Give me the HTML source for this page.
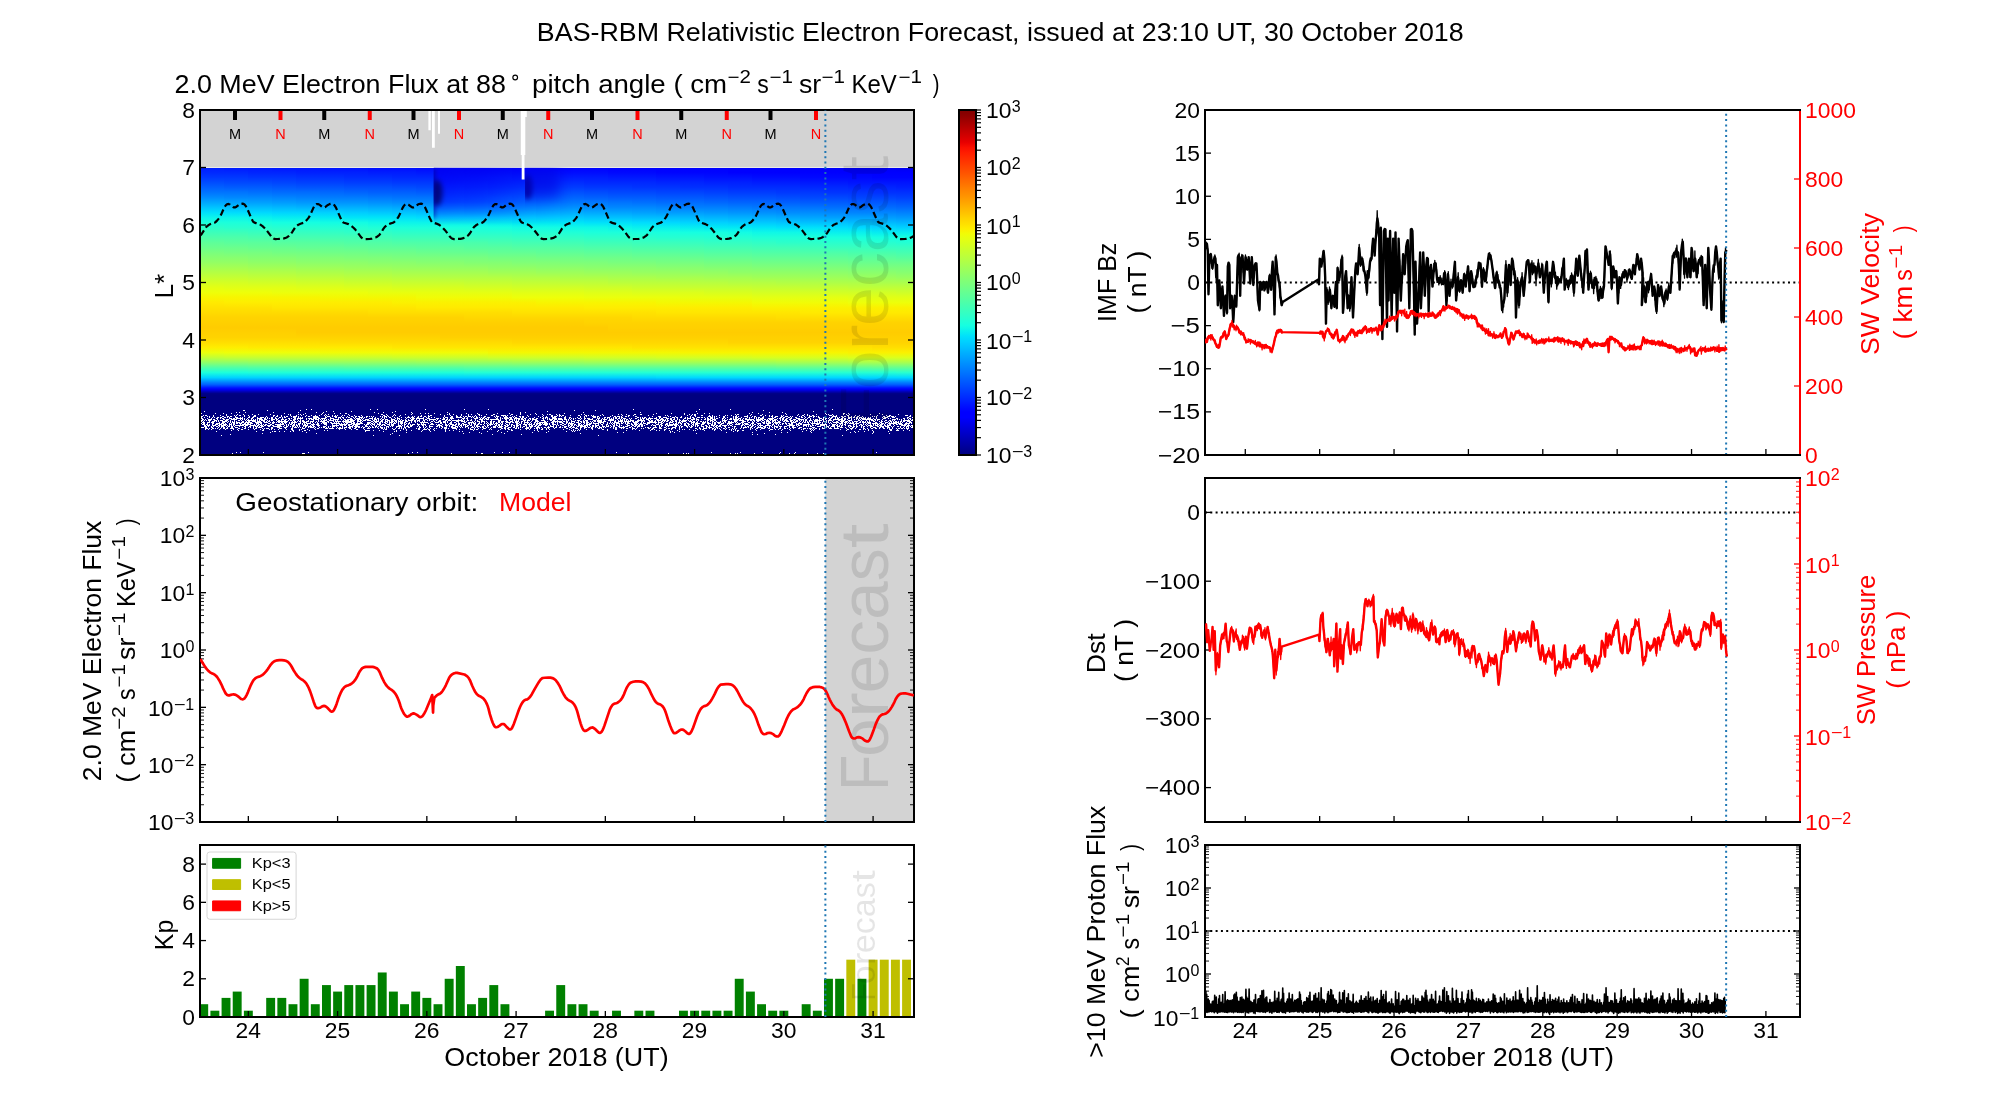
<!DOCTYPE html>
<html><head><meta charset="utf-8"><title>BAS-RBM Relativistic Electron Forecast</title><style>html,body{margin:0;padding:0;background:#fff;overflow:hidden}svg{display:block;will-change:transform}</style></head><body>
<svg width="2000" height="1100" viewBox="0 0 2000 1100" version="1.1">
<defs>
<style type="text/css">*{stroke-linejoin: round; stroke-linecap: butt}</style>
</defs>
<g id="figure_1">
<g id="patch_1">
<path d="M 0 1100 L 2000 1100 L 2000 0 L 0 0 z
" style="fill: #ffffff"/>
</g>
<g id="axes_1">
<g id="patch_2">
<path d="M 200 455 L 914 455 L 914 110 L 200 110 z
" style="fill: #ffffff"/>
</g>
<g id="SPECTRO"><defs><linearGradient id="su0" x1="0" y1="0" x2="0" y2="1"><stop offset="0.000" stop-color="#001cff"/><stop offset="0.023" stop-color="#0028ff"/><stop offset="0.046" stop-color="#0038ff"/><stop offset="0.069" stop-color="#004cff"/><stop offset="0.092" stop-color="#0060ff"/><stop offset="0.115" stop-color="#0074ff"/><stop offset="0.139" stop-color="#008cff"/><stop offset="0.162" stop-color="#00a8ff"/><stop offset="0.185" stop-color="#00c4ff"/><stop offset="0.208" stop-color="#00e0fb"/><stop offset="0.231" stop-color="#0cf4eb"/><stop offset="0.254" stop-color="#1cffdb"/><stop offset="0.277" stop-color="#2cffca"/><stop offset="0.300" stop-color="#3cffba"/><stop offset="0.323" stop-color="#4dffaa"/><stop offset="0.346" stop-color="#5dff9a"/><stop offset="0.370" stop-color="#6aff8d"/><stop offset="0.393" stop-color="#7aff7d"/><stop offset="0.416" stop-color="#87ff70"/><stop offset="0.439" stop-color="#94ff63"/><stop offset="0.462" stop-color="#a4ff53"/><stop offset="0.485" stop-color="#b4ff43"/><stop offset="0.508" stop-color="#c4ff33"/><stop offset="0.531" stop-color="#d4ff23"/><stop offset="0.554" stop-color="#e4ff13"/><stop offset="0.577" stop-color="#eeff09"/><stop offset="0.600" stop-color="#f8f500"/><stop offset="0.624" stop-color="#ffea00"/><stop offset="0.647" stop-color="#ffe200"/><stop offset="0.670" stop-color="#ffdb00"/><stop offset="0.693" stop-color="#ffd300"/><stop offset="0.716" stop-color="#ffd000"/><stop offset="0.739" stop-color="#ffcc00"/><stop offset="0.762" stop-color="#ffd000"/><stop offset="0.785" stop-color="#ffd300"/><stop offset="0.808" stop-color="#ffde00"/><stop offset="0.831" stop-color="#feed00"/><stop offset="0.855" stop-color="#ebff0c"/><stop offset="0.878" stop-color="#c1ff36"/><stop offset="0.901" stop-color="#8dff6a"/><stop offset="0.924" stop-color="#50ffa7"/><stop offset="0.947" stop-color="#1cffdb"/><stop offset="0.970" stop-color="#00d4ff"/><stop offset="0.993" stop-color="#0080ff"/><stop offset="1.000" stop-color="#0068ff"/></linearGradient><linearGradient id="su1" x1="0" y1="0" x2="0" y2="1"><stop offset="0.000" stop-color="#0018ff"/><stop offset="0.023" stop-color="#0028ff"/><stop offset="0.046" stop-color="#0038ff"/><stop offset="0.069" stop-color="#0048ff"/><stop offset="0.092" stop-color="#005cff"/><stop offset="0.115" stop-color="#0074ff"/><stop offset="0.139" stop-color="#0088ff"/><stop offset="0.162" stop-color="#00a4ff"/><stop offset="0.185" stop-color="#00c0ff"/><stop offset="0.208" stop-color="#00dcfe"/><stop offset="0.231" stop-color="#0cf4eb"/><stop offset="0.254" stop-color="#1cffdb"/><stop offset="0.277" stop-color="#29ffce"/><stop offset="0.300" stop-color="#3cffba"/><stop offset="0.323" stop-color="#4dffaa"/><stop offset="0.346" stop-color="#5aff9d"/><stop offset="0.370" stop-color="#6aff8d"/><stop offset="0.393" stop-color="#77ff80"/><stop offset="0.416" stop-color="#87ff70"/><stop offset="0.439" stop-color="#94ff63"/><stop offset="0.462" stop-color="#a4ff53"/><stop offset="0.485" stop-color="#b4ff43"/><stop offset="0.508" stop-color="#c4ff33"/><stop offset="0.531" stop-color="#d4ff23"/><stop offset="0.554" stop-color="#e1ff16"/><stop offset="0.577" stop-color="#eeff09"/><stop offset="0.600" stop-color="#f8f500"/><stop offset="0.624" stop-color="#feed00"/><stop offset="0.647" stop-color="#ffe200"/><stop offset="0.670" stop-color="#ffdb00"/><stop offset="0.693" stop-color="#ffd300"/><stop offset="0.716" stop-color="#ffd000"/><stop offset="0.739" stop-color="#ffcc00"/><stop offset="0.762" stop-color="#ffd000"/><stop offset="0.785" stop-color="#ffd300"/><stop offset="0.808" stop-color="#ffde00"/><stop offset="0.831" stop-color="#feed00"/><stop offset="0.855" stop-color="#eeff09"/><stop offset="0.878" stop-color="#c4ff33"/><stop offset="0.901" stop-color="#8dff6a"/><stop offset="0.924" stop-color="#50ffa7"/><stop offset="0.947" stop-color="#1cffdb"/><stop offset="0.970" stop-color="#00d4ff"/><stop offset="0.993" stop-color="#0080ff"/><stop offset="1.000" stop-color="#0068ff"/></linearGradient><linearGradient id="su2" x1="0" y1="0" x2="0" y2="1"><stop offset="0.000" stop-color="#0018ff"/><stop offset="0.023" stop-color="#0024ff"/><stop offset="0.046" stop-color="#0034ff"/><stop offset="0.069" stop-color="#0048ff"/><stop offset="0.092" stop-color="#005cff"/><stop offset="0.115" stop-color="#0070ff"/><stop offset="0.139" stop-color="#0088ff"/><stop offset="0.162" stop-color="#00a0ff"/><stop offset="0.185" stop-color="#00bcff"/><stop offset="0.208" stop-color="#00d8ff"/><stop offset="0.231" stop-color="#09f0ee"/><stop offset="0.254" stop-color="#19ffde"/><stop offset="0.277" stop-color="#29ffce"/><stop offset="0.300" stop-color="#39ffbe"/><stop offset="0.323" stop-color="#49ffad"/><stop offset="0.346" stop-color="#5aff9d"/><stop offset="0.370" stop-color="#66ff90"/><stop offset="0.393" stop-color="#77ff80"/><stop offset="0.416" stop-color="#83ff73"/><stop offset="0.439" stop-color="#90ff66"/><stop offset="0.462" stop-color="#a0ff56"/><stop offset="0.485" stop-color="#b1ff46"/><stop offset="0.508" stop-color="#c1ff36"/><stop offset="0.531" stop-color="#d1ff26"/><stop offset="0.554" stop-color="#e1ff16"/><stop offset="0.577" stop-color="#eeff09"/><stop offset="0.600" stop-color="#f8f500"/><stop offset="0.624" stop-color="#feed00"/><stop offset="0.647" stop-color="#ffe200"/><stop offset="0.670" stop-color="#ffdb00"/><stop offset="0.693" stop-color="#ffd300"/><stop offset="0.716" stop-color="#ffd000"/><stop offset="0.739" stop-color="#ffcc00"/><stop offset="0.762" stop-color="#ffd000"/><stop offset="0.785" stop-color="#ffd300"/><stop offset="0.808" stop-color="#ffde00"/><stop offset="0.831" stop-color="#ffea00"/><stop offset="0.855" stop-color="#eeff09"/><stop offset="0.878" stop-color="#c4ff33"/><stop offset="0.901" stop-color="#90ff66"/><stop offset="0.924" stop-color="#53ffa4"/><stop offset="0.947" stop-color="#1fffd7"/><stop offset="0.970" stop-color="#00d4ff"/><stop offset="0.993" stop-color="#0080ff"/><stop offset="1.000" stop-color="#0068ff"/></linearGradient><linearGradient id="su3" x1="0" y1="0" x2="0" y2="1"><stop offset="0.000" stop-color="#0014ff"/><stop offset="0.023" stop-color="#0024ff"/><stop offset="0.046" stop-color="#0034ff"/><stop offset="0.069" stop-color="#0044ff"/><stop offset="0.092" stop-color="#0058ff"/><stop offset="0.115" stop-color="#006cff"/><stop offset="0.139" stop-color="#0084ff"/><stop offset="0.162" stop-color="#009cff"/><stop offset="0.185" stop-color="#00b8ff"/><stop offset="0.208" stop-color="#00d4ff"/><stop offset="0.231" stop-color="#06ecf1"/><stop offset="0.254" stop-color="#16ffe1"/><stop offset="0.277" stop-color="#26ffd1"/><stop offset="0.300" stop-color="#36ffc1"/><stop offset="0.323" stop-color="#46ffb1"/><stop offset="0.346" stop-color="#56ffa0"/><stop offset="0.370" stop-color="#66ff90"/><stop offset="0.393" stop-color="#73ff83"/><stop offset="0.416" stop-color="#83ff73"/><stop offset="0.439" stop-color="#90ff66"/><stop offset="0.462" stop-color="#a0ff56"/><stop offset="0.485" stop-color="#b1ff46"/><stop offset="0.508" stop-color="#c1ff36"/><stop offset="0.531" stop-color="#d1ff26"/><stop offset="0.554" stop-color="#e1ff16"/><stop offset="0.577" stop-color="#ebff0c"/><stop offset="0.600" stop-color="#f8f500"/><stop offset="0.624" stop-color="#feed00"/><stop offset="0.647" stop-color="#ffe600"/><stop offset="0.670" stop-color="#ffdb00"/><stop offset="0.693" stop-color="#ffd300"/><stop offset="0.716" stop-color="#ffd000"/><stop offset="0.739" stop-color="#ffcc00"/><stop offset="0.762" stop-color="#ffd000"/><stop offset="0.785" stop-color="#ffd300"/><stop offset="0.808" stop-color="#ffde00"/><stop offset="0.831" stop-color="#ffea00"/><stop offset="0.855" stop-color="#eeff09"/><stop offset="0.878" stop-color="#c4ff33"/><stop offset="0.901" stop-color="#90ff66"/><stop offset="0.924" stop-color="#53ffa4"/><stop offset="0.947" stop-color="#1fffd7"/><stop offset="0.970" stop-color="#00d4ff"/><stop offset="0.993" stop-color="#0080ff"/><stop offset="1.000" stop-color="#0068ff"/></linearGradient><linearGradient id="su4" x1="0" y1="0" x2="0" y2="1"><stop offset="0.000" stop-color="#0014ff"/><stop offset="0.023" stop-color="#0020ff"/><stop offset="0.046" stop-color="#0030ff"/><stop offset="0.069" stop-color="#0040ff"/><stop offset="0.092" stop-color="#0054ff"/><stop offset="0.115" stop-color="#006cff"/><stop offset="0.139" stop-color="#0080ff"/><stop offset="0.162" stop-color="#0098ff"/><stop offset="0.185" stop-color="#00b4ff"/><stop offset="0.208" stop-color="#00d4ff"/><stop offset="0.231" stop-color="#06ecf1"/><stop offset="0.254" stop-color="#16ffe1"/><stop offset="0.277" stop-color="#26ffd1"/><stop offset="0.300" stop-color="#36ffc1"/><stop offset="0.323" stop-color="#46ffb1"/><stop offset="0.346" stop-color="#56ffa0"/><stop offset="0.370" stop-color="#63ff94"/><stop offset="0.393" stop-color="#73ff83"/><stop offset="0.416" stop-color="#80ff77"/><stop offset="0.439" stop-color="#8dff6a"/><stop offset="0.462" stop-color="#9dff5a"/><stop offset="0.485" stop-color="#adff49"/><stop offset="0.508" stop-color="#beff39"/><stop offset="0.531" stop-color="#ceff29"/><stop offset="0.554" stop-color="#deff19"/><stop offset="0.577" stop-color="#ebff0c"/><stop offset="0.600" stop-color="#f8f500"/><stop offset="0.624" stop-color="#feed00"/><stop offset="0.647" stop-color="#ffe600"/><stop offset="0.670" stop-color="#ffdb00"/><stop offset="0.693" stop-color="#ffd300"/><stop offset="0.716" stop-color="#ffd000"/><stop offset="0.739" stop-color="#ffcc00"/><stop offset="0.762" stop-color="#ffcc00"/><stop offset="0.785" stop-color="#ffd300"/><stop offset="0.808" stop-color="#ffde00"/><stop offset="0.831" stop-color="#ffea00"/><stop offset="0.855" stop-color="#eeff09"/><stop offset="0.878" stop-color="#c4ff33"/><stop offset="0.901" stop-color="#90ff66"/><stop offset="0.924" stop-color="#53ffa4"/><stop offset="0.947" stop-color="#1fffd7"/><stop offset="0.970" stop-color="#00d4ff"/><stop offset="0.993" stop-color="#0080ff"/><stop offset="1.000" stop-color="#0068ff"/></linearGradient><linearGradient id="su5" x1="0" y1="0" x2="0" y2="1"><stop offset="0.000" stop-color="#0010ff"/><stop offset="0.023" stop-color="#0020ff"/><stop offset="0.046" stop-color="#0030ff"/><stop offset="0.069" stop-color="#0040ff"/><stop offset="0.092" stop-color="#0054ff"/><stop offset="0.115" stop-color="#0068ff"/><stop offset="0.139" stop-color="#007cff"/><stop offset="0.162" stop-color="#0094ff"/><stop offset="0.185" stop-color="#00b0ff"/><stop offset="0.208" stop-color="#00d0ff"/><stop offset="0.231" stop-color="#02e8f4"/><stop offset="0.254" stop-color="#13fce4"/><stop offset="0.277" stop-color="#23ffd4"/><stop offset="0.300" stop-color="#33ffc4"/><stop offset="0.323" stop-color="#43ffb4"/><stop offset="0.346" stop-color="#53ffa4"/><stop offset="0.370" stop-color="#63ff94"/><stop offset="0.393" stop-color="#70ff87"/><stop offset="0.416" stop-color="#80ff77"/><stop offset="0.439" stop-color="#8dff6a"/><stop offset="0.462" stop-color="#9dff5a"/><stop offset="0.485" stop-color="#adff49"/><stop offset="0.508" stop-color="#beff39"/><stop offset="0.531" stop-color="#ceff29"/><stop offset="0.554" stop-color="#deff19"/><stop offset="0.577" stop-color="#ebff0c"/><stop offset="0.600" stop-color="#f4f802"/><stop offset="0.624" stop-color="#feed00"/><stop offset="0.647" stop-color="#ffe600"/><stop offset="0.670" stop-color="#ffdb00"/><stop offset="0.693" stop-color="#ffd300"/><stop offset="0.716" stop-color="#ffd000"/><stop offset="0.739" stop-color="#ffcc00"/><stop offset="0.762" stop-color="#ffcc00"/><stop offset="0.785" stop-color="#ffd300"/><stop offset="0.808" stop-color="#ffdb00"/><stop offset="0.831" stop-color="#ffea00"/><stop offset="0.855" stop-color="#f1fc06"/><stop offset="0.878" stop-color="#c7ff30"/><stop offset="0.901" stop-color="#94ff63"/><stop offset="0.924" stop-color="#53ffa4"/><stop offset="0.947" stop-color="#1fffd7"/><stop offset="0.970" stop-color="#00d4ff"/><stop offset="0.993" stop-color="#0080ff"/><stop offset="1.000" stop-color="#0068ff"/></linearGradient><linearGradient id="su6" x1="0" y1="0" x2="0" y2="1"><stop offset="0.000" stop-color="#0010ff"/><stop offset="0.023" stop-color="#0020ff"/><stop offset="0.046" stop-color="#002cff"/><stop offset="0.069" stop-color="#003cff"/><stop offset="0.092" stop-color="#0050ff"/><stop offset="0.115" stop-color="#0064ff"/><stop offset="0.139" stop-color="#007cff"/><stop offset="0.162" stop-color="#0094ff"/><stop offset="0.185" stop-color="#00b0ff"/><stop offset="0.208" stop-color="#00ccff"/><stop offset="0.231" stop-color="#00e4f8"/><stop offset="0.254" stop-color="#13fce4"/><stop offset="0.277" stop-color="#23ffd4"/><stop offset="0.300" stop-color="#30ffc7"/><stop offset="0.323" stop-color="#43ffb4"/><stop offset="0.346" stop-color="#50ffa7"/><stop offset="0.370" stop-color="#60ff97"/><stop offset="0.393" stop-color="#70ff87"/><stop offset="0.416" stop-color="#7dff7a"/><stop offset="0.439" stop-color="#8dff6a"/><stop offset="0.462" stop-color="#9aff5d"/><stop offset="0.485" stop-color="#aaff4d"/><stop offset="0.508" stop-color="#baff3c"/><stop offset="0.531" stop-color="#caff2c"/><stop offset="0.554" stop-color="#dbff1c"/><stop offset="0.577" stop-color="#ebff0c"/><stop offset="0.600" stop-color="#f4f802"/><stop offset="0.624" stop-color="#feed00"/><stop offset="0.647" stop-color="#ffe600"/><stop offset="0.670" stop-color="#ffdb00"/><stop offset="0.693" stop-color="#ffd300"/><stop offset="0.716" stop-color="#ffd000"/><stop offset="0.739" stop-color="#ffcc00"/><stop offset="0.762" stop-color="#ffcc00"/><stop offset="0.785" stop-color="#ffd300"/><stop offset="0.808" stop-color="#ffdb00"/><stop offset="0.831" stop-color="#ffea00"/><stop offset="0.855" stop-color="#f1fc06"/><stop offset="0.878" stop-color="#c7ff30"/><stop offset="0.901" stop-color="#94ff63"/><stop offset="0.924" stop-color="#56ffa0"/><stop offset="0.947" stop-color="#1fffd7"/><stop offset="0.970" stop-color="#00d4ff"/><stop offset="0.993" stop-color="#0080ff"/><stop offset="1.000" stop-color="#0068ff"/></linearGradient><linearGradient id="su7" x1="0" y1="0" x2="0" y2="1"><stop offset="0.000" stop-color="#000cff"/><stop offset="0.023" stop-color="#001cff"/><stop offset="0.046" stop-color="#002cff"/><stop offset="0.069" stop-color="#003cff"/><stop offset="0.092" stop-color="#0050ff"/><stop offset="0.115" stop-color="#0060ff"/><stop offset="0.139" stop-color="#0078ff"/><stop offset="0.162" stop-color="#0090ff"/><stop offset="0.185" stop-color="#00acff"/><stop offset="0.208" stop-color="#00c8ff"/><stop offset="0.231" stop-color="#00e4f8"/><stop offset="0.254" stop-color="#0ff8e7"/><stop offset="0.277" stop-color="#1fffd7"/><stop offset="0.300" stop-color="#30ffc7"/><stop offset="0.323" stop-color="#40ffb7"/><stop offset="0.346" stop-color="#50ffa7"/><stop offset="0.370" stop-color="#5dff9a"/><stop offset="0.393" stop-color="#6dff8a"/><stop offset="0.416" stop-color="#7dff7a"/><stop offset="0.439" stop-color="#8aff6d"/><stop offset="0.462" stop-color="#9aff5d"/><stop offset="0.485" stop-color="#aaff4d"/><stop offset="0.508" stop-color="#baff3c"/><stop offset="0.531" stop-color="#caff2c"/><stop offset="0.554" stop-color="#dbff1c"/><stop offset="0.577" stop-color="#e7ff0f"/><stop offset="0.600" stop-color="#f4f802"/><stop offset="0.624" stop-color="#feed00"/><stop offset="0.647" stop-color="#ffe600"/><stop offset="0.670" stop-color="#ffde00"/><stop offset="0.693" stop-color="#ffd300"/><stop offset="0.716" stop-color="#ffd000"/><stop offset="0.739" stop-color="#ffcc00"/><stop offset="0.762" stop-color="#ffcc00"/><stop offset="0.785" stop-color="#ffd300"/><stop offset="0.808" stop-color="#ffdb00"/><stop offset="0.831" stop-color="#ffea00"/><stop offset="0.855" stop-color="#f1fc06"/><stop offset="0.878" stop-color="#c7ff30"/><stop offset="0.901" stop-color="#94ff63"/><stop offset="0.924" stop-color="#56ffa0"/><stop offset="0.947" stop-color="#1fffd7"/><stop offset="0.970" stop-color="#00d4ff"/><stop offset="0.993" stop-color="#0080ff"/><stop offset="1.000" stop-color="#0068ff"/></linearGradient><linearGradient id="su8" x1="0" y1="0" x2="0" y2="1"><stop offset="0.000" stop-color="#000cff"/><stop offset="0.023" stop-color="#001cff"/><stop offset="0.046" stop-color="#0028ff"/><stop offset="0.069" stop-color="#0038ff"/><stop offset="0.092" stop-color="#004cff"/><stop offset="0.115" stop-color="#0060ff"/><stop offset="0.139" stop-color="#0074ff"/><stop offset="0.162" stop-color="#008cff"/><stop offset="0.185" stop-color="#00a8ff"/><stop offset="0.208" stop-color="#00c4ff"/><stop offset="0.231" stop-color="#00e0fb"/><stop offset="0.254" stop-color="#0cf4eb"/><stop offset="0.277" stop-color="#1cffdb"/><stop offset="0.300" stop-color="#2cffca"/><stop offset="0.323" stop-color="#3cffba"/><stop offset="0.346" stop-color="#4dffaa"/><stop offset="0.370" stop-color="#5dff9a"/><stop offset="0.393" stop-color="#6dff8a"/><stop offset="0.416" stop-color="#7aff7d"/><stop offset="0.439" stop-color="#8aff6d"/><stop offset="0.462" stop-color="#97ff60"/><stop offset="0.485" stop-color="#a7ff50"/><stop offset="0.508" stop-color="#b7ff40"/><stop offset="0.531" stop-color="#c7ff30"/><stop offset="0.554" stop-color="#d7ff1f"/><stop offset="0.577" stop-color="#e7ff0f"/><stop offset="0.600" stop-color="#f4f802"/><stop offset="0.624" stop-color="#fbf100"/><stop offset="0.647" stop-color="#ffe600"/><stop offset="0.670" stop-color="#ffde00"/><stop offset="0.693" stop-color="#ffd300"/><stop offset="0.716" stop-color="#ffd000"/><stop offset="0.739" stop-color="#ffcc00"/><stop offset="0.762" stop-color="#ffcc00"/><stop offset="0.785" stop-color="#ffd300"/><stop offset="0.808" stop-color="#ffdb00"/><stop offset="0.831" stop-color="#ffe600"/><stop offset="0.855" stop-color="#f1fc06"/><stop offset="0.878" stop-color="#caff2c"/><stop offset="0.901" stop-color="#94ff63"/><stop offset="0.924" stop-color="#56ffa0"/><stop offset="0.947" stop-color="#1fffd7"/><stop offset="0.970" stop-color="#00d4ff"/><stop offset="0.993" stop-color="#0080ff"/><stop offset="1.000" stop-color="#0068ff"/></linearGradient><linearGradient id="su9" x1="0" y1="0" x2="0" y2="1"><stop offset="0.000" stop-color="#0008ff"/><stop offset="0.023" stop-color="#0018ff"/><stop offset="0.046" stop-color="#0028ff"/><stop offset="0.069" stop-color="#0038ff"/><stop offset="0.092" stop-color="#0048ff"/><stop offset="0.115" stop-color="#005cff"/><stop offset="0.139" stop-color="#0074ff"/><stop offset="0.162" stop-color="#0088ff"/><stop offset="0.185" stop-color="#00a4ff"/><stop offset="0.208" stop-color="#00c0ff"/><stop offset="0.231" stop-color="#00dcfe"/><stop offset="0.254" stop-color="#0cf4eb"/><stop offset="0.277" stop-color="#1cffdb"/><stop offset="0.300" stop-color="#2cffca"/><stop offset="0.323" stop-color="#3cffba"/><stop offset="0.346" stop-color="#4dffaa"/><stop offset="0.370" stop-color="#5aff9d"/><stop offset="0.393" stop-color="#6aff8d"/><stop offset="0.416" stop-color="#7aff7d"/><stop offset="0.439" stop-color="#87ff70"/><stop offset="0.462" stop-color="#97ff60"/><stop offset="0.485" stop-color="#a7ff50"/><stop offset="0.508" stop-color="#b7ff40"/><stop offset="0.531" stop-color="#c7ff30"/><stop offset="0.554" stop-color="#d7ff1f"/><stop offset="0.577" stop-color="#e7ff0f"/><stop offset="0.600" stop-color="#f1fc06"/><stop offset="0.624" stop-color="#fbf100"/><stop offset="0.647" stop-color="#ffea00"/><stop offset="0.670" stop-color="#ffde00"/><stop offset="0.693" stop-color="#ffd300"/><stop offset="0.716" stop-color="#ffd000"/><stop offset="0.739" stop-color="#ffcc00"/><stop offset="0.762" stop-color="#ffcc00"/><stop offset="0.785" stop-color="#ffd300"/><stop offset="0.808" stop-color="#ffdb00"/><stop offset="0.831" stop-color="#ffe600"/><stop offset="0.855" stop-color="#f1fc06"/><stop offset="0.878" stop-color="#caff2c"/><stop offset="0.901" stop-color="#97ff60"/><stop offset="0.924" stop-color="#56ffa0"/><stop offset="0.947" stop-color="#1fffd7"/><stop offset="0.970" stop-color="#00d4ff"/><stop offset="0.993" stop-color="#0080ff"/><stop offset="1.000" stop-color="#0068ff"/></linearGradient><linearGradient id="su10" x1="0" y1="0" x2="0" y2="1"><stop offset="0.000" stop-color="#0008ff"/><stop offset="0.023" stop-color="#0018ff"/><stop offset="0.046" stop-color="#0024ff"/><stop offset="0.069" stop-color="#0034ff"/><stop offset="0.092" stop-color="#0048ff"/><stop offset="0.115" stop-color="#005cff"/><stop offset="0.139" stop-color="#0070ff"/><stop offset="0.162" stop-color="#0088ff"/><stop offset="0.185" stop-color="#00a0ff"/><stop offset="0.208" stop-color="#00bcff"/><stop offset="0.231" stop-color="#00d8ff"/><stop offset="0.254" stop-color="#09f0ee"/><stop offset="0.277" stop-color="#19ffde"/><stop offset="0.300" stop-color="#29ffce"/><stop offset="0.323" stop-color="#39ffbe"/><stop offset="0.346" stop-color="#49ffad"/><stop offset="0.370" stop-color="#5aff9d"/><stop offset="0.393" stop-color="#66ff90"/><stop offset="0.416" stop-color="#77ff80"/><stop offset="0.439" stop-color="#87ff70"/><stop offset="0.462" stop-color="#94ff63"/><stop offset="0.485" stop-color="#a4ff53"/><stop offset="0.508" stop-color="#b4ff43"/><stop offset="0.531" stop-color="#c7ff30"/><stop offset="0.554" stop-color="#d7ff1f"/><stop offset="0.577" stop-color="#e4ff13"/><stop offset="0.600" stop-color="#f1fc06"/><stop offset="0.624" stop-color="#fbf100"/><stop offset="0.647" stop-color="#ffea00"/><stop offset="0.670" stop-color="#ffde00"/><stop offset="0.693" stop-color="#ffd300"/><stop offset="0.716" stop-color="#ffd000"/><stop offset="0.739" stop-color="#ffcc00"/><stop offset="0.762" stop-color="#ffcc00"/><stop offset="0.785" stop-color="#ffd000"/><stop offset="0.808" stop-color="#ffdb00"/><stop offset="0.831" stop-color="#ffe600"/><stop offset="0.855" stop-color="#f1fc06"/><stop offset="0.878" stop-color="#caff2c"/><stop offset="0.901" stop-color="#97ff60"/><stop offset="0.924" stop-color="#56ffa0"/><stop offset="0.947" stop-color="#1fffd7"/><stop offset="0.970" stop-color="#00d4ff"/><stop offset="0.993" stop-color="#0080ff"/><stop offset="1.000" stop-color="#0068ff"/></linearGradient><linearGradient id="su11" x1="0" y1="0" x2="0" y2="1"><stop offset="0.000" stop-color="#0004ff"/><stop offset="0.023" stop-color="#0014ff"/><stop offset="0.046" stop-color="#0024ff"/><stop offset="0.069" stop-color="#0034ff"/><stop offset="0.092" stop-color="#0044ff"/><stop offset="0.115" stop-color="#0058ff"/><stop offset="0.139" stop-color="#006cff"/><stop offset="0.162" stop-color="#0084ff"/><stop offset="0.185" stop-color="#009cff"/><stop offset="0.208" stop-color="#00b8ff"/><stop offset="0.231" stop-color="#00d8ff"/><stop offset="0.254" stop-color="#09f0ee"/><stop offset="0.277" stop-color="#19ffde"/><stop offset="0.300" stop-color="#26ffd1"/><stop offset="0.323" stop-color="#36ffc1"/><stop offset="0.346" stop-color="#49ffad"/><stop offset="0.370" stop-color="#56ffa0"/><stop offset="0.393" stop-color="#66ff90"/><stop offset="0.416" stop-color="#77ff80"/><stop offset="0.439" stop-color="#83ff73"/><stop offset="0.462" stop-color="#94ff63"/><stop offset="0.485" stop-color="#a4ff53"/><stop offset="0.508" stop-color="#b4ff43"/><stop offset="0.531" stop-color="#c4ff33"/><stop offset="0.554" stop-color="#d4ff23"/><stop offset="0.577" stop-color="#e4ff13"/><stop offset="0.600" stop-color="#f1fc06"/><stop offset="0.624" stop-color="#fbf100"/><stop offset="0.647" stop-color="#ffea00"/><stop offset="0.670" stop-color="#ffde00"/><stop offset="0.693" stop-color="#ffd700"/><stop offset="0.716" stop-color="#ffd000"/><stop offset="0.739" stop-color="#ffcc00"/><stop offset="0.762" stop-color="#ffcc00"/><stop offset="0.785" stop-color="#ffd000"/><stop offset="0.808" stop-color="#ffdb00"/><stop offset="0.831" stop-color="#ffe600"/><stop offset="0.855" stop-color="#f1fc06"/><stop offset="0.878" stop-color="#caff2c"/><stop offset="0.901" stop-color="#97ff60"/><stop offset="0.924" stop-color="#5aff9d"/><stop offset="0.947" stop-color="#23ffd4"/><stop offset="0.970" stop-color="#00d4ff"/><stop offset="0.993" stop-color="#0080ff"/><stop offset="1.000" stop-color="#0068ff"/></linearGradient><linearGradient id="su12" x1="0" y1="0" x2="0" y2="1"><stop offset="0.000" stop-color="#0004ff"/><stop offset="0.023" stop-color="#0014ff"/><stop offset="0.046" stop-color="#0024ff"/><stop offset="0.069" stop-color="#0030ff"/><stop offset="0.092" stop-color="#0040ff"/><stop offset="0.115" stop-color="#0054ff"/><stop offset="0.139" stop-color="#006cff"/><stop offset="0.162" stop-color="#0080ff"/><stop offset="0.185" stop-color="#0098ff"/><stop offset="0.208" stop-color="#00b4ff"/><stop offset="0.231" stop-color="#00d4ff"/><stop offset="0.254" stop-color="#06ecf1"/><stop offset="0.277" stop-color="#16ffe1"/><stop offset="0.300" stop-color="#26ffd1"/><stop offset="0.323" stop-color="#36ffc1"/><stop offset="0.346" stop-color="#46ffb1"/><stop offset="0.370" stop-color="#56ffa0"/><stop offset="0.393" stop-color="#63ff94"/><stop offset="0.416" stop-color="#73ff83"/><stop offset="0.439" stop-color="#83ff73"/><stop offset="0.462" stop-color="#90ff66"/><stop offset="0.485" stop-color="#a0ff56"/><stop offset="0.508" stop-color="#b4ff43"/><stop offset="0.531" stop-color="#c4ff33"/><stop offset="0.554" stop-color="#d4ff23"/><stop offset="0.577" stop-color="#e4ff13"/><stop offset="0.600" stop-color="#f1fc06"/><stop offset="0.624" stop-color="#fbf100"/><stop offset="0.647" stop-color="#ffea00"/><stop offset="0.670" stop-color="#ffde00"/><stop offset="0.693" stop-color="#ffd700"/><stop offset="0.716" stop-color="#ffd000"/><stop offset="0.739" stop-color="#ffcc00"/><stop offset="0.762" stop-color="#ffcc00"/><stop offset="0.785" stop-color="#ffd000"/><stop offset="0.808" stop-color="#ffdb00"/><stop offset="0.831" stop-color="#ffe600"/><stop offset="0.855" stop-color="#f4f802"/><stop offset="0.878" stop-color="#ceff29"/><stop offset="0.901" stop-color="#97ff60"/><stop offset="0.924" stop-color="#5aff9d"/><stop offset="0.947" stop-color="#23ffd4"/><stop offset="0.970" stop-color="#00d4ff"/><stop offset="0.993" stop-color="#0080ff"/><stop offset="1.000" stop-color="#0068ff"/></linearGradient><linearGradient id="su13" x1="0" y1="0" x2="0" y2="1"><stop offset="0.000" stop-color="#0000ff"/><stop offset="0.023" stop-color="#0010ff"/><stop offset="0.046" stop-color="#0020ff"/><stop offset="0.069" stop-color="#0030ff"/><stop offset="0.092" stop-color="#0040ff"/><stop offset="0.115" stop-color="#0054ff"/><stop offset="0.139" stop-color="#0068ff"/><stop offset="0.162" stop-color="#0080ff"/><stop offset="0.185" stop-color="#0098ff"/><stop offset="0.208" stop-color="#00b4ff"/><stop offset="0.231" stop-color="#00d0ff"/><stop offset="0.254" stop-color="#02e8f4"/><stop offset="0.277" stop-color="#13fce4"/><stop offset="0.300" stop-color="#23ffd4"/><stop offset="0.323" stop-color="#33ffc4"/><stop offset="0.346" stop-color="#43ffb4"/><stop offset="0.370" stop-color="#53ffa4"/><stop offset="0.393" stop-color="#63ff94"/><stop offset="0.416" stop-color="#73ff83"/><stop offset="0.439" stop-color="#80ff77"/><stop offset="0.462" stop-color="#90ff66"/><stop offset="0.485" stop-color="#a0ff56"/><stop offset="0.508" stop-color="#b1ff46"/><stop offset="0.531" stop-color="#c1ff36"/><stop offset="0.554" stop-color="#d1ff26"/><stop offset="0.577" stop-color="#e1ff16"/><stop offset="0.600" stop-color="#eeff09"/><stop offset="0.624" stop-color="#fbf100"/><stop offset="0.647" stop-color="#ffea00"/><stop offset="0.670" stop-color="#ffe200"/><stop offset="0.693" stop-color="#ffd700"/><stop offset="0.716" stop-color="#ffd000"/><stop offset="0.739" stop-color="#ffcc00"/><stop offset="0.762" stop-color="#ffcc00"/><stop offset="0.785" stop-color="#ffd000"/><stop offset="0.808" stop-color="#ffd700"/><stop offset="0.831" stop-color="#ffe600"/><stop offset="0.855" stop-color="#f4f802"/><stop offset="0.878" stop-color="#ceff29"/><stop offset="0.901" stop-color="#9aff5d"/><stop offset="0.924" stop-color="#5aff9d"/><stop offset="0.947" stop-color="#23ffd4"/><stop offset="0.970" stop-color="#00d4ff"/><stop offset="0.993" stop-color="#0080ff"/><stop offset="1.000" stop-color="#0068ff"/></linearGradient><linearGradient id="su14" x1="0" y1="0" x2="0" y2="1"><stop offset="0.000" stop-color="#0000ff"/><stop offset="0.023" stop-color="#0010ff"/><stop offset="0.046" stop-color="#0020ff"/><stop offset="0.069" stop-color="#002cff"/><stop offset="0.092" stop-color="#003cff"/><stop offset="0.115" stop-color="#0050ff"/><stop offset="0.139" stop-color="#0064ff"/><stop offset="0.162" stop-color="#007cff"/><stop offset="0.185" stop-color="#0094ff"/><stop offset="0.208" stop-color="#00b0ff"/><stop offset="0.231" stop-color="#00ccff"/><stop offset="0.254" stop-color="#02e8f4"/><stop offset="0.277" stop-color="#13fce4"/><stop offset="0.300" stop-color="#23ffd4"/><stop offset="0.323" stop-color="#33ffc4"/><stop offset="0.346" stop-color="#43ffb4"/><stop offset="0.370" stop-color="#53ffa4"/><stop offset="0.393" stop-color="#60ff97"/><stop offset="0.416" stop-color="#70ff87"/><stop offset="0.439" stop-color="#80ff77"/><stop offset="0.462" stop-color="#8dff6a"/><stop offset="0.485" stop-color="#9dff5a"/><stop offset="0.508" stop-color="#b1ff46"/><stop offset="0.531" stop-color="#c1ff36"/><stop offset="0.554" stop-color="#d1ff26"/><stop offset="0.577" stop-color="#e1ff16"/><stop offset="0.600" stop-color="#eeff09"/><stop offset="0.624" stop-color="#f8f500"/><stop offset="0.647" stop-color="#ffea00"/><stop offset="0.670" stop-color="#ffe200"/><stop offset="0.693" stop-color="#ffd700"/><stop offset="0.716" stop-color="#ffd000"/><stop offset="0.739" stop-color="#ffcc00"/><stop offset="0.762" stop-color="#ffcc00"/><stop offset="0.785" stop-color="#ffd000"/><stop offset="0.808" stop-color="#ffd700"/><stop offset="0.831" stop-color="#ffe600"/><stop offset="0.855" stop-color="#f4f802"/><stop offset="0.878" stop-color="#ceff29"/><stop offset="0.901" stop-color="#9aff5d"/><stop offset="0.924" stop-color="#5aff9d"/><stop offset="0.947" stop-color="#23ffd4"/><stop offset="0.970" stop-color="#00d4ff"/><stop offset="0.993" stop-color="#0080ff"/><stop offset="1.000" stop-color="#0068ff"/></linearGradient><linearGradient id="su15" x1="0" y1="0" x2="0" y2="1"><stop offset="0.000" stop-color="#0000ff"/><stop offset="0.023" stop-color="#000cff"/><stop offset="0.046" stop-color="#001cff"/><stop offset="0.069" stop-color="#002cff"/><stop offset="0.092" stop-color="#003cff"/><stop offset="0.115" stop-color="#0050ff"/><stop offset="0.139" stop-color="#0064ff"/><stop offset="0.162" stop-color="#0078ff"/><stop offset="0.185" stop-color="#0090ff"/><stop offset="0.208" stop-color="#00acff"/><stop offset="0.231" stop-color="#00c8ff"/><stop offset="0.254" stop-color="#00e4f8"/><stop offset="0.277" stop-color="#0ff8e7"/><stop offset="0.300" stop-color="#1fffd7"/><stop offset="0.323" stop-color="#30ffc7"/><stop offset="0.346" stop-color="#40ffb7"/><stop offset="0.370" stop-color="#50ffa7"/><stop offset="0.393" stop-color="#60ff97"/><stop offset="0.416" stop-color="#70ff87"/><stop offset="0.439" stop-color="#7dff7a"/><stop offset="0.462" stop-color="#8dff6a"/><stop offset="0.485" stop-color="#9dff5a"/><stop offset="0.508" stop-color="#adff49"/><stop offset="0.531" stop-color="#beff39"/><stop offset="0.554" stop-color="#d1ff26"/><stop offset="0.577" stop-color="#e1ff16"/><stop offset="0.600" stop-color="#eeff09"/><stop offset="0.624" stop-color="#f8f500"/><stop offset="0.647" stop-color="#ffea00"/><stop offset="0.670" stop-color="#ffe200"/><stop offset="0.693" stop-color="#ffd700"/><stop offset="0.716" stop-color="#ffd000"/><stop offset="0.739" stop-color="#ffcc00"/><stop offset="0.762" stop-color="#ffcc00"/><stop offset="0.785" stop-color="#ffd000"/><stop offset="0.808" stop-color="#ffd700"/><stop offset="0.831" stop-color="#ffe600"/><stop offset="0.855" stop-color="#f4f802"/><stop offset="0.878" stop-color="#ceff29"/><stop offset="0.901" stop-color="#9aff5d"/><stop offset="0.924" stop-color="#5dff9a"/><stop offset="0.947" stop-color="#23ffd4"/><stop offset="0.970" stop-color="#00d4ff"/><stop offset="0.993" stop-color="#0080ff"/><stop offset="1.000" stop-color="#0068ff"/></linearGradient><linearGradient id="su16" x1="0" y1="0" x2="0" y2="1"><stop offset="0.000" stop-color="#0000ff"/><stop offset="0.023" stop-color="#000cff"/><stop offset="0.046" stop-color="#001cff"/><stop offset="0.069" stop-color="#0028ff"/><stop offset="0.092" stop-color="#0038ff"/><stop offset="0.115" stop-color="#004cff"/><stop offset="0.139" stop-color="#0060ff"/><stop offset="0.162" stop-color="#0078ff"/><stop offset="0.185" stop-color="#008cff"/><stop offset="0.208" stop-color="#00a8ff"/><stop offset="0.231" stop-color="#00c4ff"/><stop offset="0.254" stop-color="#00e0fb"/><stop offset="0.277" stop-color="#0ff8e7"/><stop offset="0.300" stop-color="#1cffdb"/><stop offset="0.323" stop-color="#2cffca"/><stop offset="0.346" stop-color="#3cffba"/><stop offset="0.370" stop-color="#4dffaa"/><stop offset="0.393" stop-color="#5dff9a"/><stop offset="0.416" stop-color="#6dff8a"/><stop offset="0.439" stop-color="#7dff7a"/><stop offset="0.462" stop-color="#8aff6d"/><stop offset="0.485" stop-color="#9aff5d"/><stop offset="0.508" stop-color="#adff49"/><stop offset="0.531" stop-color="#beff39"/><stop offset="0.554" stop-color="#ceff29"/><stop offset="0.577" stop-color="#deff19"/><stop offset="0.600" stop-color="#ebff0c"/><stop offset="0.624" stop-color="#f8f500"/><stop offset="0.647" stop-color="#feed00"/><stop offset="0.670" stop-color="#ffe200"/><stop offset="0.693" stop-color="#ffd700"/><stop offset="0.716" stop-color="#ffd300"/><stop offset="0.739" stop-color="#ffcc00"/><stop offset="0.762" stop-color="#ffcc00"/><stop offset="0.785" stop-color="#ffd000"/><stop offset="0.808" stop-color="#ffd700"/><stop offset="0.831" stop-color="#ffe600"/><stop offset="0.855" stop-color="#f4f802"/><stop offset="0.878" stop-color="#d1ff26"/><stop offset="0.901" stop-color="#9dff5a"/><stop offset="0.924" stop-color="#5dff9a"/><stop offset="0.947" stop-color="#23ffd4"/><stop offset="0.970" stop-color="#00d4ff"/><stop offset="0.993" stop-color="#0080ff"/><stop offset="1.000" stop-color="#0068ff"/></linearGradient><linearGradient id="su17" x1="0" y1="0" x2="0" y2="1"><stop offset="0.000" stop-color="#0000ff"/><stop offset="0.023" stop-color="#0008ff"/><stop offset="0.046" stop-color="#0018ff"/><stop offset="0.069" stop-color="#0028ff"/><stop offset="0.092" stop-color="#0038ff"/><stop offset="0.115" stop-color="#0048ff"/><stop offset="0.139" stop-color="#005cff"/><stop offset="0.162" stop-color="#0074ff"/><stop offset="0.185" stop-color="#0088ff"/><stop offset="0.208" stop-color="#00a4ff"/><stop offset="0.231" stop-color="#00c0ff"/><stop offset="0.254" stop-color="#00e0fb"/><stop offset="0.277" stop-color="#0cf4eb"/><stop offset="0.300" stop-color="#1cffdb"/><stop offset="0.323" stop-color="#2cffca"/><stop offset="0.346" stop-color="#3cffba"/><stop offset="0.370" stop-color="#4dffaa"/><stop offset="0.393" stop-color="#5dff9a"/><stop offset="0.416" stop-color="#6dff8a"/><stop offset="0.439" stop-color="#7aff7d"/><stop offset="0.462" stop-color="#8aff6d"/><stop offset="0.485" stop-color="#9aff5d"/><stop offset="0.508" stop-color="#aaff4d"/><stop offset="0.531" stop-color="#baff3c"/><stop offset="0.554" stop-color="#ceff29"/><stop offset="0.577" stop-color="#deff19"/><stop offset="0.600" stop-color="#ebff0c"/><stop offset="0.624" stop-color="#f8f500"/><stop offset="0.647" stop-color="#feed00"/><stop offset="0.670" stop-color="#ffe200"/><stop offset="0.693" stop-color="#ffd700"/><stop offset="0.716" stop-color="#ffd300"/><stop offset="0.739" stop-color="#ffd000"/><stop offset="0.762" stop-color="#ffcc00"/><stop offset="0.785" stop-color="#ffd000"/><stop offset="0.808" stop-color="#ffd700"/><stop offset="0.831" stop-color="#ffe600"/><stop offset="0.855" stop-color="#f4f802"/><stop offset="0.878" stop-color="#d1ff26"/><stop offset="0.901" stop-color="#9dff5a"/><stop offset="0.924" stop-color="#5dff9a"/><stop offset="0.947" stop-color="#23ffd4"/><stop offset="0.970" stop-color="#00d4ff"/><stop offset="0.993" stop-color="#0080ff"/><stop offset="1.000" stop-color="#0068ff"/></linearGradient><linearGradient id="su18" x1="0" y1="0" x2="0" y2="1"><stop offset="0.000" stop-color="#0000ff"/><stop offset="0.023" stop-color="#0008ff"/><stop offset="0.046" stop-color="#0018ff"/><stop offset="0.069" stop-color="#0028ff"/><stop offset="0.092" stop-color="#0034ff"/><stop offset="0.115" stop-color="#0048ff"/><stop offset="0.139" stop-color="#005cff"/><stop offset="0.162" stop-color="#0070ff"/><stop offset="0.185" stop-color="#0088ff"/><stop offset="0.208" stop-color="#00a0ff"/><stop offset="0.231" stop-color="#00bcff"/><stop offset="0.254" stop-color="#00dcfe"/><stop offset="0.277" stop-color="#09f0ee"/><stop offset="0.300" stop-color="#19ffde"/><stop offset="0.323" stop-color="#29ffce"/><stop offset="0.346" stop-color="#39ffbe"/><stop offset="0.370" stop-color="#49ffad"/><stop offset="0.393" stop-color="#5aff9d"/><stop offset="0.416" stop-color="#6aff8d"/><stop offset="0.439" stop-color="#7aff7d"/><stop offset="0.462" stop-color="#8aff6d"/><stop offset="0.485" stop-color="#97ff60"/><stop offset="0.508" stop-color="#aaff4d"/><stop offset="0.531" stop-color="#baff3c"/><stop offset="0.554" stop-color="#caff2c"/><stop offset="0.577" stop-color="#dbff1c"/><stop offset="0.600" stop-color="#ebff0c"/><stop offset="0.624" stop-color="#f8f500"/><stop offset="0.647" stop-color="#feed00"/><stop offset="0.670" stop-color="#ffe200"/><stop offset="0.693" stop-color="#ffdb00"/><stop offset="0.716" stop-color="#ffd300"/><stop offset="0.739" stop-color="#ffd000"/><stop offset="0.762" stop-color="#ffcc00"/><stop offset="0.785" stop-color="#ffd000"/><stop offset="0.808" stop-color="#ffd700"/><stop offset="0.831" stop-color="#ffe200"/><stop offset="0.855" stop-color="#f4f802"/><stop offset="0.878" stop-color="#d1ff26"/><stop offset="0.901" stop-color="#9dff5a"/><stop offset="0.924" stop-color="#5dff9a"/><stop offset="0.947" stop-color="#23ffd4"/><stop offset="0.970" stop-color="#00d4ff"/><stop offset="0.993" stop-color="#0080ff"/><stop offset="1.000" stop-color="#0068ff"/></linearGradient><linearGradient id="su19" x1="0" y1="0" x2="0" y2="1"><stop offset="0.000" stop-color="#0000ff"/><stop offset="0.023" stop-color="#0004ff"/><stop offset="0.046" stop-color="#0014ff"/><stop offset="0.069" stop-color="#0024ff"/><stop offset="0.092" stop-color="#0034ff"/><stop offset="0.115" stop-color="#0044ff"/><stop offset="0.139" stop-color="#0058ff"/><stop offset="0.162" stop-color="#006cff"/><stop offset="0.185" stop-color="#0084ff"/><stop offset="0.208" stop-color="#009cff"/><stop offset="0.231" stop-color="#00bcff"/><stop offset="0.254" stop-color="#00d8ff"/><stop offset="0.277" stop-color="#09f0ee"/><stop offset="0.300" stop-color="#19ffde"/><stop offset="0.323" stop-color="#26ffd1"/><stop offset="0.346" stop-color="#39ffbe"/><stop offset="0.370" stop-color="#49ffad"/><stop offset="0.393" stop-color="#5aff9d"/><stop offset="0.416" stop-color="#6aff8d"/><stop offset="0.439" stop-color="#77ff80"/><stop offset="0.462" stop-color="#87ff70"/><stop offset="0.485" stop-color="#97ff60"/><stop offset="0.508" stop-color="#a7ff50"/><stop offset="0.531" stop-color="#baff3c"/><stop offset="0.554" stop-color="#caff2c"/><stop offset="0.577" stop-color="#dbff1c"/><stop offset="0.600" stop-color="#ebff0c"/><stop offset="0.624" stop-color="#f4f802"/><stop offset="0.647" stop-color="#feed00"/><stop offset="0.670" stop-color="#ffe600"/><stop offset="0.693" stop-color="#ffdb00"/><stop offset="0.716" stop-color="#ffd300"/><stop offset="0.739" stop-color="#ffd000"/><stop offset="0.762" stop-color="#ffcc00"/><stop offset="0.785" stop-color="#ffd000"/><stop offset="0.808" stop-color="#ffd700"/><stop offset="0.831" stop-color="#ffe200"/><stop offset="0.855" stop-color="#f4f802"/><stop offset="0.878" stop-color="#d4ff23"/><stop offset="0.901" stop-color="#9dff5a"/><stop offset="0.924" stop-color="#5dff9a"/><stop offset="0.947" stop-color="#23ffd4"/><stop offset="0.970" stop-color="#00d8ff"/><stop offset="0.993" stop-color="#0080ff"/><stop offset="1.000" stop-color="#0068ff"/></linearGradient><linearGradient id="su20" x1="0" y1="0" x2="0" y2="1"><stop offset="0.000" stop-color="#0000ff"/><stop offset="0.023" stop-color="#0004ff"/><stop offset="0.046" stop-color="#0014ff"/><stop offset="0.069" stop-color="#0024ff"/><stop offset="0.092" stop-color="#0030ff"/><stop offset="0.115" stop-color="#0044ff"/><stop offset="0.139" stop-color="#0058ff"/><stop offset="0.162" stop-color="#006cff"/><stop offset="0.185" stop-color="#0080ff"/><stop offset="0.208" stop-color="#009cff"/><stop offset="0.231" stop-color="#00b8ff"/><stop offset="0.254" stop-color="#00d4ff"/><stop offset="0.277" stop-color="#06ecf1"/><stop offset="0.300" stop-color="#16ffe1"/><stop offset="0.323" stop-color="#26ffd1"/><stop offset="0.346" stop-color="#36ffc1"/><stop offset="0.370" stop-color="#46ffb1"/><stop offset="0.393" stop-color="#56ffa0"/><stop offset="0.416" stop-color="#66ff90"/><stop offset="0.439" stop-color="#77ff80"/><stop offset="0.462" stop-color="#87ff70"/><stop offset="0.485" stop-color="#94ff63"/><stop offset="0.508" stop-color="#a7ff50"/><stop offset="0.531" stop-color="#b7ff40"/><stop offset="0.554" stop-color="#c7ff30"/><stop offset="0.577" stop-color="#dbff1c"/><stop offset="0.600" stop-color="#e7ff0f"/><stop offset="0.624" stop-color="#f4f802"/><stop offset="0.647" stop-color="#feed00"/><stop offset="0.670" stop-color="#ffe600"/><stop offset="0.693" stop-color="#ffdb00"/><stop offset="0.716" stop-color="#ffd300"/><stop offset="0.739" stop-color="#ffd000"/><stop offset="0.762" stop-color="#ffcc00"/><stop offset="0.785" stop-color="#ffd000"/><stop offset="0.808" stop-color="#ffd700"/><stop offset="0.831" stop-color="#ffe200"/><stop offset="0.855" stop-color="#f8f500"/><stop offset="0.878" stop-color="#d4ff23"/><stop offset="0.901" stop-color="#a0ff56"/><stop offset="0.924" stop-color="#60ff97"/><stop offset="0.947" stop-color="#26ffd1"/><stop offset="0.970" stop-color="#00d8ff"/><stop offset="0.993" stop-color="#0080ff"/><stop offset="1.000" stop-color="#0068ff"/></linearGradient><linearGradient id="su21" x1="0" y1="0" x2="0" y2="1"><stop offset="0.000" stop-color="#0000ff"/><stop offset="0.023" stop-color="#0004ff"/><stop offset="0.046" stop-color="#0010ff"/><stop offset="0.069" stop-color="#0020ff"/><stop offset="0.092" stop-color="#0030ff"/><stop offset="0.115" stop-color="#0040ff"/><stop offset="0.139" stop-color="#0054ff"/><stop offset="0.162" stop-color="#0068ff"/><stop offset="0.185" stop-color="#0080ff"/><stop offset="0.208" stop-color="#0098ff"/><stop offset="0.231" stop-color="#00b4ff"/><stop offset="0.254" stop-color="#00d0ff"/><stop offset="0.277" stop-color="#02e8f4"/><stop offset="0.300" stop-color="#16ffe1"/><stop offset="0.323" stop-color="#23ffd4"/><stop offset="0.346" stop-color="#33ffc4"/><stop offset="0.370" stop-color="#43ffb4"/><stop offset="0.393" stop-color="#53ffa4"/><stop offset="0.416" stop-color="#63ff94"/><stop offset="0.439" stop-color="#73ff83"/><stop offset="0.462" stop-color="#83ff73"/><stop offset="0.485" stop-color="#94ff63"/><stop offset="0.508" stop-color="#a4ff53"/><stop offset="0.531" stop-color="#b7ff40"/><stop offset="0.554" stop-color="#c7ff30"/><stop offset="0.577" stop-color="#d7ff1f"/><stop offset="0.600" stop-color="#e7ff0f"/><stop offset="0.624" stop-color="#f4f802"/><stop offset="0.647" stop-color="#feed00"/><stop offset="0.670" stop-color="#ffe600"/><stop offset="0.693" stop-color="#ffdb00"/><stop offset="0.716" stop-color="#ffd300"/><stop offset="0.739" stop-color="#ffd000"/><stop offset="0.762" stop-color="#ffcc00"/><stop offset="0.785" stop-color="#ffd000"/><stop offset="0.808" stop-color="#ffd700"/><stop offset="0.831" stop-color="#ffe200"/><stop offset="0.855" stop-color="#f8f500"/><stop offset="0.878" stop-color="#d4ff23"/><stop offset="0.901" stop-color="#a0ff56"/><stop offset="0.924" stop-color="#60ff97"/><stop offset="0.947" stop-color="#26ffd1"/><stop offset="0.970" stop-color="#00d8ff"/><stop offset="0.993" stop-color="#0080ff"/><stop offset="1.000" stop-color="#0068ff"/></linearGradient><linearGradient id="su22" x1="0" y1="0" x2="0" y2="1"><stop offset="0.000" stop-color="#0000ff"/><stop offset="0.023" stop-color="#0000ff"/><stop offset="0.046" stop-color="#0010ff"/><stop offset="0.069" stop-color="#0020ff"/><stop offset="0.092" stop-color="#002cff"/><stop offset="0.115" stop-color="#003cff"/><stop offset="0.139" stop-color="#0050ff"/><stop offset="0.162" stop-color="#0064ff"/><stop offset="0.185" stop-color="#007cff"/><stop offset="0.208" stop-color="#0094ff"/><stop offset="0.231" stop-color="#00b0ff"/><stop offset="0.254" stop-color="#00ccff"/><stop offset="0.277" stop-color="#02e8f4"/><stop offset="0.300" stop-color="#13fce4"/><stop offset="0.323" stop-color="#23ffd4"/><stop offset="0.346" stop-color="#33ffc4"/><stop offset="0.370" stop-color="#43ffb4"/><stop offset="0.393" stop-color="#53ffa4"/><stop offset="0.416" stop-color="#63ff94"/><stop offset="0.439" stop-color="#73ff83"/><stop offset="0.462" stop-color="#83ff73"/><stop offset="0.485" stop-color="#90ff66"/><stop offset="0.508" stop-color="#a4ff53"/><stop offset="0.531" stop-color="#b4ff43"/><stop offset="0.554" stop-color="#c7ff30"/><stop offset="0.577" stop-color="#d7ff1f"/><stop offset="0.600" stop-color="#e7ff0f"/><stop offset="0.624" stop-color="#f4f802"/><stop offset="0.647" stop-color="#feed00"/><stop offset="0.670" stop-color="#ffe600"/><stop offset="0.693" stop-color="#ffdb00"/><stop offset="0.716" stop-color="#ffd300"/><stop offset="0.739" stop-color="#ffd000"/><stop offset="0.762" stop-color="#ffcc00"/><stop offset="0.785" stop-color="#ffd000"/><stop offset="0.808" stop-color="#ffd300"/><stop offset="0.831" stop-color="#ffe200"/><stop offset="0.855" stop-color="#f8f500"/><stop offset="0.878" stop-color="#d4ff23"/><stop offset="0.901" stop-color="#a0ff56"/><stop offset="0.924" stop-color="#60ff97"/><stop offset="0.947" stop-color="#26ffd1"/><stop offset="0.970" stop-color="#00d8ff"/><stop offset="0.993" stop-color="#0080ff"/><stop offset="1.000" stop-color="#0068ff"/></linearGradient><linearGradient id="su23" x1="0" y1="0" x2="0" y2="1"><stop offset="0.000" stop-color="#0000ff"/><stop offset="0.023" stop-color="#0000ff"/><stop offset="0.046" stop-color="#000cff"/><stop offset="0.069" stop-color="#001cff"/><stop offset="0.092" stop-color="#002cff"/><stop offset="0.115" stop-color="#003cff"/><stop offset="0.139" stop-color="#0050ff"/><stop offset="0.162" stop-color="#0064ff"/><stop offset="0.185" stop-color="#0078ff"/><stop offset="0.208" stop-color="#0090ff"/><stop offset="0.231" stop-color="#00acff"/><stop offset="0.254" stop-color="#00c8ff"/><stop offset="0.277" stop-color="#00e4f8"/><stop offset="0.300" stop-color="#0ff8e7"/><stop offset="0.323" stop-color="#1fffd7"/><stop offset="0.346" stop-color="#30ffc7"/><stop offset="0.370" stop-color="#40ffb7"/><stop offset="0.393" stop-color="#50ffa7"/><stop offset="0.416" stop-color="#60ff97"/><stop offset="0.439" stop-color="#70ff87"/><stop offset="0.462" stop-color="#80ff77"/><stop offset="0.485" stop-color="#90ff66"/><stop offset="0.508" stop-color="#a0ff56"/><stop offset="0.531" stop-color="#b4ff43"/><stop offset="0.554" stop-color="#c4ff33"/><stop offset="0.577" stop-color="#d4ff23"/><stop offset="0.600" stop-color="#e4ff13"/><stop offset="0.624" stop-color="#f1fc06"/><stop offset="0.647" stop-color="#fbf100"/><stop offset="0.670" stop-color="#ffe600"/><stop offset="0.693" stop-color="#ffdb00"/><stop offset="0.716" stop-color="#ffd300"/><stop offset="0.739" stop-color="#ffd000"/><stop offset="0.762" stop-color="#ffcc00"/><stop offset="0.785" stop-color="#ffd000"/><stop offset="0.808" stop-color="#ffd300"/><stop offset="0.831" stop-color="#ffe200"/><stop offset="0.855" stop-color="#f8f500"/><stop offset="0.878" stop-color="#d7ff1f"/><stop offset="0.901" stop-color="#a0ff56"/><stop offset="0.924" stop-color="#60ff97"/><stop offset="0.947" stop-color="#26ffd1"/><stop offset="0.970" stop-color="#00d8ff"/><stop offset="0.993" stop-color="#0080ff"/><stop offset="1.000" stop-color="#0068ff"/></linearGradient><linearGradient id="su24" x1="0" y1="0" x2="0" y2="1"><stop offset="0.000" stop-color="#0000ff"/><stop offset="0.023" stop-color="#0000ff"/><stop offset="0.046" stop-color="#000cff"/><stop offset="0.069" stop-color="#001cff"/><stop offset="0.092" stop-color="#002cff"/><stop offset="0.115" stop-color="#0038ff"/><stop offset="0.139" stop-color="#004cff"/><stop offset="0.162" stop-color="#0060ff"/><stop offset="0.185" stop-color="#0078ff"/><stop offset="0.208" stop-color="#008cff"/><stop offset="0.231" stop-color="#00a8ff"/><stop offset="0.254" stop-color="#00c4ff"/><stop offset="0.277" stop-color="#00e0fb"/><stop offset="0.300" stop-color="#0ff8e7"/><stop offset="0.323" stop-color="#1fffd7"/><stop offset="0.346" stop-color="#2cffca"/><stop offset="0.370" stop-color="#40ffb7"/><stop offset="0.393" stop-color="#50ffa7"/><stop offset="0.416" stop-color="#60ff97"/><stop offset="0.439" stop-color="#70ff87"/><stop offset="0.462" stop-color="#80ff77"/><stop offset="0.485" stop-color="#90ff66"/><stop offset="0.508" stop-color="#a0ff56"/><stop offset="0.531" stop-color="#b1ff46"/><stop offset="0.554" stop-color="#c4ff33"/><stop offset="0.577" stop-color="#d4ff23"/><stop offset="0.600" stop-color="#e4ff13"/><stop offset="0.624" stop-color="#f1fc06"/><stop offset="0.647" stop-color="#fbf100"/><stop offset="0.670" stop-color="#ffe600"/><stop offset="0.693" stop-color="#ffde00"/><stop offset="0.716" stop-color="#ffd300"/><stop offset="0.739" stop-color="#ffd000"/><stop offset="0.762" stop-color="#ffcc00"/><stop offset="0.785" stop-color="#ffd000"/><stop offset="0.808" stop-color="#ffd300"/><stop offset="0.831" stop-color="#ffe200"/><stop offset="0.855" stop-color="#f8f500"/><stop offset="0.878" stop-color="#d7ff1f"/><stop offset="0.901" stop-color="#a4ff53"/><stop offset="0.924" stop-color="#63ff94"/><stop offset="0.947" stop-color="#26ffd1"/><stop offset="0.970" stop-color="#00d8ff"/><stop offset="0.993" stop-color="#0080ff"/><stop offset="1.000" stop-color="#0068ff"/></linearGradient><linearGradient id="su25" x1="0" y1="0" x2="0" y2="1"><stop offset="0.000" stop-color="#0000fa"/><stop offset="0.023" stop-color="#0000ff"/><stop offset="0.046" stop-color="#0008ff"/><stop offset="0.069" stop-color="#0018ff"/><stop offset="0.092" stop-color="#0028ff"/><stop offset="0.115" stop-color="#0038ff"/><stop offset="0.139" stop-color="#0048ff"/><stop offset="0.162" stop-color="#005cff"/><stop offset="0.185" stop-color="#0074ff"/><stop offset="0.208" stop-color="#008cff"/><stop offset="0.231" stop-color="#00a4ff"/><stop offset="0.254" stop-color="#00c0ff"/><stop offset="0.277" stop-color="#00e0fb"/><stop offset="0.300" stop-color="#0cf4eb"/><stop offset="0.323" stop-color="#1cffdb"/><stop offset="0.346" stop-color="#2cffca"/><stop offset="0.370" stop-color="#3cffba"/><stop offset="0.393" stop-color="#4dffaa"/><stop offset="0.416" stop-color="#5dff9a"/><stop offset="0.439" stop-color="#6dff8a"/><stop offset="0.462" stop-color="#7dff7a"/><stop offset="0.485" stop-color="#8dff6a"/><stop offset="0.508" stop-color="#9dff5a"/><stop offset="0.531" stop-color="#b1ff46"/><stop offset="0.554" stop-color="#c1ff36"/><stop offset="0.577" stop-color="#d4ff23"/><stop offset="0.600" stop-color="#e4ff13"/><stop offset="0.624" stop-color="#f1fc06"/><stop offset="0.647" stop-color="#fbf100"/><stop offset="0.670" stop-color="#ffea00"/><stop offset="0.693" stop-color="#ffde00"/><stop offset="0.716" stop-color="#ffd300"/><stop offset="0.739" stop-color="#ffd000"/><stop offset="0.762" stop-color="#ffcc00"/><stop offset="0.785" stop-color="#ffd000"/><stop offset="0.808" stop-color="#ffd300"/><stop offset="0.831" stop-color="#ffe200"/><stop offset="0.855" stop-color="#f8f500"/><stop offset="0.878" stop-color="#d7ff1f"/><stop offset="0.901" stop-color="#a4ff53"/><stop offset="0.924" stop-color="#63ff94"/><stop offset="0.947" stop-color="#26ffd1"/><stop offset="0.970" stop-color="#00d8ff"/><stop offset="0.993" stop-color="#0080ff"/><stop offset="1.000" stop-color="#0068ff"/></linearGradient><linearGradient id="su26" x1="0" y1="0" x2="0" y2="1"><stop offset="0.000" stop-color="#0000fa"/><stop offset="0.023" stop-color="#0000ff"/><stop offset="0.046" stop-color="#0008ff"/><stop offset="0.069" stop-color="#0018ff"/><stop offset="0.092" stop-color="#0028ff"/><stop offset="0.115" stop-color="#0034ff"/><stop offset="0.139" stop-color="#0048ff"/><stop offset="0.162" stop-color="#005cff"/><stop offset="0.185" stop-color="#0070ff"/><stop offset="0.208" stop-color="#0088ff"/><stop offset="0.231" stop-color="#00a0ff"/><stop offset="0.254" stop-color="#00c0ff"/><stop offset="0.277" stop-color="#00dcfe"/><stop offset="0.300" stop-color="#09f0ee"/><stop offset="0.323" stop-color="#19ffde"/><stop offset="0.346" stop-color="#29ffce"/><stop offset="0.370" stop-color="#39ffbe"/><stop offset="0.393" stop-color="#4dffaa"/><stop offset="0.416" stop-color="#5dff9a"/><stop offset="0.439" stop-color="#6dff8a"/><stop offset="0.462" stop-color="#7dff7a"/><stop offset="0.485" stop-color="#8dff6a"/><stop offset="0.508" stop-color="#9dff5a"/><stop offset="0.531" stop-color="#adff49"/><stop offset="0.554" stop-color="#c1ff36"/><stop offset="0.577" stop-color="#d1ff26"/><stop offset="0.600" stop-color="#e4ff13"/><stop offset="0.624" stop-color="#f1fc06"/><stop offset="0.647" stop-color="#fbf100"/><stop offset="0.670" stop-color="#ffea00"/><stop offset="0.693" stop-color="#ffde00"/><stop offset="0.716" stop-color="#ffd300"/><stop offset="0.739" stop-color="#ffd000"/><stop offset="0.762" stop-color="#ffcc00"/><stop offset="0.785" stop-color="#ffd000"/><stop offset="0.808" stop-color="#ffd300"/><stop offset="0.831" stop-color="#ffe200"/><stop offset="0.855" stop-color="#f8f500"/><stop offset="0.878" stop-color="#d7ff1f"/><stop offset="0.901" stop-color="#a4ff53"/><stop offset="0.924" stop-color="#63ff94"/><stop offset="0.947" stop-color="#26ffd1"/><stop offset="0.970" stop-color="#00d8ff"/><stop offset="0.993" stop-color="#0080ff"/><stop offset="1.000" stop-color="#0068ff"/></linearGradient><linearGradient id="su27" x1="0" y1="0" x2="0" y2="1"><stop offset="0.000" stop-color="#0000f6"/><stop offset="0.023" stop-color="#0000ff"/><stop offset="0.046" stop-color="#0008ff"/><stop offset="0.069" stop-color="#0014ff"/><stop offset="0.092" stop-color="#0024ff"/><stop offset="0.115" stop-color="#0034ff"/><stop offset="0.139" stop-color="#0044ff"/><stop offset="0.162" stop-color="#0058ff"/><stop offset="0.185" stop-color="#0070ff"/><stop offset="0.208" stop-color="#0084ff"/><stop offset="0.231" stop-color="#00a0ff"/><stop offset="0.254" stop-color="#00bcff"/><stop offset="0.277" stop-color="#00d8ff"/><stop offset="0.300" stop-color="#09f0ee"/><stop offset="0.323" stop-color="#19ffde"/><stop offset="0.346" stop-color="#29ffce"/><stop offset="0.370" stop-color="#39ffbe"/><stop offset="0.393" stop-color="#49ffad"/><stop offset="0.416" stop-color="#5aff9d"/><stop offset="0.439" stop-color="#6aff8d"/><stop offset="0.462" stop-color="#7aff7d"/><stop offset="0.485" stop-color="#8aff6d"/><stop offset="0.508" stop-color="#9aff5d"/><stop offset="0.531" stop-color="#adff49"/><stop offset="0.554" stop-color="#beff39"/><stop offset="0.577" stop-color="#d1ff26"/><stop offset="0.600" stop-color="#e1ff16"/><stop offset="0.624" stop-color="#eeff09"/><stop offset="0.647" stop-color="#fbf100"/><stop offset="0.670" stop-color="#ffea00"/><stop offset="0.693" stop-color="#ffde00"/><stop offset="0.716" stop-color="#ffd300"/><stop offset="0.739" stop-color="#ffd000"/><stop offset="0.762" stop-color="#ffcc00"/><stop offset="0.785" stop-color="#ffd000"/><stop offset="0.808" stop-color="#ffd300"/><stop offset="0.831" stop-color="#ffe200"/><stop offset="0.855" stop-color="#fbf100"/><stop offset="0.878" stop-color="#dbff1c"/><stop offset="0.901" stop-color="#a7ff50"/><stop offset="0.924" stop-color="#63ff94"/><stop offset="0.947" stop-color="#26ffd1"/><stop offset="0.970" stop-color="#00d8ff"/><stop offset="0.993" stop-color="#0080ff"/><stop offset="1.000" stop-color="#0068ff"/></linearGradient><linearGradient id="su28" x1="0" y1="0" x2="0" y2="1"><stop offset="0.000" stop-color="#0000f6"/><stop offset="0.023" stop-color="#0000ff"/><stop offset="0.046" stop-color="#0004ff"/><stop offset="0.069" stop-color="#0014ff"/><stop offset="0.092" stop-color="#0024ff"/><stop offset="0.115" stop-color="#0030ff"/><stop offset="0.139" stop-color="#0044ff"/><stop offset="0.162" stop-color="#0058ff"/><stop offset="0.185" stop-color="#006cff"/><stop offset="0.208" stop-color="#0084ff"/><stop offset="0.231" stop-color="#009cff"/><stop offset="0.254" stop-color="#00b8ff"/><stop offset="0.277" stop-color="#00d4ff"/><stop offset="0.300" stop-color="#06ecf1"/><stop offset="0.323" stop-color="#16ffe1"/><stop offset="0.346" stop-color="#26ffd1"/><stop offset="0.370" stop-color="#36ffc1"/><stop offset="0.393" stop-color="#49ffad"/><stop offset="0.416" stop-color="#5aff9d"/><stop offset="0.439" stop-color="#6aff8d"/><stop offset="0.462" stop-color="#7aff7d"/><stop offset="0.485" stop-color="#8aff6d"/><stop offset="0.508" stop-color="#9aff5d"/><stop offset="0.531" stop-color="#aaff4d"/><stop offset="0.554" stop-color="#beff39"/><stop offset="0.577" stop-color="#d1ff26"/><stop offset="0.600" stop-color="#e1ff16"/><stop offset="0.624" stop-color="#eeff09"/><stop offset="0.647" stop-color="#fbf100"/><stop offset="0.670" stop-color="#ffea00"/><stop offset="0.693" stop-color="#ffde00"/><stop offset="0.716" stop-color="#ffd300"/><stop offset="0.739" stop-color="#ffd000"/><stop offset="0.762" stop-color="#ffcc00"/><stop offset="0.785" stop-color="#ffd000"/><stop offset="0.808" stop-color="#ffd300"/><stop offset="0.831" stop-color="#ffde00"/><stop offset="0.855" stop-color="#fbf100"/><stop offset="0.878" stop-color="#dbff1c"/><stop offset="0.901" stop-color="#a7ff50"/><stop offset="0.924" stop-color="#66ff90"/><stop offset="0.947" stop-color="#26ffd1"/><stop offset="0.970" stop-color="#00d8ff"/><stop offset="0.993" stop-color="#0080ff"/><stop offset="1.000" stop-color="#0068ff"/></linearGradient><linearGradient id="su29" x1="0" y1="0" x2="0" y2="1"><stop offset="0.000" stop-color="#0000f1"/><stop offset="0.023" stop-color="#0000ff"/><stop offset="0.046" stop-color="#0004ff"/><stop offset="0.069" stop-color="#0014ff"/><stop offset="0.092" stop-color="#0020ff"/><stop offset="0.115" stop-color="#0030ff"/><stop offset="0.139" stop-color="#0040ff"/><stop offset="0.162" stop-color="#0054ff"/><stop offset="0.185" stop-color="#0068ff"/><stop offset="0.208" stop-color="#0080ff"/><stop offset="0.231" stop-color="#0098ff"/><stop offset="0.254" stop-color="#00b4ff"/><stop offset="0.277" stop-color="#00d0ff"/><stop offset="0.300" stop-color="#06ecf1"/><stop offset="0.323" stop-color="#16ffe1"/><stop offset="0.346" stop-color="#23ffd4"/><stop offset="0.370" stop-color="#36ffc1"/><stop offset="0.393" stop-color="#46ffb1"/><stop offset="0.416" stop-color="#56ffa0"/><stop offset="0.439" stop-color="#6aff8d"/><stop offset="0.462" stop-color="#7aff7d"/><stop offset="0.485" stop-color="#87ff70"/><stop offset="0.508" stop-color="#97ff60"/><stop offset="0.531" stop-color="#aaff4d"/><stop offset="0.554" stop-color="#beff39"/><stop offset="0.577" stop-color="#ceff29"/><stop offset="0.600" stop-color="#e1ff16"/><stop offset="0.624" stop-color="#eeff09"/><stop offset="0.647" stop-color="#fbf100"/><stop offset="0.670" stop-color="#ffea00"/><stop offset="0.693" stop-color="#ffde00"/><stop offset="0.716" stop-color="#ffd300"/><stop offset="0.739" stop-color="#ffd000"/><stop offset="0.762" stop-color="#ffcc00"/><stop offset="0.785" stop-color="#ffd000"/><stop offset="0.808" stop-color="#ffd300"/><stop offset="0.831" stop-color="#ffde00"/><stop offset="0.855" stop-color="#fbf100"/><stop offset="0.878" stop-color="#dbff1c"/><stop offset="0.901" stop-color="#a7ff50"/><stop offset="0.924" stop-color="#66ff90"/><stop offset="0.947" stop-color="#29ffce"/><stop offset="0.970" stop-color="#00d8ff"/><stop offset="0.993" stop-color="#0080ff"/><stop offset="1.000" stop-color="#0068ff"/></linearGradient><linearGradient id="slow" x1="0" y1="0" x2="0" y2="1"><stop offset="0.0000" stop-color="#00acff"/><stop offset="0.0200" stop-color="#0094ff"/><stop offset="0.0400" stop-color="#0078ff"/><stop offset="0.0600" stop-color="#0060ff"/><stop offset="0.0800" stop-color="#0040ff"/><stop offset="0.1000" stop-color="#001cff"/><stop offset="0.1200" stop-color="#0000ff"/><stop offset="0.1400" stop-color="#0000da"/><stop offset="0.1600" stop-color="#0000ad"/><stop offset="0.1800" stop-color="#000089"/><stop offset="0.2000" stop-color="#000080"/><stop offset="0.2200" stop-color="#000080"/><stop offset="0.2400" stop-color="#000080"/><stop offset="0.2600" stop-color="#000080"/><stop offset="0.2800" stop-color="#000080"/><stop offset="0.3000" stop-color="#000080"/><stop offset="0.3200" stop-color="#000080"/><stop offset="0.3400" stop-color="#000080"/><stop offset="0.3600" stop-color="#000080"/><stop offset="0.3800" stop-color="#000080"/><stop offset="0.4000" stop-color="#000080"/><stop offset="0.4200" stop-color="#000080"/><stop offset="0.4400" stop-color="#000080"/><stop offset="0.4600" stop-color="#000080"/><stop offset="0.4800" stop-color="#000080"/><stop offset="0.5000" stop-color="#000080"/><stop offset="0.5200" stop-color="#000080"/><stop offset="0.5400" stop-color="#000080"/><stop offset="0.5600" stop-color="#000080"/><stop offset="0.5800" stop-color="#000080"/><stop offset="0.6000" stop-color="#000080"/><stop offset="0.6200" stop-color="#000080"/><stop offset="0.6400" stop-color="#000080"/><stop offset="0.6600" stop-color="#000080"/><stop offset="0.6800" stop-color="#000080"/><stop offset="0.7000" stop-color="#000080"/><stop offset="0.7200" stop-color="#000080"/><stop offset="0.7400" stop-color="#000080"/><stop offset="0.7600" stop-color="#000080"/><stop offset="0.7800" stop-color="#000080"/><stop offset="0.8000" stop-color="#000080"/><stop offset="0.8200" stop-color="#000080"/><stop offset="0.8400" stop-color="#000080"/><stop offset="0.8600" stop-color="#000080"/><stop offset="0.8800" stop-color="#000080"/><stop offset="0.9000" stop-color="#000080"/><stop offset="0.9200" stop-color="#000080"/><stop offset="0.9400" stop-color="#000080"/><stop offset="0.9600" stop-color="#000080"/><stop offset="0.9800" stop-color="#000080"/><stop offset="1.0000" stop-color="#000080"/></linearGradient></defs><rect x="200" y="110" width="714" height="57.50" fill="#d3d3d3"/><rect x="200" y="380" width="714" height="75" fill="url(#slow)"/><rect x="200" y="167.50" width="25" height="216.50" fill="url(#su0)" shape-rendering="crispEdges"/><rect x="224" y="167.50" width="25" height="216.50" fill="url(#su1)" shape-rendering="crispEdges"/><rect x="248" y="167.50" width="25" height="216.50" fill="url(#su2)" shape-rendering="crispEdges"/><rect x="272" y="167.50" width="25" height="216.50" fill="url(#su3)" shape-rendering="crispEdges"/><rect x="296" y="167.50" width="25" height="216.50" fill="url(#su4)" shape-rendering="crispEdges"/><rect x="320" y="167.50" width="25" height="216.50" fill="url(#su5)" shape-rendering="crispEdges"/><rect x="344" y="167.50" width="25" height="216.50" fill="url(#su6)" shape-rendering="crispEdges"/><rect x="368" y="167.50" width="25" height="216.50" fill="url(#su7)" shape-rendering="crispEdges"/><rect x="392" y="167.50" width="25" height="216.50" fill="url(#su8)" shape-rendering="crispEdges"/><rect x="416" y="167.50" width="25" height="216.50" fill="url(#su9)" shape-rendering="crispEdges"/><rect x="440" y="167.50" width="25" height="216.50" fill="url(#su10)" shape-rendering="crispEdges"/><rect x="464" y="167.50" width="25" height="216.50" fill="url(#su11)" shape-rendering="crispEdges"/><rect x="488" y="167.50" width="25" height="216.50" fill="url(#su12)" shape-rendering="crispEdges"/><rect x="512" y="167.50" width="25" height="216.50" fill="url(#su13)" shape-rendering="crispEdges"/><rect x="536" y="167.50" width="25" height="216.50" fill="url(#su14)" shape-rendering="crispEdges"/><rect x="560" y="167.50" width="25" height="216.50" fill="url(#su15)" shape-rendering="crispEdges"/><rect x="584" y="167.50" width="25" height="216.50" fill="url(#su16)" shape-rendering="crispEdges"/><rect x="608" y="167.50" width="25" height="216.50" fill="url(#su17)" shape-rendering="crispEdges"/><rect x="632" y="167.50" width="25" height="216.50" fill="url(#su18)" shape-rendering="crispEdges"/><rect x="656" y="167.50" width="25" height="216.50" fill="url(#su19)" shape-rendering="crispEdges"/><rect x="680" y="167.50" width="25" height="216.50" fill="url(#su20)" shape-rendering="crispEdges"/><rect x="704" y="167.50" width="25" height="216.50" fill="url(#su21)" shape-rendering="crispEdges"/><rect x="728" y="167.50" width="25" height="216.50" fill="url(#su22)" shape-rendering="crispEdges"/><rect x="752" y="167.50" width="25" height="216.50" fill="url(#su23)" shape-rendering="crispEdges"/><rect x="776" y="167.50" width="25" height="216.50" fill="url(#su24)" shape-rendering="crispEdges"/><rect x="800" y="167.50" width="25" height="216.50" fill="url(#su25)" shape-rendering="crispEdges"/><rect x="824" y="167.50" width="25" height="216.50" fill="url(#su26)" shape-rendering="crispEdges"/><rect x="848" y="167.50" width="25" height="216.50" fill="url(#su27)" shape-rendering="crispEdges"/><rect x="872" y="167.50" width="25" height="216.50" fill="url(#su28)" shape-rendering="crispEdges"/><rect x="896" y="167.50" width="18" height="216.50" fill="url(#su29)" shape-rendering="crispEdges"/><clipPath id="dropclip"><rect x="433.5" y="167.50" width="480.5" height="120"/></clipPath><clipPath id="dropclip2"><rect x="525" y="167.50" width="389" height="120"/></clipPath><filter id="blr" x="-50%" y="-50%" width="200%" height="200%"><feGaussianBlur stdDeviation="2.5"/></filter><filter id="blr2" x="-50%" y="-50%" width="200%" height="200%"><feGaussianBlur stdDeviation="6"/></filter><linearGradient id="dv" x1="0" y1="0" x2="0" y2="1"><stop offset="0" stop-color="#0000f0" stop-opacity="0.85"/><stop offset="0.6" stop-color="#0000ff" stop-opacity="0.6"/><stop offset="1" stop-color="#0000ff" stop-opacity="0"/></linearGradient><linearGradient id="dh" x1="0" y1="0" x2="1" y2="0"><stop offset="0" stop-color="#fff"/><stop offset="0.35" stop-color="#fff" stop-opacity="0.8"/><stop offset="1" stop-color="#fff" stop-opacity="0"/></linearGradient><mask id="dm" maskUnits="userSpaceOnUse" x="433" y="160" width="200" height="80"><rect x="433.5" y="160" width="140" height="80" fill="url(#dh)"/></mask><g clip-path="url(#dropclip)"><rect x="433.5" y="167.50" width="140" height="57.50" fill="url(#dv)" mask="url(#dm)"/><g filter="url(#blr)"><ellipse cx="437" cy="193" rx="5.5" ry="13" fill="#000060" fill-opacity="0.8"/><rect x="431" y="168.50" width="4" height="49.50" fill="#000090" fill-opacity="0.7"/></g></g><g clip-path="url(#dropclip2)"><g filter="url(#blr)"><ellipse cx="527.5" cy="187" rx="5" ry="12" fill="#000080" fill-opacity="0.9"/></g><g filter="url(#blr2)"><rect x="519" y="167.50" width="40" height="30" fill="#0000e0" fill-opacity="0.5"/></g></g><path d="M428.4 111h2.4v19.2h-2.4z M432 111h2.8v36.8h-2.8z M438 111h2v22.8h-2z M520.8 111h6v6h-1.5v38h-0.8v24.4h-2.8v-24.4h-0.9z" fill="#ffffff"/><path d="M306 409.5h1m4 0h1m58 0h1m6 0h1m47 0h1m38 0h1m23 0h1m144 0h1m65 0h1m30 0h1m101 0h1m-590 1h1m0 0h1m22 0h1m32 0h1m273 0h1m20 0h1m167 0h1m-560 1h1m121 0h1m6 0h1m17 0h1m43 0h1m151 0h1m148 0h1m116 0h1m-578 1h1m2 0h1m5 0h1m27 0h1m24 0h1m17 0h1m6 0h1m50 0h1m8 0h1m8 0h1m18 0h1m35 0h1m72 0h1m4 0h1m57 0h1m56 0h1m111 0h1m16 0h1m12 0h1m-582 1h1m13 0h1m7 0h1m7 0h1m52 0h1m20 0h1m16 0h1m11 0h1m5 0h1m4 0h1m0 0h1m31 0h1m33 0h1m7 0h1m4 0h1m2 0h1m5 0h1m14 0h1m16 0h1m10 0h1m19 0h1m11 0h1m10 0h1m14 0h1m28 0h1m91 0h1m14 0h1m12 0h1m12 0h1m6 0h1m4 0h1m39 0h1m8 0h1m26 0h1m39 0h1m17 0h1m0 0h1m3 0h1m30 0h1m-654 1h1m10 0h1m5 0h1m8 0h1m5 0h1m11 0h1m17 0h1m1 0h1m7 0h1m1 0h1m2 0h1m17 0h1m3 0h1m2 0h1m19 0h1m32 0h1m0 0h1m3 0h1m7 0h1m10 0h1m5 0h1m28 0h1m6 0h1m1 0h1m3 0h1m7 0h1m6 0h1m2 0h1m6 0h1m0 0h1m6 0h1m6 0h1m0 0h1m16 0h1m0 0h1m7 0h1m9 0h1m5 0h1m5 0h1m4 0h1m1 0h1m0 0h1m5 0h1m2 0h1m21 0h1m2 0h1m17 0h1m15 0h1m2 0h1m4 0h1m7 0h1m0 0h1m4 0h1m0 0h1m11 0h1m30 0h1m4 0h1m2 0h1m1 0h1m0 0h1m39 0h1m1 0h1m0 0h1m12 0h1m10 0h1m23 0h1m11 0h1m5 0h1m2 0h1m8 0h1m9 0h1m1 0h1m3 0h1m10 0h1m2 0h1m2 0h1m20 0h1m11 0h1m15 0h1m-699 1h1m2 0h1m1 0h1m0 0h1m6 0h1m6 0h1m5 0h1m7 0h1m1 0h1m2 0h1m0 0h1m3 0h1m3 0h1m5 0h1m0 0h1m17 0h1m0 0h1m2 0h1m3 0h1m8 0h1m5 0h1m4 0h1m4 0h1m4 0h1m3 0h1m3 0h1m4 0h1m1 0h1m5 0h1m2 0h1m1 0h1m4 0h1m1 0h1m4 0h1m4 0h1m6 0h1m21 0h1m0 0h1m2 0h1m5 0h1m1 0h1m4 0h1m20 0h1m6 0h1m1 0h1m0 0h1m12 0h1m5 0h1m5 0h1m4 0h1m6 0h1m6 0h1m3 0h1m1 0h1m9 0h1m0 0h1m3 0h1m4 0h1m0 0h1m0 0h1m0 0h1m0 0h1m1 0h1m2 0h1m5 0h1m10 0h1m15 0h1m7 0h1m0 0h1m4 0h1m1 0h1m0 0h1m1 0h1m0 0h1m6 0h1m7 0h1m0 0h1m5 0h1m0 0h1m1 0h1m2 0h1m1 0h1m6 0h1m2 0h1m8 0h1m9 0h1m5 0h1m0 0h1m3 0h1m14 0h1m16 0h1m1 0h1m19 0h1m3 0h1m2 0h1m0 0h1m5 0h1m0 0h1m6 0h1m2 0h1m6 0h1m5 0h1m1 0h1m3 0h1m4 0h1m10 0h1m2 0h1m9 0h1m0 0h1m3 0h1m3 0h1m2 0h1m8 0h1m1 0h1m13 0h1m4 0h1m0 0h1m3 0h1m1 0h1m2 0h1m0 0h1m15 0h1m0 0h1m0 0h1m1 0h1m2 0h1m10 0h1m0 0h1m6 0h1m3 0h1m17 0h1m8 0h1m2 0h1m0 0h1m14 0h1m0 0h1m0 0h1m2 0h1m-710 1h1m0 0h1m4 0h1m1 0h1m3 0h1m8 0h1m0 0h1m3 0h1m0 0h1m1 0h1m0 0h1m3 0h1m8 0h1m4 0h1m3 0h1m0 0h1m0 0h1m10 0h1m6 0h1m2 0h1m0 0h1m3 0h1m2 0h1m1 0h1m0 0h1m3 0h1m1 0h1m0 0h1m0 0h1m0 0h1m1 0h1m6 0h1m2 0h1m0 0h1m3 0h1m0 0h1m0 0h1m0 0h1m0 0h1m7 0h1m1 0h1m0 0h1m0 0h1m2 0h1m1 0h1m0 0h1m0 0h1m4 0h1m5 0h1m3 0h1m0 0h1m2 0h1m0 0h1m1 0h1m0 0h1m2 0h1m3 0h1m0 0h1m1 0h1m1 0h1m1 0h1m6 0h1m1 0h1m1 0h1m0 0h1m0 0h1m1 0h1m3 0h1m6 0h1m8 0h1m3 0h1m1 0h1m3 0h1m1 0h1m0 0h1m2 0h1m0 0h1m2 0h1m0 0h1m14 0h1m6 0h1m0 0h1m3 0h1m0 0h1m2 0h1m2 0h1m1 0h1m0 0h1m1 0h1m0 0h1m0 0h1m1 0h1m1 0h1m1 0h1m7 0h1m0 0h1m8 0h1m1 0h1m0 0h1m0 0h1m4 0h1m1 0h1m0 0h1m5 0h1m1 0h1m4 0h1m0 0h1m1 0h1m0 0h1m4 0h1m9 0h1m3 0h1m3 0h1m4 0h1m0 0h1m1 0h1m0 0h1m0 0h1m2 0h1m1 0h1m3 0h1m14 0h1m3 0h1m1 0h1m5 0h1m0 0h1m0 0h1m0 0h1m1 0h1m0 0h1m11 0h1m3 0h1m0 0h1m1 0h1m0 0h1m0 0h1m1 0h1m3 0h1m0 0h1m1 0h1m6 0h1m0 0h1m15 0h1m5 0h1m0 0h1m0 0h1m7 0h1m1 0h1m4 0h1m5 0h1m8 0h1m4 0h1m12 0h1m0 0h1m0 0h1m1 0h1m1 0h1m1 0h1m6 0h1m0 0h1m8 0h1m1 0h1m0 0h1m1 0h1m5 0h1m0 0h1m0 0h1m0 0h1m4 0h1m1 0h1m0 0h1m7 0h1m5 0h1m1 0h1m0 0h1m2 0h1m0 0h1m0 0h1m3 0h1m0 0h1m2 0h1m0 0h1m0 0h1m2 0h1m1 0h1m6 0h1m1 0h1m2 0h1m4 0h1m0 0h1m0 0h1m1 0h1m0 0h1m1 0h1m1 0h1m13 0h1m0 0h1m0 0h1m0 0h1m0 0h1m4 0h1m0 0h1m1 0h1m0 0h1m2 0h1m2 0h1m2 0h1m2 0h1m0 0h1m3 0h1m9 0h1m1 0h1m1 0h1m6 0h1m0 0h1m2 0h1m0 0h1m0 0h1m1 0h1m0 0h1m0 0h1m1 0h1m13 0h1m0 0h1m-710 1h1m2 0h1m4 0h1m2 0h1m1 0h1m2 0h1m0 0h1m1 0h1m0 0h1m2 0h1m0 0h1m1 0h1m1 0h1m5 0h1m0 0h1m0 0h1m2 0h1m1 0h1m5 0h1m0 0h1m2 0h1m0 0h1m3 0h1m2 0h1m0 0h1m0 0h1m0 0h1m1 0h1m1 0h1m3 0h1m0 0h1m2 0h1m3 0h1m0 0h1m1 0h1m1 0h1m0 0h1m7 0h1m0 0h1m0 0h1m2 0h1m1 0h1m1 0h1m10 0h1m0 0h1m0 0h1m0 0h1m0 0h1m0 0h1m6 0h1m0 0h1m3 0h1m4 0h1m0 0h1m1 0h1m0 0h1m0 0h1m1 0h1m0 0h1m2 0h1m1 0h1m0 0h1m3 0h1m1 0h1m3 0h1m0 0h1m0 0h1m0 0h1m1 0h1m1 0h1m5 0h1m2 0h1m6 0h1m1 0h1m1 0h1m2 0h1m0 0h1m3 0h1m2 0h1m3 0h1m3 0h1m1 0h1m0 0h1m0 0h1m1 0h1m0 0h1m0 0h1m3 0h1m0 0h1m4 0h1m2 0h1m1 0h1m2 0h1m2 0h1m8 0h1m1 0h1m0 0h1m0 0h1m2 0h1m0 0h1m0 0h1m3 0h1m0 0h1m0 0h1m0 0h1m0 0h1m0 0h1m2 0h1m2 0h1m3 0h1m1 0h1m2 0h1m0 0h1m1 0h1m1 0h1m1 0h1m0 0h1m2 0h1m0 0h1m0 0h1m5 0h1m1 0h1m2 0h1m3 0h1m0 0h1m0 0h1m0 0h1m1 0h1m0 0h1m0 0h1m1 0h1m1 0h1m0 0h1m3 0h1m1 0h1m0 0h1m2 0h1m7 0h1m5 0h1m2 0h1m1 0h1m0 0h1m0 0h1m4 0h1m0 0h1m0 0h1m0 0h1m8 0h1m0 0h1m3 0h1m0 0h1m6 0h1m2 0h1m3 0h1m8 0h1m0 0h1m0 0h1m1 0h1m1 0h1m4 0h1m0 0h1m1 0h1m0 0h1m0 0h1m3 0h1m1 0h1m0 0h1m2 0h1m1 0h1m0 0h1m14 0h1m0 0h1m1 0h1m1 0h1m1 0h1m0 0h1m3 0h1m6 0h1m2 0h1m0 0h1m2 0h1m0 0h1m0 0h1m0 0h1m5 0h1m0 0h1m0 0h1m1 0h1m0 0h1m2 0h1m0 0h1m3 0h1m1 0h1m2 0h1m1 0h1m0 0h1m3 0h1m0 0h1m0 0h1m1 0h1m0 0h1m1 0h1m2 0h1m2 0h1m0 0h1m0 0h1m1 0h1m4 0h1m3 0h1m0 0h1m2 0h1m5 0h1m1 0h1m0 0h1m0 0h1m3 0h1m5 0h1m1 0h1m1 0h1m2 0h1m1 0h1m1 0h1m0 0h1m2 0h1m0 0h1m8 0h1m1 0h1m0 0h1m4 0h1m0 0h1m1 0h1m0 0h1m3 0h1m0 0h1m1 0h1m3 0h1m0 0h1m4 0h1m0 0h1m2 0h1m2 0h1m0 0h1m3 0h1m4 0h1m0 0h1m3 0h1m0 0h1m4 0h1m1 0h1m0 0h1m2 0h1m1 0h1m1 0h1m2 0h1m0 0h1m4 0h1m0 0h1m0 0h1m0 0h1m1 0h1m0 0h1m1 0h1m0 0h1m1 0h1m0 0h1m0 0h1m1 0h1m1 0h1m2 0h1m1 0h1m5 0h1m5 0h1m1 0h1m0 0h1m0 0h1m0 0h1m4 0h1m0 0h1m0 0h1m12 0h1m0 0h1m3 0h1m0 0h1m-714 1h1m0 0h1m0 0h1m4 0h1m3 0h1m4 0h1m0 0h1m2 0h1m1 0h1m0 0h1m5 0h1m0 0h1m0 0h1m1 0h1m0 0h1m1 0h1m0 0h1m0 0h1m0 0h1m0 0h1m0 0h1m0 0h1m1 0h1m2 0h1m3 0h1m0 0h1m4 0h1m0 0h1m0 0h1m0 0h1m0 0h1m2 0h1m0 0h1m1 0h1m1 0h1m1 0h1m0 0h1m2 0h1m0 0h1m1 0h1m3 0h1m5 0h1m0 0h1m1 0h1m2 0h1m0 0h1m1 0h1m0 0h1m0 0h1m0 0h1m0 0h1m0 0h1m3 0h1m1 0h1m0 0h1m0 0h1m0 0h1m1 0h1m0 0h1m0 0h1m0 0h1m1 0h1m0 0h1m1 0h1m0 0h1m0 0h1m0 0h1m0 0h1m4 0h1m0 0h1m0 0h1m0 0h1m4 0h1m1 0h1m2 0h1m6 0h1m0 0h1m2 0h1m1 0h1m0 0h1m0 0h1m0 0h1m1 0h1m1 0h1m5 0h1m0 0h1m0 0h1m0 0h1m1 0h1m0 0h1m1 0h1m0 0h1m2 0h1m2 0h1m6 0h1m3 0h1m1 0h1m0 0h1m0 0h1m6 0h1m3 0h1m1 0h1m0 0h1m0 0h1m1 0h1m0 0h1m0 0h1m0 0h1m0 0h1m0 0h1m0 0h1m0 0h1m3 0h1m0 0h1m0 0h1m6 0h1m0 0h1m0 0h1m1 0h1m2 0h1m0 0h1m2 0h1m2 0h1m0 0h1m0 0h1m0 0h1m8 0h1m0 0h1m0 0h1m1 0h1m0 0h1m6 0h1m0 0h1m0 0h1m0 0h1m2 0h1m1 0h1m0 0h1m1 0h1m0 0h1m1 0h1m7 0h1m0 0h1m2 0h1m1 0h1m1 0h1m0 0h1m0 0h1m0 0h1m0 0h1m1 0h1m0 0h1m2 0h1m0 0h1m0 0h1m0 0h1m0 0h1m0 0h1m1 0h1m0 0h1m1 0h1m0 0h1m3 0h1m0 0h1m1 0h1m0 0h1m2 0h1m0 0h1m4 0h1m0 0h1m1 0h1m1 0h1m1 0h1m2 0h1m0 0h1m0 0h1m0 0h1m0 0h1m1 0h1m0 0h1m0 0h1m0 0h1m2 0h1m0 0h1m3 0h1m1 0h1m1 0h1m1 0h1m2 0h1m0 0h1m1 0h1m2 0h1m0 0h1m1 0h1m0 0h1m0 0h1m2 0h1m4 0h1m0 0h1m0 0h1m2 0h1m1 0h1m2 0h1m1 0h1m1 0h1m1 0h1m1 0h1m0 0h1m1 0h1m0 0h1m1 0h1m1 0h1m0 0h1m0 0h1m3 0h1m1 0h1m3 0h1m0 0h1m3 0h1m1 0h1m0 0h1m0 0h1m1 0h1m1 0h1m0 0h1m0 0h1m0 0h1m0 0h1m1 0h1m0 0h1m0 0h1m2 0h1m1 0h1m0 0h1m3 0h1m0 0h1m0 0h1m1 0h1m0 0h1m2 0h1m2 0h1m6 0h1m0 0h1m1 0h1m0 0h1m0 0h1m0 0h1m2 0h1m0 0h1m1 0h1m8 0h1m1 0h1m0 0h1m1 0h1m0 0h1m0 0h1m1 0h1m1 0h1m0 0h1m4 0h1m0 0h1m1 0h1m4 0h1m0 0h1m1 0h1m1 0h1m0 0h1m1 0h1m0 0h1m0 0h1m2 0h1m1 0h1m0 0h1m2 0h1m4 0h1m1 0h1m1 0h1m1 0h1m0 0h1m0 0h1m0 0h1m4 0h1m0 0h1m0 0h1m0 0h1m0 0h1m0 0h1m3 0h1m1 0h1m0 0h1m1 0h1m0 0h1m2 0h1m0 0h1m2 0h1m0 0h1m4 0h1m0 0h1m0 0h1m0 0h1m4 0h1m2 0h1m2 0h1m8 0h1m0 0h1m0 0h1m1 0h1m1 0h1m0 0h1m1 0h1m1 0h1m0 0h1m3 0h1m1 0h1m0 0h1m2 0h1m0 0h1m1 0h1m0 0h1m2 0h1m0 0h1m1 0h1m4 0h1m0 0h1m1 0h1m1 0h1m0 0h1m0 0h1m0 0h1m0 0h1m1 0h1m0 0h1m0 0h1m0 0h1m2 0h1m2 0h1m6 0h1m0 0h1m0 0h1m2 0h1m1 0h1m5 0h1m0 0h1m5 0h1m0 0h1m2 0h1m1 0h1m0 0h1m2 0h1m-714 1h1m1 0h1m0 0h1m1 0h1m2 0h1m0 0h1m0 0h1m0 0h1m1 0h1m0 0h1m2 0h1m5 0h1m0 0h1m1 0h1m0 0h1m0 0h1m2 0h1m0 0h1m0 0h1m0 0h1m0 0h1m0 0h1m3 0h1m1 0h1m1 0h1m1 0h1m1 0h1m2 0h1m1 0h1m1 0h1m1 0h1m1 0h1m0 0h1m0 0h1m0 0h1m1 0h1m0 0h1m0 0h1m4 0h1m0 0h1m0 0h1m0 0h1m1 0h1m0 0h1m3 0h1m0 0h1m0 0h1m1 0h1m0 0h1m2 0h1m3 0h1m0 0h1m0 0h1m1 0h1m2 0h1m5 0h1m2 0h1m1 0h1m0 0h1m0 0h1m1 0h1m0 0h1m0 0h1m0 0h1m1 0h1m1 0h1m1 0h1m1 0h1m1 0h1m1 0h1m2 0h1m0 0h1m0 0h1m0 0h1m0 0h1m0 0h1m2 0h1m2 0h1m0 0h1m1 0h1m0 0h1m0 0h1m0 0h1m0 0h1m0 0h1m2 0h1m1 0h1m0 0h1m0 0h1m0 0h1m1 0h1m2 0h1m0 0h1m0 0h1m0 0h1m3 0h1m1 0h1m0 0h1m0 0h1m1 0h1m1 0h1m1 0h1m0 0h1m1 0h1m0 0h1m0 0h1m3 0h1m0 0h1m0 0h1m0 0h1m2 0h1m1 0h1m1 0h1m3 0h1m2 0h1m2 0h1m0 0h1m0 0h1m2 0h1m2 0h1m3 0h1m1 0h1m0 0h1m2 0h1m0 0h1m0 0h1m0 0h1m0 0h1m0 0h1m0 0h1m1 0h1m4 0h1m0 0h1m0 0h1m1 0h1m0 0h1m1 0h1m1 0h1m6 0h1m2 0h1m1 0h1m3 0h1m3 0h1m3 0h1m3 0h1m0 0h1m0 0h1m0 0h1m1 0h1m1 0h1m0 0h1m0 0h1m1 0h1m0 0h1m0 0h1m0 0h1m0 0h1m0 0h1m0 0h1m0 0h1m0 0h1m1 0h1m4 0h1m0 0h1m2 0h1m0 0h1m0 0h1m0 0h1m1 0h1m1 0h1m1 0h1m0 0h1m1 0h1m0 0h1m0 0h1m1 0h1m2 0h1m1 0h1m1 0h1m0 0h1m0 0h1m0 0h1m0 0h1m6 0h1m3 0h1m1 0h1m0 0h1m0 0h1m0 0h1m1 0h1m0 0h1m0 0h1m1 0h1m0 0h1m0 0h1m0 0h1m0 0h1m1 0h1m0 0h1m0 0h1m1 0h1m1 0h1m2 0h1m6 0h1m3 0h1m3 0h1m0 0h1m0 0h1m0 0h1m0 0h1m3 0h1m1 0h1m2 0h1m1 0h1m0 0h1m0 0h1m0 0h1m2 0h1m0 0h1m0 0h1m0 0h1m0 0h1m3 0h1m2 0h1m1 0h1m1 0h1m1 0h1m0 0h1m2 0h1m7 0h1m1 0h1m0 0h1m1 0h1m2 0h1m0 0h1m0 0h1m1 0h1m5 0h1m0 0h1m0 0h1m1 0h1m0 0h1m0 0h1m0 0h1m1 0h1m1 0h1m2 0h1m0 0h1m1 0h1m0 0h1m2 0h1m1 0h1m3 0h1m3 0h1m3 0h1m0 0h1m0 0h1m0 0h1m1 0h1m0 0h1m0 0h1m2 0h1m2 0h1m0 0h1m1 0h1m0 0h1m0 0h1m0 0h1m1 0h1m0 0h1m0 0h1m0 0h1m6 0h1m1 0h1m2 0h1m1 0h1m0 0h1m0 0h1m1 0h1m0 0h1m0 0h1m0 0h1m0 0h1m0 0h1m1 0h1m1 0h1m2 0h1m0 0h1m0 0h1m0 0h1m0 0h1m0 0h1m0 0h1m0 0h1m0 0h1m2 0h1m0 0h1m0 0h1m0 0h1m0 0h1m0 0h1m0 0h1m1 0h1m0 0h1m1 0h1m1 0h1m0 0h1m0 0h1m0 0h1m1 0h1m0 0h1m0 0h1m3 0h1m1 0h1m0 0h1m1 0h1m0 0h1m2 0h1m0 0h1m2 0h1m0 0h1m0 0h1m2 0h1m0 0h1m0 0h1m0 0h1m0 0h1m0 0h1m1 0h1m0 0h1m3 0h1m2 0h1m1 0h1m0 0h1m0 0h1m1 0h1m2 0h1m0 0h1m1 0h1m3 0h1m0 0h1m2 0h1m0 0h1m0 0h1m0 0h1m0 0h1m0 0h1m0 0h1m0 0h1m0 0h1m0 0h1m1 0h1m0 0h1m1 0h1m3 0h1m2 0h1m1 0h1m1 0h1m1 0h1m1 0h1m0 0h1m0 0h1m0 0h1m0 0h1m0 0h1m0 0h1m0 0h1m0 0h1m0 0h1m0 0h1m1 0h1m0 0h1m1 0h1m0 0h1m0 0h1m2 0h1m9 0h1m0 0h1m0 0h1m0 0h1m1 0h1m1 0h1m1 0h1m2 0h1m3 0h1m1 0h1m1 0h1m-713 1h1m0 0h1m0 0h1m1 0h1m1 0h1m1 0h1m0 0h1m0 0h1m3 0h1m0 0h1m0 0h1m1 0h1m1 0h1m0 0h1m0 0h1m2 0h1m0 0h1m0 0h1m2 0h1m3 0h1m3 0h1m0 0h1m1 0h1m3 0h1m1 0h1m0 0h1m0 0h1m0 0h1m0 0h1m0 0h1m0 0h1m0 0h1m0 0h1m1 0h1m1 0h1m1 0h1m0 0h1m0 0h1m0 0h1m2 0h1m1 0h1m1 0h1m0 0h1m3 0h1m1 0h1m0 0h1m1 0h1m2 0h1m0 0h1m2 0h1m1 0h1m0 0h1m1 0h1m0 0h1m3 0h1m1 0h1m1 0h1m0 0h1m4 0h1m4 0h1m4 0h1m2 0h1m1 0h1m0 0h1m0 0h1m0 0h1m2 0h1m0 0h1m0 0h1m0 0h1m0 0h1m1 0h1m1 0h1m5 0h1m1 0h1m0 0h1m0 0h1m0 0h1m1 0h1m0 0h1m0 0h1m0 0h1m0 0h1m2 0h1m0 0h1m1 0h1m0 0h1m1 0h1m0 0h1m0 0h1m1 0h1m0 0h1m0 0h1m0 0h1m2 0h1m0 0h1m1 0h1m1 0h1m2 0h1m0 0h1m2 0h1m1 0h1m0 0h1m0 0h1m1 0h1m0 0h1m1 0h1m0 0h1m0 0h1m1 0h1m1 0h1m1 0h1m0 0h1m1 0h1m0 0h1m1 0h1m0 0h1m0 0h1m0 0h1m0 0h1m1 0h1m0 0h1m1 0h1m0 0h1m0 0h1m3 0h1m0 0h1m2 0h1m1 0h1m3 0h1m2 0h1m2 0h1m0 0h1m4 0h1m0 0h1m1 0h1m0 0h1m0 0h1m1 0h1m0 0h1m0 0h1m0 0h1m0 0h1m0 0h1m0 0h1m0 0h1m0 0h1m0 0h1m0 0h1m1 0h1m2 0h1m0 0h1m1 0h1m0 0h1m3 0h1m1 0h1m3 0h1m0 0h1m8 0h1m6 0h1m0 0h1m0 0h1m5 0h1m2 0h1m2 0h1m1 0h1m1 0h1m1 0h1m4 0h1m0 0h1m0 0h1m1 0h1m0 0h1m0 0h1m2 0h1m2 0h1m0 0h1m0 0h1m3 0h1m0 0h1m0 0h1m0 0h1m5 0h1m0 0h1m1 0h1m0 0h1m2 0h1m4 0h1m3 0h1m1 0h1m2 0h1m3 0h1m1 0h1m0 0h1m0 0h1m3 0h1m1 0h1m0 0h1m0 0h1m5 0h1m0 0h1m0 0h1m1 0h1m0 0h1m0 0h1m0 0h1m0 0h1m2 0h1m3 0h1m0 0h1m0 0h1m0 0h1m0 0h1m0 0h1m1 0h1m2 0h1m1 0h1m0 0h1m0 0h1m1 0h1m1 0h1m1 0h1m1 0h1m0 0h1m0 0h1m0 0h1m3 0h1m0 0h1m0 0h1m0 0h1m0 0h1m0 0h1m0 0h1m0 0h1m3 0h1m0 0h1m1 0h1m0 0h1m2 0h1m1 0h1m0 0h1m0 0h1m0 0h1m1 0h1m0 0h1m0 0h1m0 0h1m1 0h1m0 0h1m2 0h1m0 0h1m2 0h1m0 0h1m2 0h1m0 0h1m1 0h1m0 0h1m0 0h1m0 0h1m0 0h1m1 0h1m1 0h1m1 0h1m3 0h1m1 0h1m8 0h1m0 0h1m1 0h1m0 0h1m0 0h1m1 0h1m0 0h1m6 0h1m0 0h1m0 0h1m0 0h1m0 0h1m7 0h1m0 0h1m0 0h1m0 0h1m1 0h1m0 0h1m0 0h1m0 0h1m0 0h1m3 0h1m0 0h1m1 0h1m0 0h1m1 0h1m0 0h1m1 0h1m0 0h1m0 0h1m0 0h1m0 0h1m1 0h1m0 0h1m2 0h1m0 0h1m0 0h1m1 0h1m1 0h1m0 0h1m0 0h1m0 0h1m1 0h1m2 0h1m1 0h1m1 0h1m0 0h1m0 0h1m0 0h1m2 0h1m0 0h1m0 0h1m1 0h1m1 0h1m0 0h1m1 0h1m1 0h1m1 0h1m1 0h1m0 0h1m2 0h1m0 0h1m0 0h1m2 0h1m0 0h1m0 0h1m0 0h1m0 0h1m0 0h1m0 0h1m0 0h1m1 0h1m2 0h1m1 0h1m0 0h1m0 0h1m0 0h1m1 0h1m4 0h1m0 0h1m1 0h1m0 0h1m0 0h1m0 0h1m3 0h1m0 0h1m0 0h1m0 0h1m6 0h1m0 0h1m1 0h1m4 0h1m2 0h1m1 0h1m0 0h1m0 0h1m1 0h1m1 0h1m3 0h1m3 0h1m0 0h1m2 0h1m0 0h1m1 0h1m1 0h1m6 0h1m1 0h1m0 0h1m0 0h1m0 0h1m0 0h1m0 0h1m0 0h1m1 0h1m0 0h1m0 0h1m-714 1h1m0 0h1m1 0h1m5 0h1m2 0h1m0 0h1m0 0h1m1 0h1m1 0h1m3 0h1m0 0h1m0 0h1m0 0h1m0 0h1m1 0h1m1 0h1m1 0h1m1 0h1m1 0h1m5 0h1m0 0h1m2 0h1m1 0h1m0 0h1m2 0h1m0 0h1m0 0h1m0 0h1m1 0h1m0 0h1m0 0h1m0 0h1m2 0h1m0 0h1m1 0h1m1 0h1m0 0h1m3 0h1m3 0h1m0 0h1m0 0h1m0 0h1m0 0h1m0 0h1m0 0h1m0 0h1m0 0h1m0 0h1m0 0h1m4 0h1m1 0h1m0 0h1m1 0h1m1 0h1m0 0h1m1 0h1m0 0h1m0 0h1m1 0h1m0 0h1m0 0h1m1 0h1m0 0h1m0 0h1m0 0h1m2 0h1m1 0h1m1 0h1m0 0h1m0 0h1m0 0h1m0 0h1m2 0h1m0 0h1m4 0h1m1 0h1m0 0h1m0 0h1m0 0h1m0 0h1m0 0h1m1 0h1m0 0h1m0 0h1m0 0h1m0 0h1m0 0h1m0 0h1m0 0h1m0 0h1m0 0h1m0 0h1m0 0h1m3 0h1m0 0h1m0 0h1m0 0h1m1 0h1m8 0h1m0 0h1m1 0h1m0 0h1m0 0h1m0 0h1m0 0h1m1 0h1m0 0h1m0 0h1m2 0h1m0 0h1m0 0h1m1 0h1m1 0h1m0 0h1m0 0h1m1 0h1m0 0h1m1 0h1m0 0h1m0 0h1m0 0h1m0 0h1m2 0h1m0 0h1m0 0h1m3 0h1m2 0h1m0 0h1m1 0h1m1 0h1m2 0h1m1 0h1m6 0h1m0 0h1m1 0h1m3 0h1m0 0h1m0 0h1m2 0h1m0 0h1m0 0h1m1 0h1m3 0h1m4 0h1m0 0h1m0 0h1m2 0h1m0 0h1m0 0h1m0 0h1m1 0h1m5 0h1m1 0h1m2 0h1m0 0h1m0 0h1m1 0h1m0 0h1m0 0h1m0 0h1m1 0h1m3 0h1m0 0h1m1 0h1m0 0h1m3 0h1m0 0h1m1 0h1m0 0h1m0 0h1m1 0h1m0 0h1m0 0h1m2 0h1m0 0h1m0 0h1m2 0h1m0 0h1m0 0h1m0 0h1m2 0h1m0 0h1m1 0h1m2 0h1m3 0h1m3 0h1m0 0h1m0 0h1m0 0h1m5 0h1m0 0h1m1 0h1m4 0h1m0 0h1m0 0h1m0 0h1m0 0h1m0 0h1m0 0h1m0 0h1m0 0h1m0 0h1m1 0h1m0 0h1m1 0h1m0 0h1m3 0h1m0 0h1m0 0h1m0 0h1m3 0h1m1 0h1m0 0h1m1 0h1m0 0h1m1 0h1m0 0h1m2 0h1m1 0h1m1 0h1m0 0h1m1 0h1m0 0h1m0 0h1m0 0h1m0 0h1m1 0h1m0 0h1m0 0h1m4 0h1m3 0h1m0 0h1m2 0h1m0 0h1m0 0h1m0 0h1m0 0h1m1 0h1m0 0h1m0 0h1m0 0h1m0 0h1m0 0h1m0 0h1m1 0h1m0 0h1m1 0h1m0 0h1m0 0h1m0 0h1m2 0h1m0 0h1m1 0h1m4 0h1m0 0h1m0 0h1m0 0h1m1 0h1m0 0h1m2 0h1m2 0h1m0 0h1m1 0h1m1 0h1m0 0h1m2 0h1m1 0h1m0 0h1m1 0h1m0 0h1m2 0h1m1 0h1m0 0h1m0 0h1m0 0h1m0 0h1m3 0h1m0 0h1m0 0h1m1 0h1m0 0h1m2 0h1m2 0h1m0 0h1m1 0h1m1 0h1m1 0h1m2 0h1m1 0h1m0 0h1m2 0h1m3 0h1m1 0h1m1 0h1m0 0h1m2 0h1m0 0h1m1 0h1m2 0h1m0 0h1m0 0h1m5 0h1m0 0h1m0 0h1m0 0h1m1 0h1m4 0h1m1 0h1m2 0h1m0 0h1m2 0h1m2 0h1m1 0h1m0 0h1m0 0h1m0 0h1m2 0h1m0 0h1m1 0h1m2 0h1m0 0h1m3 0h1m0 0h1m1 0h1m0 0h1m0 0h1m1 0h1m0 0h1m1 0h1m1 0h1m0 0h1m0 0h1m2 0h1m2 0h1m1 0h1m1 0h1m1 0h1m2 0h1m1 0h1m0 0h1m0 0h1m0 0h1m1 0h1m3 0h1m0 0h1m0 0h1m0 0h1m1 0h1m3 0h1m3 0h1m0 0h1m2 0h1m0 0h1m0 0h1m0 0h1m1 0h1m0 0h1m0 0h1m1 0h1m2 0h1m1 0h1m0 0h1m0 0h1m0 0h1m2 0h1m1 0h1m0 0h1m1 0h1m1 0h1m1 0h1m3 0h1m0 0h1m4 0h1m1 0h1m0 0h1m1 0h1m3 0h1m1 0h1m0 0h1m1 0h1m1 0h1m0 0h1m1 0h1m1 0h1m0 0h1m1 0h1m0 0h1m2 0h1m0 0h1m0 0h1m0 0h1m2 0h1m-714 1h1m1 0h1m0 0h1m0 0h1m2 0h1m0 0h1m0 0h1m1 0h1m0 0h1m0 0h1m5 0h1m2 0h1m0 0h1m0 0h1m2 0h1m2 0h1m1 0h1m0 0h1m0 0h1m1 0h1m0 0h1m0 0h1m0 0h1m1 0h1m0 0h1m0 0h1m1 0h1m0 0h1m0 0h1m0 0h1m0 0h1m0 0h1m0 0h1m3 0h1m0 0h1m0 0h1m0 0h1m0 0h1m0 0h1m0 0h1m2 0h1m0 0h1m0 0h1m0 0h1m2 0h1m1 0h1m0 0h1m0 0h1m1 0h1m1 0h1m0 0h1m1 0h1m0 0h1m1 0h1m0 0h1m0 0h1m2 0h1m1 0h1m0 0h1m0 0h1m0 0h1m0 0h1m0 0h1m3 0h1m2 0h1m0 0h1m0 0h1m0 0h1m3 0h1m1 0h1m2 0h1m1 0h1m4 0h1m0 0h1m0 0h1m0 0h1m0 0h1m1 0h1m1 0h1m0 0h1m2 0h1m1 0h1m1 0h1m4 0h1m1 0h1m0 0h1m0 0h1m0 0h1m0 0h1m0 0h1m0 0h1m1 0h1m0 0h1m2 0h1m2 0h1m0 0h1m5 0h1m0 0h1m0 0h1m0 0h1m2 0h1m1 0h1m0 0h1m2 0h1m0 0h1m1 0h1m1 0h1m0 0h1m1 0h1m1 0h1m0 0h1m0 0h1m0 0h1m1 0h1m1 0h1m1 0h1m1 0h1m0 0h1m0 0h1m1 0h1m0 0h1m3 0h1m1 0h1m3 0h1m4 0h1m0 0h1m0 0h1m0 0h1m0 0h1m0 0h1m0 0h1m0 0h1m2 0h1m4 0h1m0 0h1m0 0h1m0 0h1m1 0h1m0 0h1m1 0h1m0 0h1m0 0h1m1 0h1m2 0h1m0 0h1m2 0h1m0 0h1m2 0h1m5 0h1m0 0h1m2 0h1m0 0h1m0 0h1m0 0h1m0 0h1m0 0h1m1 0h1m3 0h1m1 0h1m2 0h1m2 0h1m2 0h1m0 0h1m1 0h1m2 0h1m1 0h1m0 0h1m1 0h1m0 0h1m3 0h1m0 0h1m0 0h1m0 0h1m0 0h1m1 0h1m0 0h1m1 0h1m0 0h1m0 0h1m1 0h1m1 0h1m2 0h1m0 0h1m0 0h1m0 0h1m0 0h1m1 0h1m3 0h1m0 0h1m1 0h1m1 0h1m0 0h1m0 0h1m0 0h1m0 0h1m0 0h1m0 0h1m0 0h1m4 0h1m0 0h1m0 0h1m1 0h1m1 0h1m1 0h1m0 0h1m0 0h1m0 0h1m3 0h1m0 0h1m1 0h1m1 0h1m2 0h1m1 0h1m0 0h1m0 0h1m2 0h1m1 0h1m0 0h1m1 0h1m0 0h1m0 0h1m2 0h1m1 0h1m4 0h1m0 0h1m0 0h1m0 0h1m0 0h1m0 0h1m3 0h1m2 0h1m1 0h1m1 0h1m0 0h1m0 0h1m0 0h1m0 0h1m2 0h1m1 0h1m1 0h1m1 0h1m0 0h1m4 0h1m0 0h1m0 0h1m0 0h1m0 0h1m3 0h1m1 0h1m3 0h1m0 0h1m0 0h1m0 0h1m0 0h1m0 0h1m0 0h1m0 0h1m0 0h1m0 0h1m1 0h1m0 0h1m0 0h1m0 0h1m1 0h1m5 0h1m0 0h1m0 0h1m0 0h1m3 0h1m1 0h1m0 0h1m0 0h1m1 0h1m3 0h1m4 0h1m0 0h1m0 0h1m0 0h1m1 0h1m0 0h1m4 0h1m0 0h1m0 0h1m0 0h1m1 0h1m0 0h1m3 0h1m1 0h1m0 0h1m1 0h1m0 0h1m0 0h1m0 0h1m2 0h1m1 0h1m2 0h1m0 0h1m0 0h1m0 0h1m0 0h1m0 0h1m1 0h1m1 0h1m3 0h1m0 0h1m0 0h1m4 0h1m0 0h1m2 0h1m0 0h1m2 0h1m5 0h1m0 0h1m0 0h1m1 0h1m1 0h1m0 0h1m0 0h1m1 0h1m1 0h1m0 0h1m0 0h1m0 0h1m0 0h1m0 0h1m0 0h1m4 0h1m5 0h1m0 0h1m0 0h1m0 0h1m0 0h1m3 0h1m2 0h1m1 0h1m0 0h1m1 0h1m0 0h1m1 0h1m1 0h1m1 0h1m2 0h1m1 0h1m0 0h1m1 0h1m3 0h1m1 0h1m1 0h1m2 0h1m0 0h1m0 0h1m0 0h1m0 0h1m0 0h1m2 0h1m0 0h1m1 0h1m0 0h1m0 0h1m1 0h1m1 0h1m1 0h1m0 0h1m2 0h1m2 0h1m0 0h1m1 0h1m0 0h1m0 0h1m0 0h1m1 0h1m0 0h1m0 0h1m0 0h1m4 0h1m0 0h1m3 0h1m0 0h1m3 0h1m0 0h1m0 0h1m1 0h1m1 0h1m1 0h1m0 0h1m0 0h1m0 0h1m0 0h1m0 0h1m1 0h1m1 0h1m3 0h1m2 0h1m0 0h1m0 0h1m1 0h1m-714 1h1m0 0h1m1 0h1m0 0h1m2 0h1m4 0h1m0 0h1m2 0h1m0 0h1m0 0h1m0 0h1m1 0h1m0 0h1m0 0h1m1 0h1m3 0h1m1 0h1m1 0h1m0 0h1m1 0h1m0 0h1m1 0h1m0 0h1m0 0h1m2 0h1m0 0h1m1 0h1m0 0h1m1 0h1m0 0h1m0 0h1m3 0h1m0 0h1m0 0h1m1 0h1m0 0h1m6 0h1m0 0h1m2 0h1m0 0h1m6 0h1m1 0h1m0 0h1m1 0h1m3 0h1m1 0h1m0 0h1m1 0h1m3 0h1m0 0h1m0 0h1m1 0h1m1 0h1m1 0h1m0 0h1m0 0h1m0 0h1m0 0h1m2 0h1m3 0h1m0 0h1m2 0h1m1 0h1m0 0h1m0 0h1m0 0h1m4 0h1m0 0h1m0 0h1m0 0h1m0 0h1m0 0h1m0 0h1m0 0h1m0 0h1m1 0h1m2 0h1m1 0h1m0 0h1m3 0h1m0 0h1m0 0h1m0 0h1m1 0h1m0 0h1m0 0h1m0 0h1m0 0h1m0 0h1m0 0h1m4 0h1m0 0h1m0 0h1m1 0h1m0 0h1m1 0h1m2 0h1m1 0h1m0 0h1m4 0h1m0 0h1m2 0h1m1 0h1m1 0h1m0 0h1m0 0h1m2 0h1m1 0h1m0 0h1m0 0h1m1 0h1m1 0h1m1 0h1m0 0h1m7 0h1m3 0h1m1 0h1m4 0h1m2 0h1m0 0h1m7 0h1m0 0h1m3 0h1m3 0h1m0 0h1m0 0h1m4 0h1m1 0h1m0 0h1m2 0h1m0 0h1m4 0h1m0 0h1m1 0h1m1 0h1m0 0h1m0 0h1m2 0h1m0 0h1m4 0h1m1 0h1m1 0h1m1 0h1m0 0h1m1 0h1m1 0h1m0 0h1m0 0h1m2 0h1m1 0h1m2 0h1m3 0h1m6 0h1m0 0h1m0 0h1m2 0h1m2 0h1m2 0h1m1 0h1m1 0h1m2 0h1m1 0h1m0 0h1m0 0h1m0 0h1m0 0h1m1 0h1m1 0h1m0 0h1m0 0h1m0 0h1m1 0h1m2 0h1m0 0h1m3 0h1m4 0h1m0 0h1m2 0h1m1 0h1m0 0h1m0 0h1m0 0h1m0 0h1m0 0h1m4 0h1m0 0h1m0 0h1m3 0h1m1 0h1m0 0h1m1 0h1m0 0h1m0 0h1m1 0h1m0 0h1m0 0h1m0 0h1m0 0h1m0 0h1m1 0h1m2 0h1m3 0h1m1 0h1m1 0h1m1 0h1m0 0h1m1 0h1m0 0h1m0 0h1m0 0h1m1 0h1m0 0h1m2 0h1m1 0h1m0 0h1m0 0h1m1 0h1m2 0h1m0 0h1m0 0h1m1 0h1m1 0h1m0 0h1m1 0h1m0 0h1m0 0h1m1 0h1m0 0h1m0 0h1m5 0h1m2 0h1m2 0h1m0 0h1m3 0h1m0 0h1m1 0h1m3 0h1m1 0h1m0 0h1m1 0h1m1 0h1m0 0h1m2 0h1m0 0h1m1 0h1m0 0h1m2 0h1m1 0h1m1 0h1m0 0h1m0 0h1m0 0h1m0 0h1m2 0h1m0 0h1m0 0h1m2 0h1m0 0h1m0 0h1m0 0h1m1 0h1m1 0h1m0 0h1m2 0h1m0 0h1m1 0h1m0 0h1m0 0h1m3 0h1m0 0h1m0 0h1m0 0h1m0 0h1m4 0h1m1 0h1m0 0h1m0 0h1m1 0h1m1 0h1m0 0h1m0 0h1m0 0h1m3 0h1m0 0h1m0 0h1m3 0h1m0 0h1m0 0h1m0 0h1m2 0h1m0 0h1m1 0h1m0 0h1m0 0h1m0 0h1m0 0h1m2 0h1m1 0h1m0 0h1m0 0h1m1 0h1m2 0h1m0 0h1m1 0h1m0 0h1m1 0h1m0 0h1m1 0h1m0 0h1m3 0h1m1 0h1m0 0h1m0 0h1m0 0h1m6 0h1m2 0h1m0 0h1m0 0h1m0 0h1m0 0h1m0 0h1m0 0h1m0 0h1m0 0h1m2 0h1m2 0h1m3 0h1m1 0h1m4 0h1m2 0h1m0 0h1m0 0h1m0 0h1m2 0h1m1 0h1m1 0h1m0 0h1m0 0h1m0 0h1m0 0h1m1 0h1m0 0h1m0 0h1m0 0h1m4 0h1m2 0h1m1 0h1m0 0h1m0 0h1m1 0h1m0 0h1m0 0h1m0 0h1m0 0h1m0 0h1m1 0h1m1 0h1m0 0h1m0 0h1m1 0h1m2 0h1m0 0h1m0 0h1m0 0h1m0 0h1m0 0h1m0 0h1m0 0h1m0 0h1m1 0h1m0 0h1m0 0h1m0 0h1m3 0h1m0 0h1m0 0h1m0 0h1m0 0h1m1 0h1m-710 1h1m0 0h1m0 0h1m1 0h1m0 0h1m1 0h1m2 0h1m2 0h1m0 0h1m0 0h1m1 0h1m0 0h1m0 0h1m1 0h1m0 0h1m0 0h1m0 0h1m2 0h1m0 0h1m0 0h1m1 0h1m0 0h1m5 0h1m1 0h1m0 0h1m0 0h1m0 0h1m0 0h1m0 0h1m0 0h1m0 0h1m0 0h1m3 0h1m1 0h1m1 0h1m0 0h1m1 0h1m1 0h1m1 0h1m0 0h1m3 0h1m0 0h1m3 0h1m0 0h1m0 0h1m0 0h1m0 0h1m0 0h1m0 0h1m0 0h1m0 0h1m2 0h1m1 0h1m1 0h1m0 0h1m1 0h1m0 0h1m1 0h1m1 0h1m0 0h1m2 0h1m1 0h1m0 0h1m1 0h1m3 0h1m0 0h1m0 0h1m0 0h1m1 0h1m0 0h1m0 0h1m5 0h1m0 0h1m0 0h1m5 0h1m3 0h1m2 0h1m0 0h1m0 0h1m0 0h1m0 0h1m0 0h1m0 0h1m0 0h1m1 0h1m0 0h1m0 0h1m0 0h1m1 0h1m0 0h1m0 0h1m0 0h1m0 0h1m0 0h1m0 0h1m4 0h1m1 0h1m0 0h1m0 0h1m1 0h1m1 0h1m0 0h1m0 0h1m2 0h1m0 0h1m0 0h1m0 0h1m1 0h1m0 0h1m0 0h1m2 0h1m0 0h1m0 0h1m1 0h1m0 0h1m0 0h1m4 0h1m2 0h1m2 0h1m0 0h1m2 0h1m1 0h1m1 0h1m0 0h1m0 0h1m2 0h1m0 0h1m0 0h1m1 0h1m0 0h1m0 0h1m0 0h1m0 0h1m4 0h1m0 0h1m0 0h1m0 0h1m2 0h1m1 0h1m0 0h1m2 0h1m2 0h1m0 0h1m1 0h1m1 0h1m0 0h1m0 0h1m0 0h1m1 0h1m0 0h1m1 0h1m0 0h1m1 0h1m1 0h1m0 0h1m0 0h1m0 0h1m2 0h1m1 0h1m2 0h1m0 0h1m1 0h1m0 0h1m1 0h1m0 0h1m1 0h1m3 0h1m1 0h1m0 0h1m0 0h1m0 0h1m1 0h1m1 0h1m1 0h1m0 0h1m1 0h1m0 0h1m3 0h1m0 0h1m1 0h1m1 0h1m0 0h1m3 0h1m0 0h1m1 0h1m0 0h1m2 0h1m0 0h1m0 0h1m0 0h1m1 0h1m0 0h1m0 0h1m0 0h1m1 0h1m0 0h1m1 0h1m0 0h1m1 0h1m0 0h1m0 0h1m1 0h1m0 0h1m0 0h1m0 0h1m0 0h1m1 0h1m2 0h1m0 0h1m0 0h1m0 0h1m1 0h1m2 0h1m0 0h1m2 0h1m0 0h1m2 0h1m1 0h1m0 0h1m0 0h1m1 0h1m0 0h1m2 0h1m0 0h1m1 0h1m1 0h1m2 0h1m0 0h1m0 0h1m0 0h1m0 0h1m4 0h1m2 0h1m2 0h1m0 0h1m3 0h1m0 0h1m4 0h1m1 0h1m1 0h1m2 0h1m6 0h1m0 0h1m3 0h1m0 0h1m1 0h1m0 0h1m0 0h1m0 0h1m1 0h1m0 0h1m0 0h1m0 0h1m3 0h1m0 0h1m4 0h1m3 0h1m0 0h1m0 0h1m1 0h1m0 0h1m3 0h1m0 0h1m0 0h1m1 0h1m0 0h1m0 0h1m0 0h1m0 0h1m0 0h1m0 0h1m0 0h1m0 0h1m3 0h1m2 0h1m0 0h1m2 0h1m0 0h1m2 0h1m0 0h1m1 0h1m0 0h1m0 0h1m3 0h1m0 0h1m0 0h1m4 0h1m2 0h1m0 0h1m1 0h1m0 0h1m4 0h1m0 0h1m5 0h1m1 0h1m2 0h1m2 0h1m0 0h1m0 0h1m0 0h1m0 0h1m2 0h1m0 0h1m1 0h1m0 0h1m0 0h1m0 0h1m1 0h1m1 0h1m1 0h1m0 0h1m2 0h1m1 0h1m6 0h1m0 0h1m3 0h1m0 0h1m2 0h1m1 0h1m1 0h1m1 0h1m3 0h1m2 0h1m0 0h1m0 0h1m0 0h1m3 0h1m0 0h1m0 0h1m1 0h1m0 0h1m1 0h1m0 0h1m0 0h1m0 0h1m0 0h1m0 0h1m0 0h1m2 0h1m3 0h1m0 0h1m0 0h1m1 0h1m0 0h1m0 0h1m0 0h1m0 0h1m0 0h1m0 0h1m5 0h1m0 0h1m0 0h1m0 0h1m1 0h1m2 0h1m1 0h1m1 0h1m0 0h1m7 0h1m0 0h1m1 0h1m3 0h1m0 0h1m1 0h1m1 0h1m1 0h1m2 0h1m2 0h1m1 0h1m1 0h1m0 0h1m1 0h1m0 0h1m0 0h1m1 0h1m2 0h1m1 0h1m0 0h1m2 0h1m2 0h1m0 0h1m1 0h1m0 0h1m0 0h1m0 0h1m1 0h1m0 0h1m0 0h1m1 0h1m-705 1h1m0 0h1m1 0h1m0 0h1m0 0h1m2 0h1m0 0h1m0 0h1m0 0h1m2 0h1m0 0h1m1 0h1m0 0h1m0 0h1m0 0h1m0 0h1m1 0h1m1 0h1m1 0h1m1 0h1m1 0h1m0 0h1m0 0h1m0 0h1m0 0h1m0 0h1m0 0h1m0 0h1m0 0h1m1 0h1m0 0h1m0 0h1m2 0h1m0 0h1m0 0h1m0 0h1m0 0h1m0 0h1m1 0h1m0 0h1m1 0h1m0 0h1m0 0h1m1 0h1m0 0h1m1 0h1m0 0h1m0 0h1m0 0h1m1 0h1m0 0h1m3 0h1m0 0h1m0 0h1m0 0h1m3 0h1m1 0h1m1 0h1m3 0h1m0 0h1m0 0h1m1 0h1m0 0h1m1 0h1m3 0h1m0 0h1m0 0h1m0 0h1m0 0h1m2 0h1m1 0h1m0 0h1m3 0h1m0 0h1m0 0h1m6 0h1m5 0h1m0 0h1m0 0h1m0 0h1m0 0h1m0 0h1m0 0h1m1 0h1m0 0h1m0 0h1m1 0h1m0 0h1m2 0h1m0 0h1m2 0h1m0 0h1m1 0h1m0 0h1m0 0h1m7 0h1m0 0h1m4 0h1m2 0h1m1 0h1m2 0h1m1 0h1m0 0h1m1 0h1m0 0h1m3 0h1m1 0h1m0 0h1m0 0h1m4 0h1m0 0h1m0 0h1m1 0h1m1 0h1m2 0h1m2 0h1m0 0h1m0 0h1m5 0h1m3 0h1m0 0h1m1 0h1m3 0h1m7 0h1m0 0h1m0 0h1m0 0h1m0 0h1m3 0h1m0 0h1m0 0h1m1 0h1m2 0h1m0 0h1m0 0h1m0 0h1m2 0h1m1 0h1m0 0h1m1 0h1m1 0h1m1 0h1m0 0h1m1 0h1m0 0h1m2 0h1m1 0h1m0 0h1m6 0h1m2 0h1m0 0h1m1 0h1m4 0h1m0 0h1m1 0h1m0 0h1m1 0h1m2 0h1m0 0h1m1 0h1m0 0h1m2 0h1m1 0h1m0 0h1m1 0h1m0 0h1m0 0h1m1 0h1m4 0h1m0 0h1m2 0h1m1 0h1m0 0h1m2 0h1m0 0h1m1 0h1m0 0h1m0 0h1m4 0h1m0 0h1m3 0h1m2 0h1m2 0h1m1 0h1m3 0h1m0 0h1m4 0h1m0 0h1m1 0h1m0 0h1m1 0h1m1 0h1m1 0h1m0 0h1m0 0h1m0 0h1m0 0h1m1 0h1m0 0h1m0 0h1m0 0h1m1 0h1m2 0h1m0 0h1m1 0h1m0 0h1m0 0h1m0 0h1m3 0h1m3 0h1m1 0h1m1 0h1m2 0h1m0 0h1m1 0h1m0 0h1m1 0h1m1 0h1m5 0h1m0 0h1m0 0h1m2 0h1m0 0h1m1 0h1m0 0h1m1 0h1m0 0h1m1 0h1m0 0h1m1 0h1m6 0h1m1 0h1m0 0h1m0 0h1m3 0h1m1 0h1m0 0h1m2 0h1m1 0h1m0 0h1m0 0h1m0 0h1m0 0h1m0 0h1m1 0h1m0 0h1m0 0h1m1 0h1m1 0h1m3 0h1m0 0h1m0 0h1m1 0h1m2 0h1m1 0h1m1 0h1m1 0h1m0 0h1m2 0h1m3 0h1m0 0h1m2 0h1m1 0h1m0 0h1m0 0h1m0 0h1m1 0h1m0 0h1m1 0h1m0 0h1m1 0h1m0 0h1m0 0h1m0 0h1m0 0h1m1 0h1m1 0h1m0 0h1m9 0h1m0 0h1m1 0h1m4 0h1m0 0h1m1 0h1m0 0h1m3 0h1m1 0h1m0 0h1m0 0h1m0 0h1m2 0h1m0 0h1m0 0h1m0 0h1m0 0h1m0 0h1m1 0h1m1 0h1m3 0h1m8 0h1m0 0h1m0 0h1m0 0h1m0 0h1m0 0h1m0 0h1m0 0h1m1 0h1m1 0h1m0 0h1m3 0h1m0 0h1m0 0h1m0 0h1m1 0h1m1 0h1m1 0h1m0 0h1m1 0h1m4 0h1m0 0h1m0 0h1m0 0h1m0 0h1m1 0h1m2 0h1m2 0h1m0 0h1m0 0h1m1 0h1m0 0h1m1 0h1m1 0h1m0 0h1m2 0h1m2 0h1m0 0h1m0 0h1m2 0h1m2 0h1m2 0h1m1 0h1m0 0h1m3 0h1m1 0h1m0 0h1m0 0h1m0 0h1m1 0h1m1 0h1m0 0h1m0 0h1m1 0h1m0 0h1m0 0h1m2 0h1m0 0h1m1 0h1m0 0h1m0 0h1m0 0h1m3 0h1m6 0h1m0 0h1m0 0h1m0 0h1m0 0h1m1 0h1m0 0h1m0 0h1m1 0h1m0 0h1m-709 1h1m0 0h1m0 0h1m1 0h1m2 0h1m1 0h1m2 0h1m0 0h1m1 0h1m1 0h1m0 0h1m0 0h1m2 0h1m1 0h1m0 0h1m1 0h1m0 0h1m1 0h1m4 0h1m4 0h1m0 0h1m3 0h1m0 0h1m2 0h1m1 0h1m0 0h1m0 0h1m1 0h1m1 0h1m0 0h1m0 0h1m4 0h1m0 0h1m3 0h1m0 0h1m0 0h1m0 0h1m0 0h1m0 0h1m0 0h1m0 0h1m0 0h1m1 0h1m2 0h1m0 0h1m2 0h1m1 0h1m0 0h1m1 0h1m1 0h1m1 0h1m3 0h1m1 0h1m0 0h1m1 0h1m0 0h1m0 0h1m0 0h1m1 0h1m0 0h1m3 0h1m4 0h1m0 0h1m0 0h1m2 0h1m1 0h1m1 0h1m0 0h1m0 0h1m1 0h1m5 0h1m3 0h1m2 0h1m0 0h1m0 0h1m0 0h1m1 0h1m0 0h1m0 0h1m0 0h1m0 0h1m0 0h1m2 0h1m2 0h1m0 0h1m0 0h1m1 0h1m2 0h1m2 0h1m0 0h1m1 0h1m1 0h1m5 0h1m0 0h1m0 0h1m1 0h1m1 0h1m3 0h1m0 0h1m0 0h1m0 0h1m0 0h1m0 0h1m2 0h1m1 0h1m0 0h1m0 0h1m1 0h1m0 0h1m5 0h1m1 0h1m3 0h1m2 0h1m2 0h1m0 0h1m0 0h1m0 0h1m3 0h1m0 0h1m1 0h1m1 0h1m0 0h1m3 0h1m2 0h1m1 0h1m0 0h1m2 0h1m0 0h1m0 0h1m1 0h1m1 0h1m3 0h1m0 0h1m0 0h1m4 0h1m1 0h1m1 0h1m0 0h1m0 0h1m0 0h1m2 0h1m0 0h1m1 0h1m1 0h1m5 0h1m0 0h1m0 0h1m1 0h1m1 0h1m0 0h1m0 0h1m0 0h1m2 0h1m0 0h1m0 0h1m3 0h1m2 0h1m1 0h1m0 0h1m2 0h1m2 0h1m0 0h1m1 0h1m2 0h1m0 0h1m0 0h1m0 0h1m1 0h1m0 0h1m1 0h1m0 0h1m9 0h1m1 0h1m0 0h1m0 0h1m0 0h1m2 0h1m3 0h1m3 0h1m0 0h1m0 0h1m1 0h1m1 0h1m0 0h1m1 0h1m3 0h1m0 0h1m1 0h1m0 0h1m0 0h1m0 0h1m0 0h1m0 0h1m1 0h1m2 0h1m1 0h1m0 0h1m1 0h1m0 0h1m2 0h1m2 0h1m0 0h1m0 0h1m1 0h1m0 0h1m0 0h1m2 0h1m1 0h1m0 0h1m3 0h1m0 0h1m3 0h1m1 0h1m0 0h1m0 0h1m3 0h1m2 0h1m0 0h1m1 0h1m0 0h1m0 0h1m1 0h1m0 0h1m12 0h1m3 0h1m1 0h1m4 0h1m1 0h1m6 0h1m0 0h1m2 0h1m1 0h1m0 0h1m3 0h1m0 0h1m1 0h1m1 0h1m0 0h1m2 0h1m1 0h1m3 0h1m0 0h1m0 0h1m2 0h1m0 0h1m1 0h1m3 0h1m1 0h1m0 0h1m1 0h1m0 0h1m0 0h1m3 0h1m0 0h1m6 0h1m1 0h1m0 0h1m5 0h1m3 0h1m1 0h1m0 0h1m2 0h1m0 0h1m2 0h1m2 0h1m1 0h1m2 0h1m0 0h1m0 0h1m3 0h1m1 0h1m2 0h1m0 0h1m0 0h1m0 0h1m1 0h1m0 0h1m0 0h1m2 0h1m0 0h1m0 0h1m2 0h1m2 0h1m0 0h1m3 0h1m5 0h1m2 0h1m1 0h1m1 0h1m0 0h1m5 0h1m0 0h1m0 0h1m0 0h1m3 0h1m1 0h1m0 0h1m0 0h1m2 0h1m0 0h1m0 0h1m0 0h1m2 0h1m0 0h1m0 0h1m1 0h1m6 0h1m1 0h1m0 0h1m1 0h1m0 0h1m1 0h1m0 0h1m3 0h1m1 0h1m0 0h1m2 0h1m2 0h1m0 0h1m0 0h1m4 0h1m0 0h1m1 0h1m0 0h1m0 0h1m0 0h1m1 0h1m0 0h1m0 0h1m0 0h1m2 0h1m1 0h1m3 0h1m0 0h1m1 0h1m3 0h1m1 0h1m0 0h1m0 0h1m1 0h1m1 0h1m0 0h1m-713 1h1m0 0h1m0 0h1m1 0h1m0 0h1m4 0h1m0 0h1m5 0h1m2 0h1m1 0h1m0 0h1m2 0h1m3 0h1m0 0h1m2 0h1m0 0h1m0 0h1m4 0h1m2 0h1m2 0h1m1 0h1m2 0h1m2 0h1m1 0h1m0 0h1m0 0h1m0 0h1m9 0h1m0 0h1m4 0h1m0 0h1m0 0h1m4 0h1m0 0h1m0 0h1m5 0h1m1 0h1m0 0h1m0 0h1m1 0h1m1 0h1m1 0h1m2 0h1m2 0h1m1 0h1m0 0h1m0 0h1m0 0h1m1 0h1m3 0h1m1 0h1m1 0h1m0 0h1m1 0h1m1 0h1m3 0h1m4 0h1m1 0h1m0 0h1m1 0h1m1 0h1m0 0h1m0 0h1m1 0h1m0 0h1m0 0h1m1 0h1m2 0h1m0 0h1m1 0h1m0 0h1m1 0h1m1 0h1m0 0h1m3 0h1m1 0h1m1 0h1m0 0h1m1 0h1m1 0h1m2 0h1m0 0h1m0 0h1m1 0h1m1 0h1m1 0h1m7 0h1m2 0h1m1 0h1m2 0h1m0 0h1m2 0h1m0 0h1m9 0h1m0 0h1m2 0h1m1 0h1m3 0h1m9 0h1m2 0h1m1 0h1m0 0h1m0 0h1m4 0h1m0 0h1m0 0h1m0 0h1m0 0h1m1 0h1m2 0h1m1 0h1m2 0h1m2 0h1m2 0h1m0 0h1m0 0h1m1 0h1m1 0h1m2 0h1m1 0h1m0 0h1m2 0h1m1 0h1m2 0h1m1 0h1m0 0h1m0 0h1m2 0h1m0 0h1m0 0h1m0 0h1m2 0h1m0 0h1m2 0h1m0 0h1m0 0h1m2 0h1m0 0h1m1 0h1m1 0h1m1 0h1m1 0h1m3 0h1m0 0h1m0 0h1m1 0h1m0 0h1m4 0h1m0 0h1m0 0h1m0 0h1m1 0h1m2 0h1m0 0h1m1 0h1m0 0h1m0 0h1m3 0h1m1 0h1m0 0h1m2 0h1m0 0h1m1 0h1m1 0h1m0 0h1m3 0h1m0 0h1m1 0h1m0 0h1m0 0h1m1 0h1m3 0h1m0 0h1m2 0h1m0 0h1m0 0h1m1 0h1m0 0h1m1 0h1m0 0h1m2 0h1m1 0h1m1 0h1m0 0h1m0 0h1m1 0h1m1 0h1m4 0h1m2 0h1m1 0h1m0 0h1m2 0h1m0 0h1m0 0h1m0 0h1m0 0h1m0 0h1m4 0h1m0 0h1m1 0h1m4 0h1m7 0h1m1 0h1m0 0h1m1 0h1m2 0h1m0 0h1m0 0h1m0 0h1m2 0h1m0 0h1m3 0h1m0 0h1m6 0h1m0 0h1m0 0h1m0 0h1m3 0h1m1 0h1m5 0h1m2 0h1m0 0h1m7 0h1m3 0h1m2 0h1m1 0h1m0 0h1m0 0h1m0 0h1m2 0h1m1 0h1m0 0h1m3 0h1m3 0h1m2 0h1m0 0h1m4 0h1m6 0h1m1 0h1m0 0h1m0 0h1m0 0h1m1 0h1m1 0h1m0 0h1m2 0h1m2 0h1m0 0h1m0 0h1m0 0h1m0 0h1m0 0h1m1 0h1m0 0h1m1 0h1m1 0h1m2 0h1m1 0h1m1 0h1m0 0h1m2 0h1m3 0h1m4 0h1m2 0h1m0 0h1m0 0h1m0 0h1m3 0h1m0 0h1m0 0h1m10 0h1m0 0h1m0 0h1m7 0h1m1 0h1m1 0h1m1 0h1m1 0h1m3 0h1m2 0h1m2 0h1m0 0h1m0 0h1m2 0h1m3 0h1m2 0h1m0 0h1m2 0h1m4 0h1m1 0h1m6 0h1m2 0h1m0 0h1m0 0h1m3 0h1m0 0h1m1 0h1m0 0h1m3 0h1m0 0h1m0 0h1m2 0h1m7 0h1m2 0h1m2 0h1m1 0h1m2 0h1m0 0h1m-708 1h1m0 0h1m0 0h1m1 0h1m2 0h1m0 0h1m1 0h1m1 0h1m2 0h1m2 0h1m0 0h1m1 0h1m0 0h1m2 0h1m0 0h1m0 0h1m0 0h1m4 0h1m0 0h1m4 0h1m0 0h1m7 0h1m1 0h1m0 0h1m5 0h1m1 0h1m1 0h1m0 0h1m0 0h1m2 0h1m0 0h1m6 0h1m0 0h1m0 0h1m3 0h1m5 0h1m0 0h1m9 0h1m0 0h1m0 0h1m9 0h1m2 0h1m0 0h1m6 0h1m0 0h1m0 0h1m1 0h1m0 0h1m0 0h1m0 0h1m0 0h1m2 0h1m1 0h1m0 0h1m0 0h1m0 0h1m0 0h1m1 0h1m4 0h1m0 0h1m3 0h1m0 0h1m7 0h1m3 0h1m0 0h1m0 0h1m8 0h1m2 0h1m0 0h1m1 0h1m1 0h1m5 0h1m2 0h1m2 0h1m0 0h1m1 0h1m1 0h1m1 0h1m10 0h1m1 0h1m0 0h1m4 0h1m2 0h1m2 0h1m3 0h1m1 0h1m4 0h1m2 0h1m0 0h1m0 0h1m1 0h1m3 0h1m0 0h1m0 0h1m0 0h1m0 0h1m11 0h1m1 0h1m3 0h1m3 0h1m4 0h1m0 0h1m0 0h1m4 0h1m10 0h1m0 0h1m1 0h1m0 0h1m1 0h1m0 0h1m6 0h1m0 0h1m1 0h1m6 0h1m0 0h1m0 0h1m0 0h1m1 0h1m3 0h1m1 0h1m0 0h1m1 0h1m2 0h1m3 0h1m1 0h1m5 0h1m11 0h1m0 0h1m3 0h1m3 0h1m0 0h1m0 0h1m2 0h1m3 0h1m6 0h1m0 0h1m5 0h1m0 0h1m1 0h1m11 0h1m1 0h1m0 0h1m4 0h1m1 0h1m2 0h1m0 0h1m4 0h1m0 0h1m0 0h1m1 0h1m4 0h1m1 0h1m4 0h1m0 0h1m2 0h1m0 0h1m5 0h1m0 0h1m0 0h1m4 0h1m1 0h1m0 0h1m1 0h1m0 0h1m2 0h1m3 0h1m15 0h1m0 0h1m2 0h1m0 0h1m2 0h1m0 0h1m0 0h1m0 0h1m2 0h1m2 0h1m0 0h1m1 0h1m1 0h1m1 0h1m3 0h1m0 0h1m1 0h1m5 0h1m1 0h1m1 0h1m3 0h1m2 0h1m6 0h1m1 0h1m3 0h1m0 0h1m3 0h1m0 0h1m0 0h1m0 0h1m3 0h1m0 0h1m4 0h1m4 0h1m0 0h1m3 0h1m0 0h1m1 0h1m2 0h1m2 0h1m4 0h1m0 0h1m3 0h1m0 0h1m0 0h1m1 0h1m1 0h1m0 0h1m0 0h1m1 0h1m1 0h1m0 0h1m2 0h1m2 0h1m0 0h1m0 0h1m4 0h1m0 0h1m0 0h1m2 0h1m0 0h1m0 0h1m0 0h1m0 0h1m7 0h1m3 0h1m0 0h1m0 0h1m2 0h1m7 0h1m0 0h1m2 0h1m3 0h1m0 0h1m2 0h1m0 0h1m2 0h1m3 0h1m0 0h1m2 0h1m1 0h1m2 0h1m3 0h1m1 0h1m0 0h1m1 0h1m0 0h1m1 0h1m1 0h1m0 0h1m0 0h1m4 0h1m-709 1h1m2 0h1m2 0h1m7 0h1m5 0h1m7 0h1m3 0h1m3 0h1m0 0h1m5 0h1m5 0h1m5 0h1m2 0h1m5 0h1m1 0h1m2 0h1m3 0h1m7 0h1m4 0h1m0 0h1m6 0h1m1 0h1m5 0h1m7 0h1m23 0h1m5 0h1m5 0h1m4 0h1m0 0h1m6 0h1m18 0h1m1 0h1m0 0h1m6 0h1m0 0h1m8 0h1m2 0h1m11 0h1m0 0h1m3 0h1m0 0h1m0 0h1m0 0h1m1 0h1m0 0h1m3 0h1m11 0h1m10 0h1m2 0h1m10 0h1m0 0h1m0 0h1m1 0h1m1 0h1m0 0h1m4 0h1m6 0h1m1 0h1m8 0h1m4 0h1m2 0h1m0 0h1m1 0h1m8 0h1m5 0h1m2 0h1m7 0h1m3 0h1m0 0h1m3 0h1m2 0h1m13 0h1m5 0h1m3 0h1m4 0h1m1 0h1m5 0h1m5 0h1m9 0h1m0 0h1m3 0h1m7 0h1m0 0h1m15 0h1m2 0h1m15 0h1m0 0h1m1 0h1m9 0h1m0 0h1m5 0h1m7 0h1m2 0h1m1 0h1m4 0h1m7 0h1m2 0h1m1 0h1m0 0h1m8 0h1m1 0h1m0 0h1m4 0h1m4 0h1m3 0h1m1 0h1m1 0h1m1 0h1m14 0h1m4 0h1m4 0h1m9 0h1m0 0h1m0 0h1m2 0h1m2 0h1m3 0h1m6 0h1m11 0h1m1 0h1m6 0h1m1 0h1m1 0h1m4 0h1m20 0h1m6 0h1m0 0h1m2 0h1m7 0h1m0 0h1m2 0h1m1 0h1m2 0h1m20 0h1m0 0h1m0 0h1m5 0h1m9 0h1m-677 1h1m6 0h1m23 0h1m0 0h1m28 0h1m0 0h1m5 0h1m4 0h1m0 0h1m3 0h1m14 0h1m2 0h1m37 0h1m0 0h1m0 0h1m0 0h1m0 0h1m3 0h1m5 0h1m16 0h1m3 0h1m5 0h1m4 0h1m10 0h1m6 0h1m4 0h1m10 0h1m3 0h1m3 0h1m19 0h1m24 0h1m12 0h1m0 0h1m21 0h1m2 0h1m33 0h1m1 0h1m1 0h1m1 0h1m1 0h1m27 0h1m18 0h1m12 0h1m10 0h1m5 0h1m2 0h1m4 0h1m4 0h1m7 0h1m15 0h1m1 0h1m8 0h1m9 0h1m6 0h1m9 0h1m3 0h1m1 0h1m0 0h1m3 0h1m0 0h1m12 0h1m12 0h1m11 0h1m8 0h1m15 0h1m4 0h1m1 0h1m32 0h1m21 0h1m3 0h1m17 0h1m0 0h1m4 0h1m0 0h1m0 0h1m4 0h1m5 0h1m-694 1h1m39 0h1m15 0h1m1 0h1m0 0h1m3 0h1m4 0h1m5 0h1m2 0h1m8 0h1m62 0h1m17 0h1m10 0h1m1 0h1m24 0h1m8 0h1m14 0h1m13 0h1m2 0h1m24 0h1m9 0h1m9 0h1m30 0h1m9 0h1m17 0h1m5 0h1m1 0h1m95 0h1m1 0h1m6 0h1m53 0h1m3 0h1m64 0h1m7 0h1m43 0h1m3 0h1m5 0h1m8 0h1m14 0h1m-619 1h1m35 0h1m99 0h1m62 0h1m9 0h1m21 0h1m30 0h1m13 0h1m70 0h1m5 0h1m46 0h1m3 0h1m51 0h1m25 0h1m28 0h1m5 0h1m23 0h1m38 0h1m4 0h1m17 0h1m39 0h1m-652 1h1m53 0h1m75 0h1m70 0h1m17 0h1m22 0h1m75 0h1m115 0h1m67 0h1m107 0h1m16 0h1m-660 1h1m159 0h1m101 0h1m28 0h1m230 0h1m4 0h1m17 0h1m-555 1h1m151 0h1m25 0h1m198 0h1m243 0h1m-607 17h1m3 0h1m22 0h1m44 0h1m103 0h1m4 0h1m58 0h1m17 0h1m7 0h1m6 0h1m106 0h1m94 0h1m28 0h1m21 0h1m17 0h1m14 0h1m80 0h1m-645 1h1m69 0h1m0 0h1m0 0h1m90 0h1m12 0h1m42 0h1m29 0h1m0 0h1m47 0h1m97 0h1m39 0h1m14 0h1m2 0h1m1 0h1m41 0h1m4 0h1m1 0h1m16 0h1m24 0h1m9 0h1m4 0h1m12 0h1m9 0h1m5 0h1" stroke="#ffffff" stroke-width="1" fill="none"/></g>
<g id="matplotlib.axis_1">
<g id="xtick_1">
<g id="line2d_1">
<defs>
<path id="mdc1538e322" d="M 0 0 L 0 -6 " style="stroke: #000000; stroke-width: 1.3"/>
</defs>
<g>
<use href="#mdc1538e322" x="248.34" y="455" style="stroke: #000000; stroke-width: 1.3"/>
</g>
</g>
</g>
<g id="xtick_2">
<g id="line2d_2">
<g>
<use href="#mdc1538e322" x="337.59" y="455" style="stroke: #000000; stroke-width: 1.3"/>
</g>
</g>
</g>
<g id="xtick_3">
<g id="line2d_3">
<g>
<use href="#mdc1538e322" x="426.84" y="455" style="stroke: #000000; stroke-width: 1.3"/>
</g>
</g>
</g>
<g id="xtick_4">
<g id="line2d_4">
<g>
<use href="#mdc1538e322" x="516.09" y="455" style="stroke: #000000; stroke-width: 1.3"/>
</g>
</g>
</g>
<g id="xtick_5">
<g id="line2d_5">
<g>
<use href="#mdc1538e322" x="605.34" y="455" style="stroke: #000000; stroke-width: 1.3"/>
</g>
</g>
</g>
<g id="xtick_6">
<g id="line2d_6">
<g>
<use href="#mdc1538e322" x="694.59" y="455" style="stroke: #000000; stroke-width: 1.3"/>
</g>
</g>
</g>
<g id="xtick_7">
<g id="line2d_7">
<g>
<use href="#mdc1538e322" x="783.84" y="455" style="stroke: #000000; stroke-width: 1.3"/>
</g>
</g>
</g>
<g id="xtick_8">
<g id="line2d_8">
<g>
<use href="#mdc1538e322" x="873.09" y="455" style="stroke: #000000; stroke-width: 1.3"/>
</g>
</g>
</g>
</g>
<g id="matplotlib.axis_2">
<g id="ytick_1">
<g id="line2d_9">
<defs>
<path id="m0a4a72b5c7" d="M 0 0 L 6 0 " style="stroke: #000000; stroke-width: 1.3"/>
</defs>
<g>
<use href="#m0a4a72b5c7" x="200" y="455" style="stroke: #000000; stroke-width: 1.3"/>
</g>
</g>
<g id="line2d_10">
<defs>
<path id="m71070be67f" d="M 0 0 L -6 0 " style="stroke: #000000; stroke-width: 1.3"/>
</defs>
<g>
<use href="#m71070be67f" x="914" y="455" style="stroke: #000000; stroke-width: 1.3"/>
</g>
</g>
<g id="text_1">
<text style="font-size: 21.20px; font-family: 'Liberation Sans', sans-serif; text-anchor: end" x="195" y="462.598437" transform="rotate(-0 195 462.598437)" textLength="12.72" lengthAdjust="spacingAndGlyphs">2</text>
</g>
</g>
<g id="ytick_2">
<g id="line2d_11">
<g>
<use href="#m0a4a72b5c7" x="200" y="397.5" style="stroke: #000000; stroke-width: 1.3"/>
</g>
</g>
<g id="line2d_12">
<g>
<use href="#m71070be67f" x="914" y="397.5" style="stroke: #000000; stroke-width: 1.3"/>
</g>
</g>
<g id="text_2">
<text style="font-size: 21.20px; font-family: 'Liberation Sans', sans-serif; text-anchor: end" x="195" y="405.098437" transform="rotate(-0 195 405.098437)" textLength="12.72" lengthAdjust="spacingAndGlyphs">3</text>
</g>
</g>
<g id="ytick_3">
<g id="line2d_13">
<g>
<use href="#m0a4a72b5c7" x="200" y="340" style="stroke: #000000; stroke-width: 1.3"/>
</g>
</g>
<g id="line2d_14">
<g>
<use href="#m71070be67f" x="914" y="340" style="stroke: #000000; stroke-width: 1.3"/>
</g>
</g>
<g id="text_3">
<text style="font-size: 21.20px; font-family: 'Liberation Sans', sans-serif; text-anchor: end" x="195" y="347.598437" transform="rotate(-0 195 347.598437)" textLength="12.72" lengthAdjust="spacingAndGlyphs">4</text>
</g>
</g>
<g id="ytick_4">
<g id="line2d_15">
<g>
<use href="#m0a4a72b5c7" x="200" y="282.5" style="stroke: #000000; stroke-width: 1.3"/>
</g>
</g>
<g id="line2d_16">
<g>
<use href="#m71070be67f" x="914" y="282.5" style="stroke: #000000; stroke-width: 1.3"/>
</g>
</g>
<g id="text_4">
<text style="font-size: 21.20px; font-family: 'Liberation Sans', sans-serif; text-anchor: end" x="195" y="290.098437" transform="rotate(-0 195 290.098437)" textLength="12.72" lengthAdjust="spacingAndGlyphs">5</text>
</g>
</g>
<g id="ytick_5">
<g id="line2d_17">
<g>
<use href="#m0a4a72b5c7" x="200" y="225" style="stroke: #000000; stroke-width: 1.3"/>
</g>
</g>
<g id="line2d_18">
<g>
<use href="#m71070be67f" x="914" y="225" style="stroke: #000000; stroke-width: 1.3"/>
</g>
</g>
<g id="text_5">
<text style="font-size: 21.20px; font-family: 'Liberation Sans', sans-serif; text-anchor: end" x="195" y="232.598437" transform="rotate(-0 195 232.598437)" textLength="12.72" lengthAdjust="spacingAndGlyphs">6</text>
</g>
</g>
<g id="ytick_6">
<g id="line2d_19">
<g>
<use href="#m0a4a72b5c7" x="200" y="167.5" style="stroke: #000000; stroke-width: 1.3"/>
</g>
</g>
<g id="line2d_20">
<g>
<use href="#m71070be67f" x="914" y="167.5" style="stroke: #000000; stroke-width: 1.3"/>
</g>
</g>
<g id="text_6">
<text style="font-size: 21.20px; font-family: 'Liberation Sans', sans-serif; text-anchor: end" x="195" y="175.098437" transform="rotate(-0 195 175.098437)" textLength="12.72" lengthAdjust="spacingAndGlyphs">7</text>
</g>
</g>
<g id="ytick_7">
<g id="line2d_21">
<g>
<use href="#m0a4a72b5c7" x="200" y="110" style="stroke: #000000; stroke-width: 1.3"/>
</g>
</g>
<g id="line2d_22">
<g>
<use href="#m71070be67f" x="914" y="110" style="stroke: #000000; stroke-width: 1.3"/>
</g>
</g>
<g id="text_7">
<text style="font-size: 21.20px; font-family: 'Liberation Sans', sans-serif; text-anchor: end" x="195" y="117.598437" transform="rotate(-0 195 117.598437)" textLength="12.72" lengthAdjust="spacingAndGlyphs">8</text>
</g>
</g>
</g>
<g id="line2d_23">
<path d="M 235 110 L 235 120 " clip-path="url(#p9bf790744e)" style="fill: none; stroke: #000000; stroke-width: 4"/>
</g>
<g id="line2d_24">
<path d="M 280.5 110 L 280.5 120 " clip-path="url(#p9bf790744e)" style="fill: none; stroke: #ff0000; stroke-width: 4"/>
</g>
<g id="line2d_25">
<path d="M 324.25 110 L 324.25 120 " clip-path="url(#p9bf790744e)" style="fill: none; stroke: #000000; stroke-width: 4"/>
</g>
<g id="line2d_26">
<path d="M 369.75 110 L 369.75 120 " clip-path="url(#p9bf790744e)" style="fill: none; stroke: #ff0000; stroke-width: 4"/>
</g>
<g id="line2d_27">
<path d="M 413.5 110 L 413.5 120 " clip-path="url(#p9bf790744e)" style="fill: none; stroke: #000000; stroke-width: 4"/>
</g>
<g id="line2d_28">
<path d="M 459 110 L 459 120 " clip-path="url(#p9bf790744e)" style="fill: none; stroke: #ff0000; stroke-width: 4"/>
</g>
<g id="line2d_29">
<path d="M 502.75 110 L 502.75 120 " clip-path="url(#p9bf790744e)" style="fill: none; stroke: #000000; stroke-width: 4"/>
</g>
<g id="line2d_30">
<path d="M 548.25 110 L 548.25 120 " clip-path="url(#p9bf790744e)" style="fill: none; stroke: #ff0000; stroke-width: 4"/>
</g>
<g id="line2d_31">
<path d="M 592 110 L 592 120 " clip-path="url(#p9bf790744e)" style="fill: none; stroke: #000000; stroke-width: 4"/>
</g>
<g id="line2d_32">
<path d="M 637.5 110 L 637.5 120 " clip-path="url(#p9bf790744e)" style="fill: none; stroke: #ff0000; stroke-width: 4"/>
</g>
<g id="line2d_33">
<path d="M 681.25 110 L 681.25 120 " clip-path="url(#p9bf790744e)" style="fill: none; stroke: #000000; stroke-width: 4"/>
</g>
<g id="line2d_34">
<path d="M 726.75 110 L 726.75 120 " clip-path="url(#p9bf790744e)" style="fill: none; stroke: #ff0000; stroke-width: 4"/>
</g>
<g id="line2d_35">
<path d="M 770.5 110 L 770.5 120 " clip-path="url(#p9bf790744e)" style="fill: none; stroke: #000000; stroke-width: 4"/>
</g>
<g id="line2d_36">
<path d="M 816 110 L 816 120 " clip-path="url(#p9bf790744e)" style="fill: none; stroke: #ff0000; stroke-width: 4"/>
</g>
<g id="patch_3">
<path d="M 200 455 L 200 110 " style="fill: none; stroke: #000000; stroke-width: 2; stroke-linejoin: miter; stroke-linecap: square"/>
</g>
<g id="patch_4">
<path d="M 914 455 L 914 110 " style="fill: none; stroke: #000000; stroke-width: 2; stroke-linejoin: miter; stroke-linecap: square"/>
</g>
<g id="patch_5">
<path d="M 200 455 L 914 455 " style="fill: none; stroke: #000000; stroke-width: 2; stroke-linejoin: miter; stroke-linecap: square"/>
</g>
<g id="patch_6">
<path d="M 200 110 L 914 110 " style="fill: none; stroke: #000000; stroke-width: 2; stroke-linejoin: miter; stroke-linecap: square"/>
</g>
<g id="line2d_37">
<path d="M 200 235.69 L 201 234.71 L 202 233.48 L 203.5 231.11 L 205 228.65 L 206 227.33 L 207 226.3 L 208.5 225.13 L 210 224.26 L 211.5 223.66 L 214.5 222.79 L 215.5 222.12 L 216.5 221.17 L 218.5 218.88 L 219.5 217.57 L 220.5 215.9 L 221.5 213.75 L 224 208.09 L 225 206.35 L 226 205.06 L 227 204.27 L 227.5 204.05 L 228 203.96 L 229 204.11 L 230 204.62 L 231.5 205.82 L 233 206.99 L 234 207.4 L 235 207.41 L 236 207 L 237.5 205.88 L 239 204.78 L 240.5 204.06 L 241.5 203.78 L 242.5 203.7 L 243.5 203.91 L 244.5 204.54 L 245.5 205.65 L 246.5 207.29 L 248 210.58 L 251.5 218.58 L 252.5 220.61 L 253.5 221.98 L 254.5 222.66 L 256 223.07 L 258 223.62 L 259.5 224.23 L 261 225.07 L 262.5 226.17 L 264.5 228 L 266.5 230.16 L 268 232.07 L 271.5 236.8 L 272.5 237.81 L 273.5 238.51 L 274.5 238.9 L 275.5 239.05 L 277.5 239.01 L 282 238.8 L 284 238.39 L 286 237.71 L 287.5 236.95 L 289 235.9 L 290 234.98 L 291 233.81 L 292 232.36 L 295 227.63 L 296 226.53 L 297.5 225.3 L 299 224.39 L 300.5 223.74 L 304 222.65 L 305 221.91 L 306.5 220.34 L 308.5 217.92 L 309.5 216.36 L 310.5 214.32 L 313.5 207.62 L 314.5 205.98 L 315.5 204.82 L 316.5 204.14 L 317 203.99 L 318 204.03 L 319 204.46 L 320 205.18 L 322 206.82 L 323 207.34 L 324 207.45 L 325 207.14 L 326 206.48 L 328 204.94 L 329.5 204.15 L 330.5 203.83 L 331.5 203.7 L 332.5 203.83 L 333.5 204.34 L 334.5 205.32 L 335.5 206.83 L 336.5 208.85 L 341.5 220.15 L 342.5 221.72 L 343 222.21 L 344 222.76 L 348.5 224.11 L 350 224.91 L 351.5 225.97 L 353.5 227.75 L 355.5 229.87 L 357 231.73 L 361 237.08 L 362 238.01 L 363 238.64 L 364 238.96 L 365 239.06 L 370 238.95 L 372 238.68 L 374 238.17 L 375.5 237.6 L 377 236.8 L 378.5 235.69 L 379.5 234.71 L 380.5 233.48 L 382 231.11 L 383.5 228.65 L 384.5 227.33 L 385.5 226.3 L 387 225.13 L 388.5 224.26 L 390 223.66 L 393 222.79 L 394 222.12 L 395 221.17 L 397 218.88 L 398 217.57 L 399 215.9 L 400 213.75 L 402.5 208.09 L 403.5 206.35 L 404.5 205.06 L 405.5 204.27 L 406 204.05 L 406.5 203.96 L 407.5 204.11 L 408.5 204.62 L 410 205.82 L 411.5 206.99 L 412.5 207.4 L 413.5 207.41 L 414.5 207 L 416 205.88 L 417.5 204.78 L 419 204.06 L 420 203.78 L 421 203.7 L 422 203.91 L 423 204.54 L 424 205.65 L 425 207.29 L 426.5 210.58 L 430 218.58 L 431 220.61 L 432 221.98 L 433 222.66 L 434.5 223.07 L 436.5 223.62 L 438 224.23 L 439.5 225.07 L 441 226.17 L 443 228 L 445 230.16 L 446.5 232.07 L 450 236.8 L 451 237.81 L 452 238.51 L 453 238.9 L 454 239.05 L 456 239.01 L 460.5 238.8 L 462.5 238.39 L 464.5 237.71 L 466 236.95 L 467.5 235.9 L 468.5 234.98 L 469.5 233.81 L 470.5 232.36 L 473.5 227.63 L 474.5 226.53 L 476 225.3 L 477.5 224.39 L 479 223.74 L 482.5 222.65 L 483.5 221.91 L 485 220.34 L 487 217.92 L 488 216.36 L 489 214.32 L 492 207.62 L 493 205.98 L 494 204.82 L 495 204.14 L 495.5 203.99 L 496.5 204.03 L 497.5 204.46 L 498.5 205.18 L 500.5 206.82 L 501.5 207.34 L 502.5 207.45 L 503.5 207.14 L 504.5 206.48 L 506.5 204.94 L 508 204.15 L 509 203.83 L 510 203.7 L 511 203.83 L 512 204.34 L 513 205.32 L 514 206.83 L 515 208.85 L 520 220.15 L 521 221.72 L 521.5 222.21 L 522.5 222.76 L 527 224.11 L 528.5 224.91 L 530 225.97 L 532 227.75 L 534 229.87 L 535.5 231.73 L 539.5 237.08 L 540.5 238.01 L 541.5 238.64 L 542.5 238.96 L 543.5 239.06 L 548.5 238.95 L 550.5 238.68 L 552.5 238.17 L 554 237.6 L 555.5 236.8 L 557 235.69 L 558 234.71 L 559 233.48 L 560.5 231.11 L 562 228.65 L 563 227.33 L 564 226.3 L 565.5 225.13 L 567 224.26 L 568.5 223.66 L 571.5 222.79 L 572.5 222.12 L 573.5 221.17 L 575.5 218.88 L 576.5 217.57 L 577.5 215.9 L 578.5 213.75 L 581 208.09 L 582 206.35 L 583 205.06 L 584 204.27 L 584.5 204.05 L 585 203.96 L 586 204.11 L 587 204.62 L 588.5 205.82 L 590 206.99 L 591 207.4 L 592 207.41 L 593 207 L 594.5 205.88 L 596 204.78 L 597.5 204.06 L 598.5 203.78 L 599.5 203.7 L 600.5 203.91 L 601.5 204.54 L 602.5 205.65 L 603.5 207.29 L 605 210.58 L 608.5 218.58 L 609.5 220.61 L 610.5 221.98 L 611.5 222.66 L 613 223.07 L 615 223.62 L 616.5 224.23 L 618 225.07 L 619.5 226.17 L 621.5 228 L 623.5 230.16 L 625 232.07 L 628.5 236.8 L 629.5 237.81 L 630.5 238.51 L 631.5 238.9 L 632.5 239.05 L 634.5 239.01 L 639 238.8 L 641 238.39 L 643 237.71 L 644.5 236.95 L 646 235.9 L 647 234.98 L 648 233.81 L 649 232.36 L 652 227.63 L 653 226.53 L 654.5 225.3 L 656 224.39 L 657.5 223.74 L 661 222.65 L 662 221.91 L 663.5 220.34 L 665.5 217.92 L 666.5 216.36 L 667.5 214.32 L 670.5 207.62 L 671.5 205.98 L 672.5 204.82 L 673.5 204.14 L 674 203.99 L 675 204.03 L 676 204.46 L 677 205.18 L 679 206.82 L 680 207.34 L 681 207.45 L 682 207.14 L 683 206.48 L 685 204.94 L 686.5 204.15 L 687.5 203.83 L 688.5 203.7 L 689.5 203.83 L 690.5 204.34 L 691.5 205.32 L 692.5 206.83 L 693.5 208.85 L 698.5 220.15 L 699.5 221.72 L 700 222.21 L 701 222.76 L 705.5 224.11 L 707 224.91 L 708.5 225.97 L 710.5 227.75 L 712.5 229.87 L 714 231.73 L 718 237.08 L 719 238.01 L 720 238.64 L 721 238.96 L 722 239.06 L 727 238.95 L 729 238.68 L 731 238.17 L 732.5 237.6 L 734 236.8 L 735.5 235.69 L 736.5 234.71 L 737.5 233.48 L 739 231.11 L 740.5 228.65 L 741.5 227.33 L 742.5 226.3 L 744 225.13 L 745.5 224.26 L 747 223.66 L 750 222.79 L 751 222.12 L 752 221.17 L 754 218.88 L 755 217.57 L 756 215.9 L 757 213.75 L 759.5 208.09 L 760.5 206.35 L 761.5 205.06 L 762.5 204.27 L 763 204.05 L 763.5 203.96 L 764.5 204.11 L 765.5 204.62 L 767 205.82 L 768.5 206.99 L 769.5 207.4 L 770.5 207.41 L 771.5 207 L 773 205.88 L 774.5 204.78 L 776 204.06 L 777 203.78 L 778 203.7 L 779 203.91 L 780 204.54 L 781 205.65 L 782 207.29 L 783.5 210.58 L 787 218.58 L 788 220.61 L 789 221.98 L 790 222.66 L 791.5 223.07 L 793.5 223.62 L 795 224.23 L 796.5 225.07 L 798 226.17 L 800 228 L 802 230.16 L 803.5 232.07 L 807 236.8 L 808 237.81 L 809 238.51 L 810 238.9 L 811 239.05 L 813 239.01 L 817.5 238.8 L 819.5 238.39 L 821.5 237.71 L 823 236.95 L 824.5 235.9 L 825.5 234.98 L 826.5 233.81 L 827.5 232.36 L 830.5 227.63 L 831.5 226.53 L 833 225.3 L 834.5 224.39 L 836 223.74 L 839.5 222.65 L 840.5 221.91 L 842 220.34 L 844 217.92 L 845 216.36 L 846 214.32 L 849 207.62 L 850 205.98 L 851 204.82 L 852 204.14 L 852.5 203.99 L 853.5 204.03 L 854.5 204.46 L 855.5 205.18 L 857.5 206.82 L 858.5 207.34 L 859.5 207.45 L 860.5 207.14 L 861.5 206.48 L 863.5 204.94 L 865 204.15 L 866 203.83 L 867 203.7 L 868 203.83 L 869 204.34 L 870 205.32 L 871 206.83 L 872 208.85 L 877 220.15 L 878 221.72 L 878.5 222.21 L 879.5 222.76 L 884 224.11 L 885.5 224.91 L 887 225.97 L 889 227.75 L 891 229.87 L 892.5 231.73 L 896.5 237.08 L 897.5 238.01 L 898.5 238.64 L 899.5 238.96 L 900.5 239.06 L 905.5 238.95 L 907.5 238.68 L 909.5 238.17 L 911 237.6 L 912.5 236.8 L 914 235.69 L 914 235.69 " clip-path="url(#p9bf790744e)" style="fill: none; stroke-dasharray: 6.6,3.3; stroke-dashoffset: 0; stroke: #000000; stroke-width: 2.2"/>
</g>
<g id="line2d_38">
<path d="M 825.37 455 L 825.37 110 " clip-path="url(#p9bf790744e)" style="fill: none; stroke-dasharray: 2,3.3; stroke-dashoffset: 0; stroke: #1f77b4; stroke-width: 2"/>
</g>
<g id="FC1"><text transform="translate(887.80 423.31) rotate(-90)" x="0" y="0" fill="#000000" fill-opacity="0.100" style="font-size:67.84px;font-family:'Liberation Sans',sans-serif" textLength="36.38" lengthAdjust="spacingAndGlyphs">F</text><text transform="translate(887.80 389.18) rotate(-90)" x="0" y="0" fill="#000000" fill-opacity="0.100" style="font-size:67.84px;font-family:'Liberation Sans',sans-serif" textLength="38.69" lengthAdjust="spacingAndGlyphs">o</text><text transform="translate(887.80 350.49) rotate(-90)" x="0" y="0" fill="#000000" fill-opacity="0.100" style="font-size:67.84px;font-family:'Liberation Sans',sans-serif" textLength="26.00" lengthAdjust="spacingAndGlyphs">r</text><text transform="translate(887.80 325.88) rotate(-90)" x="0" y="0" fill="#000000" fill-opacity="0.100" style="font-size:67.84px;font-family:'Liberation Sans',sans-serif" textLength="38.91" lengthAdjust="spacingAndGlyphs">e</text><text transform="translate(887.80 286.96) rotate(-90)" x="0" y="0" fill="#000000" fill-opacity="0.100" style="font-size:67.84px;font-family:'Liberation Sans',sans-serif" textLength="34.77" lengthAdjust="spacingAndGlyphs">c</text><text transform="translate(887.80 252.19) rotate(-90)" x="0" y="0" fill="#000000" fill-opacity="0.100" style="font-size:67.84px;font-family:'Liberation Sans',sans-serif" textLength="38.76" lengthAdjust="spacingAndGlyphs">a</text><text transform="translate(887.80 213.44) rotate(-90)" x="0" y="0" fill="#000000" fill-opacity="0.100" style="font-size:67.84px;font-family:'Liberation Sans',sans-serif" textLength="32.95" lengthAdjust="spacingAndGlyphs">s</text><text transform="translate(887.80 180.48) rotate(-90)" x="0" y="0" fill="#000000" fill-opacity="0.100" style="font-size:67.84px;font-family:'Liberation Sans',sans-serif" textLength="24.80" lengthAdjust="spacingAndGlyphs">t</text></g>
<g id="text_8">
<text style="font-size: 14.84px; font-family: 'Liberation Sans', sans-serif; text-anchor: middle" x="235" y="139" transform="rotate(-0 235 139)" textLength="12.08" lengthAdjust="spacingAndGlyphs">M</text>
</g>
<g id="text_9">
<text style="font-size: 14.84px; font-family: 'Liberation Sans', sans-serif; text-anchor: middle; fill: #ff0000" x="280.5" y="139" transform="rotate(-0 280.5 139)" textLength="10.47" lengthAdjust="spacingAndGlyphs">N</text>
</g>
<g id="text_10">
<text style="font-size: 14.84px; font-family: 'Liberation Sans', sans-serif; text-anchor: middle" x="324.25" y="139" transform="rotate(-0 324.25 139)" textLength="12.08" lengthAdjust="spacingAndGlyphs">M</text>
</g>
<g id="text_11">
<text style="font-size: 14.84px; font-family: 'Liberation Sans', sans-serif; text-anchor: middle; fill: #ff0000" x="369.75" y="139" transform="rotate(-0 369.75 139)" textLength="10.47" lengthAdjust="spacingAndGlyphs">N</text>
</g>
<g id="text_12">
<text style="font-size: 14.84px; font-family: 'Liberation Sans', sans-serif; text-anchor: middle" x="413.5" y="139" transform="rotate(-0 413.5 139)" textLength="12.08" lengthAdjust="spacingAndGlyphs">M</text>
</g>
<g id="text_13">
<text style="font-size: 14.84px; font-family: 'Liberation Sans', sans-serif; text-anchor: middle; fill: #ff0000" x="459" y="139" transform="rotate(-0 459 139)" textLength="10.47" lengthAdjust="spacingAndGlyphs">N</text>
</g>
<g id="text_14">
<text style="font-size: 14.84px; font-family: 'Liberation Sans', sans-serif; text-anchor: middle" x="502.75" y="139" transform="rotate(-0 502.75 139)" textLength="12.08" lengthAdjust="spacingAndGlyphs">M</text>
</g>
<g id="text_15">
<text style="font-size: 14.84px; font-family: 'Liberation Sans', sans-serif; text-anchor: middle; fill: #ff0000" x="548.25" y="139" transform="rotate(-0 548.25 139)" textLength="10.47" lengthAdjust="spacingAndGlyphs">N</text>
</g>
<g id="text_16">
<text style="font-size: 14.84px; font-family: 'Liberation Sans', sans-serif; text-anchor: middle" x="592" y="139" transform="rotate(-0 592 139)" textLength="12.08" lengthAdjust="spacingAndGlyphs">M</text>
</g>
<g id="text_17">
<text style="font-size: 14.84px; font-family: 'Liberation Sans', sans-serif; text-anchor: middle; fill: #ff0000" x="637.5" y="139" transform="rotate(-0 637.5 139)" textLength="10.47" lengthAdjust="spacingAndGlyphs">N</text>
</g>
<g id="text_18">
<text style="font-size: 14.84px; font-family: 'Liberation Sans', sans-serif; text-anchor: middle" x="681.25" y="139" transform="rotate(-0 681.25 139)" textLength="12.08" lengthAdjust="spacingAndGlyphs">M</text>
</g>
<g id="text_19">
<text style="font-size: 14.84px; font-family: 'Liberation Sans', sans-serif; text-anchor: middle; fill: #ff0000" x="726.75" y="139" transform="rotate(-0 726.75 139)" textLength="10.47" lengthAdjust="spacingAndGlyphs">N</text>
</g>
<g id="text_20">
<text style="font-size: 14.84px; font-family: 'Liberation Sans', sans-serif; text-anchor: middle" x="770.5" y="139" transform="rotate(-0 770.5 139)" textLength="12.08" lengthAdjust="spacingAndGlyphs">M</text>
</g>
<g id="text_21">
<text style="font-size: 14.84px; font-family: 'Liberation Sans', sans-serif; text-anchor: middle; fill: #ff0000" x="816" y="139" transform="rotate(-0 816 139)" textLength="10.47" lengthAdjust="spacingAndGlyphs">N</text>
</g>
</g>
<g id="axes_2">
<g id="patch_7">
<path d="M 959 455 L 976 455 L 976 110 L 959 110 z
" style="fill: #ffffff"/>
</g>
<g id="CBAR"><defs><linearGradient id="cbg" x1="0" y1="0" x2="0" y2="1"><stop offset="0.000" stop-color="#800000"/><stop offset="0.016" stop-color="#8d0000"/><stop offset="0.031" stop-color="#9f0000"/><stop offset="0.047" stop-color="#b20000"/><stop offset="0.062" stop-color="#c40000"/><stop offset="0.078" stop-color="#d60000"/><stop offset="0.094" stop-color="#e80000"/><stop offset="0.109" stop-color="#fa0f00"/><stop offset="0.125" stop-color="#ff1e00"/><stop offset="0.141" stop-color="#ff2d00"/><stop offset="0.156" stop-color="#ff3b00"/><stop offset="0.172" stop-color="#ff4a00"/><stop offset="0.188" stop-color="#ff5900"/><stop offset="0.203" stop-color="#ff6800"/><stop offset="0.219" stop-color="#ff7700"/><stop offset="0.234" stop-color="#ff8600"/><stop offset="0.250" stop-color="#ff9400"/><stop offset="0.266" stop-color="#ffa300"/><stop offset="0.281" stop-color="#ffb200"/><stop offset="0.297" stop-color="#ffc100"/><stop offset="0.312" stop-color="#ffd000"/><stop offset="0.328" stop-color="#ffde00"/><stop offset="0.344" stop-color="#feed00"/><stop offset="0.359" stop-color="#f1fc06"/><stop offset="0.375" stop-color="#e4ff13"/><stop offset="0.391" stop-color="#d7ff1f"/><stop offset="0.406" stop-color="#caff2c"/><stop offset="0.422" stop-color="#beff39"/><stop offset="0.438" stop-color="#b1ff46"/><stop offset="0.453" stop-color="#a4ff53"/><stop offset="0.469" stop-color="#97ff60"/><stop offset="0.484" stop-color="#8aff6d"/><stop offset="0.500" stop-color="#7dff7a"/><stop offset="0.516" stop-color="#70ff87"/><stop offset="0.531" stop-color="#63ff94"/><stop offset="0.547" stop-color="#56ffa0"/><stop offset="0.562" stop-color="#49ffad"/><stop offset="0.578" stop-color="#3cffba"/><stop offset="0.594" stop-color="#30ffc7"/><stop offset="0.609" stop-color="#23ffd4"/><stop offset="0.625" stop-color="#16ffe1"/><stop offset="0.641" stop-color="#09f0ee"/><stop offset="0.656" stop-color="#00e0fb"/><stop offset="0.672" stop-color="#00d0ff"/><stop offset="0.688" stop-color="#00c0ff"/><stop offset="0.703" stop-color="#00b0ff"/><stop offset="0.719" stop-color="#00a0ff"/><stop offset="0.734" stop-color="#0090ff"/><stop offset="0.750" stop-color="#0080ff"/><stop offset="0.766" stop-color="#0070ff"/><stop offset="0.781" stop-color="#0060ff"/><stop offset="0.797" stop-color="#0050ff"/><stop offset="0.812" stop-color="#0040ff"/><stop offset="0.828" stop-color="#0030ff"/><stop offset="0.844" stop-color="#0020ff"/><stop offset="0.859" stop-color="#0010ff"/><stop offset="0.875" stop-color="#0000ff"/><stop offset="0.891" stop-color="#0000ff"/><stop offset="0.906" stop-color="#0000ed"/><stop offset="0.922" stop-color="#0000da"/><stop offset="0.938" stop-color="#0000c8"/><stop offset="0.953" stop-color="#0000b6"/><stop offset="0.969" stop-color="#0000a4"/><stop offset="0.984" stop-color="#000092"/><stop offset="1.000" stop-color="#000080"/></linearGradient></defs><rect x="959" y="110" width="17" height="345" fill="url(#cbg)"/></g>
<g id="matplotlib.axis_3"/>
<g id="matplotlib.axis_4">
<g id="ytick_8">
<g id="line2d_39">
<defs>
<path id="ma2b5dd5af7" d="M 0 0 L 5 0 " style="stroke: #000000; stroke-width: 1.2"/>
</defs>
<g>
<use href="#ma2b5dd5af7" x="976" y="455" style="stroke: #000000; stroke-width: 1.2"/>
</g>
</g>
<g id="text_22">
<!-- $\mathdefault{10^{-3}}$ -->
<g transform="translate(986 462.598437)">
<text x="0" y="0.347" style="font-size: 22.47px; font-family: 'Liberation Sans', sans-serif" textLength="12.72" lengthAdjust="spacingAndGlyphs" textLength="13.49" lengthAdjust="spacingAndGlyphs">1</text>
<text x="12.724609" y="0.347" style="font-size: 22.47px; font-family: 'Liberation Sans', sans-serif" textLength="12.72" lengthAdjust="spacingAndGlyphs" textLength="13.49" lengthAdjust="spacingAndGlyphs">0</text>
<text x="25.640625" y="-6.109" style="font-size: 15.73px; font-family: 'Liberation Sans', sans-serif" textLength="11.73" lengthAdjust="spacingAndGlyphs" textLength="12.43" lengthAdjust="spacingAndGlyphs">−</text>
<text x="37.371094" y="-6.109" style="font-size: 15.73px; font-family: 'Liberation Sans', sans-serif" textLength="8.91" lengthAdjust="spacingAndGlyphs" textLength="9.44" lengthAdjust="spacingAndGlyphs">3</text>
</g>
</g>
</g>
<g id="ytick_9">
<g id="line2d_40">
<g>
<use href="#ma2b5dd5af7" x="976" y="397.5" style="stroke: #000000; stroke-width: 1.2"/>
</g>
</g>
<g id="text_23">
<!-- $\mathdefault{10^{-2}}$ -->
<g transform="translate(986 405.098437)">
<text x="0" y="0.347" style="font-size: 22.47px; font-family: 'Liberation Sans', sans-serif" textLength="12.72" lengthAdjust="spacingAndGlyphs" textLength="13.49" lengthAdjust="spacingAndGlyphs">1</text>
<text x="12.724609" y="0.347" style="font-size: 22.47px; font-family: 'Liberation Sans', sans-serif" textLength="12.72" lengthAdjust="spacingAndGlyphs" textLength="13.49" lengthAdjust="spacingAndGlyphs">0</text>
<text x="25.640625" y="-6.109" style="font-size: 15.73px; font-family: 'Liberation Sans', sans-serif" textLength="11.73" lengthAdjust="spacingAndGlyphs" textLength="12.43" lengthAdjust="spacingAndGlyphs">−</text>
<text x="37.371094" y="-6.109" style="font-size: 15.73px; font-family: 'Liberation Sans', sans-serif" textLength="8.91" lengthAdjust="spacingAndGlyphs" textLength="9.44" lengthAdjust="spacingAndGlyphs">2</text>
</g>
</g>
</g>
<g id="ytick_10">
<g id="line2d_41">
<g>
<use href="#ma2b5dd5af7" x="976" y="340" style="stroke: #000000; stroke-width: 1.2"/>
</g>
</g>
<g id="text_24">
<!-- $\mathdefault{10^{-1}}$ -->
<g transform="translate(986 347.598437)">
<text x="0" y="1.161" style="font-size: 22.47px; font-family: 'Liberation Sans', sans-serif" textLength="12.72" lengthAdjust="spacingAndGlyphs" textLength="13.49" lengthAdjust="spacingAndGlyphs">1</text>
<text x="12.724609" y="1.161" style="font-size: 22.47px; font-family: 'Liberation Sans', sans-serif" textLength="12.72" lengthAdjust="spacingAndGlyphs" textLength="13.49" lengthAdjust="spacingAndGlyphs">0</text>
<text x="25.640625" y="-5.295" style="font-size: 15.73px; font-family: 'Liberation Sans', sans-serif" textLength="11.73" lengthAdjust="spacingAndGlyphs" textLength="12.43" lengthAdjust="spacingAndGlyphs">−</text>
<text x="37.371094" y="-5.295" style="font-size: 15.73px; font-family: 'Liberation Sans', sans-serif" textLength="8.91" lengthAdjust="spacingAndGlyphs" textLength="9.44" lengthAdjust="spacingAndGlyphs">1</text>
</g>
</g>
</g>
<g id="ytick_11">
<g id="line2d_42">
<g>
<use href="#ma2b5dd5af7" x="976" y="282.5" style="stroke: #000000; stroke-width: 1.2"/>
</g>
</g>
<g id="text_25">
<!-- $\mathdefault{10^{0}}$ -->
<g transform="translate(986 290.098437)">
<text x="0" y="0.347" style="font-size: 22.47px; font-family: 'Liberation Sans', sans-serif" textLength="12.72" lengthAdjust="spacingAndGlyphs" textLength="13.49" lengthAdjust="spacingAndGlyphs">1</text>
<text x="12.724609" y="0.347" style="font-size: 22.47px; font-family: 'Liberation Sans', sans-serif" textLength="12.72" lengthAdjust="spacingAndGlyphs" textLength="13.49" lengthAdjust="spacingAndGlyphs">0</text>
<text x="25.640625" y="-6.109" style="font-size: 15.73px; font-family: 'Liberation Sans', sans-serif" textLength="8.91" lengthAdjust="spacingAndGlyphs" textLength="9.44" lengthAdjust="spacingAndGlyphs">0</text>
</g>
</g>
</g>
<g id="ytick_12">
<g id="line2d_43">
<g>
<use href="#ma2b5dd5af7" x="976" y="225" style="stroke: #000000; stroke-width: 1.2"/>
</g>
</g>
<g id="text_26">
<!-- $\mathdefault{10^{1}}$ -->
<g transform="translate(986 232.598437)">
<text x="0" y="1.161" style="font-size: 22.47px; font-family: 'Liberation Sans', sans-serif" textLength="12.72" lengthAdjust="spacingAndGlyphs" textLength="13.49" lengthAdjust="spacingAndGlyphs">1</text>
<text x="12.724609" y="1.161" style="font-size: 22.47px; font-family: 'Liberation Sans', sans-serif" textLength="12.72" lengthAdjust="spacingAndGlyphs" textLength="13.49" lengthAdjust="spacingAndGlyphs">0</text>
<text x="25.640625" y="-5.295" style="font-size: 15.73px; font-family: 'Liberation Sans', sans-serif" textLength="8.91" lengthAdjust="spacingAndGlyphs" textLength="9.44" lengthAdjust="spacingAndGlyphs">1</text>
</g>
</g>
</g>
<g id="ytick_13">
<g id="line2d_44">
<g>
<use href="#ma2b5dd5af7" x="976" y="167.5" style="stroke: #000000; stroke-width: 1.2"/>
</g>
</g>
<g id="text_27">
<!-- $\mathdefault{10^{2}}$ -->
<g transform="translate(986 175.098437)">
<text x="0" y="0.347" style="font-size: 22.47px; font-family: 'Liberation Sans', sans-serif" textLength="12.72" lengthAdjust="spacingAndGlyphs" textLength="13.49" lengthAdjust="spacingAndGlyphs">1</text>
<text x="12.724609" y="0.347" style="font-size: 22.47px; font-family: 'Liberation Sans', sans-serif" textLength="12.72" lengthAdjust="spacingAndGlyphs" textLength="13.49" lengthAdjust="spacingAndGlyphs">0</text>
<text x="25.640625" y="-6.109" style="font-size: 15.73px; font-family: 'Liberation Sans', sans-serif" textLength="8.91" lengthAdjust="spacingAndGlyphs" textLength="9.44" lengthAdjust="spacingAndGlyphs">2</text>
</g>
</g>
</g>
<g id="ytick_14">
<g id="line2d_45">
<g>
<use href="#ma2b5dd5af7" x="976" y="110" style="stroke: #000000; stroke-width: 1.2"/>
</g>
</g>
<g id="text_28">
<!-- $\mathdefault{10^{3}}$ -->
<g transform="translate(986 117.598437)">
<text x="0" y="0.347" style="font-size: 22.47px; font-family: 'Liberation Sans', sans-serif" textLength="12.72" lengthAdjust="spacingAndGlyphs" textLength="13.49" lengthAdjust="spacingAndGlyphs">1</text>
<text x="12.724609" y="0.347" style="font-size: 22.47px; font-family: 'Liberation Sans', sans-serif" textLength="12.72" lengthAdjust="spacingAndGlyphs" textLength="13.49" lengthAdjust="spacingAndGlyphs">0</text>
<text x="25.640625" y="-6.109" style="font-size: 15.73px; font-family: 'Liberation Sans', sans-serif" textLength="8.91" lengthAdjust="spacingAndGlyphs" textLength="9.44" lengthAdjust="spacingAndGlyphs">3</text>
</g>
</g>
</g>
<g id="ytick_15">
<g id="line2d_46">
<g>
<use href="#ma2b5dd5af7" x="976" y="437.69" style="stroke: #000000; stroke-width: 1.2"/>
</g>
</g>
</g>
<g id="ytick_16">
<g id="line2d_47">
<g>
<use href="#ma2b5dd5af7" x="976" y="427.57" style="stroke: #000000; stroke-width: 1.2"/>
</g>
</g>
</g>
<g id="ytick_17">
<g id="line2d_48">
<g>
<use href="#ma2b5dd5af7" x="976" y="420.38" style="stroke: #000000; stroke-width: 1.2"/>
</g>
</g>
</g>
<g id="ytick_18">
<g id="line2d_49">
<g>
<use href="#ma2b5dd5af7" x="976" y="414.81" style="stroke: #000000; stroke-width: 1.2"/>
</g>
</g>
</g>
<g id="ytick_19">
<g id="line2d_50">
<g>
<use href="#ma2b5dd5af7" x="976" y="410.26" style="stroke: #000000; stroke-width: 1.2"/>
</g>
</g>
</g>
<g id="ytick_20">
<g id="line2d_51">
<g>
<use href="#ma2b5dd5af7" x="976" y="406.41" style="stroke: #000000; stroke-width: 1.2"/>
</g>
</g>
</g>
<g id="ytick_21">
<g id="line2d_52">
<g>
<use href="#ma2b5dd5af7" x="976" y="403.07" style="stroke: #000000; stroke-width: 1.2"/>
</g>
</g>
</g>
<g id="ytick_22">
<g id="line2d_53">
<g>
<use href="#ma2b5dd5af7" x="976" y="400.13" style="stroke: #000000; stroke-width: 1.2"/>
</g>
</g>
</g>
<g id="ytick_23">
<g id="line2d_54">
<g>
<use href="#ma2b5dd5af7" x="976" y="380.19" style="stroke: #000000; stroke-width: 1.2"/>
</g>
</g>
</g>
<g id="ytick_24">
<g id="line2d_55">
<g>
<use href="#ma2b5dd5af7" x="976" y="370.07" style="stroke: #000000; stroke-width: 1.2"/>
</g>
</g>
</g>
<g id="ytick_25">
<g id="line2d_56">
<g>
<use href="#ma2b5dd5af7" x="976" y="362.88" style="stroke: #000000; stroke-width: 1.2"/>
</g>
</g>
</g>
<g id="ytick_26">
<g id="line2d_57">
<g>
<use href="#ma2b5dd5af7" x="976" y="357.31" style="stroke: #000000; stroke-width: 1.2"/>
</g>
</g>
</g>
<g id="ytick_27">
<g id="line2d_58">
<g>
<use href="#ma2b5dd5af7" x="976" y="352.76" style="stroke: #000000; stroke-width: 1.2"/>
</g>
</g>
</g>
<g id="ytick_28">
<g id="line2d_59">
<g>
<use href="#ma2b5dd5af7" x="976" y="348.91" style="stroke: #000000; stroke-width: 1.2"/>
</g>
</g>
</g>
<g id="ytick_29">
<g id="line2d_60">
<g>
<use href="#ma2b5dd5af7" x="976" y="345.57" style="stroke: #000000; stroke-width: 1.2"/>
</g>
</g>
</g>
<g id="ytick_30">
<g id="line2d_61">
<g>
<use href="#ma2b5dd5af7" x="976" y="342.63" style="stroke: #000000; stroke-width: 1.2"/>
</g>
</g>
</g>
<g id="ytick_31">
<g id="line2d_62">
<g>
<use href="#ma2b5dd5af7" x="976" y="322.69" style="stroke: #000000; stroke-width: 1.2"/>
</g>
</g>
</g>
<g id="ytick_32">
<g id="line2d_63">
<g>
<use href="#ma2b5dd5af7" x="976" y="312.57" style="stroke: #000000; stroke-width: 1.2"/>
</g>
</g>
</g>
<g id="ytick_33">
<g id="line2d_64">
<g>
<use href="#ma2b5dd5af7" x="976" y="305.38" style="stroke: #000000; stroke-width: 1.2"/>
</g>
</g>
</g>
<g id="ytick_34">
<g id="line2d_65">
<g>
<use href="#ma2b5dd5af7" x="976" y="299.81" style="stroke: #000000; stroke-width: 1.2"/>
</g>
</g>
</g>
<g id="ytick_35">
<g id="line2d_66">
<g>
<use href="#ma2b5dd5af7" x="976" y="295.26" style="stroke: #000000; stroke-width: 1.2"/>
</g>
</g>
</g>
<g id="ytick_36">
<g id="line2d_67">
<g>
<use href="#ma2b5dd5af7" x="976" y="291.41" style="stroke: #000000; stroke-width: 1.2"/>
</g>
</g>
</g>
<g id="ytick_37">
<g id="line2d_68">
<g>
<use href="#ma2b5dd5af7" x="976" y="288.07" style="stroke: #000000; stroke-width: 1.2"/>
</g>
</g>
</g>
<g id="ytick_38">
<g id="line2d_69">
<g>
<use href="#ma2b5dd5af7" x="976" y="285.13" style="stroke: #000000; stroke-width: 1.2"/>
</g>
</g>
</g>
<g id="ytick_39">
<g id="line2d_70">
<g>
<use href="#ma2b5dd5af7" x="976" y="265.19" style="stroke: #000000; stroke-width: 1.2"/>
</g>
</g>
</g>
<g id="ytick_40">
<g id="line2d_71">
<g>
<use href="#ma2b5dd5af7" x="976" y="255.07" style="stroke: #000000; stroke-width: 1.2"/>
</g>
</g>
</g>
<g id="ytick_41">
<g id="line2d_72">
<g>
<use href="#ma2b5dd5af7" x="976" y="247.88" style="stroke: #000000; stroke-width: 1.2"/>
</g>
</g>
</g>
<g id="ytick_42">
<g id="line2d_73">
<g>
<use href="#ma2b5dd5af7" x="976" y="242.31" style="stroke: #000000; stroke-width: 1.2"/>
</g>
</g>
</g>
<g id="ytick_43">
<g id="line2d_74">
<g>
<use href="#ma2b5dd5af7" x="976" y="237.76" style="stroke: #000000; stroke-width: 1.2"/>
</g>
</g>
</g>
<g id="ytick_44">
<g id="line2d_75">
<g>
<use href="#ma2b5dd5af7" x="976" y="233.91" style="stroke: #000000; stroke-width: 1.2"/>
</g>
</g>
</g>
<g id="ytick_45">
<g id="line2d_76">
<g>
<use href="#ma2b5dd5af7" x="976" y="230.57" style="stroke: #000000; stroke-width: 1.2"/>
</g>
</g>
</g>
<g id="ytick_46">
<g id="line2d_77">
<g>
<use href="#ma2b5dd5af7" x="976" y="227.63" style="stroke: #000000; stroke-width: 1.2"/>
</g>
</g>
</g>
<g id="ytick_47">
<g id="line2d_78">
<g>
<use href="#ma2b5dd5af7" x="976" y="207.69" style="stroke: #000000; stroke-width: 1.2"/>
</g>
</g>
</g>
<g id="ytick_48">
<g id="line2d_79">
<g>
<use href="#ma2b5dd5af7" x="976" y="197.57" style="stroke: #000000; stroke-width: 1.2"/>
</g>
</g>
</g>
<g id="ytick_49">
<g id="line2d_80">
<g>
<use href="#ma2b5dd5af7" x="976" y="190.38" style="stroke: #000000; stroke-width: 1.2"/>
</g>
</g>
</g>
<g id="ytick_50">
<g id="line2d_81">
<g>
<use href="#ma2b5dd5af7" x="976" y="184.81" style="stroke: #000000; stroke-width: 1.2"/>
</g>
</g>
</g>
<g id="ytick_51">
<g id="line2d_82">
<g>
<use href="#ma2b5dd5af7" x="976" y="180.26" style="stroke: #000000; stroke-width: 1.2"/>
</g>
</g>
</g>
<g id="ytick_52">
<g id="line2d_83">
<g>
<use href="#ma2b5dd5af7" x="976" y="176.41" style="stroke: #000000; stroke-width: 1.2"/>
</g>
</g>
</g>
<g id="ytick_53">
<g id="line2d_84">
<g>
<use href="#ma2b5dd5af7" x="976" y="173.07" style="stroke: #000000; stroke-width: 1.2"/>
</g>
</g>
</g>
<g id="ytick_54">
<g id="line2d_85">
<g>
<use href="#ma2b5dd5af7" x="976" y="170.13" style="stroke: #000000; stroke-width: 1.2"/>
</g>
</g>
</g>
<g id="ytick_55">
<g id="line2d_86">
<g>
<use href="#ma2b5dd5af7" x="976" y="150.19" style="stroke: #000000; stroke-width: 1.2"/>
</g>
</g>
</g>
<g id="ytick_56">
<g id="line2d_87">
<g>
<use href="#ma2b5dd5af7" x="976" y="140.07" style="stroke: #000000; stroke-width: 1.2"/>
</g>
</g>
</g>
<g id="ytick_57">
<g id="line2d_88">
<g>
<use href="#ma2b5dd5af7" x="976" y="132.88" style="stroke: #000000; stroke-width: 1.2"/>
</g>
</g>
</g>
<g id="ytick_58">
<g id="line2d_89">
<g>
<use href="#ma2b5dd5af7" x="976" y="127.31" style="stroke: #000000; stroke-width: 1.2"/>
</g>
</g>
</g>
<g id="ytick_59">
<g id="line2d_90">
<g>
<use href="#ma2b5dd5af7" x="976" y="122.76" style="stroke: #000000; stroke-width: 1.2"/>
</g>
</g>
</g>
<g id="ytick_60">
<g id="line2d_91">
<g>
<use href="#ma2b5dd5af7" x="976" y="118.91" style="stroke: #000000; stroke-width: 1.2"/>
</g>
</g>
</g>
<g id="ytick_61">
<g id="line2d_92">
<g>
<use href="#ma2b5dd5af7" x="976" y="115.57" style="stroke: #000000; stroke-width: 1.2"/>
</g>
</g>
</g>
<g id="ytick_62">
<g id="line2d_93">
<g>
<use href="#ma2b5dd5af7" x="976" y="112.63" style="stroke: #000000; stroke-width: 1.2"/>
</g>
</g>
</g>
</g>
<g id="patch_8">
<path d="M 959 455 L 959 110 " style="fill: none; stroke: #000000; stroke-width: 2; stroke-linejoin: miter; stroke-linecap: square"/>
</g>
<g id="patch_9">
<path d="M 976 455 L 976 110 " style="fill: none; stroke: #000000; stroke-width: 2; stroke-linejoin: miter; stroke-linecap: square"/>
</g>
<g id="patch_10">
<path d="M 959 455 L 976 455 " style="fill: none; stroke: #000000; stroke-width: 2; stroke-linejoin: miter; stroke-linecap: square"/>
</g>
<g id="patch_11">
<path d="M 959 110 L 976 110 " style="fill: none; stroke: #000000; stroke-width: 2; stroke-linejoin: miter; stroke-linecap: square"/>
</g>
</g>
<g id="axes_3">
<g id="patch_12">
<path d="M 200 822 L 914 822 L 914 478 L 200 478 z
" style="fill: #ffffff"/>
</g>
<g id="patch_13">
<path d="M 825.37 822 L 914 822 L 914 478 L 825.37 478 z
" clip-path="url(#p64d00bf3a4)" style="fill: #d3d3d3"/>
</g>
<g id="FC2"><text transform="translate(887.80 791.01) rotate(-90)" x="0" y="0" fill="#000000" fill-opacity="0.100" style="font-size:67.84px;font-family:'Liberation Sans',sans-serif" textLength="36.38" lengthAdjust="spacingAndGlyphs">F</text><text transform="translate(887.80 756.88) rotate(-90)" x="0" y="0" fill="#000000" fill-opacity="0.100" style="font-size:67.84px;font-family:'Liberation Sans',sans-serif" textLength="38.69" lengthAdjust="spacingAndGlyphs">o</text><text transform="translate(887.80 718.19) rotate(-90)" x="0" y="0" fill="#000000" fill-opacity="0.100" style="font-size:67.84px;font-family:'Liberation Sans',sans-serif" textLength="26.00" lengthAdjust="spacingAndGlyphs">r</text><text transform="translate(887.80 693.58) rotate(-90)" x="0" y="0" fill="#000000" fill-opacity="0.100" style="font-size:67.84px;font-family:'Liberation Sans',sans-serif" textLength="38.91" lengthAdjust="spacingAndGlyphs">e</text><text transform="translate(887.80 654.66) rotate(-90)" x="0" y="0" fill="#000000" fill-opacity="0.100" style="font-size:67.84px;font-family:'Liberation Sans',sans-serif" textLength="34.77" lengthAdjust="spacingAndGlyphs">c</text><text transform="translate(887.80 619.89) rotate(-90)" x="0" y="0" fill="#000000" fill-opacity="0.100" style="font-size:67.84px;font-family:'Liberation Sans',sans-serif" textLength="38.76" lengthAdjust="spacingAndGlyphs">a</text><text transform="translate(887.80 581.14) rotate(-90)" x="0" y="0" fill="#000000" fill-opacity="0.100" style="font-size:67.84px;font-family:'Liberation Sans',sans-serif" textLength="32.95" lengthAdjust="spacingAndGlyphs">s</text><text transform="translate(887.80 548.18) rotate(-90)" x="0" y="0" fill="#000000" fill-opacity="0.100" style="font-size:67.84px;font-family:'Liberation Sans',sans-serif" textLength="24.80" lengthAdjust="spacingAndGlyphs">t</text></g>
<g id="matplotlib.axis_5">
<g id="xtick_9">
<g id="line2d_94">
<g>
<use href="#mdc1538e322" x="248.34" y="822" style="stroke: #000000; stroke-width: 1.3"/>
</g>
</g>
</g>
<g id="xtick_10">
<g id="line2d_95">
<g>
<use href="#mdc1538e322" x="337.59" y="822" style="stroke: #000000; stroke-width: 1.3"/>
</g>
</g>
</g>
<g id="xtick_11">
<g id="line2d_96">
<g>
<use href="#mdc1538e322" x="426.84" y="822" style="stroke: #000000; stroke-width: 1.3"/>
</g>
</g>
</g>
<g id="xtick_12">
<g id="line2d_97">
<g>
<use href="#mdc1538e322" x="516.09" y="822" style="stroke: #000000; stroke-width: 1.3"/>
</g>
</g>
</g>
<g id="xtick_13">
<g id="line2d_98">
<g>
<use href="#mdc1538e322" x="605.34" y="822" style="stroke: #000000; stroke-width: 1.3"/>
</g>
</g>
</g>
<g id="xtick_14">
<g id="line2d_99">
<g>
<use href="#mdc1538e322" x="694.59" y="822" style="stroke: #000000; stroke-width: 1.3"/>
</g>
</g>
</g>
<g id="xtick_15">
<g id="line2d_100">
<g>
<use href="#mdc1538e322" x="783.84" y="822" style="stroke: #000000; stroke-width: 1.3"/>
</g>
</g>
</g>
<g id="xtick_16">
<g id="line2d_101">
<g>
<use href="#mdc1538e322" x="873.09" y="822" style="stroke: #000000; stroke-width: 1.3"/>
</g>
</g>
</g>
</g>
<g id="matplotlib.axis_6">
<g id="ytick_63">
<g id="line2d_102">
<g>
<use href="#m0a4a72b5c7" x="200" y="822" style="stroke: #000000; stroke-width: 1.3"/>
</g>
</g>
<g id="line2d_103">
<g>
<use href="#m71070be67f" x="914" y="822" style="stroke: #000000; stroke-width: 1.3"/>
</g>
</g>
<g id="text_29">
<!-- $\mathdefault{10^{-3}}$ -->
<g transform="translate(148 829.598438)">
<text x="0" y="0.347" style="font-size: 22.47px; font-family: 'Liberation Sans', sans-serif" textLength="12.72" lengthAdjust="spacingAndGlyphs" textLength="13.49" lengthAdjust="spacingAndGlyphs">1</text>
<text x="12.724609" y="0.347" style="font-size: 22.47px; font-family: 'Liberation Sans', sans-serif" textLength="12.72" lengthAdjust="spacingAndGlyphs" textLength="13.49" lengthAdjust="spacingAndGlyphs">0</text>
<text x="25.640625" y="-6.109" style="font-size: 15.73px; font-family: 'Liberation Sans', sans-serif" textLength="11.73" lengthAdjust="spacingAndGlyphs" textLength="12.43" lengthAdjust="spacingAndGlyphs">−</text>
<text x="37.371094" y="-6.109" style="font-size: 15.73px; font-family: 'Liberation Sans', sans-serif" textLength="8.91" lengthAdjust="spacingAndGlyphs" textLength="9.44" lengthAdjust="spacingAndGlyphs">3</text>
</g>
</g>
</g>
<g id="ytick_64">
<g id="line2d_104">
<g>
<use href="#m0a4a72b5c7" x="200" y="764.67" style="stroke: #000000; stroke-width: 1.3"/>
</g>
</g>
<g id="line2d_105">
<g>
<use href="#m71070be67f" x="914" y="764.67" style="stroke: #000000; stroke-width: 1.3"/>
</g>
</g>
<g id="text_30">
<!-- $\mathdefault{10^{-2}}$ -->
<g transform="translate(148 772.265104)">
<text x="0" y="0.347" style="font-size: 22.47px; font-family: 'Liberation Sans', sans-serif" textLength="12.72" lengthAdjust="spacingAndGlyphs" textLength="13.49" lengthAdjust="spacingAndGlyphs">1</text>
<text x="12.724609" y="0.347" style="font-size: 22.47px; font-family: 'Liberation Sans', sans-serif" textLength="12.72" lengthAdjust="spacingAndGlyphs" textLength="13.49" lengthAdjust="spacingAndGlyphs">0</text>
<text x="25.640625" y="-6.109" style="font-size: 15.73px; font-family: 'Liberation Sans', sans-serif" textLength="11.73" lengthAdjust="spacingAndGlyphs" textLength="12.43" lengthAdjust="spacingAndGlyphs">−</text>
<text x="37.371094" y="-6.109" style="font-size: 15.73px; font-family: 'Liberation Sans', sans-serif" textLength="8.91" lengthAdjust="spacingAndGlyphs" textLength="9.44" lengthAdjust="spacingAndGlyphs">2</text>
</g>
</g>
</g>
<g id="ytick_65">
<g id="line2d_106">
<g>
<use href="#m0a4a72b5c7" x="200" y="707.33" style="stroke: #000000; stroke-width: 1.3"/>
</g>
</g>
<g id="line2d_107">
<g>
<use href="#m71070be67f" x="914" y="707.33" style="stroke: #000000; stroke-width: 1.3"/>
</g>
</g>
<g id="text_31">
<!-- $\mathdefault{10^{-1}}$ -->
<g transform="translate(148 714.931771)">
<text x="0" y="1.161" style="font-size: 22.47px; font-family: 'Liberation Sans', sans-serif" textLength="12.72" lengthAdjust="spacingAndGlyphs" textLength="13.49" lengthAdjust="spacingAndGlyphs">1</text>
<text x="12.724609" y="1.161" style="font-size: 22.47px; font-family: 'Liberation Sans', sans-serif" textLength="12.72" lengthAdjust="spacingAndGlyphs" textLength="13.49" lengthAdjust="spacingAndGlyphs">0</text>
<text x="25.640625" y="-5.295" style="font-size: 15.73px; font-family: 'Liberation Sans', sans-serif" textLength="11.73" lengthAdjust="spacingAndGlyphs" textLength="12.43" lengthAdjust="spacingAndGlyphs">−</text>
<text x="37.371094" y="-5.295" style="font-size: 15.73px; font-family: 'Liberation Sans', sans-serif" textLength="8.91" lengthAdjust="spacingAndGlyphs" textLength="9.44" lengthAdjust="spacingAndGlyphs">1</text>
</g>
</g>
</g>
<g id="ytick_66">
<g id="line2d_108">
<g>
<use href="#m0a4a72b5c7" x="200" y="650" style="stroke: #000000; stroke-width: 1.3"/>
</g>
</g>
<g id="line2d_109">
<g>
<use href="#m71070be67f" x="914" y="650" style="stroke: #000000; stroke-width: 1.3"/>
</g>
</g>
<g id="text_32">
<!-- $\mathdefault{10^{0}}$ -->
<g transform="translate(159.8 657.598438)">
<text x="0" y="0.347" style="font-size: 22.47px; font-family: 'Liberation Sans', sans-serif" textLength="12.72" lengthAdjust="spacingAndGlyphs" textLength="13.49" lengthAdjust="spacingAndGlyphs">1</text>
<text x="12.724609" y="0.347" style="font-size: 22.47px; font-family: 'Liberation Sans', sans-serif" textLength="12.72" lengthAdjust="spacingAndGlyphs" textLength="13.49" lengthAdjust="spacingAndGlyphs">0</text>
<text x="25.640625" y="-6.109" style="font-size: 15.73px; font-family: 'Liberation Sans', sans-serif" textLength="8.91" lengthAdjust="spacingAndGlyphs" textLength="9.44" lengthAdjust="spacingAndGlyphs">0</text>
</g>
</g>
</g>
<g id="ytick_67">
<g id="line2d_110">
<g>
<use href="#m0a4a72b5c7" x="200" y="592.67" style="stroke: #000000; stroke-width: 1.3"/>
</g>
</g>
<g id="line2d_111">
<g>
<use href="#m71070be67f" x="914" y="592.67" style="stroke: #000000; stroke-width: 1.3"/>
</g>
</g>
<g id="text_33">
<!-- $\mathdefault{10^{1}}$ -->
<g transform="translate(159.8 600.265104)">
<text x="0" y="1.161" style="font-size: 22.47px; font-family: 'Liberation Sans', sans-serif" textLength="12.72" lengthAdjust="spacingAndGlyphs" textLength="13.49" lengthAdjust="spacingAndGlyphs">1</text>
<text x="12.724609" y="1.161" style="font-size: 22.47px; font-family: 'Liberation Sans', sans-serif" textLength="12.72" lengthAdjust="spacingAndGlyphs" textLength="13.49" lengthAdjust="spacingAndGlyphs">0</text>
<text x="25.640625" y="-5.295" style="font-size: 15.73px; font-family: 'Liberation Sans', sans-serif" textLength="8.91" lengthAdjust="spacingAndGlyphs" textLength="9.44" lengthAdjust="spacingAndGlyphs">1</text>
</g>
</g>
</g>
<g id="ytick_68">
<g id="line2d_112">
<g>
<use href="#m0a4a72b5c7" x="200" y="535.33" style="stroke: #000000; stroke-width: 1.3"/>
</g>
</g>
<g id="line2d_113">
<g>
<use href="#m71070be67f" x="914" y="535.33" style="stroke: #000000; stroke-width: 1.3"/>
</g>
</g>
<g id="text_34">
<!-- $\mathdefault{10^{2}}$ -->
<g transform="translate(159.8 542.931771)">
<text x="0" y="0.347" style="font-size: 22.47px; font-family: 'Liberation Sans', sans-serif" textLength="12.72" lengthAdjust="spacingAndGlyphs" textLength="13.49" lengthAdjust="spacingAndGlyphs">1</text>
<text x="12.724609" y="0.347" style="font-size: 22.47px; font-family: 'Liberation Sans', sans-serif" textLength="12.72" lengthAdjust="spacingAndGlyphs" textLength="13.49" lengthAdjust="spacingAndGlyphs">0</text>
<text x="25.640625" y="-6.109" style="font-size: 15.73px; font-family: 'Liberation Sans', sans-serif" textLength="8.91" lengthAdjust="spacingAndGlyphs" textLength="9.44" lengthAdjust="spacingAndGlyphs">2</text>
</g>
</g>
</g>
<g id="ytick_69">
<g id="line2d_114">
<g>
<use href="#m0a4a72b5c7" x="200" y="478" style="stroke: #000000; stroke-width: 1.3"/>
</g>
</g>
<g id="line2d_115">
<g>
<use href="#m71070be67f" x="914" y="478" style="stroke: #000000; stroke-width: 1.3"/>
</g>
</g>
<g id="text_35">
<!-- $\mathdefault{10^{3}}$ -->
<g transform="translate(159.8 485.598438)">
<text x="0" y="0.347" style="font-size: 22.47px; font-family: 'Liberation Sans', sans-serif" textLength="12.72" lengthAdjust="spacingAndGlyphs" textLength="13.49" lengthAdjust="spacingAndGlyphs">1</text>
<text x="12.724609" y="0.347" style="font-size: 22.47px; font-family: 'Liberation Sans', sans-serif" textLength="12.72" lengthAdjust="spacingAndGlyphs" textLength="13.49" lengthAdjust="spacingAndGlyphs">0</text>
<text x="25.640625" y="-6.109" style="font-size: 15.73px; font-family: 'Liberation Sans', sans-serif" textLength="8.91" lengthAdjust="spacingAndGlyphs" textLength="9.44" lengthAdjust="spacingAndGlyphs">3</text>
</g>
</g>
</g>
<g id="ytick_70">
<g id="line2d_116">
<defs>
<path id="mf77e6de68c" d="M 0 0 L 4 0 " style="stroke: #000000; stroke-width: 0.9"/>
</defs>
<g>
<use href="#mf77e6de68c" x="200" y="804.74" style="stroke: #000000; stroke-width: 0.9"/>
</g>
</g>
<g id="line2d_117">
<defs>
<path id="m9f799bd7d2" d="M 0 0 L -4 0 " style="stroke: #000000; stroke-width: 0.9"/>
</defs>
<g>
<use href="#m9f799bd7d2" x="914" y="804.74" style="stroke: #000000; stroke-width: 0.9"/>
</g>
</g>
</g>
<g id="ytick_71">
<g id="line2d_118">
<g>
<use href="#mf77e6de68c" x="200" y="794.65" style="stroke: #000000; stroke-width: 0.9"/>
</g>
</g>
<g id="line2d_119">
<g>
<use href="#m9f799bd7d2" x="914" y="794.65" style="stroke: #000000; stroke-width: 0.9"/>
</g>
</g>
</g>
<g id="ytick_72">
<g id="line2d_120">
<g>
<use href="#mf77e6de68c" x="200" y="787.48" style="stroke: #000000; stroke-width: 0.9"/>
</g>
</g>
<g id="line2d_121">
<g>
<use href="#m9f799bd7d2" x="914" y="787.48" style="stroke: #000000; stroke-width: 0.9"/>
</g>
</g>
</g>
<g id="ytick_73">
<g id="line2d_122">
<g>
<use href="#mf77e6de68c" x="200" y="781.93" style="stroke: #000000; stroke-width: 0.9"/>
</g>
</g>
<g id="line2d_123">
<g>
<use href="#m9f799bd7d2" x="914" y="781.93" style="stroke: #000000; stroke-width: 0.9"/>
</g>
</g>
</g>
<g id="ytick_74">
<g id="line2d_124">
<g>
<use href="#mf77e6de68c" x="200" y="777.39" style="stroke: #000000; stroke-width: 0.9"/>
</g>
</g>
<g id="line2d_125">
<g>
<use href="#m9f799bd7d2" x="914" y="777.39" style="stroke: #000000; stroke-width: 0.9"/>
</g>
</g>
</g>
<g id="ytick_75">
<g id="line2d_126">
<g>
<use href="#mf77e6de68c" x="200" y="773.55" style="stroke: #000000; stroke-width: 0.9"/>
</g>
</g>
<g id="line2d_127">
<g>
<use href="#m9f799bd7d2" x="914" y="773.55" style="stroke: #000000; stroke-width: 0.9"/>
</g>
</g>
</g>
<g id="ytick_76">
<g id="line2d_128">
<g>
<use href="#mf77e6de68c" x="200" y="770.22" style="stroke: #000000; stroke-width: 0.9"/>
</g>
</g>
<g id="line2d_129">
<g>
<use href="#m9f799bd7d2" x="914" y="770.22" style="stroke: #000000; stroke-width: 0.9"/>
</g>
</g>
</g>
<g id="ytick_77">
<g id="line2d_130">
<g>
<use href="#mf77e6de68c" x="200" y="767.29" style="stroke: #000000; stroke-width: 0.9"/>
</g>
</g>
<g id="line2d_131">
<g>
<use href="#m9f799bd7d2" x="914" y="767.29" style="stroke: #000000; stroke-width: 0.9"/>
</g>
</g>
</g>
<g id="ytick_78">
<g id="line2d_132">
<g>
<use href="#mf77e6de68c" x="200" y="747.41" style="stroke: #000000; stroke-width: 0.9"/>
</g>
</g>
<g id="line2d_133">
<g>
<use href="#m9f799bd7d2" x="914" y="747.41" style="stroke: #000000; stroke-width: 0.9"/>
</g>
</g>
</g>
<g id="ytick_79">
<g id="line2d_134">
<g>
<use href="#mf77e6de68c" x="200" y="737.31" style="stroke: #000000; stroke-width: 0.9"/>
</g>
</g>
<g id="line2d_135">
<g>
<use href="#m9f799bd7d2" x="914" y="737.31" style="stroke: #000000; stroke-width: 0.9"/>
</g>
</g>
</g>
<g id="ytick_80">
<g id="line2d_136">
<g>
<use href="#mf77e6de68c" x="200" y="730.15" style="stroke: #000000; stroke-width: 0.9"/>
</g>
</g>
<g id="line2d_137">
<g>
<use href="#m9f799bd7d2" x="914" y="730.15" style="stroke: #000000; stroke-width: 0.9"/>
</g>
</g>
</g>
<g id="ytick_81">
<g id="line2d_138">
<g>
<use href="#mf77e6de68c" x="200" y="724.59" style="stroke: #000000; stroke-width: 0.9"/>
</g>
</g>
<g id="line2d_139">
<g>
<use href="#m9f799bd7d2" x="914" y="724.59" style="stroke: #000000; stroke-width: 0.9"/>
</g>
</g>
</g>
<g id="ytick_82">
<g id="line2d_140">
<g>
<use href="#mf77e6de68c" x="200" y="720.05" style="stroke: #000000; stroke-width: 0.9"/>
</g>
</g>
<g id="line2d_141">
<g>
<use href="#m9f799bd7d2" x="914" y="720.05" style="stroke: #000000; stroke-width: 0.9"/>
</g>
</g>
</g>
<g id="ytick_83">
<g id="line2d_142">
<g>
<use href="#mf77e6de68c" x="200" y="716.21" style="stroke: #000000; stroke-width: 0.9"/>
</g>
</g>
<g id="line2d_143">
<g>
<use href="#m9f799bd7d2" x="914" y="716.21" style="stroke: #000000; stroke-width: 0.9"/>
</g>
</g>
</g>
<g id="ytick_84">
<g id="line2d_144">
<g>
<use href="#mf77e6de68c" x="200" y="712.89" style="stroke: #000000; stroke-width: 0.9"/>
</g>
</g>
<g id="line2d_145">
<g>
<use href="#m9f799bd7d2" x="914" y="712.89" style="stroke: #000000; stroke-width: 0.9"/>
</g>
</g>
</g>
<g id="ytick_85">
<g id="line2d_146">
<g>
<use href="#mf77e6de68c" x="200" y="709.96" style="stroke: #000000; stroke-width: 0.9"/>
</g>
</g>
<g id="line2d_147">
<g>
<use href="#m9f799bd7d2" x="914" y="709.96" style="stroke: #000000; stroke-width: 0.9"/>
</g>
</g>
</g>
<g id="ytick_86">
<g id="line2d_148">
<g>
<use href="#mf77e6de68c" x="200" y="690.07" style="stroke: #000000; stroke-width: 0.9"/>
</g>
</g>
<g id="line2d_149">
<g>
<use href="#m9f799bd7d2" x="914" y="690.07" style="stroke: #000000; stroke-width: 0.9"/>
</g>
</g>
</g>
<g id="ytick_87">
<g id="line2d_150">
<g>
<use href="#mf77e6de68c" x="200" y="679.98" style="stroke: #000000; stroke-width: 0.9"/>
</g>
</g>
<g id="line2d_151">
<g>
<use href="#m9f799bd7d2" x="914" y="679.98" style="stroke: #000000; stroke-width: 0.9"/>
</g>
</g>
</g>
<g id="ytick_88">
<g id="line2d_152">
<g>
<use href="#mf77e6de68c" x="200" y="672.82" style="stroke: #000000; stroke-width: 0.9"/>
</g>
</g>
<g id="line2d_153">
<g>
<use href="#m9f799bd7d2" x="914" y="672.82" style="stroke: #000000; stroke-width: 0.9"/>
</g>
</g>
</g>
<g id="ytick_89">
<g id="line2d_154">
<g>
<use href="#mf77e6de68c" x="200" y="667.26" style="stroke: #000000; stroke-width: 0.9"/>
</g>
</g>
<g id="line2d_155">
<g>
<use href="#m9f799bd7d2" x="914" y="667.26" style="stroke: #000000; stroke-width: 0.9"/>
</g>
</g>
</g>
<g id="ytick_90">
<g id="line2d_156">
<g>
<use href="#mf77e6de68c" x="200" y="662.72" style="stroke: #000000; stroke-width: 0.9"/>
</g>
</g>
<g id="line2d_157">
<g>
<use href="#m9f799bd7d2" x="914" y="662.72" style="stroke: #000000; stroke-width: 0.9"/>
</g>
</g>
</g>
<g id="ytick_91">
<g id="line2d_158">
<g>
<use href="#mf77e6de68c" x="200" y="658.88" style="stroke: #000000; stroke-width: 0.9"/>
</g>
</g>
<g id="line2d_159">
<g>
<use href="#m9f799bd7d2" x="914" y="658.88" style="stroke: #000000; stroke-width: 0.9"/>
</g>
</g>
</g>
<g id="ytick_92">
<g id="line2d_160">
<g>
<use href="#mf77e6de68c" x="200" y="655.56" style="stroke: #000000; stroke-width: 0.9"/>
</g>
</g>
<g id="line2d_161">
<g>
<use href="#m9f799bd7d2" x="914" y="655.56" style="stroke: #000000; stroke-width: 0.9"/>
</g>
</g>
</g>
<g id="ytick_93">
<g id="line2d_162">
<g>
<use href="#mf77e6de68c" x="200" y="652.62" style="stroke: #000000; stroke-width: 0.9"/>
</g>
</g>
<g id="line2d_163">
<g>
<use href="#m9f799bd7d2" x="914" y="652.62" style="stroke: #000000; stroke-width: 0.9"/>
</g>
</g>
</g>
<g id="ytick_94">
<g id="line2d_164">
<g>
<use href="#mf77e6de68c" x="200" y="632.74" style="stroke: #000000; stroke-width: 0.9"/>
</g>
</g>
<g id="line2d_165">
<g>
<use href="#m9f799bd7d2" x="914" y="632.74" style="stroke: #000000; stroke-width: 0.9"/>
</g>
</g>
</g>
<g id="ytick_95">
<g id="line2d_166">
<g>
<use href="#mf77e6de68c" x="200" y="622.65" style="stroke: #000000; stroke-width: 0.9"/>
</g>
</g>
<g id="line2d_167">
<g>
<use href="#m9f799bd7d2" x="914" y="622.65" style="stroke: #000000; stroke-width: 0.9"/>
</g>
</g>
</g>
<g id="ytick_96">
<g id="line2d_168">
<g>
<use href="#mf77e6de68c" x="200" y="615.48" style="stroke: #000000; stroke-width: 0.9"/>
</g>
</g>
<g id="line2d_169">
<g>
<use href="#m9f799bd7d2" x="914" y="615.48" style="stroke: #000000; stroke-width: 0.9"/>
</g>
</g>
</g>
<g id="ytick_97">
<g id="line2d_170">
<g>
<use href="#mf77e6de68c" x="200" y="609.93" style="stroke: #000000; stroke-width: 0.9"/>
</g>
</g>
<g id="line2d_171">
<g>
<use href="#m9f799bd7d2" x="914" y="609.93" style="stroke: #000000; stroke-width: 0.9"/>
</g>
</g>
</g>
<g id="ytick_98">
<g id="line2d_172">
<g>
<use href="#mf77e6de68c" x="200" y="605.39" style="stroke: #000000; stroke-width: 0.9"/>
</g>
</g>
<g id="line2d_173">
<g>
<use href="#m9f799bd7d2" x="914" y="605.39" style="stroke: #000000; stroke-width: 0.9"/>
</g>
</g>
</g>
<g id="ytick_99">
<g id="line2d_174">
<g>
<use href="#mf77e6de68c" x="200" y="601.55" style="stroke: #000000; stroke-width: 0.9"/>
</g>
</g>
<g id="line2d_175">
<g>
<use href="#m9f799bd7d2" x="914" y="601.55" style="stroke: #000000; stroke-width: 0.9"/>
</g>
</g>
</g>
<g id="ytick_100">
<g id="line2d_176">
<g>
<use href="#mf77e6de68c" x="200" y="598.22" style="stroke: #000000; stroke-width: 0.9"/>
</g>
</g>
<g id="line2d_177">
<g>
<use href="#m9f799bd7d2" x="914" y="598.22" style="stroke: #000000; stroke-width: 0.9"/>
</g>
</g>
</g>
<g id="ytick_101">
<g id="line2d_178">
<g>
<use href="#mf77e6de68c" x="200" y="595.29" style="stroke: #000000; stroke-width: 0.9"/>
</g>
</g>
<g id="line2d_179">
<g>
<use href="#m9f799bd7d2" x="914" y="595.29" style="stroke: #000000; stroke-width: 0.9"/>
</g>
</g>
</g>
<g id="ytick_102">
<g id="line2d_180">
<g>
<use href="#mf77e6de68c" x="200" y="575.41" style="stroke: #000000; stroke-width: 0.9"/>
</g>
</g>
<g id="line2d_181">
<g>
<use href="#m9f799bd7d2" x="914" y="575.41" style="stroke: #000000; stroke-width: 0.9"/>
</g>
</g>
</g>
<g id="ytick_103">
<g id="line2d_182">
<g>
<use href="#mf77e6de68c" x="200" y="565.31" style="stroke: #000000; stroke-width: 0.9"/>
</g>
</g>
<g id="line2d_183">
<g>
<use href="#m9f799bd7d2" x="914" y="565.31" style="stroke: #000000; stroke-width: 0.9"/>
</g>
</g>
</g>
<g id="ytick_104">
<g id="line2d_184">
<g>
<use href="#mf77e6de68c" x="200" y="558.15" style="stroke: #000000; stroke-width: 0.9"/>
</g>
</g>
<g id="line2d_185">
<g>
<use href="#m9f799bd7d2" x="914" y="558.15" style="stroke: #000000; stroke-width: 0.9"/>
</g>
</g>
</g>
<g id="ytick_105">
<g id="line2d_186">
<g>
<use href="#mf77e6de68c" x="200" y="552.59" style="stroke: #000000; stroke-width: 0.9"/>
</g>
</g>
<g id="line2d_187">
<g>
<use href="#m9f799bd7d2" x="914" y="552.59" style="stroke: #000000; stroke-width: 0.9"/>
</g>
</g>
</g>
<g id="ytick_106">
<g id="line2d_188">
<g>
<use href="#mf77e6de68c" x="200" y="548.05" style="stroke: #000000; stroke-width: 0.9"/>
</g>
</g>
<g id="line2d_189">
<g>
<use href="#m9f799bd7d2" x="914" y="548.05" style="stroke: #000000; stroke-width: 0.9"/>
</g>
</g>
</g>
<g id="ytick_107">
<g id="line2d_190">
<g>
<use href="#mf77e6de68c" x="200" y="544.21" style="stroke: #000000; stroke-width: 0.9"/>
</g>
</g>
<g id="line2d_191">
<g>
<use href="#m9f799bd7d2" x="914" y="544.21" style="stroke: #000000; stroke-width: 0.9"/>
</g>
</g>
</g>
<g id="ytick_108">
<g id="line2d_192">
<g>
<use href="#mf77e6de68c" x="200" y="540.89" style="stroke: #000000; stroke-width: 0.9"/>
</g>
</g>
<g id="line2d_193">
<g>
<use href="#m9f799bd7d2" x="914" y="540.89" style="stroke: #000000; stroke-width: 0.9"/>
</g>
</g>
</g>
<g id="ytick_109">
<g id="line2d_194">
<g>
<use href="#mf77e6de68c" x="200" y="537.96" style="stroke: #000000; stroke-width: 0.9"/>
</g>
</g>
<g id="line2d_195">
<g>
<use href="#m9f799bd7d2" x="914" y="537.96" style="stroke: #000000; stroke-width: 0.9"/>
</g>
</g>
</g>
<g id="ytick_110">
<g id="line2d_196">
<g>
<use href="#mf77e6de68c" x="200" y="518.07" style="stroke: #000000; stroke-width: 0.9"/>
</g>
</g>
<g id="line2d_197">
<g>
<use href="#m9f799bd7d2" x="914" y="518.07" style="stroke: #000000; stroke-width: 0.9"/>
</g>
</g>
</g>
<g id="ytick_111">
<g id="line2d_198">
<g>
<use href="#mf77e6de68c" x="200" y="507.98" style="stroke: #000000; stroke-width: 0.9"/>
</g>
</g>
<g id="line2d_199">
<g>
<use href="#m9f799bd7d2" x="914" y="507.98" style="stroke: #000000; stroke-width: 0.9"/>
</g>
</g>
</g>
<g id="ytick_112">
<g id="line2d_200">
<g>
<use href="#mf77e6de68c" x="200" y="500.82" style="stroke: #000000; stroke-width: 0.9"/>
</g>
</g>
<g id="line2d_201">
<g>
<use href="#m9f799bd7d2" x="914" y="500.82" style="stroke: #000000; stroke-width: 0.9"/>
</g>
</g>
</g>
<g id="ytick_113">
<g id="line2d_202">
<g>
<use href="#mf77e6de68c" x="200" y="495.26" style="stroke: #000000; stroke-width: 0.9"/>
</g>
</g>
<g id="line2d_203">
<g>
<use href="#m9f799bd7d2" x="914" y="495.26" style="stroke: #000000; stroke-width: 0.9"/>
</g>
</g>
</g>
<g id="ytick_114">
<g id="line2d_204">
<g>
<use href="#mf77e6de68c" x="200" y="490.72" style="stroke: #000000; stroke-width: 0.9"/>
</g>
</g>
<g id="line2d_205">
<g>
<use href="#m9f799bd7d2" x="914" y="490.72" style="stroke: #000000; stroke-width: 0.9"/>
</g>
</g>
</g>
<g id="ytick_115">
<g id="line2d_206">
<g>
<use href="#mf77e6de68c" x="200" y="486.88" style="stroke: #000000; stroke-width: 0.9"/>
</g>
</g>
<g id="line2d_207">
<g>
<use href="#m9f799bd7d2" x="914" y="486.88" style="stroke: #000000; stroke-width: 0.9"/>
</g>
</g>
</g>
<g id="ytick_116">
<g id="line2d_208">
<g>
<use href="#mf77e6de68c" x="200" y="483.56" style="stroke: #000000; stroke-width: 0.9"/>
</g>
</g>
<g id="line2d_209">
<g>
<use href="#m9f799bd7d2" x="914" y="483.56" style="stroke: #000000; stroke-width: 0.9"/>
</g>
</g>
</g>
<g id="ytick_117">
<g id="line2d_210">
<g>
<use href="#mf77e6de68c" x="200" y="480.62" style="stroke: #000000; stroke-width: 0.9"/>
</g>
</g>
<g id="line2d_211">
<g>
<use href="#m9f799bd7d2" x="914" y="480.62" style="stroke: #000000; stroke-width: 0.9"/>
</g>
</g>
</g>
</g>
<g id="patch_14">
<path d="M 200 822 L 200 478 " style="fill: none; stroke: #000000; stroke-width: 2; stroke-linejoin: miter; stroke-linecap: square"/>
</g>
<g id="patch_15">
<path d="M 914 822 L 914 478 " style="fill: none; stroke: #000000; stroke-width: 2; stroke-linejoin: miter; stroke-linecap: square"/>
</g>
<g id="patch_16">
<path d="M 200 822 L 914 822 " style="fill: none; stroke: #000000; stroke-width: 2; stroke-linejoin: miter; stroke-linecap: square"/>
</g>
<g id="patch_17">
<path d="M 200 478 L 914 478 " style="fill: none; stroke: #000000; stroke-width: 2; stroke-linejoin: miter; stroke-linecap: square"/>
</g>
<g id="line2d_212">
<path d="M 201 660.18 L 205.26 667.1 L 206.42 668.67 L 207.54 670 L 208.64 671.09 L 209.79 672.04 L 211.02 672.86 L 212.32 673.54 L 213.68 674.09 L 214.98 674.91 L 216.2 676 L 217.36 677.36 L 219.48 680.7 L 221.32 684.32 L 222.99 688.1 L 224.79 691.75 L 225.75 693.52 L 226.84 694.71 L 228.07 695.33 L 229.43 695.36 L 230.93 694.82 L 232.33 694.51 L 233.62 694.44 L 234.82 694.61 L 235.91 695.02 L 237 695.6 L 238.09 696.35 L 239.18 697.27 L 240.27 698.36 L 241.33 699.04 L 242.35 699.32 L 243.34 699.18 L 244.29 698.63 L 245.38 697.27 L 246.61 695.09 L 247.98 692.09 L 250.84 685.1 L 252.07 682.58 L 253.16 680.7 L 254.11 679.48 L 255.2 678.45 L 256.43 677.63 L 257.79 677.02 L 259.29 676.61 L 260.76 675.96 L 262.19 675.08 L 263.59 673.95 L 264.95 672.59 L 266.25 671.12 L 267.47 669.56 L 268.63 667.89 L 269.72 666.11 L 270.82 664.58 L 271.91 663.28 L 273 662.23 L 274.09 661.41 L 275.52 660.79 L 277.29 660.39 L 279.41 660.18 L 281.86 660.18 L 283.97 660.39 L 285.75 660.79 L 287.18 661.41 L 288.27 662.23 L 289.36 663.35 L 290.45 664.78 L 291.54 666.52 L 293.72 670.48 L 295.91 673.89 L 297 675.39 L 298.22 676.75 L 299.59 677.98 L 301.09 679.07 L 302.72 680.02 L 304.22 681.21 L 305.59 682.65 L 306.81 684.32 L 307.9 686.23 L 308.96 688.41 L 309.98 690.86 L 310.97 693.59 L 313.63 701.67 L 315.06 705.52 L 315.78 706.85 L 316.53 707.74 L 317.31 708.18 L 318.13 708.18 L 319.02 708.01 L 319.97 707.67 L 321 707.16 L 322.09 706.47 L 323.11 706.07 L 324.06 705.93 L 324.95 706.07 L 325.77 706.47 L 326.65 707.12 L 327.61 708.01 L 330.75 711.35 L 331.7 711.69 L 332.59 711.52 L 333.4 710.84 L 334.36 709.3 L 335.45 706.92 L 336.68 703.68 L 338.04 699.59 L 339.34 696.08 L 340.56 693.15 L 341.72 690.79 L 342.81 689.02 L 344.01 687.59 L 345.3 686.5 L 346.7 685.75 L 348.2 685.34 L 349.63 684.76 L 350.99 684.01 L 352.29 683.09 L 353.52 682 L 354.78 680.46 L 356.07 678.49 L 357.4 676.07 L 358.77 673.2 L 360.06 670.92 L 361.29 669.21 L 362.45 668.09 L 363.54 667.54 L 364.66 667.14 L 365.81 666.86 L 366.98 666.73 L 370.52 666.79 L 372.73 666.93 L 373.82 667.14 L 374.91 667.48 L 376 667.95 L 377.09 668.55 L 378.15 669.62 L 379.17 671.14 L 380.16 673.14 L 382.14 677.94 L 384.39 682.34 L 385.61 684.38 L 386.94 686.16 L 388.37 687.66 L 389.91 688.88 L 391.54 689.84 L 393.04 691.03 L 394.41 692.46 L 395.64 694.13 L 396.73 696.04 L 397.75 698.16 L 398.7 700.48 L 399.59 703 L 400.41 705.72 L 401.29 708.21 L 402.25 710.46 L 403.27 712.47 L 404.36 714.25 L 405.35 715.54 L 406.24 716.36 L 407.02 716.7 L 407.7 716.57 L 408.49 716.24 L 410.36 715.05 L 411.45 714.18 L 412.51 713.64 L 413.53 713.44 L 414.52 713.57 L 416.43 714.58 L 418.34 715.95 L 419.29 716.77 L 420.25 717.11 L 421.2 716.97 L 422.16 716.36 L 423.11 715.27 L 424.1 713.8 L 425.12 711.96 L 426.18 709.75 L 430.95 698.16 L 432.18 695.09 L 433.05 712.54 L 433.27 705.45 L 434.36 697.82 L 437.22 695.09 L 438.04 694.54 L 438.86 694.13 L 439.68 693.86 L 440.57 693.25 L 441.52 692.29 L 442.54 691 L 443.63 689.36 L 444.72 687.45 L 445.82 685.27 L 449.16 677.83 L 450.38 676.03 L 451.68 674.69 L 453.04 673.82 L 454.41 673.23 L 455.77 672.93 L 457.13 672.92 L 464.36 674.46 L 465.45 675.03 L 466.54 675.79 L 467.63 676.75 L 468.66 678.01 L 469.61 679.58 L 470.5 681.45 L 472.2 685.78 L 474.18 689.98 L 475.27 692.02 L 476.5 693.73 L 477.86 695.09 L 479.36 696.11 L 481 696.79 L 482.5 697.78 L 483.86 699.08 L 485.09 700.68 L 486.18 702.59 L 487.13 704.63 L 487.95 706.82 L 488.63 709.13 L 489.86 714.18 L 491.63 719.77 L 492.72 722.77 L 493.75 725.02 L 494.7 726.52 L 495.59 727.27 L 496.4 727.27 L 497.36 727 L 498.45 726.45 L 499.68 725.63 L 501.04 724.54 L 502.3 724 L 503.46 724 L 504.52 724.54 L 506.43 726.66 L 508.34 728.5 L 509.29 729.31 L 510.21 729.52 L 511.1 729.11 L 511.95 728.09 L 512.77 726.45 L 513.72 724.2 L 516.04 717.86 L 518.7 710.22 L 519.93 707.22 L 521.09 704.77 L 522.18 702.86 L 523.34 701.36 L 524.56 700.27 L 525.86 699.59 L 527.22 699.32 L 528.65 698.36 L 530.15 696.73 L 531.72 694.41 L 534.93 688.61 L 537.86 683.63 L 539.22 681.45 L 540.48 679.78 L 541.63 678.62 L 542.67 677.98 L 544.85 677.74 L 548.27 677.63 L 550.45 677.63 L 552.43 678.08 L 554.2 678.96 L 555.77 680.29 L 557.14 682.07 L 558.36 683.87 L 559.45 685.71 L 560.41 687.59 L 562.11 691.37 L 564.09 695.02 L 565.18 696.79 L 566.37 698.29 L 567.67 699.52 L 569.07 700.48 L 570.57 701.16 L 571.93 702.08 L 573.16 703.24 L 574.25 704.63 L 575.2 706.27 L 576.09 708.18 L 576.91 710.36 L 577.66 712.82 L 579.06 718.2 L 580.59 723.32 L 581.41 725.77 L 582.19 727.75 L 582.94 729.25 L 583.66 730.27 L 584.34 730.81 L 585.26 730.92 L 586.42 730.58 L 587.82 729.79 L 589.45 728.56 L 590.88 727.78 L 592.11 727.44 L 593.13 727.54 L 594.84 728.8 L 596.82 730.75 L 597.91 731.97 L 598.93 732.69 L 599.88 732.89 L 600.77 732.59 L 601.59 731.77 L 602.48 730.34 L 603.43 728.29 L 604.45 725.63 L 609.6 710.05 L 610.35 708.35 L 611.13 706.88 L 611.95 705.66 L 612.84 704.69 L 613.79 703.98 L 614.82 703.53 L 615.91 703.34 L 617.03 702.9 L 618.19 702.22 L 619.38 701.29 L 620.61 700.12 L 621.8 698.53 L 622.96 696.51 L 624.09 694.07 L 625.18 691.2 L 626.27 688.71 L 627.36 686.6 L 628.45 684.86 L 629.54 683.5 L 631.11 682.46 L 633.16 681.75 L 635.68 681.37 L 638.68 681.32 L 641.24 681.63 L 643.35 682.31 L 645.02 683.36 L 646.25 684.78 L 647.41 686.39 L 648.5 688.19 L 649.52 690.18 L 651.46 694.48 L 653.54 698.5 L 654.63 700.41 L 655.79 701.94 L 657.02 703.1 L 658.31 703.88 L 659.68 704.29 L 660.9 704.91 L 662 705.72 L 662.95 706.75 L 663.77 707.97 L 664.59 709.58 L 665.4 711.55 L 666.22 713.91 L 667.96 719.46 L 670.11 725.43 L 671.34 728.56 L 672.43 730.92 L 673.38 732.49 L 674.2 733.27 L 674.88 733.27 L 675.73 733 L 676.76 732.45 L 677.95 731.63 L 679.31 730.54 L 680.54 729.83 L 681.63 729.49 L 682.59 729.52 L 683.4 729.93 L 685.24 731.26 L 687.36 733.27 L 688.38 733.81 L 689.34 733.81 L 690.22 733.27 L 691.04 732.18 L 691.99 730.34 L 693.09 727.75 L 694.31 724.41 L 696.97 716.77 L 698.2 713.77 L 699.36 711.32 L 700.45 709.41 L 701.61 707.91 L 702.84 706.82 L 704.13 706.13 L 705.49 705.86 L 706.86 705.18 L 708.22 704.09 L 709.58 702.59 L 710.95 700.68 L 712.24 698.63 L 713.47 696.45 L 714.63 694.13 L 716.74 689.63 L 717.7 688 L 718.58 686.77 L 720.31 684.93 L 720.39 684.73 L 720.24 684.73 L 720.73 684.66 L 726.14 684.04 L 728.32 684.04 L 730.23 684.32 L 731.86 684.86 L 733.23 685.68 L 734.59 686.98 L 735.95 688.75 L 737.32 691 L 739.98 696.21 L 742.36 700.48 L 743.45 702.25 L 744.58 703.71 L 745.74 704.87 L 746.93 705.72 L 748.16 706.27 L 749.39 707.12 L 750.61 708.28 L 751.84 709.75 L 753.07 711.52 L 754.26 713.67 L 755.42 716.19 L 756.54 719.09 L 758.69 725.33 L 760.7 730.34 L 761.66 732.38 L 762.82 733.68 L 764.18 734.22 L 765.75 734.02 L 767.52 733.06 L 769.33 732.76 L 771.17 733.1 L 773.04 734.09 L 774.95 735.72 L 776.66 736.47 L 778.16 736.34 L 779.45 735.31 L 780.54 733.41 L 781.7 731.09 L 784.22 725.22 L 786.88 718.61 L 788.11 716.02 L 789.27 713.91 L 790.36 712.27 L 791.45 710.94 L 792.54 709.92 L 793.63 709.2 L 794.72 708.79 L 795.88 708.18 L 797.11 707.36 L 798.41 706.34 L 799.77 705.11 L 801.13 703.44 L 802.5 701.33 L 803.86 698.77 L 805.22 695.77 L 806.52 693.25 L 807.75 691.2 L 808.91 689.63 L 810 688.54 L 811.43 687.71 L 813.2 687.14 L 815.31 686.83 L 817.77 686.77 L 819.88 686.95 L 821.66 687.36 L 823.09 688 L 824.18 688.87 L 825.27 690.21 L 826.36 692.01 L 827.45 694.27 L 828.54 697 L 829.7 699.55 L 830.93 701.94 L 832.22 704.16 L 833.59 706.2 L 834.88 707.84 L 836.11 709.07 L 837.27 709.88 L 838.36 710.29 L 839.45 711.08 L 840.54 712.24 L 841.63 713.77 L 842.72 715.68 L 843.81 717.86 L 846 723.04 L 849.17 731.53 L 851.11 736.34 L 852.27 737.84 L 853.63 738.52 L 855.2 738.38 L 856.97 737.43 L 858.81 737.16 L 860.72 737.56 L 862.7 738.66 L 864.74 740.43 L 866.52 741.31 L 868.02 741.31 L 869.24 740.43 L 870.2 738.66 L 871.19 736.51 L 873.27 731.09 L 875.45 724.85 L 876.54 722.19 L 877.63 719.84 L 878.72 717.79 L 879.95 716.19 L 881.31 715.03 L 882.81 714.32 L 884.45 714.04 L 886.02 713.4 L 887.52 712.37 L 888.95 710.97 L 890.31 709.2 L 891.68 707.12 L 893.04 704.74 L 894.4 702.04 L 895.77 699.04 L 897.2 696.69 L 898.7 694.99 L 900.27 693.93 L 901.9 693.52 L 903.64 693.35 L 905.48 693.42 L 907.43 693.73 L 912.54 695.09 L 912.54 695.09 " clip-path="url(#p64d00bf3a4)" style="fill: none; stroke: #ff0000; stroke-width: 2.7; stroke-linecap: square"/>
</g>
<g id="line2d_213">
<path d="M 825.37 822 L 825.37 478 " clip-path="url(#p64d00bf3a4)" style="fill: none; stroke-dasharray: 2,3.3; stroke-dashoffset: 0; stroke: #1f77b4; stroke-width: 2"/>
</g>
</g>
<g id="axes_4">
<g id="patch_18">
<path d="M 200 1017 L 914 1017 L 914 845 L 200 845 z
" style="fill: #ffffff"/>
</g>
<g id="patch_19">
<path d="M 199.26 1017 L 208.18 1017 L 208.18 1004.2 L 199.26 1004.2 z
" clip-path="url(#pab1a5cea24)" style="fill: #008000"/>
</g>
<g id="patch_20">
<path d="M 210.41 1017 L 219.34 1017 L 219.34 1010.69 L 210.41 1010.69 z
" clip-path="url(#pab1a5cea24)" style="fill: #008000"/>
</g>
<g id="patch_21">
<path d="M 221.57 1017 L 230.49 1017 L 230.49 997.89 L 221.57 997.89 z
" clip-path="url(#pab1a5cea24)" style="fill: #008000"/>
</g>
<g id="patch_22">
<path d="M 232.72 1017 L 241.65 1017 L 241.65 991.58 L 232.72 991.58 z
" clip-path="url(#pab1a5cea24)" style="fill: #008000"/>
</g>
<g id="patch_23">
<path d="M 243.88 1017 L 252.81 1017 L 252.81 1010.69 L 243.88 1010.69 z
" clip-path="url(#pab1a5cea24)" style="fill: #008000"/>
</g>
<g id="patch_24">
<path d="M 255.04 1017 L 263.96 1017 L 263.96 1017 L 255.04 1017 z
" clip-path="url(#pab1a5cea24)" style="fill: #008000"/>
</g>
<g id="patch_25">
<path d="M 266.19 1017 L 275.12 1017 L 275.12 997.89 L 266.19 997.89 z
" clip-path="url(#pab1a5cea24)" style="fill: #008000"/>
</g>
<g id="patch_26">
<path d="M 277.35 1017 L 286.27 1017 L 286.27 997.89 L 277.35 997.89 z
" clip-path="url(#pab1a5cea24)" style="fill: #008000"/>
</g>
<g id="patch_27">
<path d="M 288.51 1017 L 297.43 1017 L 297.43 1004.2 L 288.51 1004.2 z
" clip-path="url(#pab1a5cea24)" style="fill: #008000"/>
</g>
<g id="patch_28">
<path d="M 299.66 1017 L 308.59 1017 L 308.59 978.78 L 299.66 978.78 z
" clip-path="url(#pab1a5cea24)" style="fill: #008000"/>
</g>
<g id="patch_29">
<path d="M 310.82 1017 L 319.74 1017 L 319.74 1004.2 L 310.82 1004.2 z
" clip-path="url(#pab1a5cea24)" style="fill: #008000"/>
</g>
<g id="patch_30">
<path d="M 321.98 1017 L 330.9 1017 L 330.9 985.08 L 321.98 985.08 z
" clip-path="url(#pab1a5cea24)" style="fill: #008000"/>
</g>
<g id="patch_31">
<path d="M 333.13 1017 L 342.06 1017 L 342.06 991.58 L 333.13 991.58 z
" clip-path="url(#pab1a5cea24)" style="fill: #008000"/>
</g>
<g id="patch_32">
<path d="M 344.29 1017 L 353.21 1017 L 353.21 985.08 L 344.29 985.08 z
" clip-path="url(#pab1a5cea24)" style="fill: #008000"/>
</g>
<g id="patch_33">
<path d="M 355.44 1017 L 364.37 1017 L 364.37 985.08 L 355.44 985.08 z
" clip-path="url(#pab1a5cea24)" style="fill: #008000"/>
</g>
<g id="patch_34">
<path d="M 366.6 1017 L 375.52 1017 L 375.52 985.08 L 366.6 985.08 z
" clip-path="url(#pab1a5cea24)" style="fill: #008000"/>
</g>
<g id="patch_35">
<path d="M 377.76 1017 L 386.68 1017 L 386.68 972.47 L 377.76 972.47 z
" clip-path="url(#pab1a5cea24)" style="fill: #008000"/>
</g>
<g id="patch_36">
<path d="M 388.91 1017 L 397.84 1017 L 397.84 991.58 L 388.91 991.58 z
" clip-path="url(#pab1a5cea24)" style="fill: #008000"/>
</g>
<g id="patch_37">
<path d="M 400.07 1017 L 408.99 1017 L 408.99 1004.2 L 400.07 1004.2 z
" clip-path="url(#pab1a5cea24)" style="fill: #008000"/>
</g>
<g id="patch_38">
<path d="M 411.23 1017 L 420.15 1017 L 420.15 991.58 L 411.23 991.58 z
" clip-path="url(#pab1a5cea24)" style="fill: #008000"/>
</g>
<g id="patch_39">
<path d="M 422.38 1017 L 431.31 1017 L 431.31 997.89 L 422.38 997.89 z
" clip-path="url(#pab1a5cea24)" style="fill: #008000"/>
</g>
<g id="patch_40">
<path d="M 433.54 1017 L 442.46 1017 L 442.46 1004.2 L 433.54 1004.2 z
" clip-path="url(#pab1a5cea24)" style="fill: #008000"/>
</g>
<g id="patch_41">
<path d="M 444.69 1017 L 453.62 1017 L 453.62 978.78 L 444.69 978.78 z
" clip-path="url(#pab1a5cea24)" style="fill: #008000"/>
</g>
<g id="patch_42">
<path d="M 455.85 1017 L 464.77 1017 L 464.77 965.97 L 455.85 965.97 z
" clip-path="url(#pab1a5cea24)" style="fill: #008000"/>
</g>
<g id="patch_43">
<path d="M 467.01 1017 L 475.93 1017 L 475.93 1004.2 L 467.01 1004.2 z
" clip-path="url(#pab1a5cea24)" style="fill: #008000"/>
</g>
<g id="patch_44">
<path d="M 478.16 1017 L 487.09 1017 L 487.09 997.89 L 478.16 997.89 z
" clip-path="url(#pab1a5cea24)" style="fill: #008000"/>
</g>
<g id="patch_45">
<path d="M 489.32 1017 L 498.24 1017 L 498.24 985.08 L 489.32 985.08 z
" clip-path="url(#pab1a5cea24)" style="fill: #008000"/>
</g>
<g id="patch_46">
<path d="M 500.48 1017 L 509.4 1017 L 509.4 1004.2 L 500.48 1004.2 z
" clip-path="url(#pab1a5cea24)" style="fill: #008000"/>
</g>
<g id="patch_47">
<path d="M 511.63 1017 L 520.56 1017 L 520.56 1017 L 511.63 1017 z
" clip-path="url(#pab1a5cea24)" style="fill: #008000"/>
</g>
<g id="patch_48">
<path d="M 522.79 1017 L 531.71 1017 L 531.71 1017 L 522.79 1017 z
" clip-path="url(#pab1a5cea24)" style="fill: #008000"/>
</g>
<g id="patch_49">
<path d="M 533.94 1017 L 542.87 1017 L 542.87 1017 L 533.94 1017 z
" clip-path="url(#pab1a5cea24)" style="fill: #008000"/>
</g>
<g id="patch_50">
<path d="M 545.1 1017 L 554.02 1017 L 554.02 1010.69 L 545.1 1010.69 z
" clip-path="url(#pab1a5cea24)" style="fill: #008000"/>
</g>
<g id="patch_51">
<path d="M 556.26 1017 L 565.18 1017 L 565.18 985.08 L 556.26 985.08 z
" clip-path="url(#pab1a5cea24)" style="fill: #008000"/>
</g>
<g id="patch_52">
<path d="M 567.41 1017 L 576.34 1017 L 576.34 1004.2 L 567.41 1004.2 z
" clip-path="url(#pab1a5cea24)" style="fill: #008000"/>
</g>
<g id="patch_53">
<path d="M 578.57 1017 L 587.49 1017 L 587.49 1004.2 L 578.57 1004.2 z
" clip-path="url(#pab1a5cea24)" style="fill: #008000"/>
</g>
<g id="patch_54">
<path d="M 589.73 1017 L 598.65 1017 L 598.65 1010.69 L 589.73 1010.69 z
" clip-path="url(#pab1a5cea24)" style="fill: #008000"/>
</g>
<g id="patch_55">
<path d="M 600.88 1017 L 609.81 1017 L 609.81 1017 L 600.88 1017 z
" clip-path="url(#pab1a5cea24)" style="fill: #008000"/>
</g>
<g id="patch_56">
<path d="M 612.04 1017 L 620.96 1017 L 620.96 1010.69 L 612.04 1010.69 z
" clip-path="url(#pab1a5cea24)" style="fill: #008000"/>
</g>
<g id="patch_57">
<path d="M 623.19 1017 L 632.12 1017 L 632.12 1017 L 623.19 1017 z
" clip-path="url(#pab1a5cea24)" style="fill: #008000"/>
</g>
<g id="patch_58">
<path d="M 634.35 1017 L 643.27 1017 L 643.27 1010.69 L 634.35 1010.69 z
" clip-path="url(#pab1a5cea24)" style="fill: #008000"/>
</g>
<g id="patch_59">
<path d="M 645.51 1017 L 654.43 1017 L 654.43 1010.69 L 645.51 1010.69 z
" clip-path="url(#pab1a5cea24)" style="fill: #008000"/>
</g>
<g id="patch_60">
<path d="M 656.66 1017 L 665.59 1017 L 665.59 1017 L 656.66 1017 z
" clip-path="url(#pab1a5cea24)" style="fill: #008000"/>
</g>
<g id="patch_61">
<path d="M 667.82 1017 L 676.74 1017 L 676.74 1017 L 667.82 1017 z
" clip-path="url(#pab1a5cea24)" style="fill: #008000"/>
</g>
<g id="patch_62">
<path d="M 678.98 1017 L 687.9 1017 L 687.9 1010.69 L 678.98 1010.69 z
" clip-path="url(#pab1a5cea24)" style="fill: #008000"/>
</g>
<g id="patch_63">
<path d="M 690.13 1017 L 699.06 1017 L 699.06 1010.69 L 690.13 1010.69 z
" clip-path="url(#pab1a5cea24)" style="fill: #008000"/>
</g>
<g id="patch_64">
<path d="M 701.29 1017 L 710.21 1017 L 710.21 1010.69 L 701.29 1010.69 z
" clip-path="url(#pab1a5cea24)" style="fill: #008000"/>
</g>
<g id="patch_65">
<path d="M 712.44 1017 L 721.37 1017 L 721.37 1010.69 L 712.44 1010.69 z
" clip-path="url(#pab1a5cea24)" style="fill: #008000"/>
</g>
<g id="patch_66">
<path d="M 723.6 1017 L 732.52 1017 L 732.52 1010.69 L 723.6 1010.69 z
" clip-path="url(#pab1a5cea24)" style="fill: #008000"/>
</g>
<g id="patch_67">
<path d="M 734.76 1017 L 743.68 1017 L 743.68 978.78 L 734.76 978.78 z
" clip-path="url(#pab1a5cea24)" style="fill: #008000"/>
</g>
<g id="patch_68">
<path d="M 745.91 1017 L 754.84 1017 L 754.84 991.58 L 745.91 991.58 z
" clip-path="url(#pab1a5cea24)" style="fill: #008000"/>
</g>
<g id="patch_69">
<path d="M 757.07 1017 L 765.99 1017 L 765.99 1004.2 L 757.07 1004.2 z
" clip-path="url(#pab1a5cea24)" style="fill: #008000"/>
</g>
<g id="patch_70">
<path d="M 768.23 1017 L 777.15 1017 L 777.15 1010.69 L 768.23 1010.69 z
" clip-path="url(#pab1a5cea24)" style="fill: #008000"/>
</g>
<g id="patch_71">
<path d="M 779.38 1017 L 788.31 1017 L 788.31 1010.69 L 779.38 1010.69 z
" clip-path="url(#pab1a5cea24)" style="fill: #008000"/>
</g>
<g id="patch_72">
<path d="M 790.54 1017 L 799.46 1017 L 799.46 1017 L 790.54 1017 z
" clip-path="url(#pab1a5cea24)" style="fill: #008000"/>
</g>
<g id="patch_73">
<path d="M 801.69 1017 L 810.62 1017 L 810.62 1004.2 L 801.69 1004.2 z
" clip-path="url(#pab1a5cea24)" style="fill: #008000"/>
</g>
<g id="patch_74">
<path d="M 812.85 1017 L 821.77 1017 L 821.77 1010.69 L 812.85 1010.69 z
" clip-path="url(#pab1a5cea24)" style="fill: #008000"/>
</g>
<g id="patch_75">
<path d="M 824.01 1017 L 832.93 1017 L 832.93 978.78 L 824.01 978.78 z
" clip-path="url(#pab1a5cea24)" style="fill: #008000"/>
</g>
<g id="patch_76">
<path d="M 835.16 1017 L 844.09 1017 L 844.09 978.78 L 835.16 978.78 z
" clip-path="url(#pab1a5cea24)" style="fill: #008000"/>
</g>
<g id="patch_77">
<path d="M 846.32 1017 L 855.24 1017 L 855.24 959.67 L 846.32 959.67 z
" clip-path="url(#pab1a5cea24)" style="fill: #bfbf00"/>
</g>
<g id="patch_78">
<path d="M 857.48 1017 L 866.4 1017 L 866.4 978.78 L 857.48 978.78 z
" clip-path="url(#pab1a5cea24)" style="fill: #008000"/>
</g>
<g id="patch_79">
<path d="M 868.63 1017 L 877.56 1017 L 877.56 959.67 L 868.63 959.67 z
" clip-path="url(#pab1a5cea24)" style="fill: #bfbf00"/>
</g>
<g id="patch_80">
<path d="M 879.79 1017 L 888.71 1017 L 888.71 959.67 L 879.79 959.67 z
" clip-path="url(#pab1a5cea24)" style="fill: #bfbf00"/>
</g>
<g id="patch_81">
<path d="M 890.94 1017 L 899.87 1017 L 899.87 959.67 L 890.94 959.67 z
" clip-path="url(#pab1a5cea24)" style="fill: #bfbf00"/>
</g>
<g id="patch_82">
<path d="M 902.1 1017 L 911.02 1017 L 911.02 959.67 L 902.1 959.67 z
" clip-path="url(#pab1a5cea24)" style="fill: #bfbf00"/>
</g>
<g id="matplotlib.axis_7">
<g id="xtick_17">
<g id="line2d_214">
<g>
<use href="#mdc1538e322" x="248.34" y="1017" style="stroke: #000000; stroke-width: 1.3"/>
</g>
</g>
<g id="text_36">
<text style="font-size: 21.20px; font-family: 'Liberation Sans', sans-serif; text-anchor: middle" x="248.34375" y="1038.196875" transform="rotate(-0 248.34375 1038.196875)" textLength="25.45" lengthAdjust="spacingAndGlyphs">24</text>
</g>
</g>
<g id="xtick_18">
<g id="line2d_215">
<g>
<use href="#mdc1538e322" x="337.59" y="1017" style="stroke: #000000; stroke-width: 1.3"/>
</g>
</g>
<g id="text_37">
<text style="font-size: 21.20px; font-family: 'Liberation Sans', sans-serif; text-anchor: middle" x="337.59375" y="1038.196875" transform="rotate(-0 337.59375 1038.196875)" textLength="25.45" lengthAdjust="spacingAndGlyphs">25</text>
</g>
</g>
<g id="xtick_19">
<g id="line2d_216">
<g>
<use href="#mdc1538e322" x="426.84" y="1017" style="stroke: #000000; stroke-width: 1.3"/>
</g>
</g>
<g id="text_38">
<text style="font-size: 21.20px; font-family: 'Liberation Sans', sans-serif; text-anchor: middle" x="426.84375" y="1038.196875" transform="rotate(-0 426.84375 1038.196875)" textLength="25.45" lengthAdjust="spacingAndGlyphs">26</text>
</g>
</g>
<g id="xtick_20">
<g id="line2d_217">
<g>
<use href="#mdc1538e322" x="516.09" y="1017" style="stroke: #000000; stroke-width: 1.3"/>
</g>
</g>
<g id="text_39">
<text style="font-size: 21.20px; font-family: 'Liberation Sans', sans-serif; text-anchor: middle" x="516.09375" y="1038.196875" transform="rotate(-0 516.09375 1038.196875)" textLength="25.45" lengthAdjust="spacingAndGlyphs">27</text>
</g>
</g>
<g id="xtick_21">
<g id="line2d_218">
<g>
<use href="#mdc1538e322" x="605.34" y="1017" style="stroke: #000000; stroke-width: 1.3"/>
</g>
</g>
<g id="text_40">
<text style="font-size: 21.20px; font-family: 'Liberation Sans', sans-serif; text-anchor: middle" x="605.34375" y="1038.196875" transform="rotate(-0 605.34375 1038.196875)" textLength="25.45" lengthAdjust="spacingAndGlyphs">28</text>
</g>
</g>
<g id="xtick_22">
<g id="line2d_219">
<g>
<use href="#mdc1538e322" x="694.59" y="1017" style="stroke: #000000; stroke-width: 1.3"/>
</g>
</g>
<g id="text_41">
<text style="font-size: 21.20px; font-family: 'Liberation Sans', sans-serif; text-anchor: middle" x="694.59375" y="1038.196875" transform="rotate(-0 694.59375 1038.196875)" textLength="25.45" lengthAdjust="spacingAndGlyphs">29</text>
</g>
</g>
<g id="xtick_23">
<g id="line2d_220">
<g>
<use href="#mdc1538e322" x="783.84" y="1017" style="stroke: #000000; stroke-width: 1.3"/>
</g>
</g>
<g id="text_42">
<text style="font-size: 21.20px; font-family: 'Liberation Sans', sans-serif; text-anchor: middle" x="783.84375" y="1038.196875" transform="rotate(-0 783.84375 1038.196875)" textLength="25.45" lengthAdjust="spacingAndGlyphs">30</text>
</g>
</g>
<g id="xtick_24">
<g id="line2d_221">
<g>
<use href="#mdc1538e322" x="873.09" y="1017" style="stroke: #000000; stroke-width: 1.3"/>
</g>
</g>
<g id="text_43">
<text style="font-size: 21.20px; font-family: 'Liberation Sans', sans-serif; text-anchor: middle" x="873.09375" y="1038.196875" transform="rotate(-0 873.09375 1038.196875)" textLength="25.45" lengthAdjust="spacingAndGlyphs">31</text>
</g>
</g>
</g>
<g id="matplotlib.axis_8">
<g id="ytick_118">
<g id="line2d_222">
<g>
<use href="#m0a4a72b5c7" x="200" y="1017" style="stroke: #000000; stroke-width: 1.3"/>
</g>
</g>
<g id="line2d_223">
<g>
<use href="#m71070be67f" x="914" y="1017" style="stroke: #000000; stroke-width: 1.3"/>
</g>
</g>
<g id="text_44">
<text style="font-size: 21.20px; font-family: 'Liberation Sans', sans-serif; text-anchor: end" x="195" y="1024.598438" transform="rotate(-0 195 1024.598438)" textLength="12.72" lengthAdjust="spacingAndGlyphs">0</text>
</g>
</g>
<g id="ytick_119">
<g id="line2d_224">
<g>
<use href="#m0a4a72b5c7" x="200" y="978.78" style="stroke: #000000; stroke-width: 1.3"/>
</g>
</g>
<g id="line2d_225">
<g>
<use href="#m71070be67f" x="914" y="978.78" style="stroke: #000000; stroke-width: 1.3"/>
</g>
</g>
<g id="text_45">
<text style="font-size: 21.20px; font-family: 'Liberation Sans', sans-serif; text-anchor: end" x="195" y="986.376215" transform="rotate(-0 195 986.376215)" textLength="12.72" lengthAdjust="spacingAndGlyphs">2</text>
</g>
</g>
<g id="ytick_120">
<g id="line2d_226">
<g>
<use href="#m0a4a72b5c7" x="200" y="940.56" style="stroke: #000000; stroke-width: 1.3"/>
</g>
</g>
<g id="line2d_227">
<g>
<use href="#m71070be67f" x="914" y="940.56" style="stroke: #000000; stroke-width: 1.3"/>
</g>
</g>
<g id="text_46">
<text style="font-size: 21.20px; font-family: 'Liberation Sans', sans-serif; text-anchor: end" x="195" y="948.153993" transform="rotate(-0 195 948.153993)" textLength="12.72" lengthAdjust="spacingAndGlyphs">4</text>
</g>
</g>
<g id="ytick_121">
<g id="line2d_228">
<g>
<use href="#m0a4a72b5c7" x="200" y="902.33" style="stroke: #000000; stroke-width: 1.3"/>
</g>
</g>
<g id="line2d_229">
<g>
<use href="#m71070be67f" x="914" y="902.33" style="stroke: #000000; stroke-width: 1.3"/>
</g>
</g>
<g id="text_47">
<text style="font-size: 21.20px; font-family: 'Liberation Sans', sans-serif; text-anchor: end" x="195" y="909.931771" transform="rotate(-0 195 909.931771)" textLength="12.72" lengthAdjust="spacingAndGlyphs">6</text>
</g>
</g>
<g id="ytick_122">
<g id="line2d_230">
<g>
<use href="#m0a4a72b5c7" x="200" y="864.11" style="stroke: #000000; stroke-width: 1.3"/>
</g>
</g>
<g id="line2d_231">
<g>
<use href="#m71070be67f" x="914" y="864.11" style="stroke: #000000; stroke-width: 1.3"/>
</g>
</g>
<g id="text_48">
<text style="font-size: 21.20px; font-family: 'Liberation Sans', sans-serif; text-anchor: end" x="195" y="871.709549" transform="rotate(-0 195 871.709549)" textLength="12.72" lengthAdjust="spacingAndGlyphs">8</text>
</g>
</g>
</g>
<g id="patch_83">
<path d="M 200 1017 L 200 845 " style="fill: none; stroke: #000000; stroke-width: 2; stroke-linejoin: miter; stroke-linecap: square"/>
</g>
<g id="patch_84">
<path d="M 914 1017 L 914 845 " style="fill: none; stroke: #000000; stroke-width: 2; stroke-linejoin: miter; stroke-linecap: square"/>
</g>
<g id="patch_85">
<path d="M 200 1017 L 914 1017 " style="fill: none; stroke: #000000; stroke-width: 2; stroke-linejoin: miter; stroke-linecap: square"/>
</g>
<g id="patch_86">
<path d="M 200 845 L 914 845 " style="fill: none; stroke: #000000; stroke-width: 2; stroke-linejoin: miter; stroke-linecap: square"/>
</g>
<g id="line2d_232">
<path d="M 825.37 1017 L 825.37 845 " clip-path="url(#pab1a5cea24)" style="fill: none; stroke-dasharray: 2,3.3; stroke-dashoffset: 0; stroke: #1f77b4; stroke-width: 2"/>
</g>
<g id="FC3"><text transform="translate(875.20 1000.83) rotate(-90)" x="0" y="0" fill="#000000" fill-opacity="0.100" style="font-size:33.92px;font-family:'Liberation Sans',sans-serif" textLength="17.76" lengthAdjust="spacingAndGlyphs">F</text><text transform="translate(875.20 984.17) rotate(-90)" x="0" y="0" fill="#000000" fill-opacity="0.100" style="font-size:33.92px;font-family:'Liberation Sans',sans-serif" textLength="18.89" lengthAdjust="spacingAndGlyphs">o</text><text transform="translate(875.20 965.28) rotate(-90)" x="0" y="0" fill="#000000" fill-opacity="0.100" style="font-size:33.92px;font-family:'Liberation Sans',sans-serif" textLength="12.70" lengthAdjust="spacingAndGlyphs">r</text><text transform="translate(875.20 953.26) rotate(-90)" x="0" y="0" fill="#000000" fill-opacity="0.100" style="font-size:33.92px;font-family:'Liberation Sans',sans-serif" textLength="19.00" lengthAdjust="spacingAndGlyphs">e</text><text transform="translate(875.20 934.26) rotate(-90)" x="0" y="0" fill="#000000" fill-opacity="0.100" style="font-size:33.92px;font-family:'Liberation Sans',sans-serif" textLength="16.98" lengthAdjust="spacingAndGlyphs">c</text><text transform="translate(875.20 917.28) rotate(-90)" x="0" y="0" fill="#000000" fill-opacity="0.100" style="font-size:33.92px;font-family:'Liberation Sans',sans-serif" textLength="18.92" lengthAdjust="spacingAndGlyphs">a</text><text transform="translate(875.20 898.36) rotate(-90)" x="0" y="0" fill="#000000" fill-opacity="0.100" style="font-size:33.92px;font-family:'Liberation Sans',sans-serif" textLength="16.09" lengthAdjust="spacingAndGlyphs">s</text><text transform="translate(875.20 882.27) rotate(-90)" x="0" y="0" fill="#000000" fill-opacity="0.100" style="font-size:33.92px;font-family:'Liberation Sans',sans-serif" textLength="12.11" lengthAdjust="spacingAndGlyphs">t</text></g>
<g id="legend_1">
<g id="patch_87">
<path d="M 209.8 919.25 L 293.31 919.25 Q 296.11 919.25 296.11 916.45 L 296.11 854.8 Q 296.11 852 293.31 852 L 209.8 852 Q 207 852 207 854.8 L 207 916.45 Q 207 919.25 209.8 919.25 z
" style="fill: #ffffff; opacity: 0.8; stroke: #cccccc; stroke-linejoin: miter"/>
</g>
<g id="patch_88">
<path d="M 212.6 868.24 L 240.6 868.24 L 240.6 858.44 L 212.6 858.44 z
" style="fill: #008000; stroke: #008000; stroke-linejoin: miter"/>
</g>
<g id="text_49">
<text style="font-size: 14.84px; font-family: 'Liberation Sans', sans-serif; text-anchor: start" x="251.8" y="868.237813" transform="rotate(-0 251.8 868.237813)" textLength="38.71" lengthAdjust="spacingAndGlyphs">Kp&lt;3</text>
</g>
<g id="patch_89">
<path d="M 212.6 889.49 L 240.6 889.49 L 240.6 879.69 L 212.6 879.69 z
" style="fill: #bfbf00; stroke: #bfbf00; stroke-linejoin: miter"/>
</g>
<g id="text_50">
<text style="font-size: 14.84px; font-family: 'Liberation Sans', sans-serif; text-anchor: start" x="251.8" y="889.487188" transform="rotate(-0 251.8 889.487188)" textLength="38.71" lengthAdjust="spacingAndGlyphs">Kp&lt;5</text>
</g>
<g id="patch_90">
<path d="M 212.6 910.74 L 240.6 910.74 L 240.6 900.94 L 212.6 900.94 z
" style="fill: #ff0000; stroke: #ff0000; stroke-linejoin: miter"/>
</g>
<g id="text_51">
<text style="font-size: 14.84px; font-family: 'Liberation Sans', sans-serif; text-anchor: start" x="251.8" y="910.736562" transform="rotate(-0 251.8 910.736562)" textLength="38.71" lengthAdjust="spacingAndGlyphs">Kp&gt;5</text>
</g>
</g>
</g>
<g id="axes_5">
<g id="patch_91">
<path d="M 1205 455 L 1800 455 L 1800 110 L 1205 110 z
" style="fill: #ffffff"/>
</g>
<g id="line2d_233">
<path d="M 1205 282.5 L 1800 282.5 " clip-path="url(#p1224437e14)" style="fill: none; stroke-dasharray: 2,3.3; stroke-dashoffset: 0; stroke: #000000; stroke-width: 2"/>
</g>
<g id="matplotlib.axis_9">
<g id="xtick_25">
<g id="line2d_234">
<g>
<use href="#mdc1538e322" x="1245.29" y="455" style="stroke: #000000; stroke-width: 1.3"/>
</g>
</g>
</g>
<g id="xtick_26">
<g id="line2d_235">
<g>
<use href="#mdc1538e322" x="1319.66" y="455" style="stroke: #000000; stroke-width: 1.3"/>
</g>
</g>
</g>
<g id="xtick_27">
<g id="line2d_236">
<g>
<use href="#mdc1538e322" x="1394.04" y="455" style="stroke: #000000; stroke-width: 1.3"/>
</g>
</g>
</g>
<g id="xtick_28">
<g id="line2d_237">
<g>
<use href="#mdc1538e322" x="1468.41" y="455" style="stroke: #000000; stroke-width: 1.3"/>
</g>
</g>
</g>
<g id="xtick_29">
<g id="line2d_238">
<g>
<use href="#mdc1538e322" x="1542.79" y="455" style="stroke: #000000; stroke-width: 1.3"/>
</g>
</g>
</g>
<g id="xtick_30">
<g id="line2d_239">
<g>
<use href="#mdc1538e322" x="1617.16" y="455" style="stroke: #000000; stroke-width: 1.3"/>
</g>
</g>
</g>
<g id="xtick_31">
<g id="line2d_240">
<g>
<use href="#mdc1538e322" x="1691.54" y="455" style="stroke: #000000; stroke-width: 1.3"/>
</g>
</g>
</g>
<g id="xtick_32">
<g id="line2d_241">
<g>
<use href="#mdc1538e322" x="1765.91" y="455" style="stroke: #000000; stroke-width: 1.3"/>
</g>
</g>
</g>
</g>
<g id="matplotlib.axis_10">
<g id="ytick_123">
<g id="line2d_242">
<g>
<use href="#m0a4a72b5c7" x="1205" y="455" style="stroke: #000000; stroke-width: 1.3"/>
</g>
</g>
<g id="text_52">
<text style="font-size: 21.20px; font-family: 'Liberation Sans', sans-serif; text-anchor: end" x="1200" y="462.598437" transform="rotate(-0 1200 462.598437)" textLength="42.21" lengthAdjust="spacingAndGlyphs">−20</text>
</g>
</g>
<g id="ytick_124">
<g id="line2d_243">
<g>
<use href="#m0a4a72b5c7" x="1205" y="411.88" style="stroke: #000000; stroke-width: 1.3"/>
</g>
</g>
<g id="text_53">
<text style="font-size: 21.20px; font-family: 'Liberation Sans', sans-serif; text-anchor: end" x="1200" y="419.473437" transform="rotate(-0 1200 419.473437)" textLength="42.21" lengthAdjust="spacingAndGlyphs">−15</text>
</g>
</g>
<g id="ytick_125">
<g id="line2d_244">
<g>
<use href="#m0a4a72b5c7" x="1205" y="368.75" style="stroke: #000000; stroke-width: 1.3"/>
</g>
</g>
<g id="text_54">
<text style="font-size: 21.20px; font-family: 'Liberation Sans', sans-serif; text-anchor: end" x="1200" y="376.348437" transform="rotate(-0 1200 376.348437)" textLength="42.21" lengthAdjust="spacingAndGlyphs">−10</text>
</g>
</g>
<g id="ytick_126">
<g id="line2d_245">
<g>
<use href="#m0a4a72b5c7" x="1205" y="325.62" style="stroke: #000000; stroke-width: 1.3"/>
</g>
</g>
<g id="text_55">
<text style="font-size: 21.20px; font-family: 'Liberation Sans', sans-serif; text-anchor: end" x="1200" y="333.223437" transform="rotate(-0 1200 333.223437)" textLength="29.48" lengthAdjust="spacingAndGlyphs">−5</text>
</g>
</g>
<g id="ytick_127">
<g id="line2d_246">
<g>
<use href="#m0a4a72b5c7" x="1205" y="282.5" style="stroke: #000000; stroke-width: 1.3"/>
</g>
</g>
<g id="text_56">
<text style="font-size: 21.20px; font-family: 'Liberation Sans', sans-serif; text-anchor: end" x="1200" y="290.098437" transform="rotate(-0 1200 290.098437)" textLength="12.72" lengthAdjust="spacingAndGlyphs">0</text>
</g>
</g>
<g id="ytick_128">
<g id="line2d_247">
<g>
<use href="#m0a4a72b5c7" x="1205" y="239.38" style="stroke: #000000; stroke-width: 1.3"/>
</g>
</g>
<g id="text_57">
<text style="font-size: 21.20px; font-family: 'Liberation Sans', sans-serif; text-anchor: end" x="1200" y="246.973437" transform="rotate(-0 1200 246.973437)" textLength="12.72" lengthAdjust="spacingAndGlyphs">5</text>
</g>
</g>
<g id="ytick_129">
<g id="line2d_248">
<g>
<use href="#m0a4a72b5c7" x="1205" y="196.25" style="stroke: #000000; stroke-width: 1.3"/>
</g>
</g>
<g id="text_58">
<text style="font-size: 21.20px; font-family: 'Liberation Sans', sans-serif; text-anchor: end" x="1200" y="203.848437" transform="rotate(-0 1200 203.848437)" textLength="25.45" lengthAdjust="spacingAndGlyphs">10</text>
</g>
</g>
<g id="ytick_130">
<g id="line2d_249">
<g>
<use href="#m0a4a72b5c7" x="1205" y="153.12" style="stroke: #000000; stroke-width: 1.3"/>
</g>
</g>
<g id="text_59">
<text style="font-size: 21.20px; font-family: 'Liberation Sans', sans-serif; text-anchor: end" x="1200" y="160.723437" transform="rotate(-0 1200 160.723437)" textLength="25.45" lengthAdjust="spacingAndGlyphs">15</text>
</g>
</g>
<g id="ytick_131">
<g id="line2d_250">
<g>
<use href="#m0a4a72b5c7" x="1205" y="110" style="stroke: #000000; stroke-width: 1.3"/>
</g>
</g>
<g id="text_60">
<text style="font-size: 21.20px; font-family: 'Liberation Sans', sans-serif; text-anchor: end" x="1200" y="117.598437" transform="rotate(-0 1200 117.598437)" textLength="25.45" lengthAdjust="spacingAndGlyphs">20</text>
</g>
</g>
</g>
<g id="patch_92">
<path d="M 1205 455 L 1205 110 " style="fill: none; stroke: #000000; stroke-width: 2; stroke-linejoin: miter; stroke-linecap: square"/>
</g>
<g id="patch_93">
<path d="M 1800 455 L 1800 110 " style="fill: none; stroke: #000000; stroke-width: 2; stroke-linejoin: miter; stroke-linecap: square"/>
</g>
<g id="patch_94">
<path d="M 1205 455 L 1800 455 " style="fill: none; stroke: #000000; stroke-width: 2; stroke-linejoin: miter; stroke-linecap: square"/>
</g>
<g id="patch_95">
<path d="M 1205 110 L 1800 110 " style="fill: none; stroke: #000000; stroke-width: 2; stroke-linejoin: miter; stroke-linecap: square"/>
</g>
<g id="line2d_251">
<path d="M 1205.41 246.37 L 1206.18 243.2 L 1206.96 244.05 L 1207.73 251 L 1208.5 294.28 L 1209.27 261.82 L 1210.05 254.65 L 1210.82 254.1 L 1211.59 260.43 L 1212.36 268.01 L 1213.14 263.09 L 1213.91 260.28 L 1214.68 256.67 L 1215.46 258.73 L 1216.23 277.28 L 1217 264.91 L 1217.77 305.1 L 1219.32 280.37 L 1220.09 292.9 L 1220.87 308.19 L 1221.64 295.41 L 1222.41 286.55 L 1223.18 299.36 L 1223.96 315.92 L 1224.73 301.79 L 1225.5 295.83 L 1226.28 303.65 L 1227.05 312.83 L 1227.82 266.46 L 1228.59 262.6 L 1229.37 264.91 L 1230.14 308.19 L 1230.91 299.61 L 1231.68 295.83 L 1232.46 304.96 L 1233.23 322.1 L 1234.78 295.83 L 1235.55 296.91 L 1236.32 306.65 L 1237.87 257.19 L 1238.64 255.05 L 1239.41 258.73 L 1240.19 295.83 L 1240.96 261.82 L 1241.73 257.16 L 1242.5 255.64 L 1243.28 268.33 L 1244.05 283.46 L 1244.82 268.54 L 1245.6 257.19 L 1246.37 261.99 L 1247.14 269.55 L 1248.69 257.19 L 1249.46 268.85 L 1250.23 283.46 L 1251 269.3 L 1251.78 257.19 L 1252.55 269.02 L 1253.32 285.01 L 1254.1 270.85 L 1254.87 264.91 L 1255.64 263.5 L 1256.41 263.37 L 1257.19 279.46 L 1257.96 300.46 L 1258.73 304.67 L 1259.51 309.74 L 1260.28 281.92 L 1261.05 282.56 L 1261.82 289.64 L 1263.37 281.92 L 1264.91 288.87 L 1265.69 284.63 L 1266.46 281.92 L 1267.23 284.71 L 1268.01 292.74 L 1268.78 283.24 L 1269.55 275.73 L 1270.32 279.96 L 1271.1 289.64 L 1271.87 272.35 L 1272.64 261.82 L 1273.88 289.64 L 1274.5 314.37 L 1275.73 257.19 L 1276.51 261.99 L 1277.28 272.64 L 1278.05 275.49 L 1278.83 281.92 L 1279.6 283.88 L 1280.37 295.83 L 1280.99 299.78 L 1281.61 305.1 L 1282.69 302.01 L 1318.24 279.6 L 1319.01 284.23 L 1319.78 258.73 L 1320.56 259.84 L 1321.33 266.46 L 1323.65 251 L 1324.42 259.17 L 1325.19 277.28 L 1325.97 323.65 L 1326.74 289.64 L 1327.51 295.24 L 1328.28 302.01 L 1329.06 295.19 L 1329.83 289.64 L 1330.6 296.51 L 1331.38 308.19 L 1332.15 299.06 L 1332.92 295.83 L 1333.69 299.39 L 1334.47 306.65 L 1335.24 291.53 L 1336.01 281.92 L 1336.79 308.19 L 1337.56 268.01 L 1338.33 273.36 L 1339.1 280.37 L 1339.88 273.63 L 1340.65 271.1 L 1341.42 260.52 L 1342.19 257.19 L 1342.97 312.83 L 1343.74 301.36 L 1344.51 292.74 L 1345.29 275.84 L 1346.06 271.1 L 1346.83 288.04 L 1347.6 308.19 L 1348.38 295.83 L 1349.15 299.9 L 1349.92 308.19 L 1350.7 290.63 L 1351.47 277.28 L 1352.24 295.86 L 1353.01 317.47 L 1354.56 285.01 L 1355.33 270.81 L 1356.11 263.37 L 1356.88 267.79 L 1357.65 274.19 L 1359.2 247.91 L 1360.74 264.91 L 1361.51 260.3 L 1362.29 258.73 L 1363.06 263.23 L 1363.83 269.55 L 1364.61 272.26 L 1365.38 275.73 L 1366.15 283.63 L 1366.92 292.74 L 1367.7 271.1 L 1368.47 277.28 L 1370.02 261.82 L 1370.79 258.12 L 1371.56 258.73 L 1372.33 246.45 L 1373.11 238.64 L 1373.88 243.89 L 1374.65 255.64 L 1375.43 241.82 L 1376.2 234 L 1376.82 223.07 L 1377.43 218.55 L 1378.05 222.83 L 1378.67 232.84 L 1379.29 238.64 L 1380.06 305.1 L 1380.83 227.82 L 1382.38 339.1 L 1383.93 230.91 L 1384.7 229.09 L 1385.47 229.37 L 1387.02 326.74 L 1387.79 238.64 L 1388.56 300.46 L 1389.34 262.51 L 1390.11 230.91 L 1391.65 315.92 L 1393.2 238.64 L 1394.44 292.74 L 1395.52 232.46 L 1397.06 331.38 L 1398.61 238.64 L 1399.35 259.11 L 1400.08 283.2 L 1400.82 300.46 L 1401.59 283.72 L 1402.36 272.7 L 1403.14 254.1 L 1403.91 259.55 L 1404.68 274.19 L 1406.23 246.37 L 1407 242.4 L 1407.77 240.19 L 1409.32 308.19 L 1410.87 229.37 L 1411.64 228.94 L 1412.41 230.91 L 1413.96 292.74 L 1414.73 334.47 L 1415.5 261.82 L 1417.05 323.65 L 1418.59 295.83 L 1420.14 252.55 L 1420.91 308.19 L 1422.46 274.19 L 1423.23 252.55 L 1424 269.44 L 1424.78 295.83 L 1426.32 264.91 L 1427.09 257.88 L 1427.87 258.73 L 1428.64 311.28 L 1429.41 280.37 L 1430.19 268.31 L 1430.96 264.91 L 1431.73 274.86 L 1432.5 286.55 L 1433.28 274.93 L 1434.05 268.01 L 1434.82 263.42 L 1435.6 263.37 L 1437.14 279.6 L 1437.78 278.32 L 1438.43 281.7 L 1439.07 277.89 L 1439.72 280.75 L 1440.36 278.21 L 1441 281.14 L 1441.78 281.1 L 1442.55 283.74 L 1443.32 283.46 L 1444.1 273.36 L 1444.87 272.64 L 1445.64 285.84 L 1446.41 305.1 L 1447.96 274.19 L 1448.73 284.24 L 1449.51 295.83 L 1450.28 287 L 1451.05 283.46 L 1451.82 282.44 L 1452.6 286.55 L 1454.91 261.82 L 1456.15 300.46 L 1456.77 292.6 L 1457.39 286.81 L 1458.01 277.28 L 1458.78 283.49 L 1459.55 291.19 L 1460.32 283.61 L 1461.1 280.37 L 1461.87 285.4 L 1462.64 292.74 L 1463.42 282.24 L 1464.19 274.19 L 1464.96 275.8 L 1465.73 286.55 L 1466.51 278.3 L 1467.28 273.48 L 1468.05 266.46 L 1468.83 277.05 L 1469.6 291.19 L 1470.37 278.85 L 1471.14 271.1 L 1471.92 275.41 L 1472.69 283.38 L 1473.46 286.55 L 1474.23 282.92 L 1475.01 286.3 L 1475.78 280.37 L 1476.55 276.74 L 1477.33 276.81 L 1478.87 262.62 L 1479.64 268.16 L 1480.42 263.37 L 1481.19 272.31 L 1481.96 286.55 L 1482.74 274.61 L 1483.51 269.55 L 1484.28 273.08 L 1485.05 281.3 L 1485.83 280.37 L 1486.6 272.11 L 1487.37 267.22 L 1488.15 258.73 L 1488.92 253.73 L 1489.69 258.65 L 1490.46 255.64 L 1491.24 259.64 L 1492.78 270.41 L 1493.55 277.28 L 1494.33 281.74 L 1495.1 288.1 L 1495.87 278.09 L 1496.65 272.64 L 1497.42 276.73 L 1498.19 281.92 L 1498.96 281.29 L 1499.74 287.6 L 1500.51 288.1 L 1501.28 296.6 L 1502.06 309.74 L 1502.83 303.26 L 1503.6 302.82 L 1504.37 298.92 L 1505.15 280.15 L 1505.92 264.91 L 1506.69 277.25 L 1507.47 292.74 L 1508.24 274.63 L 1509.01 264.91 L 1509.78 270.09 L 1510.56 285.01 L 1511.33 269.58 L 1512.1 258.73 L 1512.87 261.71 L 1513.65 269.55 L 1514.42 271.15 L 1515.19 277.28 L 1515.97 317.47 L 1516.74 295.56 L 1517.51 280.37 L 1518.28 286.76 L 1519.06 305.1 L 1519.83 292.91 L 1520.6 283.46 L 1521.38 279.4 L 1522.15 277.28 L 1522.92 284.93 L 1523.69 295.83 L 1525.24 277.28 L 1526.79 261.82 L 1527.56 260.91 L 1528.33 260.28 L 1529.1 266.46 L 1529.88 281.92 L 1530.65 267.24 L 1531.42 263.37 L 1532.19 266.69 L 1532.97 272.64 L 1533.74 268.01 L 1534.51 268.01 L 1535.29 266.68 L 1536.06 278.83 L 1536.83 271.22 L 1537.6 269.95 L 1538.38 263.37 L 1539.92 277.28 L 1540.7 271.95 L 1541.47 271.61 L 1542.24 264.91 L 1543.01 277.85 L 1543.79 292.74 L 1544.56 280.51 L 1545.33 272.64 L 1546.11 265.97 L 1546.88 261.82 L 1548.42 302.01 L 1549.2 282.63 L 1549.97 272.64 L 1551.51 283.46 L 1552.29 269.3 L 1553.06 261.82 L 1553.83 266.94 L 1554.61 277.28 L 1555.38 275.72 L 1556.15 282.75 L 1556.92 283.46 L 1557.7 277.17 L 1558.47 282.85 L 1559.24 280.37 L 1560.02 279.34 L 1560.79 281.28 L 1561.56 277.28 L 1562.33 268.56 L 1563.11 266.58 L 1563.88 258.73 L 1564.65 289.64 L 1565.43 283.02 L 1566.2 280.37 L 1566.97 280.68 L 1567.74 284.96 L 1568.52 286.55 L 1569.29 280.58 L 1570.06 283.46 L 1570.83 276.58 L 1571.61 280.45 L 1572.38 275.73 L 1573.15 283.41 L 1573.93 292.74 L 1574.7 278.56 L 1575.47 270.42 L 1576.24 258.73 L 1577.79 275.73 L 1578.56 263.54 L 1579.34 255.64 L 1581.65 280.37 L 1582.43 279.62 L 1583.2 292.74 L 1583.97 278.34 L 1584.74 268.09 L 1585.52 251 L 1586.29 254.66 L 1587.06 264.91 L 1586.96 249.46 L 1588.5 289.64 L 1589.27 278.99 L 1590.05 274.19 L 1590.82 273.38 L 1591.59 283.46 L 1592.36 284.26 L 1593.14 287.67 L 1593.91 286.55 L 1594.68 277.98 L 1595.46 284.3 L 1596.23 278.83 L 1597 283.4 L 1597.77 293.89 L 1598.55 300.46 L 1599.32 292.31 L 1600.09 289.64 L 1600.87 291.29 L 1601.64 296.15 L 1602.41 297.37 L 1603.18 290.15 L 1603.96 286.55 L 1605.5 246.37 L 1606.28 250.3 L 1607.05 255.64 L 1607.82 258.61 L 1608.59 264.91 L 1610.14 254.1 L 1610.91 267.78 L 1611.68 288.1 L 1612.46 276.41 L 1613.23 266.46 L 1614 270.27 L 1614.78 277.28 L 1615.55 273.81 L 1616.32 271.1 L 1617.09 284.1 L 1617.87 303.55 L 1618.64 288.64 L 1619.41 277.28 L 1620.19 279.52 L 1620.96 285.01 L 1622.5 274.19 L 1623.28 273.47 L 1624.05 277.28 L 1624.82 270.14 L 1625.6 271.1 L 1626.37 274.68 L 1627.14 278.83 L 1627.91 274.89 L 1628.69 273.52 L 1629.46 269.55 L 1630.23 271.82 L 1631 276.44 L 1631.78 278.83 L 1632.55 271.13 L 1633.32 264.91 L 1634.1 267.15 L 1634.87 274.19 L 1635.64 265.17 L 1636.41 264.12 L 1637.19 254.1 L 1637.96 257.23 L 1638.73 265.24 L 1639.51 269.55 L 1641.05 258.73 L 1641.82 264.45 L 1642.6 272.64 L 1641.82 305.1 L 1642.6 298.14 L 1643.37 294.11 L 1644.14 286.55 L 1644.91 291.4 L 1645.69 302.01 L 1646.46 290.73 L 1647.23 283.46 L 1648.01 282.13 L 1648.78 289.64 L 1649.55 281.51 L 1650.32 279.38 L 1651.1 274.19 L 1651.87 283.24 L 1652.64 295.83 L 1653.42 287.86 L 1654.19 286.55 L 1654.96 290.46 L 1655.73 304.89 L 1656.51 311.28 L 1658.05 285.01 L 1658.83 289.54 L 1659.6 295.83 L 1661.14 286.55 L 1662.69 298.92 L 1663.46 300.54 L 1664.23 303.55 L 1665.01 294.57 L 1665.78 291.19 L 1666.55 291.9 L 1667.33 298.92 L 1668.87 286.55 L 1670.42 292.74 L 1672.74 255.93 L 1673.51 255.64 L 1674.28 252.78 L 1675.05 253.37 L 1675.83 251 L 1676.6 250.8 L 1677.37 252.21 L 1678.15 252.55 L 1678.92 268.67 L 1679.69 289.64 L 1680.46 268.22 L 1681.24 251 L 1682.01 244.63 L 1682.78 241.73 L 1683.55 255.7 L 1684.33 274.19 L 1685.1 264.31 L 1685.87 258.73 L 1687.42 277.28 L 1688.19 266.14 L 1688.96 258.73 L 1689.74 266.52 L 1690.51 277.28 L 1691.59 247.91 L 1692.26 251.87 L 1692.93 266.03 L 1693.6 271.1 L 1694.37 262.25 L 1695.15 258.73 L 1695.92 265.02 L 1696.69 277.28 L 1698.24 263.37 L 1699.01 260.08 L 1699.78 260.28 L 1700.56 257.65 L 1701.33 259.37 L 1702.1 257.19 L 1703.65 305.1 L 1704.42 282.78 L 1705.19 264.91 L 1706.74 308.19 L 1707.51 275.69 L 1708.28 247.91 L 1709.06 262.02 L 1709.83 286.55 L 1711.38 309.74 L 1712.15 287.54 L 1712.92 271.1 L 1713.69 265.37 L 1714.47 264.91 L 1715.24 252.17 L 1716.01 246.37 L 1716.79 252.5 L 1717.56 261.82 L 1718.33 267.74 L 1719.1 277.28 L 1719.88 264.69 L 1720.65 258.73 L 1721.42 320.56 L 1722.19 313.05 L 1722.97 308.19 L 1723.74 322.1 L 1724.51 280.8 L 1725.29 252.55 L 1726.06 251 L 1726.06 251 " clip-path="url(#p1224437e14)" style="fill: none; stroke: #000000; stroke-width: 2.4; stroke-linecap: square"/>
</g>
<g id="line2d_252">
<path d="M 1205.41 246.47 L 1205.86 241.61 L 1206.31 248.69 L 1206.76 242.81 L 1207.21 247.23 L 1207.66 248.81 L 1208.11 274.08 L 1208.56 291.64 L 1209.46 255.35 L 1209.91 263.34 L 1210.36 256.1 L 1210.81 256.18 L 1211.26 257.65 L 1211.71 263.25 L 1212.16 264.77 L 1212.61 269.26 L 1213.06 263.92 L 1213.51 262.74 L 1213.96 258.17 L 1214.41 262.39 L 1214.86 254.79 L 1215.31 260.06 L 1215.76 264.01 L 1216.21 282.58 L 1216.66 267.94 L 1217.11 271.94 L 1218.01 305.81 L 1218.46 294.03 L 1218.91 289.63 L 1219.36 280.39 L 1219.81 291.42 L 1220.26 296.13 L 1220.71 307.54 L 1221.61 299.41 L 1222.06 288.35 L 1222.51 289.04 L 1222.96 294.53 L 1223.41 306.57 L 1223.86 313.33 L 1224.31 314.63 L 1224.76 301.63 L 1225.21 301.62 L 1225.66 295.04 L 1226.11 307.71 L 1226.56 307.08 L 1227.01 313.99 L 1227.46 285.91 L 1227.91 270.53 L 1228.36 263.46 L 1228.81 267.35 L 1229.26 263.82 L 1229.71 287.01 L 1230.16 304.03 L 1230.61 306.27 L 1231.06 299.02 L 1231.51 302.53 L 1231.96 299.46 L 1232.41 308.9 L 1232.86 313.46 L 1233.31 322.07 L 1233.76 313.05 L 1234.21 306.48 L 1234.66 295.18 L 1235.11 299.96 L 1235.56 301 L 1236.01 305.94 L 1236.46 300.66 L 1236.91 291.09 L 1237.36 271.61 L 1237.81 259.56 L 1238.26 255.68 L 1238.71 261.81 L 1239.16 253.11 L 1239.61 272.9 L 1240.06 287.13 L 1240.51 282.96 L 1240.96 261.54 L 1241.41 263.04 L 1241.86 254.45 L 1242.31 260.2 L 1242.76 258.54 L 1243.21 272.25 L 1243.66 271.65 L 1244.11 283.35 L 1244.56 270.86 L 1245.01 267.87 L 1245.46 254.95 L 1245.91 265.77 L 1246.36 257.97 L 1246.81 268.63 L 1247.26 266.49 L 1247.71 269.74 L 1248.16 260.14 L 1248.61 260.04 L 1249.06 262.64 L 1249.96 278.22 L 1250.41 282.64 L 1250.86 271.63 L 1251.31 266.06 L 1251.76 257.21 L 1252.21 265.63 L 1252.66 269.21 L 1253.11 282.62 L 1253.56 278.31 L 1254.01 276.65 L 1254.46 265.91 L 1254.91 268.88 L 1255.36 262.83 L 1255.81 270.3 L 1256.26 263.34 L 1256.71 271.84 L 1257.16 276.92 L 1257.61 296.03 L 1258.06 293.35 L 1258.51 306.23 L 1258.96 304.52 L 1259.41 310.95 L 1259.86 294.5 L 1260.31 282.89 L 1260.76 283.27 L 1261.21 287.15 L 1261.66 285.54 L 1262.11 288.28 L 1262.56 283.21 L 1263.01 284.98 L 1263.46 281.34 L 1263.91 290.76 L 1264.36 282.02 L 1264.81 290.79 L 1265.26 285.55 L 1265.71 287.04 L 1266.16 281.64 L 1266.61 286.93 L 1267.06 283.67 L 1267.51 292.31 L 1267.96 292.07 L 1268.41 290.39 L 1268.86 281.15 L 1269.31 279.86 L 1269.76 274.21 L 1270.21 283.3 L 1270.66 285.43 L 1271.11 290.18 L 1271.56 280.31 L 1272.01 279 L 1272.46 264.91 L 1272.91 268.5 L 1273.36 274.69 L 1274.26 302.92 L 1274.71 306.74 L 1275.16 277.73 L 1276.06 254.95 L 1276.51 271.33 L 1276.96 266.99 L 1277.41 274.58 L 1277.86 274.75 L 1278.31 280.5 L 1278.76 279.9 L 1279.21 285.98 L 1279.66 288.9 L 1280.11 297.98 L 1280.56 296.75 L 1281.01 302.86 L 1281.46 303.61 L 1281.91 305.64 L 1282.36 301.1 L 1282.36 301.1 " clip-path="url(#p1224437e14)" style="fill: none; stroke: #000000; stroke-width: 1.3; stroke-linecap: square"/>
</g>
<g id="line2d_253">
<path d="M 1318.24 282.06 L 1318.69 281.37 L 1319.14 280.99 L 1319.59 264.91 L 1320.04 261.35 L 1320.49 261.76 L 1320.94 265.99 L 1321.39 264.9 L 1321.84 263.11 L 1322.29 258.32 L 1322.74 261.05 L 1323.19 251.41 L 1323.64 253.36 L 1324.09 256.29 L 1324.54 266.73 L 1324.99 272.1 L 1325.89 317.25 L 1326.34 310.49 L 1326.79 287.5 L 1327.24 297.57 L 1327.69 297.11 L 1328.14 304.34 L 1328.59 299.56 L 1329.04 300.65 L 1329.49 287.01 L 1329.94 295.51 L 1330.39 294.9 L 1330.84 303.37 L 1331.29 302.79 L 1331.74 306.19 L 1332.19 298.7 L 1332.64 299.49 L 1333.09 296.21 L 1333.54 302.99 L 1333.99 302.81 L 1334.44 307.45 L 1334.89 299.53 L 1335.34 294.6 L 1335.79 282.68 L 1336.69 303.37 L 1337.14 293.11 L 1337.59 267.15 L 1338.04 276.93 L 1338.49 272.56 L 1338.94 280.59 L 1339.39 276.57 L 1339.84 277.33 L 1340.29 272.89 L 1340.74 270.57 L 1341.19 259.3 L 1341.64 262.77 L 1342.09 255.06 L 1342.99 308.14 L 1343.44 311.26 L 1343.89 298.03 L 1344.34 297.49 L 1344.79 283.89 L 1345.24 282.66 L 1345.69 273.01 L 1346.14 273.79 L 1346.59 278.06 L 1347.04 295.05 L 1347.49 304.06 L 1347.94 304.14 L 1348.39 295.01 L 1348.84 301.23 L 1349.29 300.52 L 1349.74 311.14 L 1351.09 283.83 L 1351.54 282.05 L 1351.99 285.62 L 1352.44 303.74 L 1352.89 312.1 L 1353.34 313.48 L 1353.79 299.07 L 1354.24 294.9 L 1354.69 282.04 L 1355.14 279.13 L 1355.59 264.54 L 1356.04 266.72 L 1356.49 264.19 L 1356.94 271.02 L 1357.39 268.56 L 1357.84 272.11 L 1358.29 261.66 L 1358.74 260.33 L 1359.19 244.3 L 1359.64 254.28 L 1360.09 257.67 L 1360.54 266.25 L 1360.99 260.27 L 1361.44 263.17 L 1361.89 256.83 L 1362.34 260.89 L 1362.79 260.94 L 1363.24 271.09 L 1363.69 266.47 L 1364.14 271.56 L 1364.59 270.66 L 1365.04 274.87 L 1365.49 276.8 L 1365.94 283.3 L 1366.39 286.2 L 1366.84 295.32 L 1367.29 282.1 L 1367.74 272.31 L 1368.19 273.4 L 1368.64 278.77 L 1369.09 268.97 L 1369.54 271.18 L 1369.99 261.09 L 1370.44 261.83 L 1370.89 259.05 L 1371.34 260.62 L 1371.79 254.95 L 1372.24 251.93 L 1372.69 243.25 L 1373.14 243.72 L 1373.59 239.94 L 1374.04 250.42 L 1374.49 249.09 L 1374.94 252.31 L 1375.39 244.23 L 1375.84 239.5 L 1376.29 229.44 L 1376.74 228.44 L 1377.19 210.76 L 1377.64 224.59 L 1378.09 224.62 L 1378.54 231.44 L 1378.99 234.8 L 1379.44 256.89 L 1379.89 286.7 L 1380.34 278.86 L 1380.79 232.37 L 1382.14 322.19 L 1382.59 315.82 L 1383.04 295.35 L 1383.94 231.01 L 1384.39 230.32 L 1384.84 232.53 L 1385.29 229.16 L 1385.74 248.43 L 1386.19 273.88 L 1386.64 310.78 L 1387.09 314.83 L 1387.54 275.69 L 1387.99 254.07 L 1388.44 293.12 L 1388.89 283.95 L 1389.34 266.09 L 1389.79 239.52 L 1390.24 240.85 L 1390.69 260.13 L 1391.59 312.18 L 1392.04 297.73 L 1392.49 270.32 L 1392.94 253.31 L 1393.39 245.84 L 1393.84 270.41 L 1394.29 285.69 L 1394.74 276.13 L 1395.19 248.46 L 1395.64 241.85 L 1396.09 267.05 L 1396.54 306.13 L 1396.99 323.5 L 1397.44 310.6 L 1398.34 258.03 L 1398.79 242.33 L 1399.24 257.35 L 1399.69 261.4 L 1400.14 282.11 L 1401.04 300.92 L 1401.49 281.57 L 1401.94 282.36 L 1402.39 265.6 L 1402.84 266.68 L 1403.29 254.34 L 1403.74 261.98 L 1404.19 264.86 L 1404.64 273.98 L 1405.09 266.24 L 1405.54 263.3 L 1405.99 249.36 L 1406.44 246.87 L 1406.89 242.68 L 1407.34 243.31 L 1407.79 240.44 L 1409.14 302.46 L 1409.59 293.01 L 1410.04 273.21 L 1410.49 246.86 L 1410.94 234.67 L 1411.39 229.58 L 1411.84 233.31 L 1412.29 229.61 L 1413.64 280.35 L 1414.09 299.06 L 1414.54 325.97 L 1414.99 306.37 L 1415.44 269.65 L 1415.89 276.97 L 1416.34 300.05 L 1416.79 306.17 L 1417.24 321.54 L 1417.69 310.51 L 1418.14 305.32 L 1419.04 284.47 L 1419.49 266.09 L 1419.94 259.24 L 1420.39 269.17 L 1420.84 303.99 L 1421.74 291.65 L 1422.19 279.49 L 1422.64 271.57 L 1423.09 256.42 L 1423.54 261.85 L 1423.99 271.51 L 1424.44 286.5 L 1424.89 292 L 1425.34 288.95 L 1425.79 272.62 L 1426.24 270.39 L 1426.69 261.63 L 1427.14 261.98 L 1427.59 258.59 L 1428.04 271.19 L 1428.49 298.11 L 1428.94 299.69 L 1429.39 276.91 L 1429.84 276.23 L 1430.29 267.37 L 1430.74 267.62 L 1431.19 264.52 L 1431.64 278.22 L 1432.09 280.38 L 1432.54 286.38 L 1432.99 275.76 L 1433.44 277.59 L 1433.89 263.45 L 1434.34 271.58 L 1434.79 260.33 L 1435.24 266.5 L 1435.69 262.86 L 1436.14 269.61 L 1436.59 269.46 L 1437.04 282.42 L 1437.49 278.26 L 1437.94 282.17 L 1438.39 279.27 L 1438.84 284.83 L 1439.29 279.41 L 1439.74 283.45 L 1440.19 275.67 L 1440.64 282.31 L 1441.09 280.79 L 1441.54 284.82 L 1441.99 278.08 L 1442.44 283.95 L 1442.89 280.81 L 1443.34 284.71 L 1443.79 279.12 L 1444.24 277.99 L 1444.69 270.67 L 1445.14 283.37 L 1445.59 286.95 L 1446.04 297.78 L 1446.49 301.91 L 1446.94 300.29 L 1447.39 285.57 L 1447.84 279.81 L 1448.29 271.62 L 1448.74 287.24 L 1449.64 295.35 L 1450.09 283.62 L 1450.54 289.7 L 1450.99 279.08 L 1451.44 286.42 L 1451.89 283.09 L 1452.34 288.2 L 1452.79 279.87 L 1453.24 282.52 L 1453.69 270.85 L 1454.14 270.8 L 1454.59 265.12 L 1455.04 268.03 L 1455.49 275.11 L 1455.94 294.07 L 1456.39 294.34 L 1456.84 295.61 L 1457.29 283.28 L 1457.74 281.89 L 1458.19 272.67 L 1458.64 283.28 L 1459.09 284.1 L 1459.54 292.02 L 1459.99 284.62 L 1460.44 288.14 L 1460.89 279.62 L 1461.34 283.37 L 1461.79 284.11 L 1462.24 290.46 L 1462.69 288.62 L 1463.14 287.44 L 1463.59 280.21 L 1464.04 279.75 L 1464.49 273.1 L 1464.94 282.38 L 1465.39 282.8 L 1465.84 286.38 L 1466.29 278.66 L 1466.74 280.9 L 1467.19 271.47 L 1467.64 271.11 L 1468.09 266.14 L 1468.54 276.46 L 1468.99 279.21 L 1469.44 290.98 L 1469.89 286.9 L 1470.34 284.69 L 1470.79 274.86 L 1471.24 272.06 L 1471.69 273.31 L 1472.14 277.83 L 1472.59 278.34 L 1473.04 287.48 L 1473.49 282.21 L 1473.94 287.63 L 1474.39 283.59 L 1474.84 287.02 L 1475.29 279.88 L 1475.74 284.31 L 1476.19 275.26 L 1476.64 278.87 L 1477.09 269.6 L 1477.54 274.52 L 1477.99 268.68 L 1478.44 271.45 L 1478.89 264.08 L 1479.34 266.8 L 1479.79 264.97 L 1480.24 265.31 L 1480.69 264.58 L 1481.14 276.91 L 1481.59 278.29 L 1482.04 287.22 L 1482.49 279.75 L 1482.94 277.56 L 1483.39 267.64 L 1483.84 275.16 L 1484.29 271.51 L 1484.74 275.73 L 1485.19 273.34 L 1485.64 281.09 L 1486.09 274.89 L 1486.54 277.04 L 1486.99 266.3 L 1487.44 265.46 L 1487.89 260.5 L 1488.34 261.71 L 1488.79 256.76 L 1489.24 258.29 L 1489.69 252.7 L 1490.14 257.18 L 1490.59 254.56 L 1491.04 259.12 L 1491.49 259.99 L 1491.94 265.93 L 1492.39 267.48 L 1492.84 273.21 L 1493.29 270.35 L 1493.74 281.14 L 1494.19 281.22 L 1494.64 287.65 L 1495.09 283.99 L 1495.54 287.35 L 1495.99 276.47 L 1496.44 275.26 L 1496.89 271.03 L 1497.34 277.5 L 1497.79 274.41 L 1498.24 282.48 L 1498.69 279.42 L 1499.14 285.31 L 1499.59 282.28 L 1500.04 287.61 L 1500.49 285.09 L 1500.94 296.39 L 1501.39 296.93 L 1501.84 310.66 L 1502.29 306.92 L 1502.74 312.62 L 1503.19 302.1 L 1503.64 307.01 L 1504.09 297.88 L 1504.54 298.27 L 1504.99 280.02 L 1505.44 276.27 L 1505.89 260.63 L 1506.34 273.89 L 1506.79 275.18 L 1507.24 296.54 L 1507.69 287.54 L 1508.14 287.49 L 1508.59 270.74 L 1509.04 267.76 L 1509.49 270.79 L 1509.94 277.94 L 1510.39 280.97 L 1510.84 285.15 L 1511.29 268.87 L 1511.74 266.61 L 1512.19 258.3 L 1512.64 266.76 L 1513.09 260.79 L 1513.54 274.63 L 1513.99 268.4 L 1514.44 278.72 L 1514.89 275.59 L 1515.34 285.3 L 1515.79 303.7 L 1516.24 311.62 L 1516.69 299.17 L 1517.14 293.89 L 1517.59 277.73 L 1518.04 291.47 L 1518.49 291.79 L 1518.94 307.91 L 1519.39 297.09 L 1519.84 296.95 L 1520.29 287.42 L 1520.74 286.14 L 1521.19 280.57 L 1521.64 283.16 L 1522.09 272.63 L 1522.54 285.01 L 1522.99 286.99 L 1523.44 293.32 L 1523.89 289.88 L 1524.34 292.36 L 1524.79 282.6 L 1525.24 277.93 L 1525.69 271.21 L 1526.14 269.71 L 1526.59 262.4 L 1527.04 262.29 L 1527.49 260 L 1527.94 262.08 L 1528.39 260.77 L 1528.84 269.35 L 1529.29 273.6 L 1529.74 281.07 L 1530.19 271.38 L 1530.64 274.25 L 1531.09 266.46 L 1531.54 268.45 L 1531.99 260.53 L 1532.44 274.69 L 1532.89 268.6 L 1533.34 271.87 L 1533.79 262.86 L 1534.24 270.01 L 1534.69 265.61 L 1535.14 273.05 L 1535.59 268.14 L 1536.04 285.62 L 1536.49 272.91 L 1536.94 273.52 L 1537.39 266.07 L 1537.84 270.32 L 1538.29 259.35 L 1538.74 270.02 L 1539.19 266.31 L 1539.64 277.01 L 1540.09 273.07 L 1540.54 276.53 L 1540.99 268.31 L 1541.44 271.78 L 1541.89 263.21 L 1542.79 274.48 L 1543.24 284.16 L 1543.69 288.27 L 1544.14 288.88 L 1544.59 276.64 L 1545.04 277.3 L 1545.49 270.36 L 1545.94 270.44 L 1546.39 261.49 L 1546.84 267.24 L 1547.29 271.55 L 1547.74 287.6 L 1548.19 291.73 L 1548.64 302.92 L 1549.09 288.82 L 1549.54 283.51 L 1549.99 272.73 L 1550.44 278 L 1550.89 278.14 L 1551.34 286.9 L 1551.79 278.46 L 1552.24 273.77 L 1552.69 266 L 1553.14 262.78 L 1553.59 264.58 L 1554.04 274.24 L 1554.49 274.99 L 1554.94 278.48 L 1555.39 272.12 L 1555.84 281.83 L 1556.29 281.21 L 1556.74 289.11 L 1557.19 283.08 L 1557.64 285.8 L 1558.09 279.89 L 1558.54 284.01 L 1558.99 279.22 L 1559.44 281.09 L 1559.89 279.13 L 1560.34 281.2 L 1560.79 276.66 L 1561.24 279.49 L 1561.69 272.77 L 1562.14 274.83 L 1562.59 267.35 L 1563.04 271.58 L 1563.49 260.2 L 1563.94 265.54 L 1564.39 275.13 L 1564.84 288.99 L 1565.29 281.57 L 1565.74 284.49 L 1566.19 278.41 L 1566.64 284.45 L 1567.09 282.53 L 1567.54 287.56 L 1567.99 280.97 L 1568.44 289.51 L 1568.89 281.52 L 1569.34 285.43 L 1569.79 282.31 L 1570.24 283.83 L 1570.69 275.74 L 1571.14 282.83 L 1571.59 273.01 L 1572.04 277.13 L 1572.49 276.5 L 1572.94 282.4 L 1573.39 285.28 L 1573.84 296.14 L 1574.29 284.84 L 1574.74 283.64 L 1575.19 273.11 L 1575.64 269.43 L 1576.09 258.84 L 1576.54 264.19 L 1576.99 265.76 L 1577.44 273.89 L 1577.89 271.62 L 1578.34 270.02 L 1578.79 259.86 L 1579.24 257.29 L 1579.69 258.7 L 1580.14 265.19 L 1580.59 268.23 L 1581.04 274.45 L 1581.49 273.07 L 1581.94 287.48 L 1582.39 283.88 L 1582.84 291.55 L 1583.74 283.71 L 1584.19 274.81 L 1584.64 268.59 L 1585.09 254.06 L 1585.54 251.74 L 1585.99 251.65 L 1586.44 261.99 L 1586.89 259.25 L 1587.34 273.02 L 1587.79 275.18 L 1588.24 286.64 L 1588.69 287.77 L 1589.14 285.34 L 1589.59 276.55 L 1590.04 277.37 L 1590.49 271.24 L 1590.94 283.15 L 1591.39 279.01 L 1591.84 288.07 L 1592.29 283.46 L 1592.74 286.98 L 1593.19 279.63 L 1593.64 293.64 L 1594.09 283.46 L 1594.54 288.23 L 1594.99 279.24 L 1595.44 284.96 L 1595.89 276.51 L 1596.34 284.27 L 1596.79 281.05 L 1597.24 291.63 L 1597.69 291.51 L 1598.14 299.07 L 1598.59 300.09 L 1599.04 300.64 L 1599.49 289.71 L 1599.94 291.88 L 1600.39 286.48 L 1600.84 298.65 L 1601.29 288.17 L 1601.74 297.98 L 1602.19 296.23 L 1602.64 297.76 L 1603.09 286.33 L 1603.54 290.31 L 1603.99 281.73 L 1604.44 278.01 L 1604.89 260.23 L 1605.34 251.69 L 1605.79 246.36 L 1606.24 252.88 L 1606.69 252.69 L 1607.14 259.02 L 1607.59 256.85 L 1608.04 261.94 L 1608.49 260.74 L 1608.94 265.25 L 1609.39 251.06 L 1609.84 257.63 L 1610.29 250.92 L 1610.74 268.68 L 1611.19 276.59 L 1611.64 289.72 L 1612.09 280.94 L 1612.54 277.54 L 1612.99 268.31 L 1613.44 268.14 L 1613.89 270.46 L 1614.34 276.14 L 1614.79 273.88 L 1615.24 275.85 L 1615.69 270.73 L 1616.14 273.77 L 1616.59 275.21 L 1617.04 287.66 L 1617.49 287.84 L 1617.94 303.13 L 1618.39 291.57 L 1618.84 292.92 L 1619.29 279.24 L 1619.74 279.7 L 1620.19 278.02 L 1620.64 288.47 L 1621.09 283.16 L 1621.54 282.04 L 1621.99 277.53 L 1622.44 278.27 L 1622.89 271.6 L 1623.34 276.61 L 1623.79 271.6 L 1624.24 276.96 L 1624.69 269.54 L 1625.14 275.94 L 1625.59 271.06 L 1626.04 276.06 L 1626.49 272.34 L 1626.94 282.2 L 1627.39 277.03 L 1627.84 277.73 L 1628.29 269.83 L 1628.74 275.23 L 1629.19 269.91 L 1629.64 270.53 L 1630.09 271.92 L 1630.54 277.31 L 1630.99 273.72 L 1631.44 279.06 L 1631.89 277.58 L 1632.34 274.53 L 1632.79 268.97 L 1633.24 272.12 L 1633.69 265.16 L 1634.14 270.6 L 1634.59 271.64 L 1635.04 274.58 L 1635.49 267.44 L 1635.94 266.23 L 1636.39 258.04 L 1636.84 261.6 L 1637.29 254.7 L 1637.74 261.43 L 1638.19 260.04 L 1638.64 267.28 L 1639.09 263.93 L 1639.54 269.47 L 1639.99 261.95 L 1640.44 264.79 L 1640.89 258.95 L 1641.34 265.56 L 1641.79 262.57 L 1642.24 275.65 L 1642.69 272.23 L 1643.14 278.31 L 1643.59 277.82 L 1644.04 292.07 L 1644.49 286.06 L 1644.94 301.98 L 1645.39 294.28 L 1645.84 302.76 L 1646.29 293.66 L 1646.74 296.73 L 1647.19 283.72 L 1647.64 286.46 L 1648.09 286.42 L 1648.54 292.75 L 1648.99 286.79 L 1649.44 285.54 L 1649.89 281.22 L 1650.34 280.37 L 1650.79 273.12 L 1651.24 280.15 L 1651.69 279.46 L 1652.14 291.46 L 1652.59 290.32 L 1653.04 294.61 L 1653.49 288.34 L 1653.94 288.23 L 1654.39 286.77 L 1654.84 299.99 L 1655.29 294.98 L 1655.74 303.33 L 1656.19 305.96 L 1656.64 313.42 L 1657.09 295.08 L 1657.54 296.33 L 1657.99 285.52 L 1658.44 289.56 L 1658.89 288.47 L 1659.34 296.6 L 1659.79 291.74 L 1660.24 294.26 L 1660.69 286.52 L 1661.14 286.86 L 1661.59 289.57 L 1662.04 297.94 L 1662.49 294.61 L 1662.94 299.97 L 1663.39 299.61 L 1663.84 306.66 L 1664.29 300.79 L 1664.74 302.14 L 1665.19 292.28 L 1665.64 294.53 L 1666.09 288.98 L 1666.54 296.1 L 1666.99 294.17 L 1667.44 300.28 L 1667.89 294.27 L 1668.34 292.06 L 1668.79 282.85 L 1669.24 291.96 L 1669.69 287.08 L 1670.14 292.14 L 1670.59 287.22 L 1671.04 284.43 L 1671.49 275.16 L 1671.94 272.52 L 1672.39 263.08 L 1672.84 263.23 L 1673.29 253.57 L 1673.74 255.91 L 1674.19 252.46 L 1674.64 257.92 L 1675.09 252.46 L 1675.54 254.38 L 1675.99 248.23 L 1676.44 257.11 L 1676.89 245.25 L 1677.34 252.43 L 1677.79 251.57 L 1678.69 265.24 L 1679.14 277.95 L 1679.59 283.13 L 1680.04 281.58 L 1680.49 268.5 L 1681.39 249.52 L 1681.84 251.52 L 1682.29 239.17 L 1682.74 245.01 L 1683.19 248.02 L 1683.64 261.01 L 1684.09 267.92 L 1684.54 278.12 L 1684.99 259.54 L 1685.44 264.93 L 1685.89 257.93 L 1686.34 266.1 L 1686.79 268.63 L 1687.24 275.6 L 1687.69 270.51 L 1688.14 271.27 L 1688.59 262.81 L 1689.04 259.85 L 1689.49 264.81 L 1689.94 277.23 L 1690.39 275.04 L 1690.84 268.75 L 1691.29 253.19 L 1691.74 250.67 L 1692.19 253.21 L 1692.64 261.69 L 1693.09 264.71 L 1693.54 271.56 L 1693.99 267.83 L 1694.44 270.04 L 1694.89 250.98 L 1695.34 267.96 L 1695.79 263.93 L 1696.24 272 L 1696.69 272.01 L 1697.14 277.1 L 1697.59 265.15 L 1698.04 273.53 L 1698.49 261.9 L 1698.94 264.58 L 1699.39 260.64 L 1699.84 262.47 L 1700.29 259.21 L 1700.74 266.19 L 1701.19 255.32 L 1701.64 261.89 L 1702.09 256.38 L 1702.54 274.56 L 1702.99 283.83 L 1703.44 301.54 L 1703.89 297.26 L 1704.34 290.71 L 1704.79 271.25 L 1705.24 270.88 L 1705.69 274.17 L 1706.14 292.68 L 1706.59 300.5 L 1707.04 300.03 L 1707.49 278.3 L 1708.39 248.98 L 1708.84 266.06 L 1709.29 272.42 L 1709.74 284.31 L 1711.09 304.82 L 1711.54 307.46 L 1712.89 269.85 L 1713.34 270.62 L 1713.79 267.27 L 1714.24 272.18 L 1714.69 260.81 L 1715.14 257.65 L 1715.59 248.68 L 1716.04 247.11 L 1716.49 250.84 L 1716.94 256.26 L 1717.39 260.09 L 1717.84 265.97 L 1718.29 263.74 L 1718.74 279.15 L 1719.19 271.53 L 1719.64 271.89 L 1720.09 263.51 L 1720.54 261.21 L 1720.99 284.14 L 1721.44 322.74 L 1721.89 313.04 L 1722.34 314.12 L 1722.79 300.91 L 1723.24 316.1 L 1723.69 320.48 L 1724.14 305.29 L 1725.04 264.57 L 1725.49 247.77 L 1725.94 253.38 L 1725.94 253.38 " clip-path="url(#p1224437e14)" style="fill: none; stroke: #000000; stroke-width: 1.3; stroke-linecap: square"/>
</g>
<g id="line2d_254">
<path d="M 1726.14 455 L 1726.14 110 " clip-path="url(#p1224437e14)" style="fill: none; stroke-dasharray: 2,3.3; stroke-dashoffset: 0; stroke: #1f77b4; stroke-width: 2"/>
</g>
</g>
<g id="axes_6">
<g id="matplotlib.axis_11">
<g id="ytick_132">
<g id="line2d_255">
<defs>
<path id="ma9f683e1c8" d="M 0 0 L -6 0 " style="stroke: #ff0000; stroke-width: 1.3"/>
</defs>
<g>
<use href="#ma9f683e1c8" x="1800" y="455" style="fill: #ff0000; stroke: #ff0000; stroke-width: 1.3"/>
</g>
</g>
<g id="text_61">
<text style="font-size: 21.20px; font-family: 'Liberation Sans', sans-serif; text-anchor: start; fill: #ff0000" x="1805" y="462.598437" transform="rotate(-0 1805 462.598437)" textLength="12.72" lengthAdjust="spacingAndGlyphs">0</text>
</g>
</g>
<g id="ytick_133">
<g id="line2d_256">
<g>
<use href="#ma9f683e1c8" x="1800" y="386" style="fill: #ff0000; stroke: #ff0000; stroke-width: 1.3"/>
</g>
</g>
<g id="text_62">
<text style="font-size: 21.20px; font-family: 'Liberation Sans', sans-serif; text-anchor: start; fill: #ff0000" x="1805" y="393.598437" transform="rotate(-0 1805 393.598437)" textLength="38.17" lengthAdjust="spacingAndGlyphs">200</text>
</g>
</g>
<g id="ytick_134">
<g id="line2d_257">
<g>
<use href="#ma9f683e1c8" x="1800" y="317" style="fill: #ff0000; stroke: #ff0000; stroke-width: 1.3"/>
</g>
</g>
<g id="text_63">
<text style="font-size: 21.20px; font-family: 'Liberation Sans', sans-serif; text-anchor: start; fill: #ff0000" x="1805" y="324.598437" transform="rotate(-0 1805 324.598437)" textLength="38.17" lengthAdjust="spacingAndGlyphs">400</text>
</g>
</g>
<g id="ytick_135">
<g id="line2d_258">
<g>
<use href="#ma9f683e1c8" x="1800" y="248" style="fill: #ff0000; stroke: #ff0000; stroke-width: 1.3"/>
</g>
</g>
<g id="text_64">
<text style="font-size: 21.20px; font-family: 'Liberation Sans', sans-serif; text-anchor: start; fill: #ff0000" x="1805" y="255.598437" transform="rotate(-0 1805 255.598437)" textLength="38.17" lengthAdjust="spacingAndGlyphs">600</text>
</g>
</g>
<g id="ytick_136">
<g id="line2d_259">
<g>
<use href="#ma9f683e1c8" x="1800" y="179" style="fill: #ff0000; stroke: #ff0000; stroke-width: 1.3"/>
</g>
</g>
<g id="text_65">
<text style="font-size: 21.20px; font-family: 'Liberation Sans', sans-serif; text-anchor: start; fill: #ff0000" x="1805" y="186.598437" transform="rotate(-0 1805 186.598437)" textLength="38.17" lengthAdjust="spacingAndGlyphs">800</text>
</g>
</g>
<g id="ytick_137">
<g id="line2d_260">
<g>
<use href="#ma9f683e1c8" x="1800" y="110" style="fill: #ff0000; stroke: #ff0000; stroke-width: 1.3"/>
</g>
</g>
<g id="text_66">
<text style="font-size: 21.20px; font-family: 'Liberation Sans', sans-serif; text-anchor: start; fill: #ff0000" x="1805" y="117.598437" transform="rotate(-0 1805 117.598437)" textLength="50.90" lengthAdjust="spacingAndGlyphs">1000</text>
</g>
</g>
</g>
<g id="patch_96">
<path d="M 1205 455 L 1205 110 " style="fill: none; stroke: #000000; stroke-width: 2; stroke-linejoin: miter; stroke-linecap: square"/>
</g>
<g id="patch_97">
<path d="M 1800 455 L 1800 110 " style="fill: none; stroke: #ff0000; stroke-width: 2; stroke-linejoin: miter; stroke-linecap: square"/>
</g>
<g id="patch_98">
<path d="M 1205 455 L 1800 455 " style="fill: none; stroke: #000000; stroke-width: 2; stroke-linejoin: miter; stroke-linecap: square"/>
</g>
<g id="patch_99">
<path d="M 1205 110 L 1800 110 " style="fill: none; stroke: #000000; stroke-width: 2; stroke-linejoin: miter; stroke-linecap: square"/>
</g>
<g id="line2d_261">
<path d="M 1205.41 342.19 L 1206.18 339.71 L 1206.96 341.89 L 1207.73 337.68 L 1208.5 337.56 L 1209.27 336.84 L 1210.05 337.63 L 1210.82 335.21 L 1211.59 336.79 L 1212.36 337.28 L 1213.14 338.92 L 1213.91 339.88 L 1214.68 340.38 L 1215.46 343.43 L 1216.23 344.36 L 1217 346.83 L 1217.77 346.13 L 1218.55 347.55 L 1219.32 346.83 L 1220.87 337.56 L 1221.64 336.71 L 1222.41 337.4 L 1223.18 336.01 L 1223.96 332.37 L 1224.73 331.38 L 1226.28 339.1 L 1227.05 335.7 L 1227.82 336.05 L 1228.59 334.47 L 1229.37 329.4 L 1230.91 324.06 L 1231.68 323.65 L 1232.46 323.49 L 1233.23 326.7 L 1234 325.74 L 1234.78 328.28 L 1235.55 328.02 L 1236.32 328.66 L 1237.09 326.74 L 1237.87 328.28 L 1238.64 329.37 L 1239.41 332.63 L 1240.19 332.92 L 1240.96 331.64 L 1241.73 333.9 L 1242.5 334.04 L 1243.28 334.47 L 1244.05 335.71 L 1244.82 339.28 L 1245.6 339.72 L 1246.37 342.19 L 1247.14 341.22 L 1247.91 341.44 L 1248.69 340.4 L 1249.46 339.88 L 1250.23 339.96 L 1251 341.29 L 1251.78 340.9 L 1252.55 342.3 L 1253.32 341.79 L 1254.1 342.97 L 1254.87 342.74 L 1255.64 344.18 L 1256.41 343.93 L 1257.19 344.56 L 1257.96 342.41 L 1258.73 345.29 L 1259.51 342.68 L 1260.28 345.82 L 1261.05 345.25 L 1261.82 347.07 L 1262.6 345.05 L 1263.37 346.09 L 1264.14 345.95 L 1264.91 346.06 L 1265.69 344.89 L 1266.46 347.46 L 1267.23 346.23 L 1268.01 347.59 L 1268.78 347.15 L 1269.55 347.6 L 1270.32 348.62 L 1271.1 351.07 L 1271.87 351.47 L 1272.64 347.89 L 1273.42 345.67 L 1274.96 338.25 L 1275.73 336.39 L 1276.51 332.92 L 1277.28 330.64 L 1278.05 332.05 L 1278.83 329.88 L 1279.6 331.27 L 1280.37 329.83 L 1281.14 330.26 L 1281.92 332.15 L 1319.78 332.92 L 1320.56 331.86 L 1321.33 333.42 L 1322.1 332.15 L 1322.87 333.58 L 1323.65 337.34 L 1324.42 337.56 L 1325.19 333.77 L 1325.97 331.38 L 1326.74 330.56 L 1327.51 330.52 L 1328.28 329.06 L 1329.06 330.54 L 1329.83 333.74 L 1330.6 334.47 L 1331.38 333.89 L 1332.15 336.9 L 1332.92 337.56 L 1333.69 335.24 L 1334.47 336.01 L 1335.24 332.16 L 1336.01 332.86 L 1336.79 329.83 L 1337.56 334.72 L 1338.33 340.65 L 1339.1 340.12 L 1339.88 341.01 L 1340.65 340.65 L 1341.42 338.88 L 1342.19 338.28 L 1342.97 336.01 L 1343.74 337.41 L 1344.51 340.65 L 1345.29 338.94 L 1346.06 339.1 L 1346.83 337.35 L 1347.6 336.48 L 1348.38 334.47 L 1349.15 333.24 L 1349.92 333.52 L 1351.47 329.42 L 1352.24 330.69 L 1353.01 329.83 L 1353.79 331.67 L 1354.56 334.47 L 1355.33 332.83 L 1356.11 334.42 L 1356.88 332.61 L 1357.65 332.92 L 1358.42 331.22 L 1359.2 332.52 L 1359.97 331.25 L 1360.74 331.38 L 1361.51 330.78 L 1362.29 332.29 L 1363.06 328.94 L 1363.83 329.83 L 1364.61 327.98 L 1365.38 326.74 L 1366.15 327.85 L 1366.92 331.01 L 1367.7 331.38 L 1368.47 330.83 L 1369.24 331.68 L 1370.79 328.26 L 1371.56 330.14 L 1372.33 329.13 L 1373.11 329.83 L 1373.88 328.75 L 1374.65 329.87 L 1375.43 328.34 L 1376.2 328.28 L 1376.97 330.15 L 1377.74 334.47 L 1378.52 329.3 L 1379.29 325.19 L 1380.06 326.51 L 1380.83 330.29 L 1381.61 329.83 L 1382.38 326.94 L 1383.15 327.02 L 1383.93 323.65 L 1384.7 321.69 L 1385.47 322.75 L 1386.24 320.49 L 1387.02 320.56 L 1387.79 319.46 L 1388.56 320.23 L 1389.34 319.2 L 1390.11 319.78 L 1390.88 318.15 L 1391.65 318.84 L 1392.43 316.9 L 1393.2 317.47 L 1393.97 317.12 L 1394.74 317.95 L 1395.52 316.82 L 1396.29 317.47 L 1396.18 317.47 L 1396.96 315.86 L 1397.73 316.19 L 1398.5 311.82 L 1400.05 310.87 L 1400.82 312.74 L 1401.59 311.44 L 1402.36 312.06 L 1403.14 310.87 L 1403.91 313.44 L 1404.68 313.7 L 1405.46 314.37 L 1406.23 314.79 L 1407 317.66 L 1407.77 316.04 L 1408.55 317.47 L 1409.32 315.4 L 1410.09 314.63 L 1410.87 311.27 L 1411.64 311.28 L 1412.41 310.98 L 1413.18 313.93 L 1413.96 312.2 L 1414.73 313.6 L 1415.5 313.48 L 1416.28 315.01 L 1417.05 314.22 L 1417.82 315.15 L 1418.59 314.62 L 1419.37 315.66 L 1420.14 314.18 L 1420.91 314.37 L 1421.68 313.79 L 1422.46 314.85 L 1423.23 314.31 L 1424 315.22 L 1424.78 314.37 L 1425.55 315.15 L 1426.32 314.69 L 1427.09 315.51 L 1427.87 313.82 L 1428.64 316.62 L 1429.41 313.55 L 1430.19 315.15 L 1430.96 314.34 L 1431.73 315.7 L 1432.5 312.56 L 1433.28 314.37 L 1434.05 314.65 L 1434.82 317.27 L 1435.6 317.47 L 1436.37 315.55 L 1437.14 316.16 L 1437.91 314.37 L 1438.69 312.93 L 1439.46 313.88 L 1440.23 311.16 L 1441 311.39 L 1441.78 310.22 L 1442.55 309.74 L 1443.32 306.41 L 1444.1 309.03 L 1444.87 308.35 L 1445.64 308.19 L 1446.41 307.63 L 1447.19 307.69 L 1447.96 306.58 L 1448.73 306.65 L 1449.51 306.02 L 1450.28 307.84 L 1451.05 307.55 L 1451.82 308.19 L 1452.6 307.63 L 1453.37 309.17 L 1454.14 307.86 L 1454.91 309.74 L 1455.69 308.66 L 1456.46 312.16 L 1457.23 309.24 L 1458.01 311.28 L 1458.78 310.08 L 1459.55 313.08 L 1460.32 313.54 L 1461.1 314.37 L 1461.87 314.36 L 1462.64 316.86 L 1463.42 314.67 L 1464.19 317.47 L 1464.96 317.29 L 1465.73 317.72 L 1466.51 315.49 L 1467.28 317.47 L 1468.05 316.23 L 1468.83 317.82 L 1469.6 316.86 L 1470.37 316.69 L 1471.14 316.64 L 1471.92 318.2 L 1472.69 315.91 L 1473.46 317.47 L 1474.23 316.4 L 1475.01 318.81 L 1475.78 317.47 L 1476.55 319.39 L 1477.33 323.65 L 1478.1 323.71 L 1478.87 326.03 L 1479.64 325.21 L 1480.42 326.14 L 1481.19 326.74 L 1481.96 325.53 L 1482.74 330.14 L 1483.51 328.33 L 1484.28 329.83 L 1485.05 330.26 L 1485.83 331.67 L 1486.6 331.74 L 1487.37 332.92 L 1488.15 331.45 L 1488.92 333.81 L 1489.69 332.66 L 1490.46 335.59 L 1491.24 334.16 L 1492.01 334.47 L 1492.78 334.65 L 1493.55 336.34 L 1494.33 334.4 L 1495.1 337.72 L 1495.87 335.79 L 1496.65 336.79 L 1497.42 336.3 L 1498.19 336.49 L 1498.96 335.63 L 1499.74 336.01 L 1500.51 333.51 L 1501.28 336.38 L 1502.06 335.4 L 1502.83 336.01 L 1503.6 331.99 L 1504.37 331.7 L 1505.15 328.28 L 1505.92 329.64 L 1506.69 337.56 L 1507.47 338.59 L 1508.24 342.7 L 1509.01 344.51 L 1511.33 332.92 L 1512.1 334.34 L 1512.87 337.12 L 1513.65 339.1 L 1514.42 336.22 L 1515.19 334.2 L 1515.97 331.38 L 1516.74 331.73 L 1517.51 332.27 L 1518.28 330.99 L 1519.06 332.92 L 1519.83 332.09 L 1520.6 334.42 L 1521.38 334.15 L 1522.15 336.53 L 1522.92 336.01 L 1523.69 334.03 L 1524.47 337.39 L 1525.24 336.18 L 1526.01 337.56 L 1526.79 336.41 L 1527.56 337.25 L 1528.33 335.31 L 1529.88 336.77 L 1530.65 337.64 L 1531.42 337.54 L 1532.19 339.1 L 1532.97 338.88 L 1533.74 341.53 L 1534.51 340.51 L 1535.29 342.19 L 1536.06 342.09 L 1536.83 342.31 L 1537.6 341.97 L 1538.38 342.19 L 1539.15 341.04 L 1539.92 342.64 L 1540.7 340.79 L 1541.47 340.65 L 1542.24 339.87 L 1543.01 341.72 L 1543.79 339.79 L 1544.56 342.19 L 1545.33 340.87 L 1546.11 341.24 L 1546.88 339.96 L 1547.65 339.88 L 1548.42 339.38 L 1549.2 341.26 L 1549.97 339.71 L 1550.74 340.45 L 1551.51 339.71 L 1552.29 340.65 L 1553.06 339.39 L 1553.83 341.39 L 1554.61 337.95 L 1555.38 339.93 L 1556.15 338.54 L 1556.92 338.33 L 1557.7 338.48 L 1558.47 341.55 L 1559.24 338.3 L 1560.02 339.88 L 1560.79 339.75 L 1561.56 340.44 L 1562.33 338.29 L 1563.11 340.65 L 1563.88 340.07 L 1564.65 341.78 L 1565.43 341.05 L 1566.2 341.42 L 1566.97 341.52 L 1567.74 342.77 L 1568.52 339.97 L 1569.29 342.19 L 1570.06 341.21 L 1570.83 343.47 L 1571.61 341.96 L 1572.38 342.19 L 1573.15 342.13 L 1573.93 343.74 L 1574.7 341.91 L 1575.47 343.74 L 1576.24 341.89 L 1577.02 344.84 L 1577.79 343.04 L 1578.56 344.51 L 1579.34 343.27 L 1580.11 347.4 L 1580.88 344.97 L 1581.65 346.06 L 1582.43 343.9 L 1583.2 346.08 L 1583.97 341.42 L 1583.09 342.19 L 1583.86 341.5 L 1584.64 343.02 L 1585.41 339.84 L 1586.18 339.88 L 1586.96 338.84 L 1587.73 342.47 L 1588.5 342.02 L 1589.27 343.74 L 1590.05 343.1 L 1590.82 345.58 L 1591.59 345.15 L 1592.36 346.06 L 1593.14 343.88 L 1593.91 345.35 L 1594.68 343.2 L 1595.46 343.74 L 1596.23 343.81 L 1597 345.76 L 1597.77 343.59 L 1598.55 344.32 L 1599.32 344.32 L 1600.09 344.51 L 1600.87 343.91 L 1601.64 345.69 L 1602.41 343.58 L 1603.18 345.21 L 1603.96 343.44 L 1604.73 345.29 L 1605.5 342.99 L 1606.28 342.96 L 1607.05 339.97 L 1607.82 339.1 L 1608.59 352.24 L 1609.37 339.1 L 1610.14 336.85 L 1610.91 339.51 L 1611.68 336.92 L 1612.46 338.33 L 1613.23 338.65 L 1614 339.96 L 1614.78 338.91 L 1615.55 339.99 L 1616.32 340.16 L 1617.87 341.26 L 1618.64 343.35 L 1619.41 342.91 L 1620.19 344.51 L 1620.96 343.94 L 1621.73 347.01 L 1622.5 346.87 L 1623.28 348.38 L 1624.05 347.38 L 1624.82 350.23 L 1625.6 348.37 L 1626.37 349.15 L 1627.14 348.19 L 1627.91 348.16 L 1628.69 347.14 L 1629.46 346.83 L 1630.23 346.07 L 1631 347.4 L 1631.78 346.03 L 1632.55 349.09 L 1633.32 345.45 L 1634.1 347.6 L 1634.87 346.86 L 1635.64 349.34 L 1636.41 347.16 L 1637.19 348.28 L 1637.96 346.8 L 1638.73 347.6 L 1639.51 346.85 L 1640.28 346.99 L 1641.05 345.78 L 1641.82 345.29 L 1642.6 340.83 L 1643.37 337.56 L 1644.14 338.59 L 1644.91 342.19 L 1645.69 340.75 L 1646.46 342.7 L 1647.23 339.82 L 1648.01 341.42 L 1648.78 341.04 L 1649.55 342.13 L 1650.32 341.37 L 1651.1 343.17 L 1651.87 340.69 L 1652.64 342.19 L 1653.42 341.4 L 1654.19 343.5 L 1654.96 342.42 L 1655.73 343.11 L 1656.51 342.81 L 1657.28 342.97 L 1658.05 342.24 L 1658.83 343.5 L 1659.6 341.78 L 1660.37 344.08 L 1661.14 342.84 L 1661.92 342.97 L 1662.69 342.17 L 1663.46 344.63 L 1664.23 344.23 L 1665.01 345.28 L 1665.78 343.81 L 1666.55 346.06 L 1667.33 345.33 L 1668.1 347.23 L 1668.87 345.38 L 1669.64 347.83 L 1670.42 346.34 L 1671.19 347.53 L 1671.96 346.63 L 1672.74 346.83 L 1673.51 346.53 L 1674.28 348.44 L 1675.05 347.14 L 1675.83 349.81 L 1676.6 348.99 L 1677.37 350.7 L 1678.15 350.32 L 1678.92 350.87 L 1679.69 350.06 L 1680.46 351.28 L 1681.24 348 L 1682.01 349.92 L 1682.78 349.35 L 1683.55 349.74 L 1684.33 348.98 L 1685.1 349 L 1685.87 348.3 L 1686.65 348.38 L 1687.42 347.87 L 1688.19 347.7 L 1688.96 346.14 L 1689.74 346.83 L 1690.51 348.51 L 1691.28 351.47 L 1692.06 350.43 L 1692.83 350.81 L 1693.6 348.56 L 1694.37 348.38 L 1695.15 355.33 L 1695.92 354.17 L 1696.69 355.62 L 1697.47 353.01 L 1698.24 350.9 L 1699.01 349.92 L 1699.78 349.63 L 1700.56 350.33 L 1701.33 349.22 L 1702.1 350.34 L 1702.87 348.68 L 1703.65 349.15 L 1704.42 348.44 L 1705.19 351.43 L 1705.97 349.26 L 1706.74 350.56 L 1707.51 349.38 L 1708.28 349.92 L 1709.06 349.59 L 1709.83 350.49 L 1710.6 348.37 L 1711.38 349.8 L 1712.15 348.45 L 1712.92 348.38 L 1713.69 347.23 L 1714.47 349.14 L 1715.24 348.64 L 1716.01 349.27 L 1716.79 348.5 L 1717.56 349.15 L 1718.33 347.98 L 1719.1 351.89 L 1719.88 348.2 L 1720.65 350.57 L 1721.42 348.64 L 1722.19 349.15 L 1722.97 348.02 L 1723.74 349.94 L 1724.51 348.64 L 1725.29 349.32 L 1726.06 349.15 L 1726.06 349.15 " clip-path="url(#p1224437e14)" style="fill: none; stroke: #ff0000; stroke-width: 2.4; stroke-linecap: square"/>
</g>
<g id="line2d_262">
<path d="M 1205.41 342.21 L 1205.86 339.85 L 1206.31 342.03 L 1206.76 339.01 L 1207.21 342.08 L 1207.66 336.89 L 1208.11 339.15 L 1208.56 335.43 L 1209.01 337.6 L 1209.46 335.72 L 1209.91 337.24 L 1210.36 336.3 L 1210.81 340.04 L 1211.26 336.63 L 1211.71 338.39 L 1212.16 334.7 L 1212.61 339.56 L 1213.06 337.22 L 1213.51 339.43 L 1213.96 339.01 L 1214.41 342.05 L 1214.86 341.46 L 1215.31 343.82 L 1215.76 343.85 L 1216.21 346.02 L 1216.66 345.11 L 1217.11 347.28 L 1217.56 345.67 L 1218.01 348.06 L 1218.46 344.28 L 1218.91 348.15 L 1219.36 345.59 L 1219.81 344.77 L 1220.26 339.03 L 1220.71 338.72 L 1221.16 336.97 L 1221.61 337.37 L 1222.06 335.91 L 1222.51 336.61 L 1222.96 333.25 L 1223.41 335.99 L 1223.86 333.07 L 1224.31 334.16 L 1224.76 331.32 L 1225.21 334.73 L 1225.66 335.05 L 1226.11 338.9 L 1226.56 335.45 L 1227.01 338.19 L 1227.46 335.85 L 1227.91 336.44 L 1228.36 334.23 L 1228.81 334.95 L 1229.26 330.27 L 1229.71 330.86 L 1230.16 324.1 L 1230.61 327.52 L 1231.06 323.03 L 1231.51 325.75 L 1231.96 320.45 L 1232.41 325.03 L 1232.86 325.41 L 1233.31 327.05 L 1233.76 325.31 L 1234.21 329.92 L 1234.66 326.7 L 1235.11 328.88 L 1235.56 327.53 L 1236.01 330.74 L 1236.46 325.27 L 1236.91 328.79 L 1237.36 327.98 L 1237.81 328.36 L 1238.26 328 L 1238.71 331.94 L 1239.16 330.5 L 1239.61 332.75 L 1240.06 330.92 L 1240.51 334.97 L 1240.96 332.93 L 1241.41 334.6 L 1241.86 332.6 L 1242.31 334.93 L 1242.76 332.95 L 1243.21 335.73 L 1243.66 332.62 L 1244.11 337.72 L 1244.56 336.95 L 1245.01 339.75 L 1245.46 337.5 L 1245.91 342.93 L 1246.36 341.47 L 1246.81 342.24 L 1247.26 341.09 L 1247.71 342.39 L 1248.16 338.56 L 1248.61 342.1 L 1249.06 340.05 L 1249.51 341.14 L 1249.96 339.77 L 1250.41 344.01 L 1250.86 339.77 L 1251.31 341.4 L 1251.76 340.28 L 1252.21 342.23 L 1252.66 341.78 L 1253.11 342.39 L 1253.56 340.98 L 1254.01 342.95 L 1254.46 342.73 L 1254.91 344.24 L 1255.36 340.28 L 1255.81 344.37 L 1256.26 343.23 L 1256.71 346.8 L 1257.16 342.35 L 1257.61 345.78 L 1258.06 342.82 L 1258.51 345.27 L 1258.96 343.65 L 1259.41 346.79 L 1259.86 344.22 L 1260.31 346.87 L 1260.76 343.18 L 1261.21 346.31 L 1261.66 345.38 L 1262.11 349.89 L 1262.56 344.78 L 1263.01 346.67 L 1263.46 345.7 L 1263.91 348.6 L 1264.36 344.57 L 1264.81 348.68 L 1265.26 345.96 L 1265.71 347.3 L 1266.16 344.44 L 1266.61 347.55 L 1267.06 345.72 L 1267.51 347.33 L 1267.96 346.45 L 1268.41 347.71 L 1268.86 346.76 L 1269.31 348.61 L 1269.76 346.95 L 1270.21 352.09 L 1270.66 347.39 L 1271.11 350.69 L 1271.56 350.78 L 1272.01 352.77 L 1272.46 348.58 L 1272.91 349 L 1273.36 344.79 L 1273.81 344.07 L 1274.26 340.59 L 1274.71 340.76 L 1275.16 336.48 L 1275.61 336.83 L 1276.06 332.64 L 1276.51 334.74 L 1276.96 332.46 L 1277.41 332.82 L 1277.86 330.4 L 1278.31 333.1 L 1278.76 330.96 L 1279.21 331.26 L 1279.66 329.9 L 1280.11 332.35 L 1280.56 329.65 L 1281.01 331.34 L 1281.46 329.95 L 1281.91 333.21 L 1281.91 333.21 " clip-path="url(#p1224437e14)" style="fill: none; stroke: #ff0000; stroke-width: 1.3; stroke-linecap: square"/>
</g>
<g id="line2d_263">
<path d="M 1319.78 334.25 L 1320.23 331.02 L 1320.68 333.94 L 1321.13 331.17 L 1321.58 332.41 L 1322.03 331.03 L 1322.48 336.85 L 1322.93 331.4 L 1323.38 338.48 L 1323.83 334.4 L 1324.28 340.83 L 1324.73 335.37 L 1325.18 336.94 L 1325.63 332.63 L 1326.08 331.91 L 1326.53 330.38 L 1326.98 330.49 L 1327.43 327.88 L 1327.88 330.73 L 1328.33 329.03 L 1328.78 331.65 L 1329.23 329.55 L 1329.68 332.67 L 1330.13 332.94 L 1330.58 334.83 L 1331.03 333.97 L 1331.48 337.48 L 1331.93 335.97 L 1332.38 337.83 L 1332.83 334.76 L 1333.28 339.22 L 1333.73 334.3 L 1334.18 338.12 L 1334.63 334.88 L 1335.08 334.95 L 1335.53 332.35 L 1335.98 332.93 L 1336.43 329.53 L 1336.88 330.99 L 1337.33 333.51 L 1338.23 339.92 L 1338.68 341.15 L 1339.13 339.64 L 1339.58 342.76 L 1340.03 339.78 L 1340.48 341.83 L 1340.93 339.45 L 1341.38 339.28 L 1341.83 337.54 L 1342.28 340.33 L 1342.73 336.14 L 1343.18 336.68 L 1343.63 336.59 L 1344.08 339.82 L 1344.53 339.72 L 1344.98 342.74 L 1345.43 339.24 L 1345.88 340.19 L 1346.33 335.47 L 1346.78 339.78 L 1347.23 335.38 L 1347.68 337.48 L 1348.13 334.04 L 1348.58 334.61 L 1349.03 333.38 L 1349.48 333.54 L 1349.93 331.13 L 1350.38 335.52 L 1350.83 330.47 L 1351.28 331.23 L 1351.73 329.75 L 1352.18 333.29 L 1352.63 329.69 L 1353.08 331.25 L 1353.53 330.11 L 1353.98 334.97 L 1354.43 333.98 L 1354.88 337.4 L 1355.33 333.77 L 1355.78 335.33 L 1356.23 332.54 L 1356.68 336.11 L 1357.13 332.67 L 1357.58 336.21 L 1358.03 330.31 L 1358.48 333.62 L 1358.93 330.9 L 1359.38 332.39 L 1359.83 329.69 L 1360.28 333.45 L 1360.73 331 L 1361.18 333.55 L 1361.63 330.26 L 1362.08 333.59 L 1362.53 329.22 L 1362.98 331.97 L 1363.43 327.13 L 1363.88 331.05 L 1364.33 327.59 L 1364.78 328.27 L 1365.23 325.58 L 1365.68 329.32 L 1366.13 326.72 L 1366.58 333.52 L 1367.03 329.25 L 1367.48 332.37 L 1367.93 330.69 L 1368.38 331.1 L 1368.83 328.38 L 1369.28 332 L 1369.73 328.59 L 1370.18 330.07 L 1370.63 329.42 L 1371.08 330.69 L 1371.53 327.58 L 1371.98 333.25 L 1372.43 329.26 L 1372.88 331.61 L 1373.33 329.37 L 1373.78 329.5 L 1374.23 329.18 L 1374.68 331.09 L 1375.13 328.79 L 1375.58 329.35 L 1376.03 326.89 L 1376.48 330.37 L 1376.93 329.45 L 1377.38 333.64 L 1377.83 333.79 L 1378.28 334.23 L 1378.73 327.81 L 1379.18 328.45 L 1379.63 325.55 L 1380.08 328.19 L 1380.53 327.48 L 1380.98 329.52 L 1381.43 326.07 L 1381.88 329.8 L 1382.33 325.37 L 1382.78 327.68 L 1383.23 325.16 L 1383.68 327.75 L 1384.13 323.16 L 1384.58 325.36 L 1385.03 319.12 L 1385.48 324.21 L 1385.93 320.35 L 1386.38 322.35 L 1386.83 320.53 L 1387.28 320.56 L 1387.73 319.57 L 1388.18 320.64 L 1388.63 319.91 L 1389.08 321.35 L 1389.53 316.12 L 1389.98 321.37 L 1390.43 318.65 L 1390.88 320.69 L 1391.33 316.87 L 1391.78 319.76 L 1392.23 316.81 L 1392.68 319.2 L 1393.13 316.46 L 1393.58 318.25 L 1394.03 317.23 L 1394.48 320.99 L 1394.93 316.78 L 1395.38 317.79 L 1395.83 316.77 L 1396.28 320 L 1396.73 315.94 L 1397.18 318.06 L 1397.63 312.54 L 1398.08 313.93 L 1398.53 311.54 L 1398.98 311.9 L 1399.43 311.29 L 1399.88 312.51 L 1400.33 311.02 L 1400.78 312.67 L 1401.23 310.27 L 1401.68 315.78 L 1402.13 310.43 L 1402.58 312.44 L 1403.03 310.71 L 1403.48 312.92 L 1403.93 312.52 L 1404.38 316.2 L 1404.83 309.16 L 1405.28 316.8 L 1405.73 314.34 L 1406.18 318.01 L 1406.63 311.29 L 1407.08 316.51 L 1407.53 314.81 L 1407.98 318.51 L 1408.43 317 L 1408.88 317 L 1409.33 314.3 L 1409.78 315.31 L 1410.23 312.9 L 1410.68 314.53 L 1411.13 311.77 L 1411.58 312.66 L 1412.03 310.31 L 1412.48 314.1 L 1412.93 311.82 L 1413.38 312.78 L 1413.83 312.33 L 1414.28 315.81 L 1414.73 312.7 L 1415.18 314.37 L 1415.63 313.74 L 1416.08 316.72 L 1416.53 313.53 L 1416.98 315.42 L 1417.43 314.04 L 1417.88 315.64 L 1418.33 314.05 L 1418.78 317.9 L 1419.23 314.24 L 1419.68 316.27 L 1420.13 312.77 L 1420.58 316.19 L 1421.03 314.09 L 1421.48 317.43 L 1421.93 314.37 L 1422.38 315.18 L 1422.83 314.45 L 1423.28 316.38 L 1423.73 313.29 L 1424.18 318.64 L 1424.63 314.19 L 1425.08 315.79 L 1425.53 313.2 L 1425.98 315.8 L 1426.43 314.02 L 1426.88 315.67 L 1427.33 313.05 L 1427.78 317.09 L 1428.23 313.46 L 1428.68 315.58 L 1429.13 313.13 L 1429.58 315.7 L 1430.03 312.49 L 1430.48 316.38 L 1430.93 314.38 L 1431.38 314.95 L 1431.83 314.28 L 1432.28 315.3 L 1432.73 313.49 L 1433.18 314.69 L 1433.63 313.91 L 1434.08 316.77 L 1434.53 314.08 L 1434.98 318.19 L 1435.43 316.07 L 1435.88 318.15 L 1436.33 315.59 L 1436.78 317.48 L 1437.23 313.6 L 1437.68 316.06 L 1438.13 313.15 L 1438.58 316.04 L 1439.03 312.11 L 1439.48 314.29 L 1439.93 310.85 L 1440.38 315.58 L 1440.83 310.85 L 1441.28 313.03 L 1441.73 309.25 L 1442.18 310.39 L 1442.63 309.64 L 1443.08 311.07 L 1443.53 305.68 L 1443.98 310.2 L 1444.43 307.11 L 1444.88 311.18 L 1445.33 306.59 L 1445.78 309.65 L 1446.23 306.62 L 1446.68 308.78 L 1447.13 306.64 L 1447.58 308.09 L 1448.03 304.96 L 1448.48 307.23 L 1448.93 306.03 L 1449.38 308.56 L 1449.83 307.13 L 1450.28 307.65 L 1450.73 307.17 L 1451.18 309.37 L 1451.63 306.79 L 1452.08 309.33 L 1452.53 306.51 L 1452.98 308.92 L 1453.43 307.76 L 1453.88 309.59 L 1454.33 308.77 L 1454.78 311.46 L 1455.23 309.69 L 1455.68 310.56 L 1456.13 309.39 L 1456.58 311.24 L 1457.03 310.75 L 1457.48 314.07 L 1457.93 310.37 L 1458.38 312.11 L 1458.83 311.14 L 1459.28 312.6 L 1459.73 312.12 L 1460.18 316.1 L 1460.63 312.97 L 1461.08 314.83 L 1461.53 313.79 L 1461.98 316.95 L 1462.43 315.3 L 1462.88 318.29 L 1463.33 315.23 L 1463.78 317.11 L 1464.23 317.2 L 1464.68 320.41 L 1465.13 316.21 L 1465.58 317.77 L 1466.03 315.22 L 1466.48 317.7 L 1466.93 316.74 L 1467.38 317.83 L 1467.83 316.36 L 1468.28 319.42 L 1468.73 316.59 L 1469.18 317.64 L 1469.63 316.28 L 1470.08 317.26 L 1470.53 315.9 L 1470.98 317.19 L 1471.43 314.08 L 1471.88 317.24 L 1472.33 316.51 L 1472.78 317.94 L 1473.23 316.9 L 1473.68 317.86 L 1474.13 315.29 L 1474.58 317.71 L 1475.03 315.79 L 1475.48 317.76 L 1475.93 317.63 L 1476.38 322.82 L 1476.83 320.21 L 1477.28 326.92 L 1477.73 323.75 L 1478.18 326.78 L 1478.63 323.18 L 1479.08 326 L 1479.53 324.04 L 1479.98 327.05 L 1480.43 325.81 L 1480.88 328.6 L 1481.33 326.47 L 1481.78 329.05 L 1482.23 325.36 L 1482.68 329.83 L 1483.13 328.58 L 1483.58 329.53 L 1484.03 329.48 L 1484.48 331.23 L 1484.93 328.03 L 1485.38 334.06 L 1485.83 330.03 L 1486.28 333.09 L 1486.73 328.54 L 1487.18 333.03 L 1487.63 330.79 L 1488.08 335.55 L 1488.53 328.73 L 1488.98 336.02 L 1489.43 332.79 L 1489.88 333.97 L 1490.33 331.45 L 1490.78 334.17 L 1491.23 333.72 L 1491.68 335.72 L 1492.13 334.2 L 1492.58 338.08 L 1493.03 334.92 L 1493.48 336.01 L 1493.93 331.75 L 1494.38 337.97 L 1494.83 335.12 L 1495.28 338.52 L 1495.73 335.79 L 1496.18 337.76 L 1496.63 334.75 L 1497.08 337.62 L 1497.53 336.48 L 1497.98 337.89 L 1498.43 336.33 L 1498.88 337.14 L 1499.33 334.88 L 1499.78 336.59 L 1500.23 334.12 L 1500.68 336.09 L 1501.13 335.16 L 1501.58 338.41 L 1502.03 335.3 L 1502.48 338.1 L 1502.93 335.58 L 1503.38 334.58 L 1503.83 332.25 L 1504.28 331.48 L 1504.73 327.98 L 1505.18 328.63 L 1505.63 330.99 L 1506.08 335.87 L 1506.53 335.63 L 1506.98 338.69 L 1507.43 337.16 L 1507.88 342.95 L 1508.33 341.64 L 1508.78 344.08 L 1509.23 342.69 L 1509.68 343.43 L 1510.13 338.54 L 1510.58 337.52 L 1511.03 332.06 L 1511.48 334.14 L 1511.93 332.94 L 1512.38 338.32 L 1512.83 336.19 L 1513.28 340.06 L 1513.73 337.58 L 1514.18 337.9 L 1514.63 334.56 L 1515.08 335.74 L 1515.53 332.08 L 1515.98 332.34 L 1516.43 331.47 L 1516.88 333.39 L 1517.33 331.67 L 1517.78 332.85 L 1518.23 330.97 L 1518.68 333.45 L 1519.13 329.78 L 1519.58 335.72 L 1520.03 332.56 L 1520.48 335.55 L 1520.93 334.31 L 1521.38 335.33 L 1521.83 334.75 L 1522.28 337.69 L 1522.73 334.38 L 1523.18 336.35 L 1523.63 333.27 L 1524.08 337.11 L 1524.53 336.23 L 1524.98 339.74 L 1525.43 335.85 L 1525.88 338.22 L 1526.33 336.57 L 1526.78 339.15 L 1527.23 332.89 L 1527.68 337.21 L 1528.13 333.47 L 1528.58 337.08 L 1529.03 335.43 L 1529.48 336.98 L 1529.93 336.63 L 1530.38 337.36 L 1530.83 337.64 L 1531.28 339.67 L 1531.73 334.73 L 1532.18 343.36 L 1532.63 339.13 L 1533.08 342.77 L 1533.53 339.05 L 1533.98 341.34 L 1534.43 339.61 L 1534.88 343.72 L 1535.33 340.03 L 1535.78 342.66 L 1536.23 338.95 L 1536.68 344.88 L 1537.13 341.06 L 1537.58 342.53 L 1538.03 341.17 L 1538.48 343.64 L 1538.93 340.37 L 1539.38 343 L 1539.83 339.99 L 1540.28 341.45 L 1540.73 340.92 L 1541.18 341.67 L 1541.63 338.51 L 1542.08 343.34 L 1542.53 339.8 L 1542.98 342.28 L 1543.43 339.18 L 1543.88 343.99 L 1544.33 340.43 L 1544.78 343.64 L 1545.23 338.8 L 1545.68 341.91 L 1546.13 338.42 L 1546.58 341.65 L 1547.03 340.12 L 1547.48 340.43 L 1547.93 339.33 L 1548.38 340.83 L 1548.83 336.96 L 1549.28 341.07 L 1549.73 339.88 L 1550.18 341.45 L 1550.63 339.91 L 1551.08 340.49 L 1551.53 340.32 L 1551.98 341.64 L 1552.43 340.41 L 1552.88 340.65 L 1553.33 339.03 L 1553.78 341.87 L 1554.23 337.73 L 1554.68 340 L 1555.13 338.19 L 1555.58 340.97 L 1556.03 338.29 L 1556.48 338.81 L 1556.93 337.48 L 1557.38 341.14 L 1557.83 336.56 L 1558.28 339.91 L 1558.73 338.73 L 1559.18 341.72 L 1559.63 338.96 L 1560.08 341.72 L 1560.53 338.24 L 1560.98 343.35 L 1561.43 339.02 L 1561.88 340.83 L 1562.33 339.94 L 1562.78 341.07 L 1563.23 339.17 L 1563.68 341.62 L 1564.13 338.91 L 1564.58 344.79 L 1565.03 341.11 L 1565.48 341.31 L 1565.93 340.46 L 1566.38 341.59 L 1566.83 340.24 L 1567.28 342.14 L 1567.73 341.77 L 1568.18 345.47 L 1568.63 340.47 L 1569.08 342.6 L 1569.53 341.6 L 1569.98 342.24 L 1570.43 341.09 L 1570.88 342.71 L 1571.33 341.2 L 1571.78 343.28 L 1572.23 341.61 L 1572.68 344 L 1573.13 342.21 L 1573.58 346.87 L 1574.03 342.07 L 1574.48 345.86 L 1574.93 341.91 L 1575.38 343.84 L 1575.83 340.66 L 1576.28 344.56 L 1576.73 342.57 L 1577.18 345.42 L 1577.63 341.72 L 1578.08 344.71 L 1578.53 343.47 L 1578.98 346.14 L 1579.43 342.36 L 1579.88 346.17 L 1580.33 344.63 L 1580.78 346.21 L 1581.23 345.73 L 1581.68 349.74 L 1582.13 345.07 L 1582.58 345.08 L 1583.03 341.48 L 1583.48 343.58 L 1583.93 338.88 L 1584.38 343.35 L 1584.83 340.71 L 1585.28 343 L 1585.73 340 L 1586.18 340.17 L 1586.63 338.59 L 1587.08 343.5 L 1587.53 341.35 L 1587.98 342.27 L 1588.43 341.34 L 1588.88 345.18 L 1589.33 342.43 L 1589.78 347.15 L 1590.23 343.69 L 1590.68 347.27 L 1591.13 344.74 L 1591.58 346.85 L 1592.03 344.59 L 1592.48 348.04 L 1592.93 344.18 L 1593.38 346.27 L 1593.83 344.76 L 1594.28 344.62 L 1594.73 341.74 L 1595.18 345.25 L 1595.63 342.67 L 1596.08 346.47 L 1596.53 343.65 L 1596.98 344.29 L 1597.43 343.16 L 1597.88 345.12 L 1598.33 343.03 L 1598.78 344.32 L 1599.23 344.08 L 1599.68 345.69 L 1600.13 343.54 L 1600.58 345.92 L 1601.03 343.61 L 1601.48 346.27 L 1601.93 343.33 L 1602.38 346.27 L 1602.83 344.18 L 1603.28 346.45 L 1603.73 344.68 L 1604.18 346.54 L 1604.63 344.84 L 1605.08 344.75 L 1605.53 341.92 L 1605.98 345.96 L 1606.43 340.44 L 1606.88 343.62 L 1607.33 339.61 L 1607.78 339.94 L 1608.23 342.94 L 1608.68 350.88 L 1609.13 342.51 L 1609.58 339.42 L 1610.03 338 L 1610.48 339.75 L 1610.93 337.2 L 1611.38 339.46 L 1611.83 337.74 L 1612.28 339.31 L 1612.73 338.4 L 1613.18 339.47 L 1613.63 338.2 L 1614.08 340.67 L 1614.53 339.23 L 1614.98 342.9 L 1615.43 339.4 L 1615.88 341.87 L 1616.33 339.63 L 1616.78 341.6 L 1617.23 340.81 L 1617.68 342.93 L 1618.13 340.68 L 1618.58 343.55 L 1619.03 342 L 1619.48 346.7 L 1619.93 343.39 L 1620.38 344.98 L 1620.83 344.28 L 1621.28 346.35 L 1621.73 342.77 L 1622.18 347.35 L 1622.63 346.21 L 1623.08 349 L 1623.53 347.7 L 1623.98 349.48 L 1624.43 347.7 L 1624.88 349.04 L 1625.33 348.38 L 1625.78 350.61 L 1626.23 348.44 L 1626.68 349.57 L 1627.13 348.54 L 1627.58 348.43 L 1628.03 345.29 L 1628.48 347.72 L 1628.93 346.97 L 1629.38 350.4 L 1629.83 344.11 L 1630.28 349.8 L 1630.73 346.93 L 1631.18 349.22 L 1631.63 346.55 L 1632.08 349.68 L 1632.53 346.48 L 1632.98 348.55 L 1633.43 347.09 L 1633.88 350.03 L 1634.33 343.82 L 1634.78 348.39 L 1635.23 346.86 L 1635.68 349.02 L 1636.13 346.53 L 1636.58 349.33 L 1637.03 347.4 L 1637.48 347.79 L 1637.93 346.31 L 1638.38 348.37 L 1638.83 346.91 L 1639.28 349.64 L 1639.73 346.32 L 1640.18 349.53 L 1640.63 346.15 L 1641.08 349.72 L 1641.53 344.89 L 1641.98 344.94 L 1642.43 341.78 L 1642.88 340.95 L 1643.33 336.59 L 1643.78 339.19 L 1644.23 339.49 L 1644.68 343.83 L 1645.13 341.42 L 1645.58 342.22 L 1646.03 339.52 L 1646.48 343.98 L 1646.93 341.55 L 1647.38 343.04 L 1647.83 341 L 1648.28 341.84 L 1648.73 340.65 L 1649.18 343.87 L 1649.63 341.4 L 1650.08 342.83 L 1650.53 340.76 L 1650.98 344 L 1651.43 340.89 L 1651.88 344.67 L 1652.33 342.11 L 1652.78 344.71 L 1653.23 341.8 L 1653.68 344.27 L 1654.13 340.13 L 1654.58 342.92 L 1655.03 342.45 L 1655.48 345.48 L 1655.93 341.99 L 1656.38 344.61 L 1656.83 342.22 L 1657.28 343.63 L 1657.73 340.93 L 1658.18 345.26 L 1658.63 341 L 1659.08 344.9 L 1659.53 342.14 L 1659.98 346.43 L 1660.43 342.68 L 1660.88 345.01 L 1661.33 341.76 L 1661.78 345.76 L 1662.23 340.08 L 1662.68 346.03 L 1663.13 343.71 L 1663.58 345.88 L 1664.03 343.99 L 1664.48 346.04 L 1664.93 343.01 L 1665.38 346.26 L 1665.83 344.15 L 1666.28 345.94 L 1666.73 344.25 L 1667.18 346.29 L 1667.63 345.24 L 1668.08 346.98 L 1668.53 344.88 L 1668.98 347.08 L 1669.43 344.47 L 1669.88 348.13 L 1670.33 345.24 L 1670.78 347.14 L 1671.23 344.34 L 1671.68 347.14 L 1672.13 346.02 L 1672.58 348.1 L 1673.03 346.05 L 1673.48 349.03 L 1673.93 347.78 L 1674.38 348.22 L 1674.83 348.2 L 1675.28 350.72 L 1675.73 347.95 L 1676.18 352.57 L 1676.63 348.27 L 1677.08 351.74 L 1677.53 348.32 L 1677.98 352.81 L 1678.43 349.09 L 1678.88 351.44 L 1679.33 348.13 L 1679.78 353.54 L 1680.23 349.93 L 1680.68 351.44 L 1681.13 348.82 L 1681.58 352.67 L 1682.03 349.85 L 1682.48 350.67 L 1682.93 349.11 L 1683.38 351.63 L 1683.83 348.22 L 1684.28 351.2 L 1684.73 345.68 L 1685.18 350.87 L 1685.63 348.27 L 1686.08 348.99 L 1686.53 348.06 L 1686.98 351.27 L 1687.43 347.1 L 1687.88 348.97 L 1688.33 347.28 L 1688.78 347.32 L 1689.23 344.32 L 1689.68 348.07 L 1690.13 346.8 L 1690.58 353.86 L 1691.03 349.74 L 1691.48 351.77 L 1691.93 348.19 L 1692.38 351.8 L 1692.83 349.81 L 1693.28 351.78 L 1693.73 348.3 L 1694.18 348.97 L 1694.63 349.96 L 1695.08 354.77 L 1695.53 353.63 L 1695.98 356.09 L 1696.43 352.62 L 1696.88 354.48 L 1697.33 351.66 L 1697.78 354.31 L 1698.23 351.27 L 1698.68 350.65 L 1699.13 349.3 L 1699.58 350.05 L 1700.03 347.9 L 1700.48 349.74 L 1700.93 346.4 L 1701.38 354.13 L 1701.83 348.53 L 1702.28 350.15 L 1702.73 347.56 L 1703.18 350.55 L 1703.63 348.37 L 1704.08 349.46 L 1704.53 347.73 L 1704.98 349.52 L 1705.43 346.12 L 1705.88 352.2 L 1706.33 348.88 L 1706.78 350.57 L 1707.23 349.69 L 1707.68 351.02 L 1708.13 347.81 L 1708.58 351.27 L 1709.03 348.62 L 1709.48 350.09 L 1709.93 349.02 L 1710.38 350.93 L 1710.83 346.87 L 1711.28 350.61 L 1711.73 348.25 L 1712.18 350.59 L 1712.63 347.33 L 1713.08 350.03 L 1713.53 348.04 L 1713.98 349.2 L 1714.43 347.99 L 1714.88 351.84 L 1715.33 347.23 L 1715.78 349.22 L 1716.23 348.6 L 1716.68 351.44 L 1717.13 346.26 L 1717.58 351.45 L 1718.03 348.55 L 1718.48 349.94 L 1718.93 344.76 L 1719.38 350.77 L 1719.83 348.34 L 1720.28 349.62 L 1720.73 347.77 L 1721.18 349.68 L 1721.63 347.62 L 1722.08 350.24 L 1722.53 348.88 L 1722.98 350.62 L 1723.43 349.1 L 1723.88 350.22 L 1724.33 348.57 L 1724.78 351.13 L 1725.23 345.81 L 1725.68 349.64 L 1725.68 349.64 " clip-path="url(#p1224437e14)" style="fill: none; stroke: #ff0000; stroke-width: 1.3; stroke-linecap: square"/>
</g>
</g>
<g id="axes_7">
<g id="patch_100">
<path d="M 1205 822 L 1800 822 L 1800 478 L 1205 478 z
" style="fill: #ffffff"/>
</g>
<g id="line2d_264">
<path d="M 1205 512.4 L 1800 512.4 " clip-path="url(#p23889eedd7)" style="fill: none; stroke-dasharray: 2,3.3; stroke-dashoffset: 0; stroke: #000000; stroke-width: 2"/>
</g>
<g id="matplotlib.axis_12">
<g id="xtick_33">
<g id="line2d_265">
<g>
<use href="#mdc1538e322" x="1245.29" y="822" style="stroke: #000000; stroke-width: 1.3"/>
</g>
</g>
</g>
<g id="xtick_34">
<g id="line2d_266">
<g>
<use href="#mdc1538e322" x="1319.66" y="822" style="stroke: #000000; stroke-width: 1.3"/>
</g>
</g>
</g>
<g id="xtick_35">
<g id="line2d_267">
<g>
<use href="#mdc1538e322" x="1394.04" y="822" style="stroke: #000000; stroke-width: 1.3"/>
</g>
</g>
</g>
<g id="xtick_36">
<g id="line2d_268">
<g>
<use href="#mdc1538e322" x="1468.41" y="822" style="stroke: #000000; stroke-width: 1.3"/>
</g>
</g>
</g>
<g id="xtick_37">
<g id="line2d_269">
<g>
<use href="#mdc1538e322" x="1542.79" y="822" style="stroke: #000000; stroke-width: 1.3"/>
</g>
</g>
</g>
<g id="xtick_38">
<g id="line2d_270">
<g>
<use href="#mdc1538e322" x="1617.16" y="822" style="stroke: #000000; stroke-width: 1.3"/>
</g>
</g>
</g>
<g id="xtick_39">
<g id="line2d_271">
<g>
<use href="#mdc1538e322" x="1691.54" y="822" style="stroke: #000000; stroke-width: 1.3"/>
</g>
</g>
</g>
<g id="xtick_40">
<g id="line2d_272">
<g>
<use href="#mdc1538e322" x="1765.91" y="822" style="stroke: #000000; stroke-width: 1.3"/>
</g>
</g>
</g>
</g>
<g id="matplotlib.axis_13">
<g id="ytick_138">
<g id="line2d_273">
<g>
<use href="#m0a4a72b5c7" x="1205" y="787.6" style="stroke: #000000; stroke-width: 1.3"/>
</g>
</g>
<g id="text_67">
<text style="font-size: 21.20px; font-family: 'Liberation Sans', sans-serif; text-anchor: end" x="1200" y="795.198437" transform="rotate(-0 1200 795.198437)" textLength="54.93" lengthAdjust="spacingAndGlyphs">−400</text>
</g>
</g>
<g id="ytick_139">
<g id="line2d_274">
<g>
<use href="#m0a4a72b5c7" x="1205" y="718.8" style="stroke: #000000; stroke-width: 1.3"/>
</g>
</g>
<g id="text_68">
<text style="font-size: 21.20px; font-family: 'Liberation Sans', sans-serif; text-anchor: end" x="1200" y="726.398438" transform="rotate(-0 1200 726.398438)" textLength="54.93" lengthAdjust="spacingAndGlyphs">−300</text>
</g>
</g>
<g id="ytick_140">
<g id="line2d_275">
<g>
<use href="#m0a4a72b5c7" x="1205" y="650" style="stroke: #000000; stroke-width: 1.3"/>
</g>
</g>
<g id="text_69">
<text style="font-size: 21.20px; font-family: 'Liberation Sans', sans-serif; text-anchor: end" x="1200" y="657.598438" transform="rotate(-0 1200 657.598438)" textLength="54.93" lengthAdjust="spacingAndGlyphs">−200</text>
</g>
</g>
<g id="ytick_141">
<g id="line2d_276">
<g>
<use href="#m0a4a72b5c7" x="1205" y="581.2" style="stroke: #000000; stroke-width: 1.3"/>
</g>
</g>
<g id="text_70">
<text style="font-size: 21.20px; font-family: 'Liberation Sans', sans-serif; text-anchor: end" x="1200" y="588.798438" transform="rotate(-0 1200 588.798438)" textLength="54.93" lengthAdjust="spacingAndGlyphs">−100</text>
</g>
</g>
<g id="ytick_142">
<g id="line2d_277">
<g>
<use href="#m0a4a72b5c7" x="1205" y="512.4" style="stroke: #000000; stroke-width: 1.3"/>
</g>
</g>
<g id="text_71">
<text style="font-size: 21.20px; font-family: 'Liberation Sans', sans-serif; text-anchor: end" x="1200" y="519.998438" transform="rotate(-0 1200 519.998438)" textLength="12.72" lengthAdjust="spacingAndGlyphs">0</text>
</g>
</g>
</g>
<g id="patch_101">
<path d="M 1205 822 L 1205 478 " style="fill: none; stroke: #000000; stroke-width: 2; stroke-linejoin: miter; stroke-linecap: square"/>
</g>
<g id="patch_102">
<path d="M 1800 822 L 1800 478 " style="fill: none; stroke: #000000; stroke-width: 2; stroke-linejoin: miter; stroke-linecap: square"/>
</g>
<g id="patch_103">
<path d="M 1205 822 L 1800 822 " style="fill: none; stroke: #000000; stroke-width: 2; stroke-linejoin: miter; stroke-linecap: square"/>
</g>
<g id="patch_104">
<path d="M 1205 478 L 1800 478 " style="fill: none; stroke: #000000; stroke-width: 2; stroke-linejoin: miter; stroke-linecap: square"/>
</g>
<g id="line2d_278">
<path d="M 1726.14 822 L 1726.14 478 " clip-path="url(#p23889eedd7)" style="fill: none; stroke-dasharray: 2,3.3; stroke-dashoffset: 0; stroke: #1f77b4; stroke-width: 2"/>
</g>
</g>
<g id="axes_8">
<g id="matplotlib.axis_14">
<g id="ytick_143">
<g id="line2d_279">
<g>
<use href="#ma9f683e1c8" x="1800" y="822" style="fill: #ff0000; stroke: #ff0000; stroke-width: 1.3"/>
</g>
</g>
<g id="text_72">
<!-- $\mathdefault{10^{-2}}$ -->
<g style="fill: #ff0000" transform="translate(1805 829.598438)">
<text x="0" y="0.347" style="font-size: 22.47px; font-family: 'Liberation Sans', sans-serif; fill: #ff0000" textLength="12.72" lengthAdjust="spacingAndGlyphs" textLength="13.49" lengthAdjust="spacingAndGlyphs">1</text>
<text x="12.724609" y="0.347" style="font-size: 22.47px; font-family: 'Liberation Sans', sans-serif; fill: #ff0000" textLength="12.72" lengthAdjust="spacingAndGlyphs" textLength="13.49" lengthAdjust="spacingAndGlyphs">0</text>
<text x="25.640625" y="-6.109" style="font-size: 15.73px; font-family: 'Liberation Sans', sans-serif; fill: #ff0000" textLength="11.73" lengthAdjust="spacingAndGlyphs" textLength="12.43" lengthAdjust="spacingAndGlyphs">−</text>
<text x="37.371094" y="-6.109" style="font-size: 15.73px; font-family: 'Liberation Sans', sans-serif; fill: #ff0000" textLength="8.91" lengthAdjust="spacingAndGlyphs" textLength="9.44" lengthAdjust="spacingAndGlyphs">2</text>
</g>
</g>
</g>
<g id="ytick_144">
<g id="line2d_280">
<g>
<use href="#ma9f683e1c8" x="1800" y="736" style="fill: #ff0000; stroke: #ff0000; stroke-width: 1.3"/>
</g>
</g>
<g id="text_73">
<!-- $\mathdefault{10^{-1}}$ -->
<g style="fill: #ff0000" transform="translate(1805 743.598438)">
<text x="0" y="1.161" style="font-size: 22.47px; font-family: 'Liberation Sans', sans-serif; fill: #ff0000" textLength="12.72" lengthAdjust="spacingAndGlyphs" textLength="13.49" lengthAdjust="spacingAndGlyphs">1</text>
<text x="12.724609" y="1.161" style="font-size: 22.47px; font-family: 'Liberation Sans', sans-serif; fill: #ff0000" textLength="12.72" lengthAdjust="spacingAndGlyphs" textLength="13.49" lengthAdjust="spacingAndGlyphs">0</text>
<text x="25.640625" y="-5.295" style="font-size: 15.73px; font-family: 'Liberation Sans', sans-serif; fill: #ff0000" textLength="11.73" lengthAdjust="spacingAndGlyphs" textLength="12.43" lengthAdjust="spacingAndGlyphs">−</text>
<text x="37.371094" y="-5.295" style="font-size: 15.73px; font-family: 'Liberation Sans', sans-serif; fill: #ff0000" textLength="8.91" lengthAdjust="spacingAndGlyphs" textLength="9.44" lengthAdjust="spacingAndGlyphs">1</text>
</g>
</g>
</g>
<g id="ytick_145">
<g id="line2d_281">
<g>
<use href="#ma9f683e1c8" x="1800" y="650" style="fill: #ff0000; stroke: #ff0000; stroke-width: 1.3"/>
</g>
</g>
<g id="text_74">
<!-- $\mathdefault{10^{0}}$ -->
<g style="fill: #ff0000" transform="translate(1805 657.598438)">
<text x="0" y="0.347" style="font-size: 22.47px; font-family: 'Liberation Sans', sans-serif; fill: #ff0000" textLength="12.72" lengthAdjust="spacingAndGlyphs" textLength="13.49" lengthAdjust="spacingAndGlyphs">1</text>
<text x="12.724609" y="0.347" style="font-size: 22.47px; font-family: 'Liberation Sans', sans-serif; fill: #ff0000" textLength="12.72" lengthAdjust="spacingAndGlyphs" textLength="13.49" lengthAdjust="spacingAndGlyphs">0</text>
<text x="25.640625" y="-6.109" style="font-size: 15.73px; font-family: 'Liberation Sans', sans-serif; fill: #ff0000" textLength="8.91" lengthAdjust="spacingAndGlyphs" textLength="9.44" lengthAdjust="spacingAndGlyphs">0</text>
</g>
</g>
</g>
<g id="ytick_146">
<g id="line2d_282">
<g>
<use href="#ma9f683e1c8" x="1800" y="564" style="fill: #ff0000; stroke: #ff0000; stroke-width: 1.3"/>
</g>
</g>
<g id="text_75">
<!-- $\mathdefault{10^{1}}$ -->
<g style="fill: #ff0000" transform="translate(1805 571.598438)">
<text x="0" y="1.161" style="font-size: 22.47px; font-family: 'Liberation Sans', sans-serif; fill: #ff0000" textLength="12.72" lengthAdjust="spacingAndGlyphs" textLength="13.49" lengthAdjust="spacingAndGlyphs">1</text>
<text x="12.724609" y="1.161" style="font-size: 22.47px; font-family: 'Liberation Sans', sans-serif; fill: #ff0000" textLength="12.72" lengthAdjust="spacingAndGlyphs" textLength="13.49" lengthAdjust="spacingAndGlyphs">0</text>
<text x="25.640625" y="-5.295" style="font-size: 15.73px; font-family: 'Liberation Sans', sans-serif; fill: #ff0000" textLength="8.91" lengthAdjust="spacingAndGlyphs" textLength="9.44" lengthAdjust="spacingAndGlyphs">1</text>
</g>
</g>
</g>
<g id="ytick_147">
<g id="line2d_283">
<g>
<use href="#ma9f683e1c8" x="1800" y="478" style="fill: #ff0000; stroke: #ff0000; stroke-width: 1.3"/>
</g>
</g>
<g id="text_76">
<!-- $\mathdefault{10^{2}}$ -->
<g style="fill: #ff0000" transform="translate(1805 485.598438)">
<text x="0" y="0.347" style="font-size: 22.47px; font-family: 'Liberation Sans', sans-serif; fill: #ff0000" textLength="12.72" lengthAdjust="spacingAndGlyphs" textLength="13.49" lengthAdjust="spacingAndGlyphs">1</text>
<text x="12.724609" y="0.347" style="font-size: 22.47px; font-family: 'Liberation Sans', sans-serif; fill: #ff0000" textLength="12.72" lengthAdjust="spacingAndGlyphs" textLength="13.49" lengthAdjust="spacingAndGlyphs">0</text>
<text x="25.640625" y="-6.109" style="font-size: 15.73px; font-family: 'Liberation Sans', sans-serif; fill: #ff0000" textLength="8.91" lengthAdjust="spacingAndGlyphs" textLength="9.44" lengthAdjust="spacingAndGlyphs">2</text>
</g>
</g>
</g>
<g id="ytick_148">
<g id="line2d_284">
<defs>
<path id="m32fba62ec5" d="M 0 0 L -4 0 " style="stroke: #ff0000; stroke-width: 0.9"/>
</defs>
<g>
<use href="#m32fba62ec5" x="1800" y="796.11" style="fill: #ff0000; stroke: #ff0000; stroke-width: 0.9"/>
</g>
</g>
</g>
<g id="ytick_149">
<g id="line2d_285">
<g>
<use href="#m32fba62ec5" x="1800" y="780.97" style="fill: #ff0000; stroke: #ff0000; stroke-width: 0.9"/>
</g>
</g>
</g>
<g id="ytick_150">
<g id="line2d_286">
<g>
<use href="#m32fba62ec5" x="1800" y="770.22" style="fill: #ff0000; stroke: #ff0000; stroke-width: 0.9"/>
</g>
</g>
</g>
<g id="ytick_151">
<g id="line2d_287">
<g>
<use href="#m32fba62ec5" x="1800" y="761.89" style="fill: #ff0000; stroke: #ff0000; stroke-width: 0.9"/>
</g>
</g>
</g>
<g id="ytick_152">
<g id="line2d_288">
<g>
<use href="#m32fba62ec5" x="1800" y="755.08" style="fill: #ff0000; stroke: #ff0000; stroke-width: 0.9"/>
</g>
</g>
</g>
<g id="ytick_153">
<g id="line2d_289">
<g>
<use href="#m32fba62ec5" x="1800" y="749.32" style="fill: #ff0000; stroke: #ff0000; stroke-width: 0.9"/>
</g>
</g>
</g>
<g id="ytick_154">
<g id="line2d_290">
<g>
<use href="#m32fba62ec5" x="1800" y="744.33" style="fill: #ff0000; stroke: #ff0000; stroke-width: 0.9"/>
</g>
</g>
</g>
<g id="ytick_155">
<g id="line2d_291">
<g>
<use href="#m32fba62ec5" x="1800" y="739.94" style="fill: #ff0000; stroke: #ff0000; stroke-width: 0.9"/>
</g>
</g>
</g>
<g id="ytick_156">
<g id="line2d_292">
<g>
<use href="#m32fba62ec5" x="1800" y="710.11" style="fill: #ff0000; stroke: #ff0000; stroke-width: 0.9"/>
</g>
</g>
</g>
<g id="ytick_157">
<g id="line2d_293">
<g>
<use href="#m32fba62ec5" x="1800" y="694.97" style="fill: #ff0000; stroke: #ff0000; stroke-width: 0.9"/>
</g>
</g>
</g>
<g id="ytick_158">
<g id="line2d_294">
<g>
<use href="#m32fba62ec5" x="1800" y="684.22" style="fill: #ff0000; stroke: #ff0000; stroke-width: 0.9"/>
</g>
</g>
</g>
<g id="ytick_159">
<g id="line2d_295">
<g>
<use href="#m32fba62ec5" x="1800" y="675.89" style="fill: #ff0000; stroke: #ff0000; stroke-width: 0.9"/>
</g>
</g>
</g>
<g id="ytick_160">
<g id="line2d_296">
<g>
<use href="#m32fba62ec5" x="1800" y="669.08" style="fill: #ff0000; stroke: #ff0000; stroke-width: 0.9"/>
</g>
</g>
</g>
<g id="ytick_161">
<g id="line2d_297">
<g>
<use href="#m32fba62ec5" x="1800" y="663.32" style="fill: #ff0000; stroke: #ff0000; stroke-width: 0.9"/>
</g>
</g>
</g>
<g id="ytick_162">
<g id="line2d_298">
<g>
<use href="#m32fba62ec5" x="1800" y="658.33" style="fill: #ff0000; stroke: #ff0000; stroke-width: 0.9"/>
</g>
</g>
</g>
<g id="ytick_163">
<g id="line2d_299">
<g>
<use href="#m32fba62ec5" x="1800" y="653.94" style="fill: #ff0000; stroke: #ff0000; stroke-width: 0.9"/>
</g>
</g>
</g>
<g id="ytick_164">
<g id="line2d_300">
<g>
<use href="#m32fba62ec5" x="1800" y="624.11" style="fill: #ff0000; stroke: #ff0000; stroke-width: 0.9"/>
</g>
</g>
</g>
<g id="ytick_165">
<g id="line2d_301">
<g>
<use href="#m32fba62ec5" x="1800" y="608.97" style="fill: #ff0000; stroke: #ff0000; stroke-width: 0.9"/>
</g>
</g>
</g>
<g id="ytick_166">
<g id="line2d_302">
<g>
<use href="#m32fba62ec5" x="1800" y="598.22" style="fill: #ff0000; stroke: #ff0000; stroke-width: 0.9"/>
</g>
</g>
</g>
<g id="ytick_167">
<g id="line2d_303">
<g>
<use href="#m32fba62ec5" x="1800" y="589.89" style="fill: #ff0000; stroke: #ff0000; stroke-width: 0.9"/>
</g>
</g>
</g>
<g id="ytick_168">
<g id="line2d_304">
<g>
<use href="#m32fba62ec5" x="1800" y="583.08" style="fill: #ff0000; stroke: #ff0000; stroke-width: 0.9"/>
</g>
</g>
</g>
<g id="ytick_169">
<g id="line2d_305">
<g>
<use href="#m32fba62ec5" x="1800" y="577.32" style="fill: #ff0000; stroke: #ff0000; stroke-width: 0.9"/>
</g>
</g>
</g>
<g id="ytick_170">
<g id="line2d_306">
<g>
<use href="#m32fba62ec5" x="1800" y="572.33" style="fill: #ff0000; stroke: #ff0000; stroke-width: 0.9"/>
</g>
</g>
</g>
<g id="ytick_171">
<g id="line2d_307">
<g>
<use href="#m32fba62ec5" x="1800" y="567.94" style="fill: #ff0000; stroke: #ff0000; stroke-width: 0.9"/>
</g>
</g>
</g>
<g id="ytick_172">
<g id="line2d_308">
<g>
<use href="#m32fba62ec5" x="1800" y="538.11" style="fill: #ff0000; stroke: #ff0000; stroke-width: 0.9"/>
</g>
</g>
</g>
<g id="ytick_173">
<g id="line2d_309">
<g>
<use href="#m32fba62ec5" x="1800" y="522.97" style="fill: #ff0000; stroke: #ff0000; stroke-width: 0.9"/>
</g>
</g>
</g>
<g id="ytick_174">
<g id="line2d_310">
<g>
<use href="#m32fba62ec5" x="1800" y="512.22" style="fill: #ff0000; stroke: #ff0000; stroke-width: 0.9"/>
</g>
</g>
</g>
<g id="ytick_175">
<g id="line2d_311">
<g>
<use href="#m32fba62ec5" x="1800" y="503.89" style="fill: #ff0000; stroke: #ff0000; stroke-width: 0.9"/>
</g>
</g>
</g>
<g id="ytick_176">
<g id="line2d_312">
<g>
<use href="#m32fba62ec5" x="1800" y="497.08" style="fill: #ff0000; stroke: #ff0000; stroke-width: 0.9"/>
</g>
</g>
</g>
<g id="ytick_177">
<g id="line2d_313">
<g>
<use href="#m32fba62ec5" x="1800" y="491.32" style="fill: #ff0000; stroke: #ff0000; stroke-width: 0.9"/>
</g>
</g>
</g>
<g id="ytick_178">
<g id="line2d_314">
<g>
<use href="#m32fba62ec5" x="1800" y="486.33" style="fill: #ff0000; stroke: #ff0000; stroke-width: 0.9"/>
</g>
</g>
</g>
<g id="ytick_179">
<g id="line2d_315">
<g>
<use href="#m32fba62ec5" x="1800" y="481.94" style="fill: #ff0000; stroke: #ff0000; stroke-width: 0.9"/>
</g>
</g>
</g>
</g>
<g id="patch_105">
<path d="M 1205 822 L 1205 478 " style="fill: none; stroke: #000000; stroke-width: 2; stroke-linejoin: miter; stroke-linecap: square"/>
</g>
<g id="patch_106">
<path d="M 1800 822 L 1800 478 " style="fill: none; stroke: #ff0000; stroke-width: 2; stroke-linejoin: miter; stroke-linecap: square"/>
</g>
<g id="patch_107">
<path d="M 1205 822 L 1800 822 " style="fill: none; stroke: #000000; stroke-width: 2; stroke-linejoin: miter; stroke-linecap: square"/>
</g>
<g id="patch_108">
<path d="M 1205 478 L 1800 478 " style="fill: none; stroke: #000000; stroke-width: 2; stroke-linejoin: miter; stroke-linecap: square"/>
</g>
<g id="line2d_316">
<path d="M 1206 624.73 L 1207.09 642.18 L 1208.18 630.18 L 1209.82 650.91 L 1210.64 642.52 L 1211.45 641.09 L 1212.54 626.91 L 1213.64 649.82 L 1214.73 631.27 L 1215.82 670.54 L 1216.64 661.6 L 1217.45 654.18 L 1218.27 660.13 L 1219.09 667.27 L 1220.18 645.45 L 1222.09 634.57 L 1222.91 635.63 L 1223.73 633.04 L 1224.54 634.54 L 1225.64 623.63 L 1226.73 641.09 L 1227.54 643.46 L 1228.36 652 L 1230.54 631.27 L 1231.27 628.11 L 1232 631.4 L 1232.73 630.18 L 1233.82 641.09 L 1234.91 633.45 L 1235.73 633.7 L 1236.54 636.73 L 1237.36 636.35 L 1238.18 638.91 L 1239 642.36 L 1239.82 649.82 L 1240.63 644.71 L 1241.45 641.09 L 1242.18 640.31 L 1242.91 641.66 L 1243.63 638.91 L 1244.73 647.63 L 1245.82 636.73 L 1246.91 648.72 L 1248 638.91 L 1248.82 632.97 L 1249.63 628 L 1250.45 627.87 L 1251.27 629.09 L 1252.09 634.4 L 1252.91 641.09 L 1253.73 637.35 L 1254.54 636.73 L 1255.36 626.78 L 1256.18 629.09 L 1257 625.92 L 1257.82 626.91 L 1258.63 623.93 L 1259.45 624.73 L 1260.27 625.33 L 1261.09 630.18 L 1262.18 637.82 L 1262.91 632.9 L 1263.63 634.09 L 1264.36 630.18 L 1265.45 637.82 L 1266.18 631.54 L 1266.91 632.11 L 1267.63 626.91 L 1268.72 634.54 L 1270.91 645.45 L 1271.72 647.96 L 1272.54 652 L 1273.36 662.94 L 1274.18 678.18 L 1275.27 649.82 L 1276.36 670.54 L 1277.45 658.54 L 1278.54 654.18 L 1279.63 638.91 L 1280.72 654.18 L 1281.82 646.54 L 1318.9 634.54 L 1319.45 641.09 L 1320.54 619.27 L 1321.27 615.4 L 1322 620.5 L 1322.72 613.82 L 1323.27 625.82 L 1324.36 636.73 L 1325.45 645.45 L 1326.54 652 L 1327.63 638.91 L 1328.72 645.45 L 1329.81 655.27 L 1330.9 643.27 L 1331.72 645.04 L 1332.54 647.63 L 1333.63 638.91 L 1334.18 666.18 L 1335.27 649.82 L 1336.36 623.63 L 1337.45 671.63 L 1338.54 650.91 L 1339.36 638.46 L 1340.18 629.09 L 1340.72 658.54 L 1341.81 645.45 L 1342.9 664 L 1343.99 643.27 L 1345.9 633.99 L 1346.72 631.27 L 1347.81 622.54 L 1348.9 645.45 L 1349.72 647.94 L 1350.54 654.18 L 1352.18 636.73 L 1353.27 629.09 L 1354.36 649.82 L 1355.18 647.84 L 1355.99 647.63 L 1356.81 644.2 L 1357.63 645.45 L 1358.45 642.59 L 1359.27 642.18 L 1360.09 642.48 L 1360.9 644.36 L 1361.72 632.93 L 1362.54 628 L 1363.63 619.27 L 1364.72 604 L 1365.81 599.64 L 1366.63 601.05 L 1367.45 606.18 L 1368.27 601.37 L 1369.08 600.73 L 1369.9 602.24 L 1370.72 605.09 L 1371.81 601.82 L 1372.63 598.72 L 1373.45 596.36 L 1373.99 621.45 L 1375.63 623.63 L 1376.72 630.18 L 1377.81 657.45 L 1378.9 647.63 L 1379.99 641.09 L 1381.63 619.27 L 1382.45 628.4 L 1383.27 641.09 L 1384.36 645.45 L 1385.45 617.09 L 1386.27 613.19 L 1387.08 610.54 L 1387.9 612.07 L 1388.72 616 L 1389.54 616.13 L 1390.36 623.63 L 1391.17 618.19 L 1391.99 613.82 L 1392.72 614.59 L 1393.45 622.03 L 1394.17 625.82 L 1393.27 613.82 L 1394.09 619.09 L 1394.91 625.82 L 1395.73 617.22 L 1396.55 613.82 L 1398.18 622.54 L 1399 616.98 L 1399.82 612.73 L 1400.91 629.09 L 1402 608.36 L 1402.82 607.82 L 1403.64 614.91 L 1404.32 614.83 L 1405 620.35 L 1405.68 616.52 L 1406.36 618.18 L 1407.09 621.04 L 1407.82 625.92 L 1408.54 629.09 L 1409.36 623.35 L 1410.18 619.27 L 1411 623.07 L 1411.82 629.09 L 1412.91 614.91 L 1413.73 620.23 L 1414.54 628 L 1415.36 622.87 L 1416.18 619.27 L 1417 622.62 L 1417.82 630.18 L 1418.64 626.28 L 1419.45 623.63 L 1420.18 622.57 L 1420.91 631.13 L 1421.64 630.18 L 1422.73 624.73 L 1423.45 626.73 L 1424.18 633.54 L 1424.91 634.54 L 1425.64 632.46 L 1426.36 637.15 L 1427.09 631.27 L 1427.82 633.37 L 1428.54 639.05 L 1429.27 640 L 1430.36 629.09 L 1431.18 622.93 L 1432 625.82 L 1433.09 634.54 L 1433.91 628.84 L 1434.73 626.91 L 1435.45 628.91 L 1436.18 641.71 L 1436.91 642.18 L 1437.53 640.03 L 1438.15 641.51 L 1438.78 638.74 L 1439.4 644.37 L 1440.02 637.21 L 1440.65 636.58 L 1441.27 635.63 L 1441.93 634.31 L 1442.58 634.67 L 1443.23 631.11 L 1443.89 632.82 L 1444.54 631.27 L 1445.63 642.18 L 1446.45 634.14 L 1447.27 630.18 L 1448.09 634.85 L 1448.91 641.09 L 1449.63 635.92 L 1450.36 639.46 L 1451.09 634.54 L 1451.77 631.7 L 1452.45 633.67 L 1453.13 632.18 L 1453.82 632.36 L 1454.91 644.36 L 1455.72 638.72 L 1456.54 634.54 L 1457.27 633.47 L 1458 637.34 L 1458.72 637.82 L 1459.27 654.18 L 1460.36 643.27 L 1461.09 641.79 L 1461.82 643.74 L 1462.54 643.27 L 1463.36 643.11 L 1464.18 645.45 L 1465.27 656.36 L 1466 651.07 L 1466.72 655.81 L 1467.45 652 L 1468.18 650.6 L 1468.91 658 L 1469.63 657.45 L 1470.36 653.81 L 1471.09 653.95 L 1471.82 650.91 L 1472.54 645.99 L 1473.27 648.25 L 1474 646.54 L 1474.72 650.25 L 1475.45 658.44 L 1476.18 664 L 1476.91 660.6 L 1477.63 661.97 L 1478.36 656.36 L 1479.09 653.87 L 1479.81 659.26 L 1480.54 658.54 L 1481.27 660.97 L 1482 665.23 L 1482.72 668.36 L 1483.81 676 L 1484.63 668.47 L 1485.45 665.09 L 1486.27 666.73 L 1487.09 671.63 L 1487.91 662.38 L 1488.72 656.36 L 1489.54 657.41 L 1490.36 661.82 L 1491.18 658.73 L 1492 658.54 L 1492.72 659.88 L 1493.45 662.74 L 1494.18 664 L 1495 655.71 L 1495.81 655.27 L 1496.63 660.56 L 1498.54 684.72 L 1500.18 672.72 L 1501 661.12 L 1501.81 655.27 L 1502.54 651.18 L 1503.27 653.43 L 1504 649.82 L 1504.81 637.15 L 1505.63 631.27 L 1506.45 640.26 L 1507.27 652 L 1508.09 643.86 L 1508.9 641.09 L 1509.63 637.39 L 1510.36 643.76 L 1511.09 641.09 L 1511.81 635.69 L 1512.54 639.87 L 1513.27 631.27 L 1514.09 634.26 L 1516 650.91 L 1516.81 644.79 L 1517.63 641.09 L 1519.27 632.36 L 1520.09 634.58 L 1520.9 638.91 L 1521.72 637.48 L 1522.54 641.09 L 1523.36 634.31 L 1524.18 633.45 L 1525 635.65 L 1525.81 641.09 L 1527.45 631.27 L 1528.27 634.57 L 1529.09 638.91 L 1529.9 641.48 L 1530.72 646.54 L 1531.81 625.82 L 1532.63 621.58 L 1533.45 623.63 L 1534.27 629.33 L 1535.09 640 L 1535.9 634.45 L 1536.72 630.18 L 1537.81 636.73 L 1538.9 652 L 1539.72 655.29 L 1540.54 659.63 L 1542.18 645.45 L 1542.99 649.09 L 1543.81 656.36 L 1544.63 656.95 L 1545.45 661.82 L 1546.27 654.66 L 1547.09 656.36 L 1547.9 652.94 L 1548.72 650.91 L 1549.54 651.84 L 1550.36 656.36 L 1551.18 657.16 L 1551.99 658.54 L 1552.81 650.71 L 1553.63 645.45 L 1554.72 658.54 L 1555.27 673.81 L 1556.08 669.88 L 1556.9 669.45 L 1557.63 665.69 L 1558.36 665.39 L 1559.08 662.91 L 1559.81 662.44 L 1560.54 667.88 L 1561.27 667.27 L 1561.99 665.36 L 1562.72 667.23 L 1563.45 662.91 L 1564.27 651.56 L 1565.08 645.45 L 1566.18 665.09 L 1566.99 660.65 L 1567.81 662.91 L 1568.54 663.59 L 1569.27 666.23 L 1569.99 667.27 L 1570.81 662.37 L 1571.63 658.54 L 1572.45 655.69 L 1573.27 655.27 L 1573.99 656.21 L 1574.72 658.29 L 1575.45 658.54 L 1576.18 656.47 L 1576.9 658.43 L 1578.36 649.94 L 1579.08 650.92 L 1579.81 647.63 L 1580.54 647.64 L 1581.27 652.31 L 1581.99 652 L 1582.72 648.5 L 1583.45 648.04 L 1584.17 645.45 L 1585.27 664 L 1586.08 660.24 L 1586.9 658.54 L 1586.55 657.45 L 1587.27 656.04 L 1588 660.02 L 1588.73 659.63 L 1589.38 658.85 L 1590.04 664.84 L 1590.69 664.76 L 1591.35 669.6 L 1592 670.54 L 1592.68 667.36 L 1593.36 665.42 L 1594.04 660.58 L 1594.73 659.63 L 1595.41 656.14 L 1596.09 664.9 L 1596.77 663.73 L 1597.45 666.18 L 1598.27 662.54 L 1599.91 656.68 L 1600.73 656.36 L 1601.82 641.09 L 1602.64 642.69 L 1603.45 645.45 L 1604.27 649.91 L 1605.09 656.36 L 1606.18 633.45 L 1607.82 645.45 L 1608.64 637.6 L 1609.45 634.54 L 1611.09 644.36 L 1611.91 637.89 L 1612.73 634.54 L 1613.45 630.7 L 1614.18 630.64 L 1614.91 626.91 L 1615.59 625.03 L 1616.27 627.72 L 1616.95 622.19 L 1617.63 621.45 L 1618.45 630.08 L 1619.27 641.09 L 1620.09 644.76 L 1620.91 650.91 L 1622.54 653.09 L 1623.36 643.66 L 1624.18 636.73 L 1625 636.53 L 1625.82 636.73 L 1626.63 641.28 L 1627.45 653.09 L 1628.18 651.54 L 1628.91 651.21 L 1629.63 649.82 L 1631.27 634.54 L 1632 629.19 L 1632.73 634.65 L 1633.45 630.18 L 1634.13 626.88 L 1634.82 626.42 L 1635.5 620.8 L 1636.18 621.45 L 1636.86 622.44 L 1637.54 623.92 L 1638.23 622.61 L 1638.91 625.82 L 1639.63 630.3 L 1640.36 639.26 L 1641.09 641.09 L 1641.91 648.85 L 1642.72 660.72 L 1643.54 659.24 L 1644.36 659.63 L 1645.18 656.58 L 1646 656.36 L 1647.09 642.18 L 1647.91 643.74 L 1648.72 647.63 L 1649.45 645.63 L 1650.18 650.48 L 1650.91 648.72 L 1651.63 647.49 L 1652.36 647.59 L 1653.09 645.45 L 1653.91 640.14 L 1654.72 638.91 L 1656.36 653.09 L 1657.18 643.44 L 1658 637.82 L 1658.72 637.55 L 1659.45 643.42 L 1660.18 645.45 L 1661 641.59 L 1661.82 641.09 L 1662.63 636.89 L 1663.45 633.45 L 1664.13 629.56 L 1664.82 629.42 L 1665.5 624.4 L 1666.18 624.73 L 1667 623.94 L 1667.81 623.63 L 1668.63 618.29 L 1669.45 613.82 L 1670.27 618.74 L 1671.09 625.82 L 1672.72 634.54 L 1673.45 635.08 L 1674.18 640.86 L 1674.91 643.27 L 1675.63 642.06 L 1676.36 643.2 L 1677.09 641.09 L 1677.91 640.45 L 1678.72 643.27 L 1679.81 631.27 L 1680.63 633.3 L 1681.45 641.09 L 1682.27 638.31 L 1683.09 637.82 L 1683.91 630.39 L 1684.72 626.91 L 1685.54 627.73 L 1686.36 634.54 L 1687.18 633.7 L 1688 633.45 L 1688.81 629.75 L 1689.63 630.18 L 1690.45 631.8 L 1691.27 641.09 L 1692 640.9 L 1692.72 644.71 L 1693.45 645.45 L 1694.18 643.5 L 1694.9 649.61 L 1695.63 646.54 L 1696.36 644.93 L 1697.09 645.73 L 1697.81 644.36 L 1698.54 643.87 L 1699.27 645.43 L 1700 645.45 L 1701.09 633.45 L 1701.81 629.61 L 1702.54 630.61 L 1703.27 626.91 L 1704.09 622.08 L 1705.63 622.98 L 1706.36 625.64 L 1707.09 625.82 L 1707.9 624.2 L 1709.54 629.85 L 1710.36 634.54 L 1711.45 616 L 1712.27 612.79 L 1713.09 613.82 L 1713.81 616.8 L 1714.54 625.16 L 1715.27 623.63 L 1717.45 625.82 L 1718.18 624.25 L 1718.9 623.31 L 1719.63 621.45 L 1720.72 622.54 L 1721.27 647.63 L 1722.09 636.12 L 1722.9 634.54 L 1723.99 642.18 L 1725.09 636.73 L 1726.18 652 L 1726.72 655.27 L 1726.72 655.27 " clip-path="url(#p23889eedd7)" style="fill: none; stroke: #ff0000; stroke-width: 2.4; stroke-linecap: square"/>
</g>
<g id="line2d_317">
<path d="M 1206 629.48 L 1206.45 623.92 L 1206.9 641.62 L 1207.35 639.15 L 1207.8 637.81 L 1208.25 630.04 L 1208.7 641.5 L 1209.15 642.36 L 1209.6 649.49 L 1210.05 648.01 L 1210.5 647.94 L 1210.95 643.19 L 1211.4 642.06 L 1211.85 634.07 L 1212.75 629.92 L 1213.2 641.61 L 1213.65 644.88 L 1214.1 646.3 L 1214.55 633.7 L 1215.45 656.22 L 1215.9 674.77 L 1216.35 661.22 L 1216.8 661.55 L 1217.25 652.37 L 1217.7 658.62 L 1218.15 656.47 L 1218.6 667.2 L 1219.05 666.05 L 1219.5 661.85 L 1219.95 649.5 L 1220.4 645.09 L 1220.85 639.35 L 1221.3 639.74 L 1221.75 635.22 L 1222.2 639.37 L 1222.65 635.47 L 1223.1 638.75 L 1223.55 633.45 L 1224 638.68 L 1224.45 633.23 L 1224.9 632.9 L 1225.35 624.56 L 1225.8 626.88 L 1226.25 632.26 L 1226.7 641.37 L 1227.15 642.15 L 1227.6 648.3 L 1228.05 646.24 L 1228.5 650.72 L 1228.95 644.48 L 1229.4 641.95 L 1229.85 634.85 L 1230.3 635.21 L 1230.75 628.89 L 1231.2 631.85 L 1231.65 626.45 L 1232.1 631.43 L 1232.55 629.4 L 1233 634.46 L 1233.45 635.83 L 1233.9 642.13 L 1234.35 635.68 L 1234.8 636.1 L 1235.25 631.12 L 1235.7 636.53 L 1236.15 628.96 L 1236.6 639.28 L 1237.05 634.61 L 1237.5 641.14 L 1237.95 637.54 L 1238.4 645.09 L 1238.85 642.57 L 1239.3 648.28 L 1239.75 647.55 L 1240.2 647.95 L 1240.65 645.06 L 1241.1 644.76 L 1241.55 640.99 L 1242 641.67 L 1242.45 635.12 L 1242.9 643.83 L 1243.35 636.37 L 1243.8 642.42 L 1244.25 642.51 L 1244.7 650.08 L 1245.15 642.91 L 1245.6 642 L 1246.05 638.41 L 1246.5 648.53 L 1247.4 647.33 L 1247.85 639.66 L 1248.3 637.86 L 1248.75 630.29 L 1249.2 634.37 L 1249.65 627.1 L 1250.1 628.72 L 1250.55 627.88 L 1251 632.95 L 1251.45 628.62 L 1251.9 637.6 L 1252.35 636.3 L 1252.8 642.62 L 1253.25 637.79 L 1253.7 644.24 L 1254.15 635.01 L 1254.6 637.08 L 1255.05 632.5 L 1255.5 634.5 L 1255.95 629.24 L 1256.4 629.13 L 1256.85 628 L 1257.3 630.55 L 1257.75 624.57 L 1258.2 628.29 L 1258.65 622.89 L 1259.1 628.67 L 1259.55 624.29 L 1260 629.25 L 1260.45 626.96 L 1260.9 636.05 L 1261.35 631.73 L 1261.8 637.37 L 1262.25 636.36 L 1262.7 636.03 L 1263.15 632.62 L 1263.6 633.71 L 1264.05 630.35 L 1264.5 636.89 L 1264.95 627.57 L 1265.4 639.85 L 1265.85 635.53 L 1266.3 634.11 L 1266.75 629.27 L 1267.2 631.55 L 1267.65 626.53 L 1268.1 631.41 L 1268.55 629.71 L 1269 636.9 L 1269.45 632.97 L 1269.9 641.17 L 1270.35 640.59 L 1270.8 645.01 L 1271.25 643.95 L 1271.7 651.4 L 1272.15 650.26 L 1273.05 659.36 L 1273.5 667.42 L 1273.95 672.9 L 1274.4 673.63 L 1274.85 659.62 L 1275.3 652.69 L 1275.75 658.64 L 1276.2 675.08 L 1276.65 665.24 L 1277.1 662.67 L 1277.55 651.62 L 1278 657.53 L 1278.45 648.11 L 1278.9 654.14 L 1279.35 638.93 L 1280.25 645 L 1280.7 659.48 L 1281.15 648.3 L 1281.6 651.24 L 1281.6 651.24 " clip-path="url(#p23889eedd7)" style="fill: none; stroke: #ff0000; stroke-width: 1.3; stroke-linecap: square"/>
</g>
<g id="line2d_318">
<path d="M 1318.9 635.21 L 1319.35 638.74 L 1319.8 635.12 L 1320.25 624.98 L 1321.15 614.77 L 1321.6 617.34 L 1322.05 612.94 L 1322.5 616.77 L 1322.95 612.13 L 1323.4 630 L 1323.85 629.79 L 1324.3 640.51 L 1324.75 639.26 L 1325.2 646.84 L 1325.65 640.86 L 1326.1 652.7 L 1326.55 650.35 L 1327 648.63 L 1327.45 640.16 L 1327.9 641.44 L 1328.35 638.35 L 1328.8 647.06 L 1329.25 647.34 L 1329.7 655.41 L 1330.15 647.91 L 1330.6 649.4 L 1331.05 636.96 L 1331.5 650.84 L 1331.95 642.59 L 1332.4 649.35 L 1332.85 644.89 L 1333.75 641.73 L 1334.2 666.06 L 1334.65 658.6 L 1335.1 653.73 L 1335.55 642.29 L 1336 634.11 L 1336.45 623.17 L 1336.9 653.82 L 1337.35 667.15 L 1337.8 667.52 L 1338.25 654.5 L 1338.7 649.33 L 1339.15 641.76 L 1339.6 638.1 L 1340.05 630.18 L 1340.5 649.38 L 1340.95 652.13 L 1341.4 652.83 L 1341.85 645.59 L 1342.3 654.8 L 1342.75 657.41 L 1343.2 661.2 L 1343.65 644.57 L 1344.1 648.57 L 1344.55 637.99 L 1345 640.73 L 1345.45 633.4 L 1345.9 635.01 L 1346.35 628.3 L 1346.8 632.88 L 1347.25 624.51 L 1347.7 624.59 L 1348.15 628.05 L 1348.6 639.35 L 1349.05 646 L 1349.5 649.03 L 1349.95 647.16 L 1350.4 653.79 L 1350.85 648.31 L 1351.3 647.04 L 1351.75 640.11 L 1352.2 638.85 L 1352.65 631.78 L 1353.1 631.15 L 1353.55 634.44 L 1354 644.99 L 1354.45 648.87 L 1354.9 649.83 L 1355.35 648.28 L 1355.8 648.04 L 1356.25 644.32 L 1356.7 652.86 L 1357.15 645.28 L 1357.6 650.73 L 1358.05 643.24 L 1358.5 644.31 L 1358.95 642.75 L 1359.4 644.81 L 1359.85 642.22 L 1360.3 650.78 L 1360.75 641.15 L 1361.2 645.28 L 1361.65 632.9 L 1362.1 632.48 L 1362.55 623.71 L 1363 629.79 L 1363.45 615.08 L 1363.9 616.08 L 1364.35 608.84 L 1365.25 598.64 L 1365.7 601.29 L 1366.15 598.4 L 1366.6 604.28 L 1367.05 600.81 L 1367.5 606.25 L 1367.95 604.48 L 1368.4 603.57 L 1368.85 599.21 L 1369.3 602.5 L 1369.75 601.96 L 1370.2 607 L 1370.65 604.57 L 1371.1 604.24 L 1371.55 602.44 L 1372 605.84 L 1372.45 597.44 L 1372.9 599.14 L 1373.35 594.46 L 1373.8 613.46 L 1374.25 621.58 L 1374.7 624.11 L 1375.15 620.61 L 1375.6 628.04 L 1376.05 625.1 L 1376.95 634.9 L 1377.4 652.46 L 1377.85 657.01 L 1378.3 654.26 L 1378.75 648.83 L 1379.2 647.03 L 1379.65 643.05 L 1380.1 643.43 L 1380.55 632.63 L 1381 629.73 L 1381.45 621.51 L 1382.35 626.4 L 1382.8 636.82 L 1383.25 637.58 L 1383.7 643.57 L 1384.15 642.77 L 1384.6 642.88 L 1385.05 625.88 L 1385.5 619.35 L 1385.95 610.46 L 1386.4 614.59 L 1386.85 609.12 L 1387.3 614.25 L 1387.75 609.81 L 1388.2 615.92 L 1388.65 615.47 L 1389.1 624.6 L 1389.55 617.7 L 1390 622.89 L 1390.45 619.61 L 1390.9 626.57 L 1391.35 616.76 L 1391.8 615.88 L 1392.25 608.45 L 1392.7 619.55 L 1393.15 619.98 L 1393.6 624.75 L 1394.05 624.66 L 1394.5 627.17 L 1394.95 624.34 L 1395.4 622.48 L 1395.85 617.17 L 1396.3 618.25 L 1396.75 614.56 L 1397.2 617.73 L 1397.65 614.96 L 1398.1 623.32 L 1398.55 616.15 L 1399 618.5 L 1399.45 611.85 L 1399.9 616.4 L 1400.35 618.5 L 1400.8 628.34 L 1401.25 620.19 L 1401.7 614.41 L 1402.15 607.03 L 1402.6 611.6 L 1403.05 609.91 L 1403.5 614.9 L 1403.95 613.92 L 1404.4 617.17 L 1404.85 616.14 L 1405.3 621.46 L 1405.75 617.04 L 1406.2 618.27 L 1406.65 618.84 L 1407.1 624.89 L 1407.55 621.87 L 1408 628.08 L 1408.45 625.4 L 1408.9 630.87 L 1409.35 623.54 L 1409.8 623.41 L 1410.25 615.87 L 1410.7 627.08 L 1411.15 624.67 L 1411.6 632.21 L 1412.05 623.51 L 1412.5 620.73 L 1412.95 612.78 L 1413.4 620.25 L 1413.85 620.61 L 1414.3 626.91 L 1414.75 623.61 L 1415.2 630.76 L 1415.65 618.07 L 1416.1 620.39 L 1416.55 620.65 L 1417 627.8 L 1417.45 626.63 L 1417.9 633.84 L 1418.35 625.4 L 1418.8 626.27 L 1419.25 623.25 L 1419.7 627.24 L 1420.15 625.33 L 1420.6 630.17 L 1421.05 622.79 L 1421.5 630.87 L 1421.95 625.94 L 1422.4 627.91 L 1422.85 620.8 L 1423.3 628.57 L 1423.75 627.55 L 1424.2 632.9 L 1424.65 630.56 L 1425.1 635.9 L 1425.55 633.03 L 1426 634.44 L 1426.45 627.61 L 1426.9 631.67 L 1427.35 631.97 L 1427.8 635.07 L 1428.25 635.56 L 1428.7 640.89 L 1429.15 633.89 L 1429.6 637.97 L 1430.05 629.47 L 1430.5 630.36 L 1430.95 627.47 L 1431.4 628.93 L 1431.85 619.79 L 1432.3 629.61 L 1432.75 630.27 L 1433.2 634.47 L 1433.65 629.26 L 1434.1 631.8 L 1434.55 625.94 L 1435 629.1 L 1435.45 627.14 L 1435.9 638.71 L 1436.35 636.05 L 1436.8 641.49 L 1437.25 639.15 L 1437.7 642.02 L 1438.15 638.89 L 1438.6 642.23 L 1439.05 637.59 L 1439.5 639.29 L 1439.95 634.46 L 1440.4 638.18 L 1440.85 632.6 L 1441.3 636.53 L 1441.75 631.71 L 1442.2 635.82 L 1442.65 632.3 L 1443.1 635.64 L 1443.55 632.29 L 1444 632.67 L 1444.45 628.93 L 1444.9 636.67 L 1445.35 635.55 L 1445.8 640.97 L 1446.25 632.62 L 1446.7 638.6 L 1447.15 629.42 L 1447.6 633.11 L 1448.05 634.57 L 1448.5 640.12 L 1448.95 640.32 L 1449.4 640.3 L 1449.85 635.52 L 1450.3 638.49 L 1450.75 634.29 L 1451.2 635.07 L 1451.65 631.02 L 1452.1 634.01 L 1452.55 630.83 L 1453 635.11 L 1453.45 629.74 L 1453.9 643.78 L 1454.35 635.01 L 1454.8 646.75 L 1455.25 640.15 L 1455.7 640.18 L 1456.15 636.69 L 1457.05 634.14 L 1457.5 637.54 L 1457.95 632.68 L 1458.4 645.02 L 1458.85 640.28 L 1459.3 655.6 L 1459.75 648.41 L 1460.2 645.23 L 1460.65 639.39 L 1461.1 643.78 L 1461.55 638.63 L 1462 643.38 L 1462.45 642.65 L 1462.9 646.52 L 1463.35 639.19 L 1463.8 646.04 L 1464.25 646.04 L 1464.7 651.6 L 1465.15 651.71 L 1465.6 657.4 L 1466.05 654.6 L 1466.5 653.92 L 1466.95 650.97 L 1467.4 656.38 L 1467.85 649.16 L 1468.3 654.93 L 1468.75 654.96 L 1469.2 657.04 L 1469.65 652.97 L 1470.1 663.35 L 1470.55 654.65 L 1471 654.44 L 1471.45 647.28 L 1471.9 658.01 L 1472.35 646.96 L 1472.8 651.2 L 1473.25 646.72 L 1473.7 650.6 L 1474.15 645.57 L 1474.6 655.62 L 1475.05 654.61 L 1475.5 659.68 L 1475.95 659.21 L 1476.4 667.59 L 1476.85 660.45 L 1477.3 660.74 L 1477.75 654.96 L 1478.2 657.33 L 1478.65 654.57 L 1479.1 657.19 L 1479.55 653.82 L 1480 658.91 L 1480.45 656.22 L 1480.9 661.58 L 1481.35 660.14 L 1481.8 668.52 L 1482.25 665.04 L 1482.7 669.84 L 1483.15 670.4 L 1483.6 674.66 L 1484.05 672.39 L 1484.5 674.62 L 1484.95 667.63 L 1485.4 667.85 L 1485.85 666.21 L 1486.3 668.8 L 1486.75 668.56 L 1487.2 672.7 L 1487.65 664.58 L 1488.1 663.14 L 1488.55 652.11 L 1489 658.52 L 1489.45 655.26 L 1489.9 660.75 L 1490.35 659.78 L 1490.8 665.74 L 1491.25 658.25 L 1491.7 660.62 L 1492.15 657.84 L 1492.6 663.51 L 1493.05 658.22 L 1493.5 664.43 L 1493.95 662.32 L 1494.4 663.2 L 1494.85 660.29 L 1495.3 661.66 L 1495.75 653.9 L 1496.2 660.34 L 1496.65 659.21 L 1497.1 668.83 L 1497.55 670.74 L 1498 678.19 L 1498.45 683.2 L 1498.9 682.56 L 1499.35 676.66 L 1499.8 676.43 L 1500.25 671.44 L 1500.7 668.41 L 1501.15 657.82 L 1501.6 658.63 L 1502.05 651.68 L 1502.5 654.15 L 1502.95 650.73 L 1503.4 651.91 L 1503.85 647.95 L 1504.3 647.08 L 1504.75 635.97 L 1505.2 640.84 L 1505.65 628.42 L 1506.1 639.31 L 1506.55 642.39 L 1507 651.87 L 1507.45 650.7 L 1507.9 648.9 L 1508.35 642.57 L 1508.8 642.2 L 1509.25 639.62 L 1509.7 642.3 L 1510.15 633.45 L 1510.6 643.42 L 1511.05 638.1 L 1511.5 640.79 L 1511.95 636.96 L 1512.4 637.09 L 1512.85 633.04 L 1513.3 632.1 L 1513.75 632.15 L 1514.2 638.76 L 1514.65 638.72 L 1515.1 644.63 L 1515.55 646.11 L 1516 652.03 L 1516.45 645.47 L 1516.9 647.82 L 1517.35 641.06 L 1517.8 643.24 L 1518.25 637.51 L 1518.7 640.36 L 1519.15 632.83 L 1519.6 634.91 L 1520.05 634.44 L 1520.5 637.96 L 1520.95 633.34 L 1521.4 643.31 L 1521.85 637.72 L 1522.3 642.36 L 1522.75 638.76 L 1523.2 638.33 L 1523.65 635.16 L 1524.1 633.88 L 1524.55 634.9 L 1525 639.41 L 1525.45 635.21 L 1525.9 643.24 L 1526.35 636.89 L 1526.8 637.84 L 1527.25 632.37 L 1527.7 634.2 L 1528.15 634.47 L 1528.6 641.71 L 1529.05 637.13 L 1529.5 641.61 L 1529.95 641.44 L 1530.4 645.57 L 1530.85 639.14 L 1531.3 636.11 L 1531.75 624.21 L 1532.2 628.3 L 1532.65 624.52 L 1533.1 627.77 L 1533.55 621.57 L 1534 629.59 L 1534.45 631.77 L 1534.9 641.13 L 1535.35 637.5 L 1535.8 635.85 L 1536.25 631.34 L 1536.7 631.42 L 1537.15 632.7 L 1537.6 636.69 L 1538.05 639.18 L 1538.5 651.51 L 1538.95 649.59 L 1539.4 654.44 L 1539.85 654.61 L 1540.3 659.96 L 1540.75 654.78 L 1541.2 655.59 L 1541.65 645.76 L 1542.1 648.72 L 1542.55 645.02 L 1543 654.8 L 1543.45 653.65 L 1543.9 661.92 L 1544.35 656.95 L 1544.8 659.68 L 1545.25 660.85 L 1545.7 664.08 L 1546.15 657.97 L 1546.6 658.09 L 1547.05 654.27 L 1547.5 655.03 L 1547.95 651.6 L 1548.4 653.13 L 1548.85 647.57 L 1549.3 655.06 L 1549.75 653.67 L 1550.2 657.41 L 1550.65 652.93 L 1551.1 657.55 L 1551.55 653.48 L 1552 660.27 L 1552.45 653.98 L 1552.9 652.15 L 1553.35 645.93 L 1553.8 647.85 L 1554.7 658.47 L 1555.6 676.17 L 1556.05 667.8 L 1556.5 670.72 L 1556.95 666.08 L 1557.4 668.75 L 1557.85 666.17 L 1558.3 666.97 L 1558.75 660.61 L 1559.2 663.32 L 1559.65 662.8 L 1560.1 665.57 L 1560.55 661.87 L 1561 669.99 L 1561.45 666.3 L 1561.9 667.41 L 1562.35 663.94 L 1562.8 667.22 L 1563.25 661.75 L 1563.7 661.33 L 1564.15 655.28 L 1564.6 651.91 L 1565.05 645.21 L 1565.95 660.68 L 1566.4 668.45 L 1566.85 663.69 L 1567.3 665.26 L 1567.75 658.41 L 1568.2 665.06 L 1568.65 662.53 L 1569.1 666.84 L 1569.55 666.2 L 1570 667.43 L 1570.45 661.7 L 1570.9 663.21 L 1571.35 655.99 L 1571.8 658.51 L 1572.25 656.45 L 1572.7 657.73 L 1573.15 653.35 L 1573.6 659.08 L 1574.05 656.35 L 1574.5 658.56 L 1574.95 655.94 L 1575.4 659.77 L 1575.85 653.5 L 1576.3 657.48 L 1576.75 653.87 L 1577.2 657.77 L 1577.65 651.17 L 1578.1 655.44 L 1578.55 649.44 L 1579 653.5 L 1579.45 648.67 L 1579.9 653.6 L 1580.35 645.45 L 1580.8 651.39 L 1581.25 648.88 L 1581.7 653.58 L 1582.15 650.65 L 1582.6 651.34 L 1583.05 646.15 L 1583.5 648.03 L 1583.95 644.64 L 1584.85 655.83 L 1585.3 664.39 L 1585.75 659.53 L 1586.2 661.04 L 1586.65 654.47 L 1587.1 660.43 L 1587.55 656 L 1588 663.94 L 1588.45 658.31 L 1588.9 666.37 L 1589.35 658.14 L 1589.8 664.75 L 1590.25 664.36 L 1590.7 668.3 L 1591.15 666.18 L 1591.6 672.19 L 1592.05 667.09 L 1592.5 671.35 L 1592.95 660.9 L 1593.4 666.62 L 1593.85 662.16 L 1594.3 664.01 L 1594.75 655.02 L 1595.2 664.41 L 1595.65 657.66 L 1596.1 665.24 L 1596.55 662.53 L 1597 668.06 L 1597.45 666.02 L 1597.9 666.55 L 1598.35 662.56 L 1598.8 664.74 L 1599.25 658.07 L 1599.7 663.95 L 1600.15 655.97 L 1600.6 656.87 L 1601.05 650.39 L 1601.5 649.88 L 1601.95 640.24 L 1602.4 644.5 L 1602.85 643.69 L 1603.75 647.44 L 1604.2 655.27 L 1604.65 649.54 L 1605.1 657.34 L 1606 637.86 L 1606.45 634.19 L 1606.9 642.12 L 1607.35 640.36 L 1607.8 648.26 L 1608.25 639.39 L 1608.7 645.57 L 1609.15 636.12 L 1609.6 637.38 L 1610.05 634.92 L 1610.5 641.25 L 1610.95 641.38 L 1611.4 644.81 L 1611.85 638.39 L 1612.3 637.37 L 1612.75 632.73 L 1613.2 637.22 L 1613.65 628.29 L 1614.1 635.57 L 1614.55 626.52 L 1615 628.8 L 1615.45 624.24 L 1615.9 626.36 L 1616.35 622.06 L 1616.8 623.69 L 1617.25 619.49 L 1617.7 623.64 L 1618.15 623.49 L 1618.6 633.79 L 1619.05 635.8 L 1619.5 643.57 L 1619.95 644.93 L 1620.4 651.23 L 1620.85 647.55 L 1621.3 652.87 L 1621.75 652.02 L 1622.2 653.87 L 1622.65 650.56 L 1623.1 650.47 L 1623.55 642.62 L 1624 639.35 L 1624.45 633.69 L 1624.9 637.34 L 1625.35 635.37 L 1625.8 639.19 L 1626.25 638.65 L 1626.7 647.94 L 1627.15 649.33 L 1627.6 653.09 L 1628.05 650.75 L 1628.5 653.53 L 1628.95 648.99 L 1629.4 650.89 L 1629.85 646.78 L 1630.3 645.51 L 1630.75 636.65 L 1631.2 637.16 L 1631.65 633.7 L 1632.1 636.64 L 1632.55 631.07 L 1633 632.56 L 1633.45 630.01 L 1633.9 629.56 L 1634.35 626.84 L 1634.8 629.16 L 1635.25 618.99 L 1635.7 626.81 L 1636.15 619.98 L 1636.6 623.23 L 1637.05 622.02 L 1637.5 626.09 L 1637.95 623.87 L 1638.4 625.15 L 1638.85 618.58 L 1639.3 631.9 L 1639.75 631.29 L 1640.2 638.71 L 1640.65 637.57 L 1641.1 642.1 L 1641.55 645.26 L 1642 657.58 L 1642.45 657.29 L 1642.9 665.75 L 1643.35 659.98 L 1643.8 664.39 L 1644.25 657.54 L 1644.7 661.8 L 1645.15 657.19 L 1645.6 661.02 L 1646.05 655.14 L 1646.5 652.91 L 1646.95 641.3 L 1647.4 644.78 L 1647.85 644.08 L 1648.3 647.52 L 1648.75 647.45 L 1649.2 648.75 L 1649.65 647.56 L 1650.1 649.84 L 1650.55 648.33 L 1651 649.31 L 1651.45 645.06 L 1651.9 647.73 L 1652.35 646.3 L 1652.8 647.08 L 1653.25 643.88 L 1653.7 645.71 L 1654.15 637.91 L 1654.6 640.04 L 1655.05 641.38 L 1655.5 645.93 L 1655.95 648.1 L 1656.4 656 L 1656.85 647.78 L 1657.3 644.62 L 1657.75 638.48 L 1658.2 641.38 L 1658.65 637.28 L 1659.1 644.26 L 1659.55 640.77 L 1660 650.33 L 1660.45 643.11 L 1660.9 646.67 L 1661.35 638.88 L 1661.8 642.81 L 1662.25 634.83 L 1662.7 639.29 L 1663.15 632.01 L 1663.6 639.86 L 1664.05 628.84 L 1664.5 635.51 L 1664.95 626.96 L 1665.4 628.99 L 1665.85 623.24 L 1666.3 628.08 L 1666.75 621.4 L 1667.2 624.77 L 1667.65 618.61 L 1668.1 626.69 L 1668.55 616.27 L 1669 622.97 L 1669.45 609.99 L 1669.9 619.36 L 1670.35 619.91 L 1670.8 623.76 L 1671.25 622.58 L 1671.7 629.37 L 1672.15 631.04 L 1672.6 635.07 L 1673.05 631.67 L 1673.5 639.26 L 1673.95 639.17 L 1674.4 643.34 L 1674.85 642.65 L 1675.3 643.79 L 1675.75 641.3 L 1676.2 645.75 L 1676.65 639.38 L 1677.1 641.87 L 1677.55 636.06 L 1678 646.72 L 1678.45 641.73 L 1678.9 645.87 L 1679.35 634.77 L 1679.8 634.97 L 1680.25 631.8 L 1680.7 636.79 L 1681.15 637.13 L 1681.6 642.73 L 1682.05 639.21 L 1682.5 639.92 L 1682.95 637.9 L 1683.4 638.42 L 1683.85 629.13 L 1684.3 630.04 L 1684.75 624.24 L 1685.2 629.73 L 1685.65 630.32 L 1686.1 633.46 L 1686.55 631.57 L 1687 635.05 L 1687.45 631.8 L 1687.9 634.8 L 1688.35 629.42 L 1688.8 634.36 L 1689.25 626.8 L 1689.7 632.35 L 1690.15 633.45 L 1690.6 639.35 L 1691.05 639.26 L 1691.5 643.82 L 1691.95 640.16 L 1692.4 646.47 L 1692.85 641.86 L 1693.3 645.32 L 1693.75 643.88 L 1694.2 648.19 L 1694.65 644.23 L 1695.1 646.29 L 1695.55 645.14 L 1696 649.84 L 1696.45 643.37 L 1696.9 648.55 L 1697.35 643.6 L 1697.8 645.06 L 1698.25 641.12 L 1698.7 644.83 L 1699.15 644.23 L 1699.6 647.34 L 1700.05 644.12 L 1700.5 642.99 L 1700.95 634.21 L 1701.4 635.64 L 1701.85 628.89 L 1702.3 630.65 L 1702.75 628.35 L 1703.2 629 L 1703.65 623.48 L 1704.1 626.66 L 1704.55 622.17 L 1705 622.73 L 1705.45 622.79 L 1705.9 629.93 L 1706.35 623.55 L 1706.8 628.48 L 1707.25 625.31 L 1707.7 627.3 L 1708.15 626.15 L 1708.6 628.8 L 1709.05 625.64 L 1709.5 630.87 L 1709.95 632.15 L 1710.4 636.33 L 1710.85 624.77 L 1711.3 620.34 L 1711.75 612.62 L 1712.2 620.67 L 1712.65 612.59 L 1713.1 614.46 L 1713.55 613.35 L 1714 618.12 L 1714.45 616.18 L 1714.9 624 L 1715.35 622.67 L 1715.8 625.73 L 1716.25 624.02 L 1716.7 628.37 L 1717.15 620.93 L 1717.6 626.72 L 1718.05 621.52 L 1718.5 625.99 L 1718.95 620.62 L 1719.4 626.76 L 1719.85 621.43 L 1720.3 623.38 L 1720.75 619.48 L 1721.2 649.4 L 1721.65 644.29 L 1722.1 643.37 L 1722.55 636.62 L 1723 636.77 L 1723.45 638.22 L 1723.9 643.6 L 1724.35 638.86 L 1724.8 639.08 L 1725.25 635.3 L 1725.7 645.85 L 1726.6 655.86 L 1726.6 655.86 " clip-path="url(#p23889eedd7)" style="fill: none; stroke: #ff0000; stroke-width: 1.3; stroke-linecap: square"/>
</g>
</g>
<g id="axes_9">
<g id="patch_109">
<path d="M 1205 1017 L 1800 1017 L 1800 845 L 1205 845 z
" style="fill: #ffffff"/>
</g>
<g id="line2d_319">
<path d="M 1205 931 L 1800 931 " clip-path="url(#p95d725dcbf)" style="fill: none; stroke-dasharray: 2,3.3; stroke-dashoffset: 0; stroke: #000000; stroke-width: 2"/>
</g>
<g id="matplotlib.axis_15">
<g id="xtick_41">
<g id="line2d_320">
<g>
<use href="#mdc1538e322" x="1245.29" y="1017" style="stroke: #000000; stroke-width: 1.3"/>
</g>
</g>
<g id="text_77">
<text style="font-size: 21.20px; font-family: 'Liberation Sans', sans-serif; text-anchor: middle" x="1245.286458" y="1038.196875" transform="rotate(-0 1245.286458 1038.196875)" textLength="25.45" lengthAdjust="spacingAndGlyphs">24</text>
</g>
</g>
<g id="xtick_42">
<g id="line2d_321">
<g>
<use href="#mdc1538e322" x="1319.66" y="1017" style="stroke: #000000; stroke-width: 1.3"/>
</g>
</g>
<g id="text_78">
<text style="font-size: 21.20px; font-family: 'Liberation Sans', sans-serif; text-anchor: middle" x="1319.661458" y="1038.196875" transform="rotate(-0 1319.661458 1038.196875)" textLength="25.45" lengthAdjust="spacingAndGlyphs">25</text>
</g>
</g>
<g id="xtick_43">
<g id="line2d_322">
<g>
<use href="#mdc1538e322" x="1394.04" y="1017" style="stroke: #000000; stroke-width: 1.3"/>
</g>
</g>
<g id="text_79">
<text style="font-size: 21.20px; font-family: 'Liberation Sans', sans-serif; text-anchor: middle" x="1394.036458" y="1038.196875" transform="rotate(-0 1394.036458 1038.196875)" textLength="25.45" lengthAdjust="spacingAndGlyphs">26</text>
</g>
</g>
<g id="xtick_44">
<g id="line2d_323">
<g>
<use href="#mdc1538e322" x="1468.41" y="1017" style="stroke: #000000; stroke-width: 1.3"/>
</g>
</g>
<g id="text_80">
<text style="font-size: 21.20px; font-family: 'Liberation Sans', sans-serif; text-anchor: middle" x="1468.411458" y="1038.196875" transform="rotate(-0 1468.411458 1038.196875)" textLength="25.45" lengthAdjust="spacingAndGlyphs">27</text>
</g>
</g>
<g id="xtick_45">
<g id="line2d_324">
<g>
<use href="#mdc1538e322" x="1542.79" y="1017" style="stroke: #000000; stroke-width: 1.3"/>
</g>
</g>
<g id="text_81">
<text style="font-size: 21.20px; font-family: 'Liberation Sans', sans-serif; text-anchor: middle" x="1542.786458" y="1038.196875" transform="rotate(-0 1542.786458 1038.196875)" textLength="25.45" lengthAdjust="spacingAndGlyphs">28</text>
</g>
</g>
<g id="xtick_46">
<g id="line2d_325">
<g>
<use href="#mdc1538e322" x="1617.16" y="1017" style="stroke: #000000; stroke-width: 1.3"/>
</g>
</g>
<g id="text_82">
<text style="font-size: 21.20px; font-family: 'Liberation Sans', sans-serif; text-anchor: middle" x="1617.161458" y="1038.196875" transform="rotate(-0 1617.161458 1038.196875)" textLength="25.45" lengthAdjust="spacingAndGlyphs">29</text>
</g>
</g>
<g id="xtick_47">
<g id="line2d_326">
<g>
<use href="#mdc1538e322" x="1691.54" y="1017" style="stroke: #000000; stroke-width: 1.3"/>
</g>
</g>
<g id="text_83">
<text style="font-size: 21.20px; font-family: 'Liberation Sans', sans-serif; text-anchor: middle" x="1691.536458" y="1038.196875" transform="rotate(-0 1691.536458 1038.196875)" textLength="25.45" lengthAdjust="spacingAndGlyphs">30</text>
</g>
</g>
<g id="xtick_48">
<g id="line2d_327">
<g>
<use href="#mdc1538e322" x="1765.91" y="1017" style="stroke: #000000; stroke-width: 1.3"/>
</g>
</g>
<g id="text_84">
<text style="font-size: 21.20px; font-family: 'Liberation Sans', sans-serif; text-anchor: middle" x="1765.911458" y="1038.196875" transform="rotate(-0 1765.911458 1038.196875)" textLength="25.45" lengthAdjust="spacingAndGlyphs">31</text>
</g>
</g>
</g>
<g id="matplotlib.axis_16">
<g id="ytick_180">
<g id="line2d_328">
<g>
<use href="#m0a4a72b5c7" x="1205" y="1017" style="stroke: #000000; stroke-width: 1.3"/>
</g>
</g>
<g id="line2d_329">
<g>
<use href="#m71070be67f" x="1800" y="1017" style="stroke: #000000; stroke-width: 1.3"/>
</g>
</g>
<g id="text_85">
<!-- $\mathdefault{10^{-1}}$ -->
<g transform="translate(1153 1024.598438)">
<text x="0" y="1.161" style="font-size: 22.47px; font-family: 'Liberation Sans', sans-serif" textLength="12.72" lengthAdjust="spacingAndGlyphs" textLength="13.49" lengthAdjust="spacingAndGlyphs">1</text>
<text x="12.724609" y="1.161" style="font-size: 22.47px; font-family: 'Liberation Sans', sans-serif" textLength="12.72" lengthAdjust="spacingAndGlyphs" textLength="13.49" lengthAdjust="spacingAndGlyphs">0</text>
<text x="25.640625" y="-5.295" style="font-size: 15.73px; font-family: 'Liberation Sans', sans-serif" textLength="11.73" lengthAdjust="spacingAndGlyphs" textLength="12.43" lengthAdjust="spacingAndGlyphs">−</text>
<text x="37.371094" y="-5.295" style="font-size: 15.73px; font-family: 'Liberation Sans', sans-serif" textLength="8.91" lengthAdjust="spacingAndGlyphs" textLength="9.44" lengthAdjust="spacingAndGlyphs">1</text>
</g>
</g>
</g>
<g id="ytick_181">
<g id="line2d_330">
<g>
<use href="#m0a4a72b5c7" x="1205" y="974" style="stroke: #000000; stroke-width: 1.3"/>
</g>
</g>
<g id="line2d_331">
<g>
<use href="#m71070be67f" x="1800" y="974" style="stroke: #000000; stroke-width: 1.3"/>
</g>
</g>
<g id="text_86">
<!-- $\mathdefault{10^{0}}$ -->
<g transform="translate(1164.8 981.598438)">
<text x="0" y="0.347" style="font-size: 22.47px; font-family: 'Liberation Sans', sans-serif" textLength="12.72" lengthAdjust="spacingAndGlyphs" textLength="13.49" lengthAdjust="spacingAndGlyphs">1</text>
<text x="12.724609" y="0.347" style="font-size: 22.47px; font-family: 'Liberation Sans', sans-serif" textLength="12.72" lengthAdjust="spacingAndGlyphs" textLength="13.49" lengthAdjust="spacingAndGlyphs">0</text>
<text x="25.640625" y="-6.109" style="font-size: 15.73px; font-family: 'Liberation Sans', sans-serif" textLength="8.91" lengthAdjust="spacingAndGlyphs" textLength="9.44" lengthAdjust="spacingAndGlyphs">0</text>
</g>
</g>
</g>
<g id="ytick_182">
<g id="line2d_332">
<g>
<use href="#m0a4a72b5c7" x="1205" y="931" style="stroke: #000000; stroke-width: 1.3"/>
</g>
</g>
<g id="line2d_333">
<g>
<use href="#m71070be67f" x="1800" y="931" style="stroke: #000000; stroke-width: 1.3"/>
</g>
</g>
<g id="text_87">
<!-- $\mathdefault{10^{1}}$ -->
<g transform="translate(1164.8 938.598438)">
<text x="0" y="1.161" style="font-size: 22.47px; font-family: 'Liberation Sans', sans-serif" textLength="12.72" lengthAdjust="spacingAndGlyphs" textLength="13.49" lengthAdjust="spacingAndGlyphs">1</text>
<text x="12.724609" y="1.161" style="font-size: 22.47px; font-family: 'Liberation Sans', sans-serif" textLength="12.72" lengthAdjust="spacingAndGlyphs" textLength="13.49" lengthAdjust="spacingAndGlyphs">0</text>
<text x="25.640625" y="-5.295" style="font-size: 15.73px; font-family: 'Liberation Sans', sans-serif" textLength="8.91" lengthAdjust="spacingAndGlyphs" textLength="9.44" lengthAdjust="spacingAndGlyphs">1</text>
</g>
</g>
</g>
<g id="ytick_183">
<g id="line2d_334">
<g>
<use href="#m0a4a72b5c7" x="1205" y="888" style="stroke: #000000; stroke-width: 1.3"/>
</g>
</g>
<g id="line2d_335">
<g>
<use href="#m71070be67f" x="1800" y="888" style="stroke: #000000; stroke-width: 1.3"/>
</g>
</g>
<g id="text_88">
<!-- $\mathdefault{10^{2}}$ -->
<g transform="translate(1164.8 895.598438)">
<text x="0" y="0.347" style="font-size: 22.47px; font-family: 'Liberation Sans', sans-serif" textLength="12.72" lengthAdjust="spacingAndGlyphs" textLength="13.49" lengthAdjust="spacingAndGlyphs">1</text>
<text x="12.724609" y="0.347" style="font-size: 22.47px; font-family: 'Liberation Sans', sans-serif" textLength="12.72" lengthAdjust="spacingAndGlyphs" textLength="13.49" lengthAdjust="spacingAndGlyphs">0</text>
<text x="25.640625" y="-6.109" style="font-size: 15.73px; font-family: 'Liberation Sans', sans-serif" textLength="8.91" lengthAdjust="spacingAndGlyphs" textLength="9.44" lengthAdjust="spacingAndGlyphs">2</text>
</g>
</g>
</g>
<g id="ytick_184">
<g id="line2d_336">
<g>
<use href="#m0a4a72b5c7" x="1205" y="845" style="stroke: #000000; stroke-width: 1.3"/>
</g>
</g>
<g id="line2d_337">
<g>
<use href="#m71070be67f" x="1800" y="845" style="stroke: #000000; stroke-width: 1.3"/>
</g>
</g>
<g id="text_89">
<!-- $\mathdefault{10^{3}}$ -->
<g transform="translate(1164.8 852.598438)">
<text x="0" y="0.347" style="font-size: 22.47px; font-family: 'Liberation Sans', sans-serif" textLength="12.72" lengthAdjust="spacingAndGlyphs" textLength="13.49" lengthAdjust="spacingAndGlyphs">1</text>
<text x="12.724609" y="0.347" style="font-size: 22.47px; font-family: 'Liberation Sans', sans-serif" textLength="12.72" lengthAdjust="spacingAndGlyphs" textLength="13.49" lengthAdjust="spacingAndGlyphs">0</text>
<text x="25.640625" y="-6.109" style="font-size: 15.73px; font-family: 'Liberation Sans', sans-serif" textLength="8.91" lengthAdjust="spacingAndGlyphs" textLength="9.44" lengthAdjust="spacingAndGlyphs">3</text>
</g>
</g>
</g>
<g id="ytick_185">
<g id="line2d_338">
<g>
<use href="#mf77e6de68c" x="1205" y="1004.06" style="stroke: #000000; stroke-width: 0.9"/>
</g>
</g>
<g id="line2d_339">
<g>
<use href="#m9f799bd7d2" x="1800" y="1004.06" style="stroke: #000000; stroke-width: 0.9"/>
</g>
</g>
</g>
<g id="ytick_186">
<g id="line2d_340">
<g>
<use href="#mf77e6de68c" x="1205" y="996.48" style="stroke: #000000; stroke-width: 0.9"/>
</g>
</g>
<g id="line2d_341">
<g>
<use href="#m9f799bd7d2" x="1800" y="996.48" style="stroke: #000000; stroke-width: 0.9"/>
</g>
</g>
</g>
<g id="ytick_187">
<g id="line2d_342">
<g>
<use href="#mf77e6de68c" x="1205" y="991.11" style="stroke: #000000; stroke-width: 0.9"/>
</g>
</g>
<g id="line2d_343">
<g>
<use href="#m9f799bd7d2" x="1800" y="991.11" style="stroke: #000000; stroke-width: 0.9"/>
</g>
</g>
</g>
<g id="ytick_188">
<g id="line2d_344">
<g>
<use href="#mf77e6de68c" x="1205" y="986.94" style="stroke: #000000; stroke-width: 0.9"/>
</g>
</g>
<g id="line2d_345">
<g>
<use href="#m9f799bd7d2" x="1800" y="986.94" style="stroke: #000000; stroke-width: 0.9"/>
</g>
</g>
</g>
<g id="ytick_189">
<g id="line2d_346">
<g>
<use href="#mf77e6de68c" x="1205" y="983.54" style="stroke: #000000; stroke-width: 0.9"/>
</g>
</g>
<g id="line2d_347">
<g>
<use href="#m9f799bd7d2" x="1800" y="983.54" style="stroke: #000000; stroke-width: 0.9"/>
</g>
</g>
</g>
<g id="ytick_190">
<g id="line2d_348">
<g>
<use href="#mf77e6de68c" x="1205" y="980.66" style="stroke: #000000; stroke-width: 0.9"/>
</g>
</g>
<g id="line2d_349">
<g>
<use href="#m9f799bd7d2" x="1800" y="980.66" style="stroke: #000000; stroke-width: 0.9"/>
</g>
</g>
</g>
<g id="ytick_191">
<g id="line2d_350">
<g>
<use href="#mf77e6de68c" x="1205" y="978.17" style="stroke: #000000; stroke-width: 0.9"/>
</g>
</g>
<g id="line2d_351">
<g>
<use href="#m9f799bd7d2" x="1800" y="978.17" style="stroke: #000000; stroke-width: 0.9"/>
</g>
</g>
</g>
<g id="ytick_192">
<g id="line2d_352">
<g>
<use href="#mf77e6de68c" x="1205" y="975.97" style="stroke: #000000; stroke-width: 0.9"/>
</g>
</g>
<g id="line2d_353">
<g>
<use href="#m9f799bd7d2" x="1800" y="975.97" style="stroke: #000000; stroke-width: 0.9"/>
</g>
</g>
</g>
<g id="ytick_193">
<g id="line2d_354">
<g>
<use href="#mf77e6de68c" x="1205" y="961.06" style="stroke: #000000; stroke-width: 0.9"/>
</g>
</g>
<g id="line2d_355">
<g>
<use href="#m9f799bd7d2" x="1800" y="961.06" style="stroke: #000000; stroke-width: 0.9"/>
</g>
</g>
</g>
<g id="ytick_194">
<g id="line2d_356">
<g>
<use href="#mf77e6de68c" x="1205" y="953.48" style="stroke: #000000; stroke-width: 0.9"/>
</g>
</g>
<g id="line2d_357">
<g>
<use href="#m9f799bd7d2" x="1800" y="953.48" style="stroke: #000000; stroke-width: 0.9"/>
</g>
</g>
</g>
<g id="ytick_195">
<g id="line2d_358">
<g>
<use href="#mf77e6de68c" x="1205" y="948.11" style="stroke: #000000; stroke-width: 0.9"/>
</g>
</g>
<g id="line2d_359">
<g>
<use href="#m9f799bd7d2" x="1800" y="948.11" style="stroke: #000000; stroke-width: 0.9"/>
</g>
</g>
</g>
<g id="ytick_196">
<g id="line2d_360">
<g>
<use href="#mf77e6de68c" x="1205" y="943.94" style="stroke: #000000; stroke-width: 0.9"/>
</g>
</g>
<g id="line2d_361">
<g>
<use href="#m9f799bd7d2" x="1800" y="943.94" style="stroke: #000000; stroke-width: 0.9"/>
</g>
</g>
</g>
<g id="ytick_197">
<g id="line2d_362">
<g>
<use href="#mf77e6de68c" x="1205" y="940.54" style="stroke: #000000; stroke-width: 0.9"/>
</g>
</g>
<g id="line2d_363">
<g>
<use href="#m9f799bd7d2" x="1800" y="940.54" style="stroke: #000000; stroke-width: 0.9"/>
</g>
</g>
</g>
<g id="ytick_198">
<g id="line2d_364">
<g>
<use href="#mf77e6de68c" x="1205" y="937.66" style="stroke: #000000; stroke-width: 0.9"/>
</g>
</g>
<g id="line2d_365">
<g>
<use href="#m9f799bd7d2" x="1800" y="937.66" style="stroke: #000000; stroke-width: 0.9"/>
</g>
</g>
</g>
<g id="ytick_199">
<g id="line2d_366">
<g>
<use href="#mf77e6de68c" x="1205" y="935.17" style="stroke: #000000; stroke-width: 0.9"/>
</g>
</g>
<g id="line2d_367">
<g>
<use href="#m9f799bd7d2" x="1800" y="935.17" style="stroke: #000000; stroke-width: 0.9"/>
</g>
</g>
</g>
<g id="ytick_200">
<g id="line2d_368">
<g>
<use href="#mf77e6de68c" x="1205" y="932.97" style="stroke: #000000; stroke-width: 0.9"/>
</g>
</g>
<g id="line2d_369">
<g>
<use href="#m9f799bd7d2" x="1800" y="932.97" style="stroke: #000000; stroke-width: 0.9"/>
</g>
</g>
</g>
<g id="ytick_201">
<g id="line2d_370">
<g>
<use href="#mf77e6de68c" x="1205" y="918.06" style="stroke: #000000; stroke-width: 0.9"/>
</g>
</g>
<g id="line2d_371">
<g>
<use href="#m9f799bd7d2" x="1800" y="918.06" style="stroke: #000000; stroke-width: 0.9"/>
</g>
</g>
</g>
<g id="ytick_202">
<g id="line2d_372">
<g>
<use href="#mf77e6de68c" x="1205" y="910.48" style="stroke: #000000; stroke-width: 0.9"/>
</g>
</g>
<g id="line2d_373">
<g>
<use href="#m9f799bd7d2" x="1800" y="910.48" style="stroke: #000000; stroke-width: 0.9"/>
</g>
</g>
</g>
<g id="ytick_203">
<g id="line2d_374">
<g>
<use href="#mf77e6de68c" x="1205" y="905.11" style="stroke: #000000; stroke-width: 0.9"/>
</g>
</g>
<g id="line2d_375">
<g>
<use href="#m9f799bd7d2" x="1800" y="905.11" style="stroke: #000000; stroke-width: 0.9"/>
</g>
</g>
</g>
<g id="ytick_204">
<g id="line2d_376">
<g>
<use href="#mf77e6de68c" x="1205" y="900.94" style="stroke: #000000; stroke-width: 0.9"/>
</g>
</g>
<g id="line2d_377">
<g>
<use href="#m9f799bd7d2" x="1800" y="900.94" style="stroke: #000000; stroke-width: 0.9"/>
</g>
</g>
</g>
<g id="ytick_205">
<g id="line2d_378">
<g>
<use href="#mf77e6de68c" x="1205" y="897.54" style="stroke: #000000; stroke-width: 0.9"/>
</g>
</g>
<g id="line2d_379">
<g>
<use href="#m9f799bd7d2" x="1800" y="897.54" style="stroke: #000000; stroke-width: 0.9"/>
</g>
</g>
</g>
<g id="ytick_206">
<g id="line2d_380">
<g>
<use href="#mf77e6de68c" x="1205" y="894.66" style="stroke: #000000; stroke-width: 0.9"/>
</g>
</g>
<g id="line2d_381">
<g>
<use href="#m9f799bd7d2" x="1800" y="894.66" style="stroke: #000000; stroke-width: 0.9"/>
</g>
</g>
</g>
<g id="ytick_207">
<g id="line2d_382">
<g>
<use href="#mf77e6de68c" x="1205" y="892.17" style="stroke: #000000; stroke-width: 0.9"/>
</g>
</g>
<g id="line2d_383">
<g>
<use href="#m9f799bd7d2" x="1800" y="892.17" style="stroke: #000000; stroke-width: 0.9"/>
</g>
</g>
</g>
<g id="ytick_208">
<g id="line2d_384">
<g>
<use href="#mf77e6de68c" x="1205" y="889.97" style="stroke: #000000; stroke-width: 0.9"/>
</g>
</g>
<g id="line2d_385">
<g>
<use href="#m9f799bd7d2" x="1800" y="889.97" style="stroke: #000000; stroke-width: 0.9"/>
</g>
</g>
</g>
<g id="ytick_209">
<g id="line2d_386">
<g>
<use href="#mf77e6de68c" x="1205" y="875.06" style="stroke: #000000; stroke-width: 0.9"/>
</g>
</g>
<g id="line2d_387">
<g>
<use href="#m9f799bd7d2" x="1800" y="875.06" style="stroke: #000000; stroke-width: 0.9"/>
</g>
</g>
</g>
<g id="ytick_210">
<g id="line2d_388">
<g>
<use href="#mf77e6de68c" x="1205" y="867.48" style="stroke: #000000; stroke-width: 0.9"/>
</g>
</g>
<g id="line2d_389">
<g>
<use href="#m9f799bd7d2" x="1800" y="867.48" style="stroke: #000000; stroke-width: 0.9"/>
</g>
</g>
</g>
<g id="ytick_211">
<g id="line2d_390">
<g>
<use href="#mf77e6de68c" x="1205" y="862.11" style="stroke: #000000; stroke-width: 0.9"/>
</g>
</g>
<g id="line2d_391">
<g>
<use href="#m9f799bd7d2" x="1800" y="862.11" style="stroke: #000000; stroke-width: 0.9"/>
</g>
</g>
</g>
<g id="ytick_212">
<g id="line2d_392">
<g>
<use href="#mf77e6de68c" x="1205" y="857.94" style="stroke: #000000; stroke-width: 0.9"/>
</g>
</g>
<g id="line2d_393">
<g>
<use href="#m9f799bd7d2" x="1800" y="857.94" style="stroke: #000000; stroke-width: 0.9"/>
</g>
</g>
</g>
<g id="ytick_213">
<g id="line2d_394">
<g>
<use href="#mf77e6de68c" x="1205" y="854.54" style="stroke: #000000; stroke-width: 0.9"/>
</g>
</g>
<g id="line2d_395">
<g>
<use href="#m9f799bd7d2" x="1800" y="854.54" style="stroke: #000000; stroke-width: 0.9"/>
</g>
</g>
</g>
<g id="ytick_214">
<g id="line2d_396">
<g>
<use href="#mf77e6de68c" x="1205" y="851.66" style="stroke: #000000; stroke-width: 0.9"/>
</g>
</g>
<g id="line2d_397">
<g>
<use href="#m9f799bd7d2" x="1800" y="851.66" style="stroke: #000000; stroke-width: 0.9"/>
</g>
</g>
</g>
<g id="ytick_215">
<g id="line2d_398">
<g>
<use href="#mf77e6de68c" x="1205" y="849.17" style="stroke: #000000; stroke-width: 0.9"/>
</g>
</g>
<g id="line2d_399">
<g>
<use href="#m9f799bd7d2" x="1800" y="849.17" style="stroke: #000000; stroke-width: 0.9"/>
</g>
</g>
</g>
<g id="ytick_216">
<g id="line2d_400">
<g>
<use href="#mf77e6de68c" x="1205" y="846.97" style="stroke: #000000; stroke-width: 0.9"/>
</g>
</g>
<g id="line2d_401">
<g>
<use href="#m9f799bd7d2" x="1800" y="846.97" style="stroke: #000000; stroke-width: 0.9"/>
</g>
</g>
</g>
</g>
<g id="patch_110">
<path d="M 1205 1017 L 1205 845 " style="fill: none; stroke: #000000; stroke-width: 2; stroke-linejoin: miter; stroke-linecap: square"/>
</g>
<g id="patch_111">
<path d="M 1800 1017 L 1800 845 " style="fill: none; stroke: #000000; stroke-width: 2; stroke-linejoin: miter; stroke-linecap: square"/>
</g>
<g id="patch_112">
<path d="M 1205 1017 L 1800 1017 " style="fill: none; stroke: #000000; stroke-width: 2; stroke-linejoin: miter; stroke-linecap: square"/>
</g>
<g id="patch_113">
<path d="M 1205 845 L 1800 845 " style="fill: none; stroke: #000000; stroke-width: 2; stroke-linejoin: miter; stroke-linecap: square"/>
</g>
<g id="line2d_402">
<path d="M 1205.5 1012.04 L 1205.9 991.34 L 1206.3 1012.03 L 1206.7 994.24 L 1207.1 1012.43 L 1207.5 1001.2 L 1207.9 1011.42 L 1208.3 998.96 L 1208.7 1012.06 L 1209.1 1000.49 L 1209.5 1011.82 L 1209.9 1005.72 L 1210.3 1011.28 L 1210.7 1003.96 L 1211.1 1011.46 L 1211.5 1007.41 L 1211.9 1011.83 L 1212.3 1001.72 L 1212.7 1011.25 L 1213.1 1001.12 L 1213.5 1011.81 L 1213.9 1002.81 L 1214.3 1012.71 L 1214.7 995.32 L 1215.1 1009.9 L 1215.5 1003.24 L 1215.9 1011.68 L 1216.3 997.15 L 1216.7 1011.95 L 1217.1 1004.67 L 1217.5 1013.28 L 1217.9 1005.81 L 1218.3 1011.54 L 1218.71 998.72 L 1219.11 1012.25 L 1219.51 995.64 L 1219.91 1011.44 L 1220.31 1005.25 L 1220.71 1011.92 L 1221.11 1002.25 L 1221.51 1010.94 L 1221.91 1002.62 L 1222.31 1011.75 L 1222.71 994.53 L 1223.11 1011.73 L 1223.51 1003.91 L 1223.91 1011.82 L 1224.31 1004.6 L 1224.71 1012.22 L 1225.11 991.87 L 1225.51 1012.02 L 1225.91 1000.91 L 1226.31 1012.31 L 1226.71 1004.34 L 1227.11 1012.42 L 1227.51 999.76 L 1227.91 1012.44 L 1228.31 1000.63 L 1228.71 1010.93 L 1229.11 1002.27 L 1229.51 1011.84 L 1229.91 1000.46 L 1230.31 1011.11 L 1230.71 1000.63 L 1231.11 1011.94 L 1231.51 1003.51 L 1231.91 1011.96 L 1232.31 999.83 L 1232.71 1010.65 L 1233.11 1003.73 L 1233.51 1012.66 L 1233.91 995.16 L 1234.31 1011.23 L 1234.71 993.93 L 1235.11 1011.98 L 1235.51 1004.26 L 1235.91 1011.56 L 1236.31 992.29 L 1236.71 1011.72 L 1237.11 997.13 L 1237.51 1012.34 L 1237.91 1001.45 L 1238.31 1010.66 L 1238.71 1001.28 L 1239.11 1012.42 L 1239.51 1002.79 L 1239.91 1011.35 L 1240.31 997.65 L 1240.71 1012.11 L 1241.11 1005.55 L 1241.51 1012.41 L 1241.91 997.03 L 1242.31 1011.73 L 1242.71 999.49 L 1243.11 1012.54 L 1243.51 999.32 L 1243.91 1011.7 L 1244.31 1001.31 L 1244.72 1010.8 L 1245.12 1000.17 L 1245.52 1011.34 L 1245.92 989.3 L 1246.32 1011.71 L 1246.72 997.06 L 1247.12 1012.65 L 1247.52 998.67 L 1247.92 1011.19 L 1248.32 1001.75 L 1248.72 1013.03 L 1249.12 988.96 L 1249.52 1011.32 L 1249.92 1005.37 L 1250.32 1011.67 L 1250.72 1001.37 L 1251.12 1011.82 L 1251.52 1002.25 L 1251.92 1011.3 L 1252.32 1002.7 L 1252.72 1011.08 L 1253.12 1004.22 L 1253.52 1012.87 L 1253.92 1000.05 L 1254.32 1010.07 L 1254.72 999.76 L 1255.12 1013.58 L 1255.52 994.61 L 1255.92 1010.92 L 1256.32 1006.38 L 1256.72 1011.21 L 1257.12 1003.96 L 1257.52 1011.56 L 1257.92 999.19 L 1258.32 1011.52 L 1258.72 998.84 L 1259.12 1011.68 L 1259.52 998.53 L 1259.92 1011.58 L 1260.32 995.61 L 1260.72 1011.8 L 1261.12 1001.12 L 1261.52 1011.03 L 1261.92 990.74 L 1262.32 1011.76 L 1262.72 1004.53 L 1263.12 1012.16 L 1263.52 990.25 L 1263.92 1011.64 L 1264.32 998.92 L 1264.72 1012 L 1265.12 1005.75 L 1265.52 1012.38 L 1265.92 997.59 L 1266.32 1011.06 L 1266.72 996.99 L 1267.12 1011.53 L 1267.52 1002.36 L 1267.92 1010.98 L 1268.32 1004.13 L 1268.72 1010.3 L 1269.12 1003.05 L 1269.52 1012.43 L 1269.92 999.55 L 1270.32 1011.36 L 1270.73 1003.06 L 1271.13 1012.29 L 1271.53 1002.67 L 1271.93 1013.18 L 1272.33 1003.97 L 1272.73 1011.39 L 1273.13 1002.11 L 1273.53 1011.75 L 1273.93 1006.21 L 1274.33 1011.78 L 1274.73 991.23 L 1275.13 1010.63 L 1275.53 1000.9 L 1275.93 1011.4 L 1276.33 1002.1 L 1276.73 1012.25 L 1277.13 998.23 L 1277.53 1012.15 L 1277.93 1005.15 L 1278.33 1011.15 L 1278.73 992.28 L 1279.13 1012.42 L 1279.53 1001.79 L 1279.93 1011.25 L 1280.33 1003.46 L 1280.73 1010.71 L 1281.13 999.86 L 1281.53 1011.48 L 1281.93 998.75 L 1282.33 1012.47 L 1282.73 987.97 L 1283.13 1011.83 L 1283.53 993.22 L 1283.93 1012.58 L 1284.33 1002.86 L 1284.73 1012.18 L 1285.13 1003.39 L 1285.53 1013.08 L 1285.93 1005.29 L 1286.33 1011.05 L 1286.73 1001.19 L 1287.13 1011.33 L 1287.53 998.98 L 1287.93 1010.91 L 1288.33 1002.64 L 1288.73 1011.12 L 1289.13 993.02 L 1289.53 1012.15 L 1289.93 1001.55 L 1290.33 1011.63 L 1290.73 999.13 L 1291.13 1011.71 L 1291.53 1004.02 L 1291.93 1011.49 L 1292.33 994.6 L 1292.73 1011.57 L 1293.13 1006.28 L 1293.53 1011.59 L 1293.93 1002 L 1294.33 1011.57 L 1294.73 1000.39 L 1295.13 1011.33 L 1295.53 1000.93 L 1295.93 1010.91 L 1296.33 999.99 L 1296.74 1011 L 1297.14 999.56 L 1297.54 1012.05 L 1297.94 998.92 L 1298.34 1011.52 L 1298.74 1006.27 L 1299.14 1012.09 L 1299.54 992 L 1299.94 1010.81 L 1300.34 994.31 L 1300.74 1011.31 L 1301.14 1000.48 L 1301.54 1011.87 L 1301.94 1005.6 L 1302.34 1011.94 L 1302.74 1005.39 L 1303.14 1013.07 L 1303.54 1002.62 L 1303.94 1010.72 L 1304.34 1001.77 L 1304.74 1011.55 L 1305.14 1001.81 L 1305.54 1011.56 L 1305.94 1004.25 L 1306.34 1011.97 L 1306.74 997.67 L 1307.14 1012.28 L 1307.54 998.51 L 1307.94 1011.19 L 1308.34 1005.37 L 1308.74 1012.11 L 1309.14 995.57 L 1309.54 1011.2 L 1309.94 992.28 L 1310.34 1010.57 L 1310.74 1001.07 L 1311.14 1011.83 L 1311.54 1002.61 L 1311.94 1011.82 L 1312.34 1001.34 L 1312.74 1012.43 L 1313.14 1000.96 L 1313.54 1011.36 L 1313.94 995.34 L 1314.34 1010.08 L 1314.74 1005.68 L 1315.14 1011.31 L 1315.54 993.43 L 1315.94 1012.4 L 1316.34 998.71 L 1316.74 1010.55 L 1317.14 998.38 L 1317.54 1012.4 L 1317.94 999.7 L 1318.34 1011.6 L 1318.74 992.76 L 1319.14 1011.16 L 1319.54 1003.29 L 1319.94 1011.94 L 1320.34 1001.3 L 1320.74 1010.83 L 1321.14 987.74 L 1321.54 1011.19 L 1321.94 1000.92 L 1322.34 1011.9 L 1322.75 999.2 L 1323.15 1011.89 L 1323.55 1008.65 L 1323.95 1011.25 L 1324.35 1000.15 L 1324.75 1013.05 L 1325.15 1003.76 L 1325.55 1011.39 L 1325.95 1003.6 L 1326.35 1011.46 L 1326.75 1001.07 L 1327.15 1011.9 L 1327.55 993.83 L 1327.95 1012.81 L 1328.35 991.65 L 1328.75 1012.03 L 1329.15 1003.24 L 1329.55 1011.59 L 1329.95 995.38 L 1330.35 1011.36 L 1330.75 989.62 L 1331.15 1011.54 L 1331.55 990.35 L 1331.95 1010.82 L 1332.35 1004.61 L 1332.75 1010.63 L 1333.15 995.09 L 1333.55 1011.74 L 1333.95 1001.97 L 1334.35 1011.16 L 1334.75 999.05 L 1335.15 1011.64 L 1335.55 1004.58 L 1335.95 1011.16 L 1336.35 1000.6 L 1336.75 1011.44 L 1337.15 1004.23 L 1337.55 1012.6 L 1337.95 1007.43 L 1338.35 1012.13 L 1338.75 1002.96 L 1339.15 1012.25 L 1339.55 992.33 L 1339.95 1012.14 L 1340.35 999.9 L 1340.75 1010.2 L 1341.15 1000.83 L 1341.55 1011.03 L 1341.95 1000.03 L 1342.35 1010.88 L 1342.75 992.7 L 1343.15 1011.94 L 1343.55 999.36 L 1343.95 1011.85 L 1344.35 990.5 L 1344.75 1011.41 L 1345.15 1003.89 L 1345.55 1011.8 L 1345.95 1006.35 L 1346.35 1012.39 L 1346.75 997.84 L 1347.15 1012.41 L 1347.55 997.89 L 1347.95 1012.38 L 1348.35 993.92 L 1348.76 1012.2 L 1349.16 1003.82 L 1349.56 1012.27 L 1349.96 1000.9 L 1350.36 1011.28 L 1350.76 1002.09 L 1351.16 1011.83 L 1351.56 1002.67 L 1351.96 1012.3 L 1352.36 1001.69 L 1352.76 1012.12 L 1353.16 994.42 L 1353.56 1013.29 L 1353.96 1006.41 L 1354.36 1011.42 L 1354.76 1003.76 L 1355.16 1010.85 L 1355.56 1002.87 L 1355.96 1012.16 L 1356.36 1001.24 L 1356.76 1011.33 L 1357.16 1002.8 L 1357.56 1011.88 L 1357.96 1003.48 L 1358.36 1011.8 L 1358.76 1003.87 L 1359.16 1011.17 L 1359.56 1000.35 L 1359.96 1011.73 L 1360.36 1003.83 L 1360.76 1012.21 L 1361.16 995.69 L 1361.56 1012.28 L 1361.96 1001.46 L 1362.36 1011.72 L 1362.76 1000.44 L 1363.16 1011.66 L 1363.56 1000.97 L 1363.96 1011.93 L 1364.36 998.56 L 1364.76 1011.19 L 1365.16 1003.18 L 1365.56 1010.84 L 1365.96 996.62 L 1366.36 1011.47 L 1366.76 1000.46 L 1367.16 1010.68 L 1367.56 1008.51 L 1367.96 1012.46 L 1368.36 992.06 L 1368.76 1012.63 L 1369.16 1005.34 L 1369.56 1010.2 L 1369.96 998.61 L 1370.36 1010.96 L 1370.76 997.16 L 1371.16 1010.97 L 1371.56 1004.02 L 1371.96 1012.41 L 1372.36 1001.87 L 1372.76 1012.43 L 1373.16 997.14 L 1373.56 1011.7 L 1373.96 1004.08 L 1374.36 1011.66 L 1374.77 1001.04 L 1375.17 1012.02 L 1375.57 1000.42 L 1375.97 1012.5 L 1376.37 1006.06 L 1376.77 1012 L 1377.17 998.43 L 1377.57 1012.84 L 1377.97 1003.66 L 1378.37 1013.02 L 1378.77 1005.02 L 1379.17 1011.66 L 1379.57 1000.31 L 1379.97 1012.21 L 1380.37 1001.73 L 1380.77 1011.03 L 1381.17 990.5 L 1381.57 1011.41 L 1381.97 996.53 L 1382.37 1012.56 L 1382.77 999.71 L 1383.17 1012.41 L 1383.57 994.61 L 1383.97 1011.5 L 1384.37 1000.1 L 1384.77 1012.42 L 1385.17 999.62 L 1385.57 1012.44 L 1385.97 991.42 L 1386.37 1011.83 L 1386.77 1002.94 L 1387.17 1011.25 L 1387.57 1003.21 L 1387.97 1011.94 L 1388.37 1003.03 L 1388.77 1011.84 L 1389.17 1001.72 L 1389.57 1013.04 L 1389.97 1003.75 L 1390.37 1012.93 L 1390.77 1006.44 L 1391.17 1011.51 L 1391.57 999.1 L 1391.97 1011.82 L 1392.37 1004.99 L 1392.77 1011.66 L 1393.17 1003.78 L 1393.57 1012.1 L 1393.97 1007.47 L 1394.37 1011.79 L 1394.77 1005.94 L 1395.17 1011.98 L 1395.57 991.51 L 1395.97 1011.91 L 1396.37 1005.87 L 1396.77 1012.21 L 1397.17 999.76 L 1397.57 1011.63 L 1397.97 1008.72 L 1398.37 1012.5 L 1398.77 993.13 L 1399.17 1013.59 L 1399.57 1005.59 L 1399.97 1012.5 L 1400.37 1005.55 L 1400.78 1011.71 L 1401.18 1001.62 L 1401.58 1010.97 L 1401.98 1000.7 L 1402.38 1012.58 L 1402.78 999.37 L 1403.18 1011.92 L 1403.58 999.38 L 1403.98 1012.19 L 1404.38 1003.53 L 1404.78 1011.96 L 1405.18 1000.86 L 1405.58 1010.84 L 1405.98 1002.1 L 1406.38 1010.83 L 1406.78 995.54 L 1407.18 1010.96 L 1407.58 1001.57 L 1407.98 1011.18 L 1408.38 1000.23 L 1408.78 1012.21 L 1409.18 1004.82 L 1409.58 1010.88 L 1409.98 998.67 L 1410.38 1012.97 L 1410.78 1005.51 L 1411.18 1011.22 L 1411.58 1004.2 L 1411.98 1012.37 L 1412.38 1003.6 L 1412.78 1012.32 L 1413.18 995.24 L 1413.58 1012.46 L 1413.98 1005.55 L 1414.38 1010.68 L 1414.78 1008.81 L 1415.18 1013.4 L 1415.58 998.21 L 1415.98 1011.84 L 1416.38 1000.3 L 1416.78 1010.76 L 1417.18 1005.7 L 1417.58 1010.89 L 1417.98 998.81 L 1418.38 1011.4 L 1418.78 1001 L 1419.18 1011.99 L 1419.58 1002.66 L 1419.98 1012.2 L 1420.38 1001.65 L 1420.78 1012.64 L 1421.18 1001.97 L 1421.58 1011.81 L 1421.98 996.05 L 1422.38 1011.12 L 1422.78 997.18 L 1423.18 1011.74 L 1423.58 999.48 L 1423.98 1012.13 L 1424.38 998.33 L 1424.78 1011.89 L 1425.18 992.38 L 1425.58 1011.01 L 1425.98 990.23 L 1426.38 1011.26 L 1426.79 995.3 L 1427.19 1012.47 L 1427.59 1000.09 L 1427.99 1012.36 L 1428.39 1002.08 L 1428.79 1011.76 L 1429.19 1003.09 L 1429.59 1011.29 L 1429.99 999.26 L 1430.39 1012.53 L 1430.79 1007.62 L 1431.19 1011.43 L 1431.59 994.44 L 1431.99 1011.68 L 1432.39 999.7 L 1432.79 1011.93 L 1433.19 999.32 L 1433.59 1012.08 L 1433.99 1001.17 L 1434.39 1012.28 L 1434.79 1003.69 L 1435.19 1011.83 L 1435.59 991.38 L 1435.99 1010.53 L 1436.39 1006.94 L 1436.79 1011.71 L 1437.19 1004.38 L 1437.59 1012.28 L 1437.99 1003.72 L 1438.39 1012.47 L 1438.79 1001.07 L 1439.19 1011.31 L 1439.59 995.99 L 1439.99 1011.16 L 1440.39 1001.04 L 1440.79 1011.06 L 1441.19 1001.84 L 1441.59 1009.64 L 1441.99 1001.61 L 1442.39 1011.57 L 1442.79 989.97 L 1443.19 1010.76 L 1443.59 1005.29 L 1443.99 1011.42 L 1444.39 987.7 L 1444.79 1012.06 L 1445.19 1003.72 L 1445.59 1011.2 L 1445.99 1002.43 L 1446.39 1013.13 L 1446.79 991.47 L 1447.19 1012.02 L 1447.59 999.12 L 1447.99 1011.78 L 1448.39 995.78 L 1448.79 1010.81 L 1449.19 1002.22 L 1449.59 1013.33 L 1449.99 1001.08 L 1450.39 1011.81 L 1450.79 1003.32 L 1451.19 1011.89 L 1451.59 1006.3 L 1451.99 1011.63 L 1452.39 988.34 L 1452.8 1012.3 L 1453.2 998.48 L 1453.6 1013 L 1454 1001.08 L 1454.4 1011.59 L 1454.8 1004.17 L 1455.2 1011.21 L 1455.6 1000.83 L 1456 1011.57 L 1456.4 990.39 L 1456.8 1013.09 L 1457.2 1003.65 L 1457.6 1011.57 L 1458 998.62 L 1458.4 1010.48 L 1458.8 1005.65 L 1459.2 1012.47 L 1459.6 1003.58 L 1460 1011.47 L 1460.4 1004.28 L 1460.8 1012.26 L 1461.2 998.46 L 1461.6 1012.08 L 1462 992.02 L 1462.4 1011.82 L 1462.8 1001.82 L 1463.2 1011.29 L 1463.6 1000.63 L 1464 1010.56 L 1464.4 1009.8 L 1464.8 1011.41 L 1465.2 1003.99 L 1465.6 1011.92 L 1466 1002.64 L 1466.4 1011.05 L 1466.8 998.81 L 1467.2 1011.52 L 1467.6 993.95 L 1468 1010.8 L 1468.4 990.45 L 1468.8 1012.51 L 1469.2 999.4 L 1469.6 1011.63 L 1470 1006.1 L 1470.4 1011.93 L 1470.8 1000.4 L 1471.2 1010.34 L 1471.6 989.89 L 1472 1013.07 L 1472.4 992.16 L 1472.8 1012.61 L 1473.2 999.79 L 1473.6 1010.29 L 1474 1000.57 L 1474.4 1011.51 L 1474.8 1001.33 L 1475.2 1012.35 L 1475.6 1002.49 L 1476 1011.43 L 1476.4 998.26 L 1476.8 1011.19 L 1477.2 1003.46 L 1477.6 1011.14 L 1478 1001.75 L 1478.41 1011.03 L 1478.81 998.76 L 1479.21 1011.98 L 1479.61 1002.75 L 1480.01 1011.22 L 1480.41 1000.42 L 1480.81 1012.39 L 1481.21 1001.82 L 1481.61 1011.05 L 1482.01 1004.07 L 1482.41 1012.13 L 1482.81 999.18 L 1483.21 1011.58 L 1483.61 999.69 L 1484.01 1011.29 L 1484.41 1003.11 L 1484.81 1010.61 L 1485.21 1003.14 L 1485.61 1011.42 L 1486.01 1003.62 L 1486.41 1009.32 L 1486.81 1001.86 L 1487.21 1011.43 L 1487.61 1002.82 L 1488.01 1011.39 L 1488.41 999.07 L 1488.81 1010.18 L 1489.21 1006.77 L 1489.61 1011.03 L 1490.01 1001.72 L 1490.41 1012.89 L 1490.81 1004.88 L 1491.21 1011.4 L 1491.61 1000.79 L 1492.01 1010.99 L 1492.41 1010 L 1492.81 1011.8 L 1493.21 994.06 L 1493.61 1012.47 L 1494.01 1002.05 L 1494.41 1011.53 L 1494.81 995.26 L 1495.21 1011.25 L 1495.61 998.38 L 1496.01 1011.37 L 1496.41 1002.63 L 1496.81 1012.49 L 1497.21 1003.96 L 1497.61 1012.69 L 1498.01 1003.57 L 1498.41 1011.99 L 1498.81 1002.84 L 1499.21 1010.99 L 1499.61 1003.85 L 1500.01 1011.99 L 1500.41 997.24 L 1500.81 1012.21 L 1501.21 998.74 L 1501.61 1011.67 L 1502.01 1001.27 L 1502.41 1011.43 L 1502.81 1001.35 L 1503.21 1012.47 L 1503.61 1003.45 L 1504.01 1012.63 L 1504.42 993.89 L 1504.82 1010.89 L 1505.22 1004.93 L 1505.62 1010.97 L 1506.02 1006.88 L 1506.42 1012.64 L 1506.82 998.07 L 1507.22 1011.37 L 1507.62 1002.11 L 1508.02 1011.93 L 1508.42 1000.51 L 1508.82 1011.89 L 1509.22 1004.14 L 1509.62 1011.41 L 1510.02 999.17 L 1510.42 1011.91 L 1510.82 1001.63 L 1511.22 1011.21 L 1511.62 1003.85 L 1512.02 1011.94 L 1512.42 1000.63 L 1512.82 1011.09 L 1513.22 996.88 L 1513.62 1012.44 L 1514.02 1000.92 L 1514.42 1011.27 L 1514.82 1002.52 L 1515.22 1011.75 L 1515.62 991.91 L 1516.02 1011.54 L 1516.42 1000.73 L 1516.82 1011.61 L 1517.22 1000.06 L 1517.62 1011.61 L 1518.02 1004.73 L 1518.42 1011.59 L 1518.82 1000.02 L 1519.22 1011.33 L 1519.62 990.26 L 1520.02 1010.73 L 1520.42 1007.25 L 1520.82 1011.73 L 1521.22 994.15 L 1521.62 1010.95 L 1522.02 1003.67 L 1522.42 1011.83 L 1522.82 998.63 L 1523.22 1013.04 L 1523.62 1001.8 L 1524.02 1010.97 L 1524.42 1002.52 L 1524.82 1012.7 L 1525.22 1004 L 1525.62 1011.31 L 1526.02 1004.14 L 1526.42 1009.97 L 1526.82 1002.66 L 1527.22 1012.42 L 1527.62 987.88 L 1528.02 1011.87 L 1528.42 999.21 L 1528.82 1012.17 L 1529.22 1006.06 L 1529.62 1010.91 L 1530.02 1000.57 L 1530.43 1011.46 L 1530.83 997.57 L 1531.23 1011.77 L 1531.63 999.97 L 1532.03 1011.14 L 1532.43 1002.35 L 1532.83 1011.33 L 1533.23 1006.97 L 1533.63 1011.72 L 1534.03 1005.18 L 1534.43 1011.35 L 1534.83 1001.62 L 1535.23 1012.51 L 1535.63 998.08 L 1536.03 1011.58 L 1536.43 1001.01 L 1536.83 1011.95 L 1537.23 985.83 L 1537.63 1011.92 L 1538.03 1002.57 L 1538.43 1012.09 L 1538.83 1002.88 L 1539.23 1012.17 L 1539.63 1000.05 L 1540.03 1011.96 L 1540.43 1001.76 L 1540.83 1011.61 L 1541.23 1000.41 L 1541.63 1010.93 L 1542.03 1002.49 L 1542.43 1011.72 L 1542.83 997.55 L 1543.23 1012.22 L 1543.63 1003.04 L 1544.03 1012.61 L 1544.43 992.59 L 1544.83 1011.8 L 1545.23 999.03 L 1545.63 1011.46 L 1546.03 1004.38 L 1546.43 1012.41 L 1546.83 1004.67 L 1547.23 1011.51 L 1547.63 999.24 L 1548.03 1011.84 L 1548.43 1001.71 L 1548.83 1012.89 L 1549.23 1004.18 L 1549.63 1014.43 L 1550.03 994.69 L 1550.43 1011.52 L 1550.83 1001.61 L 1551.23 1012.31 L 1551.63 1002.39 L 1552.03 1011.32 L 1552.43 999.64 L 1552.83 1011.82 L 1553.23 1001.06 L 1553.63 1012.76 L 1554.03 1000.18 L 1554.43 1011.1 L 1554.83 1005.02 L 1555.23 1011.96 L 1555.63 998.27 L 1556.03 1011.97 L 1556.44 1002.94 L 1556.84 1012.09 L 1557.24 1001.25 L 1557.64 1010.85 L 1558.04 999.22 L 1558.44 1011.96 L 1558.84 997.11 L 1559.24 1011.65 L 1559.64 1003.05 L 1560.04 1012.69 L 1560.44 1003.03 L 1560.84 1011.26 L 1561.24 1000.49 L 1561.64 1012.04 L 1562.04 1002.5 L 1562.44 1011.55 L 1562.84 1003.33 L 1563.24 1013.27 L 1563.64 999.04 L 1564.04 1011.83 L 1564.44 1002.47 L 1564.84 1012.31 L 1565.24 1003.14 L 1565.64 1011 L 1566.04 1004.09 L 1566.44 1011.19 L 1566.84 1000.83 L 1567.24 1012.58 L 1567.64 1003.73 L 1568.04 1011.7 L 1568.44 1002.72 L 1568.84 1011.75 L 1569.24 1003.19 L 1569.64 1010.84 L 1570.04 999.74 L 1570.44 1011.57 L 1570.84 997.26 L 1571.24 1011.7 L 1571.64 1000.83 L 1572.04 1010.82 L 1572.44 994.49 L 1572.84 1010.83 L 1573.24 1004.6 L 1573.64 1011.9 L 1574.04 1002.68 L 1574.44 1012.51 L 1574.84 996.22 L 1575.24 1011.51 L 1575.64 1004.76 L 1576.04 1011.7 L 1576.44 1004.38 L 1576.84 1011.92 L 1577.24 998.86 L 1577.64 1011.61 L 1578.04 1002.17 L 1578.44 1011.5 L 1578.84 1001.63 L 1579.24 1011.24 L 1579.64 1001.86 L 1580.04 1011.86 L 1580.44 1004.38 L 1580.84 1012.31 L 1581.24 1003.76 L 1581.64 1012.35 L 1582.04 999.74 L 1582.45 1010.78 L 1582.85 1001.84 L 1583.25 1012.35 L 1583.65 993.6 L 1584.05 1012.29 L 1584.45 1004.46 L 1584.85 1012.41 L 1585.25 1004.47 L 1585.65 1010.33 L 1586.05 1003.17 L 1586.45 1012.03 L 1586.85 994.28 L 1587.25 1012.27 L 1587.65 1003.51 L 1588.05 1011.82 L 1588.45 999.02 L 1588.85 1011.1 L 1589.25 1003.09 L 1589.65 1011.46 L 1590.05 1000.26 L 1590.45 1012.2 L 1590.85 1000.9 L 1591.25 1012.39 L 1591.65 1001.76 L 1592.05 1011.81 L 1592.45 995.01 L 1592.85 1011.62 L 1593.25 1003.63 L 1593.65 1011 L 1594.05 1001.19 L 1594.45 1010.92 L 1594.85 1004.99 L 1595.25 1012.41 L 1595.65 1002.67 L 1596.05 1012.25 L 1596.45 1001.99 L 1596.85 1013.38 L 1597.25 999.63 L 1597.65 1011.27 L 1598.05 1005.37 L 1598.45 1012.42 L 1598.85 1003.3 L 1599.25 1012.57 L 1599.65 999.91 L 1600.05 1011.63 L 1600.45 1006.42 L 1600.85 1011.09 L 1601.25 1002.73 L 1601.65 1012.47 L 1602.05 1004.94 L 1602.45 1011.55 L 1602.85 1005.54 L 1603.25 1011.55 L 1603.65 1002.41 L 1604.05 1010.11 L 1604.45 994.03 L 1604.85 1011.52 L 1605.25 1000.68 L 1605.65 1011.94 L 1606.05 987.73 L 1606.45 1011.78 L 1606.85 997.6 L 1607.25 1010 L 1607.65 996.44 L 1608.05 1013 L 1608.46 1002.22 L 1608.86 1011.59 L 1609.26 1002.91 L 1609.66 1011.17 L 1610.06 1002.19 L 1610.46 1010.79 L 1610.86 1000.65 L 1611.26 1010.86 L 1611.66 1001.05 L 1612.06 1011.78 L 1612.46 1001.13 L 1612.86 1012.02 L 1613.26 1007.36 L 1613.66 1013.57 L 1614.06 1003.36 L 1614.46 1011.76 L 1614.86 993.17 L 1615.26 1011.62 L 1615.66 1002.36 L 1616.06 1011.85 L 1616.46 999.81 L 1616.86 1012.26 L 1617.26 1003.44 L 1617.66 1011.4 L 1618.06 1003.61 L 1618.46 1013.19 L 1618.86 1003.91 L 1619.26 1012.13 L 1619.66 1001.64 L 1620.06 1012.79 L 1620.46 997.99 L 1620.86 1011.46 L 1621.26 989.72 L 1621.66 1011.58 L 1622.06 1000.88 L 1622.46 1011.72 L 1622.86 1000.72 L 1623.26 1012 L 1623.66 997.73 L 1624.06 1012.21 L 1624.46 1002.8 L 1624.86 1012.46 L 1625.26 996.44 L 1625.66 1010.93 L 1626.06 1006.37 L 1626.46 1011.2 L 1626.86 1003.01 L 1627.26 1012.37 L 1627.66 1000.7 L 1628.06 1011.42 L 1628.46 1001.48 L 1628.86 1011.94 L 1629.26 1002.78 L 1629.66 1010.75 L 1630.06 1001.34 L 1630.46 1010.7 L 1630.86 998.79 L 1631.26 1012.75 L 1631.66 1000.2 L 1632.06 1012.16 L 1632.46 1003.74 L 1632.86 1011.38 L 1633.26 1003.98 L 1633.66 1012.62 L 1634.06 988.66 L 1634.47 1011.71 L 1634.87 998.72 L 1635.27 1011.91 L 1635.67 1000.54 L 1636.07 1011.24 L 1636.47 999.33 L 1636.87 1012.91 L 1637.27 1000.09 L 1637.67 1011.6 L 1638.07 999.04 L 1638.47 1011.37 L 1638.87 997.76 L 1639.27 1012.76 L 1639.67 1002.62 L 1640.07 1013.06 L 1640.47 999.35 L 1640.87 1011.55 L 1641.27 1004.51 L 1641.67 1011.63 L 1642.07 1002.81 L 1642.47 1011.71 L 1642.87 1003.67 L 1643.27 1010.6 L 1643.67 1003.44 L 1644.07 1011.72 L 1644.47 998.33 L 1644.87 1012.31 L 1645.27 1001.7 L 1645.67 1011.54 L 1646.07 993.2 L 1646.47 1012.31 L 1646.87 1000.71 L 1647.27 1012.86 L 1647.67 1001.77 L 1648.07 1012.7 L 1648.47 999.13 L 1648.87 1011.69 L 1649.27 1004.75 L 1649.67 1013.24 L 1650.07 999.27 L 1650.47 1011.52 L 1650.87 990.99 L 1651.27 1011.65 L 1651.67 1003.29 L 1652.07 1012.11 L 1652.47 996.02 L 1652.87 1012.47 L 1653.27 999.9 L 1653.67 1012.07 L 1654.07 1000.39 L 1654.47 1011.99 L 1654.87 999.24 L 1655.27 1011.31 L 1655.67 999.89 L 1656.07 1011.9 L 1656.47 998.64 L 1656.87 1011.55 L 1657.27 997.91 L 1657.67 1011.07 L 1658.07 1004.05 L 1658.47 1012.34 L 1658.87 1006.38 L 1659.27 1012.4 L 1659.67 1001.09 L 1660.07 1012.75 L 1660.48 998.79 L 1660.88 1010.65 L 1661.28 995.97 L 1661.68 1011.68 L 1662.08 1002.56 L 1662.48 1012.26 L 1662.88 993.16 L 1663.28 1012.11 L 1663.68 1000.03 L 1664.08 1011.94 L 1664.48 1000.84 L 1664.88 1013.04 L 1665.28 1004.09 L 1665.68 1011.79 L 1666.08 1004.61 L 1666.48 1010.59 L 1666.88 1002.64 L 1667.28 1013.32 L 1667.68 1000.31 L 1668.08 1012.2 L 1668.48 999.97 L 1668.88 1011.27 L 1669.28 993.75 L 1669.68 1011.17 L 1670.08 996.96 L 1670.48 1010.83 L 1670.88 1005.38 L 1671.28 1012.02 L 1671.68 1003.74 L 1672.08 1011.47 L 1672.48 1000.01 L 1672.88 1012.42 L 1673.28 1003.62 L 1673.68 1010.64 L 1674.08 998.67 L 1674.48 1010.84 L 1674.88 1004.81 L 1675.28 1012.42 L 1675.68 1000.61 L 1676.08 1011.21 L 1676.48 1001.06 L 1676.88 1011.62 L 1677.28 1002.57 L 1677.68 1013.55 L 1678.08 988.77 L 1678.48 1012.44 L 1678.88 1001.96 L 1679.28 1011.81 L 1679.68 1000.92 L 1680.08 1013.19 L 1680.48 1006.24 L 1680.88 1011.28 L 1681.28 989.02 L 1681.68 1011.4 L 1682.08 1002.19 L 1682.48 1011.69 L 1682.88 993.31 L 1683.28 1012.88 L 1683.68 1000.06 L 1684.08 1010.94 L 1684.48 1004.05 L 1684.88 1011.27 L 1685.28 1003.72 L 1685.68 1011.57 L 1686.08 1002.79 L 1686.49 1011.9 L 1686.89 1004.94 L 1687.29 1011 L 1687.69 1001.87 L 1688.09 1011.59 L 1688.49 998.95 L 1688.89 1012.02 L 1689.29 1005.5 L 1689.69 1011.32 L 1690.09 1000.67 L 1690.49 1012.22 L 1690.89 1004.62 L 1691.29 1010.96 L 1691.69 1004.72 L 1692.09 1012.25 L 1692.49 1003.05 L 1692.89 1011 L 1693.29 1004.88 L 1693.69 1011.62 L 1694.09 1003.94 L 1694.49 1012.11 L 1694.89 1001.84 L 1695.29 1012.16 L 1695.69 1007.03 L 1696.09 1011.42 L 1696.49 998.74 L 1696.89 1012.08 L 1697.29 1004.66 L 1697.69 1012.97 L 1698.09 1004.71 L 1698.49 1012.05 L 1698.89 1000.82 L 1699.29 1010.64 L 1699.69 993.39 L 1700.09 1012.19 L 1700.49 1003.55 L 1700.89 1012.95 L 1701.29 1006.69 L 1701.69 1010.98 L 1702.09 1001.12 L 1702.49 1011.95 L 1702.89 1002.91 L 1703.29 1011.75 L 1703.69 1005.54 L 1704.09 1011.7 L 1704.49 1001.92 L 1704.89 1010.47 L 1705.29 1001.32 L 1705.69 1012.23 L 1706.09 995.67 L 1706.49 1012.18 L 1706.89 996 L 1707.29 1011.55 L 1707.69 1003.32 L 1708.09 1013.25 L 1708.49 1000.63 L 1708.89 1013.09 L 1709.29 1005.23 L 1709.69 1012.33 L 1710.09 1004.69 L 1710.49 1011.21 L 1710.89 1004.68 L 1711.29 1012.14 L 1711.69 1002.77 L 1712.09 1011.68 L 1712.5 1003.85 L 1712.9 1011.38 L 1713.3 1002.07 L 1713.7 1011.83 L 1714.1 1004.28 L 1714.5 1011.8 L 1714.9 992.98 L 1715.3 1013.54 L 1715.7 1001.85 L 1716.1 1011.92 L 1716.5 998.79 L 1716.9 1012.3 L 1717.3 994.33 L 1717.7 1013.02 L 1718.1 1000.89 L 1718.5 1010.89 L 1718.9 999.49 L 1719.3 1010.78 L 1719.7 1003.51 L 1720.1 1012.42 L 1720.5 999.99 L 1720.9 1012.31 L 1721.3 1000.46 L 1721.7 1011.93 L 1722.1 1001.97 L 1722.5 1013.01 L 1722.9 1000.57 L 1723.3 1012.32 L 1723.7 998.48 L 1724.1 1012.37 L 1724.5 997.21 L 1724.9 1012.65 L 1725.3 1000.99 L 1725.3 1000.99 " clip-path="url(#p95d725dcbf)" style="fill: none; stroke: #000000; stroke-width: 1.6; stroke-linecap: square"/>
</g>
<g id="line2d_403">
<path d="M 1726.14 1017 L 1726.14 845 " clip-path="url(#p95d725dcbf)" style="fill: none; stroke-dasharray: 2,3.3; stroke-dashoffset: 0; stroke: #1f77b4; stroke-width: 2"/>
</g>
</g>
</g>
<defs>
<clipPath id="p9bf790744e">
<rect x="200" y="110" width="714" height="345"/>
</clipPath>
<clipPath id="p16e0fc50f1">
<rect x="959" y="110" width="17" height="345"/>
</clipPath>
<clipPath id="p64d00bf3a4">
<rect x="200" y="478" width="714" height="344"/>
</clipPath>
<clipPath id="pab1a5cea24">
<rect x="200" y="845" width="714" height="172"/>
</clipPath>
<clipPath id="p1224437e14">
<rect x="1205" y="110" width="595" height="345"/>
</clipPath>
<clipPath id="p23889eedd7">
<rect x="1205" y="478" width="595" height="344"/>
</clipPath>
<clipPath id="p95d725dcbf">
<rect x="1205" y="845" width="595" height="172"/>
</clipPath>
</defs>
<g id="customtext"><text x="536.88" y="40.80" fill="#000000" style="font-size:25.44px;font-family:'Liberation Sans',sans-serif" textLength="926.78" lengthAdjust="spacingAndGlyphs">BAS-RBM Relativistic Electron Forecast, issued at 23:10 UT, 30 October 2018</text><text x="174.55" y="92.90" fill="#000000" style="font-size:25.44px;font-family:'Liberation Sans',sans-serif" textLength="331.37" lengthAdjust="spacingAndGlyphs">2.0 MeV Electron Flux at 88</text><text x="532.12" y="92.90" fill="#000000" style="font-size:25.44px;font-family:'Liberation Sans',sans-serif" textLength="195.00" lengthAdjust="spacingAndGlyphs">pitch angle ( cm</text><text x="727.64" y="82.50" fill="#000000" style="font-size:17.81px;font-family:'Liberation Sans',sans-serif" textLength="23.34" lengthAdjust="spacingAndGlyphs">−2</text><text x="757.34" y="92.90" fill="#000000" style="font-size:25.44px;font-family:'Liberation Sans',sans-serif" textLength="11.50" lengthAdjust="spacingAndGlyphs">s</text><text x="769.52" y="82.50" fill="#000000" style="font-size:17.81px;font-family:'Liberation Sans',sans-serif" textLength="23.45" lengthAdjust="spacingAndGlyphs">−1</text><text x="799.02" y="92.90" fill="#000000" style="font-size:25.44px;font-family:'Liberation Sans',sans-serif" textLength="22.26" lengthAdjust="spacingAndGlyphs">sr</text><text x="821.62" y="82.50" fill="#000000" style="font-size:17.81px;font-family:'Liberation Sans',sans-serif" textLength="23.45" lengthAdjust="spacingAndGlyphs">−1</text><text x="851.60" y="92.90" fill="#000000" style="font-size:25.44px;font-family:'Liberation Sans',sans-serif" textLength="45.24" lengthAdjust="spacingAndGlyphs">KeV</text><text x="898.57" y="82.50" fill="#000000" style="font-size:17.81px;font-family:'Liberation Sans',sans-serif" textLength="23.45" lengthAdjust="spacingAndGlyphs">−1</text><text x="932.84" y="92.90" fill="#000000" style="font-size:25.44px;font-family:'Liberation Sans',sans-serif" textLength="6.76" lengthAdjust="spacingAndGlyphs">)</text><text transform="translate(100.50 781.13) rotate(-90)" x="0" y="0" fill="#000000" style="font-size:25.44px;font-family:'Liberation Sans',sans-serif" textLength="260.42" lengthAdjust="spacingAndGlyphs">2.0 MeV Electron Flux</text><text transform="translate(134.60 782.72) rotate(-90)" x="0" y="0" fill="#000000" style="font-size:25.44px;font-family:'Liberation Sans',sans-serif" textLength="52.95" lengthAdjust="spacingAndGlyphs">( cm</text><text transform="translate(125.10 729.76) rotate(-90)" x="0" y="0" fill="#000000" style="font-size:17.81px;font-family:'Liberation Sans',sans-serif" textLength="23.34" lengthAdjust="spacingAndGlyphs">−2</text><text transform="translate(134.60 699.91) rotate(-90)" x="0" y="0" fill="#000000" style="font-size:25.44px;font-family:'Liberation Sans',sans-serif" textLength="11.50" lengthAdjust="spacingAndGlyphs">s</text><text transform="translate(125.10 687.58) rotate(-90)" x="0" y="0" fill="#000000" style="font-size:17.81px;font-family:'Liberation Sans',sans-serif" textLength="23.45" lengthAdjust="spacingAndGlyphs">−1</text><text transform="translate(134.60 659.93) rotate(-90)" x="0" y="0" fill="#000000" style="font-size:25.44px;font-family:'Liberation Sans',sans-serif" textLength="22.26" lengthAdjust="spacingAndGlyphs">sr</text><text transform="translate(125.10 635.98) rotate(-90)" x="0" y="0" fill="#000000" style="font-size:17.81px;font-family:'Liberation Sans',sans-serif" textLength="23.45" lengthAdjust="spacingAndGlyphs">−1</text><text transform="translate(134.60 607.10) rotate(-90)" x="0" y="0" fill="#000000" style="font-size:25.44px;font-family:'Liberation Sans',sans-serif" textLength="45.24" lengthAdjust="spacingAndGlyphs">KeV</text><text transform="translate(125.10 559.63) rotate(-90)" x="0" y="0" fill="#000000" style="font-size:17.81px;font-family:'Liberation Sans',sans-serif" textLength="23.45" lengthAdjust="spacingAndGlyphs">−1</text><text transform="translate(134.60 525.26) rotate(-90)" x="0" y="0" fill="#000000" style="font-size:25.44px;font-family:'Liberation Sans',sans-serif" textLength="6.76" lengthAdjust="spacingAndGlyphs">)</text><text transform="translate(172.70 298.56) rotate(-90)" x="0" y="0" fill="#000000" style="font-size:25.44px;font-family:'Liberation Sans',sans-serif" textLength="24.87" lengthAdjust="spacingAndGlyphs">L*</text><text transform="translate(172.80 950.14) rotate(-90)" x="0" y="0" fill="#000000" style="font-size:25.44px;font-family:'Liberation Sans',sans-serif" textLength="30.39" lengthAdjust="spacingAndGlyphs">Kp</text><text transform="translate(1116.00 321.91) rotate(-90)" x="0" y="0" fill="#000000" style="font-size:25.44px;font-family:'Liberation Sans',sans-serif" textLength="79.26" lengthAdjust="spacingAndGlyphs">IMF Bz</text><text transform="translate(1145.90 313.60) rotate(-90)" x="0" y="0" fill="#000000" style="font-size:25.44px;font-family:'Liberation Sans',sans-serif" textLength="63.00" lengthAdjust="spacingAndGlyphs">( nT )</text><text transform="translate(1879.40 355.00) rotate(-90)" x="0" y="0" fill="#ff0000" style="font-size:25.44px;font-family:'Liberation Sans',sans-serif" textLength="141.95" lengthAdjust="spacingAndGlyphs">SW Velocity</text><text transform="translate(1911.80 339.40) rotate(-90)" x="0" y="0" fill="#ff0000" style="font-size:25.44px;font-family:'Liberation Sans',sans-serif" textLength="53.70" lengthAdjust="spacingAndGlyphs">( km</text><text transform="translate(1911.80 280.81) rotate(-90)" x="0" y="0" fill="#ff0000" style="font-size:25.44px;font-family:'Liberation Sans',sans-serif" textLength="11.50" lengthAdjust="spacingAndGlyphs">s</text><text transform="translate(1901.60 268.38) rotate(-90)" x="0" y="0" fill="#ff0000" style="font-size:17.81px;font-family:'Liberation Sans',sans-serif" textLength="23.45" lengthAdjust="spacingAndGlyphs">−1</text><text transform="translate(1911.80 232.21) rotate(-90)" x="0" y="0" fill="#ff0000" style="font-size:25.44px;font-family:'Liberation Sans',sans-serif" textLength="6.76" lengthAdjust="spacingAndGlyphs">)</text><text transform="translate(1105.00 673.21) rotate(-90)" x="0" y="0" fill="#000000" style="font-size:25.44px;font-family:'Liberation Sans',sans-serif" textLength="39.84" lengthAdjust="spacingAndGlyphs">Dst</text><text transform="translate(1132.70 681.95) rotate(-90)" x="0" y="0" fill="#000000" style="font-size:25.44px;font-family:'Liberation Sans',sans-serif" textLength="63.00" lengthAdjust="spacingAndGlyphs">( nT )</text><text transform="translate(1874.70 725.36) rotate(-90)" x="0" y="0" fill="#ff0000" style="font-size:25.44px;font-family:'Liberation Sans',sans-serif" textLength="150.70" lengthAdjust="spacingAndGlyphs">SW Pressure</text><text transform="translate(1904.90 688.72) rotate(-90)" x="0" y="0" fill="#ff0000" style="font-size:25.44px;font-family:'Liberation Sans',sans-serif" textLength="78.23" lengthAdjust="spacingAndGlyphs">( nPa )</text><text transform="translate(1105.40 1057.72) rotate(-90)" x="0" y="0" fill="#000000" style="font-size:25.44px;font-family:'Liberation Sans',sans-serif" textLength="252.11" lengthAdjust="spacingAndGlyphs">&gt;10 MeV Proton Flux</text><text transform="translate(1138.60 1018.62) rotate(-90)" x="0" y="0" fill="#000000" style="font-size:25.44px;font-family:'Liberation Sans',sans-serif" textLength="52.95" lengthAdjust="spacingAndGlyphs">( cm</text><text transform="translate(1128.80 965.95) rotate(-90)" x="0" y="0" fill="#000000" style="font-size:17.81px;font-family:'Liberation Sans',sans-serif" textLength="9.49" lengthAdjust="spacingAndGlyphs">2</text><text transform="translate(1138.60 949.56) rotate(-90)" x="0" y="0" fill="#000000" style="font-size:25.44px;font-family:'Liberation Sans',sans-serif" textLength="11.50" lengthAdjust="spacingAndGlyphs">s</text><text transform="translate(1128.80 937.38) rotate(-90)" x="0" y="0" fill="#000000" style="font-size:17.81px;font-family:'Liberation Sans',sans-serif" textLength="23.45" lengthAdjust="spacingAndGlyphs">−1</text><text transform="translate(1138.60 908.28) rotate(-90)" x="0" y="0" fill="#000000" style="font-size:25.44px;font-family:'Liberation Sans',sans-serif" textLength="22.26" lengthAdjust="spacingAndGlyphs">sr</text><text transform="translate(1128.80 884.98) rotate(-90)" x="0" y="0" fill="#000000" style="font-size:17.81px;font-family:'Liberation Sans',sans-serif" textLength="23.45" lengthAdjust="spacingAndGlyphs">−1</text><text transform="translate(1138.60 850.71) rotate(-90)" x="0" y="0" fill="#000000" style="font-size:25.44px;font-family:'Liberation Sans',sans-serif" textLength="6.76" lengthAdjust="spacingAndGlyphs">)</text><text x="444.33" y="1065.70" fill="#000000" style="font-size:25.44px;font-family:'Liberation Sans',sans-serif" textLength="224.34" lengthAdjust="spacingAndGlyphs">October 2018 (UT)</text><text x="1389.52" y="1065.80" fill="#000000" style="font-size:25.44px;font-family:'Liberation Sans',sans-serif" textLength="224.44" lengthAdjust="spacingAndGlyphs">October 2018 (UT)</text><text x="235.30" y="511.40" fill="#000000" style="font-size:25.44px;font-family:'Liberation Sans',sans-serif" textLength="242.84" lengthAdjust="spacingAndGlyphs">Geostationary orbit:</text><text x="499.02" y="511.40" fill="#ff0000" style="font-size:25.44px;font-family:'Liberation Sans',sans-serif" textLength="72.36" lengthAdjust="spacingAndGlyphs">Model</text><circle cx="515.2" cy="77.5" r="2.35" fill="none" stroke="#000" stroke-width="1.15"/></g></svg>

</body></html>
